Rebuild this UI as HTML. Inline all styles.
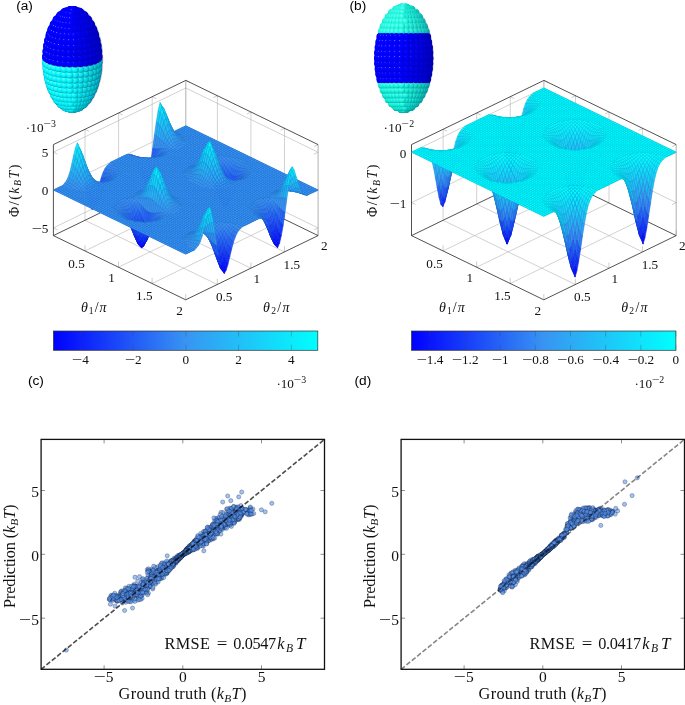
<!DOCTYPE html>
<html lang="en"><head><meta charset="utf-8"><title>Figure</title>
<style>
html,body{margin:0;padding:0;background:#fff}
svg{display:block}
text{font-family:"Liberation Serif","DejaVu Serif",serif;fill:#111}
.t text{font-size:13.2px}
.t .l{font-size:14px}
.u text{font-size:15.5px}
.v text{font-size:16.3px}
.s text{font-family:"Liberation Sans","DejaVu Sans",sans-serif;font-size:13.7px;fill:#000}
.i{font-style:italic}
.sb{fill:url(#gb)}
.sg{fill:url(#gg)}
.sd{fill:url(#gd)}
.se{fill:url(#ge)}
.sc{fill:url(#gc)}
circle{r:3.7px}
.p circle{r:2.1px;fill:#5b96f0;fill-opacity:.58;stroke:#071430;stroke-opacity:.8;stroke-width:.36}
.m path{stroke-width:.6;stroke-linejoin:round}
.m .ff{fill:none;stroke-width:0.01056;stroke-dasharray:0.01056 0.00333;stroke-linejoin:miter}
.m .fg{fill:none;stroke-width:0.01444;stroke-linejoin:miter}
.pa .ff{stroke:#3894f2;transform:matrix(132.3,64.2,132.4,-64.2,53.4,190.02)}
.pb .ff{stroke:#0ff;transform:matrix(132.3,64.2,132.4,-64.2,411.5,152.18)}
.pa .fg{stroke:#2474d3;transform:matrix(132.3,64.2,132.4,-64.2,53.4,190.02)}
.pb .fg{stroke:#00c9df;transform:matrix(132.3,64.2,132.4,-64.2,411.5,152.18)}
.pa .b{fill:#0206fe;stroke:#0104de}
.pa .c{fill:#040cfe;stroke:#0209de}
.pa .d{fill:#0711fd;stroke:#040ddd}
.pa .e{fill:#0917fd;stroke:#0512dd}
.pa .g{fill:#0b1dfc;stroke:#0716dc}
.pa .i{fill:#0f29fb;stroke:#0920db}
.pa .j{fill:#122efb;stroke:#0b24db}
.pa .k{fill:#1434fa;stroke:#0d29da}
.pa .l{fill:#163afa;stroke:#0e2dda}
.pa .m{fill:#1840f9;stroke:#0f32d9}
.pa .n{fill:#1a46f9;stroke:#1137d9}
.pa .o{fill:#1d4bf8;stroke:#133bd9}
.pa .p{fill:#1f51f8;stroke:#143fd9}
.pa .q{fill:#2157f7;stroke:#1544d8}
.pa .r{fill:#235df7;stroke:#1749d8}
.pa .s{fill:#2563f6;stroke:#184ed7}
.pa .t{fill:#2868f6;stroke:#1a52d7}
.pa .u{fill:#2a6ef5;stroke:#1b56d6}
.pa .v{fill:#2c74f5;stroke:#1d5bd6}
.pa .w{fill:#2e7af4;stroke:#1e60d5}
.pa .x{fill:#3080f4;stroke:#1f65d5}
.pa .y{fill:#3385f3;stroke:#2169d4}
.pa .z{fill:#358bf3;stroke:#226dd4}
.pa .A{fill:#3791f2;stroke:#2472d3}
.pa .B{fill:#3796f2;stroke:#2476d3}
.pa .C{fill:#359af3;stroke:#2279d4}
.pa .D{fill:#339ef3;stroke:#217cd4}
.pa .E{fill:#30a3f4;stroke:#1f80d5}
.pa .F{fill:#2ea7f4;stroke:#1e83d5}
.pa .G{fill:#2cabf5;stroke:#1d87d6}
.pa .H{fill:#2aaff5;stroke:#1b8ad6}
.pa .I{fill:#28b3f6;stroke:#1a8dd7}
.pa .J{fill:#25b8f6;stroke:#1891d7}
.pa .K{fill:#23bcf7;stroke:#1794d8}
.pa .M{fill:#1fc4f8;stroke:#149ad9}
.pa .N{fill:#1dc8f8;stroke:#139ed9}
.pa .O{fill:#1acdf9;stroke:#11a1d9}
.pa .P{fill:#18d1f9;stroke:#0fa5d9}
.pa .Q{fill:#16d5fa;stroke:#0ea8da}
.pa .R{fill:#14d9fa;stroke:#0dabda}
.pa .S{fill:#12ddfb;stroke:#0baedb}
.pa .T{fill:#0fe2fb;stroke:#09b2db}
.pa .U{fill:#0de6fc;stroke:#08b5dc}
.pa .V{fill:#0beafc;stroke:#07b8dc}
.pa .W{fill:#09eefd;stroke:#05bcdd}
.pb .d{fill:#0711fd;stroke:#040ddd}
.pb .j{fill:#122efb;stroke:#0b24db}
.pb .m{fill:#1840f9;stroke:#0f32d9}
.pb .n{fill:#1a46f9;stroke:#1137d9}
.pb .p{fill:#1f51f8;stroke:#143fd9}
.pb .q{fill:#2157f7;stroke:#1544d8}
.pb .s{fill:#2563f6;stroke:#184ed7}
.pb .x{fill:#3080f4;stroke:#1f65d5}
.pb .z{fill:#358bf3;stroke:#226dd4}
.pb .C{fill:#359af3;stroke:#2279d4}
.pb .D{fill:#339ef3;stroke:#217cd4}
.pb .E{fill:#30a3f4;stroke:#1f80d5}
.pb .F{fill:#2ea7f4;stroke:#1e83d5}
.pb .G{fill:#2cabf5;stroke:#1d87d6}
.pb .H{fill:#2aaff5;stroke:#1b8ad6}
.pb .I{fill:#28b3f6;stroke:#1a8dd7}
.pb .J{fill:#25b8f6;stroke:#1891d7}
.pb .L{fill:#21c0f7;stroke:#1597d8}
.pb .M{fill:#1fc4f8;stroke:#149ad9}
.pb .O{fill:#1acdf9;stroke:#11a1d9}
.pb .P{fill:#18d1f9;stroke:#0fa5d9}
.pb .Q{fill:#16d5fa;stroke:#0ea8da}
.pb .R{fill:#14d9fa;stroke:#0dabda}
.pb .S{fill:#12ddfb;stroke:#0baedb}
.pb .T{fill:#0fe2fb;stroke:#09b2db}
.pb .U{fill:#0de6fc;stroke:#08b5dc}
.pb .V{fill:#0beafc;stroke:#07b8dc}
.pb .W{fill:#09eefd;stroke:#05bcdd}
.pb .X{fill:#07f2fd;stroke:#04bfdd}
.pb .Y{fill:#04f7fe;stroke:#02c3de}
.pb .Z{fill:#02fbfe;stroke:#01c6de}
.pb ._{fill:#0ff;stroke:#00c9df}
</style></head>
<body>
<svg width="685" height="705" viewBox="0 0 685 705">
<defs><radialGradient id="gd" cx=".38" cy=".36" r=".62" fx=".3" fy=".28">
<stop offset="0" stop-color="#0808ff"/><stop offset=".6" stop-color="#0000fb"/><stop offset="1" stop-color="#0000d6"/></radialGradient>
<radialGradient id="ge" cx=".38" cy=".36" r=".62" fx=".3" fy=".28">
<stop offset="0" stop-color="#4040ff"/><stop offset=".1" stop-color="#1515ff"/><stop offset=".2" stop-color="#0303ff"/><stop offset=".6" stop-color="#0000fb"/><stop offset="1" stop-color="#0000d6"/></radialGradient>
<radialGradient id="gb" cx=".38" cy=".36" r=".62" fx=".3" fy=".28">
<stop offset="0" stop-color="#7878ff"/><stop offset=".1" stop-color="#2a2aff"/><stop offset=".2" stop-color="#0505ff"/><stop offset=".6" stop-color="#0000fb"/><stop offset="1" stop-color="#0000d6"/></radialGradient>
<radialGradient id="gg" cx=".42" cy=".38" r=".64" fx=".38" fy=".3">
<stop offset="0" stop-color="#70fff0"/><stop offset=".4" stop-color="#2efce2"/><stop offset=".75" stop-color="#10e4d0"/><stop offset="1" stop-color="#00b0aa"/></radialGradient>
<radialGradient id="gc" cx=".42" cy=".4" r=".62" fx=".36" fy=".33">
<stop offset="0" stop-color="#6affff"/><stop offset=".4" stop-color="#14fbfd"/><stop offset=".75" stop-color="#00e2ea"/><stop offset="1" stop-color="#00a4b4"/></radialGradient>
<linearGradient id="sh"><stop offset=".5" stop-color="#000030" stop-opacity="0"/><stop offset="1" stop-color="#000030" stop-opacity=".26"/></linearGradient>
<linearGradient id="ga"><stop offset="0" stop-color="#00f"/><stop offset=".5" stop-color="#3894f2"/><stop offset="1" stop-color="#0ff"/></linearGradient>
<linearGradient id="gb2"><stop offset="0" stop-color="#00f"/><stop offset=".5" stop-color="#3894f2"/><stop offset="1" stop-color="#0ff"/></linearGradient></defs>
<rect width="685" height="705" fill="#fff"/>
<g>
<ellipse cx="72.3" cy="59.5" rx="29.9" ry="53.3" fill="#0000e6"/>
<path d="M102.2 60A29.9 53.3 0 0 0 42.4 60z" fill="#00d8e4"/>
<ellipse cx="403.7" cy="58.2" rx="29.2" ry="54.1" fill="#14dccc"/>
<path d="M429.9 34.2A29.2 54.1 0 0 1 429.4 84L378 84A29.2 54.1 0 0 1 377.5 34.2z" fill="#0000e6"/>
<circle class="sc" cx="70.4" cy="109.1"/>
<circle class="sc" cx="74.2" cy="109.1"/>
<circle class="sc" cx="70.9" cy="109.2"/>
<circle class="sc" cx="73.7" cy="109.2"/>
<circle class="sc" cx="73.2" cy="109.3"/>
<circle class="sc" cx="71.4" cy="109.3"/>
<circle class="sc" cx="72" cy="109.3"/>
<circle class="sc" cx="72.6" cy="109.3"/>
<circle class="sc" cx="79.7" cy="107.4"/>
<circle class="sc" cx="64.9" cy="107.4"/>
<circle class="sc" cx="60.1" cy="103.8"/>
<circle class="sc" cx="84.5" cy="103.8"/>
<circle class="sc" cx="78.8" cy="107.8"/>
<circle class="sc" cx="65.8" cy="107.8"/>
<circle class="sc" cx="93.6" cy="89.1"/>
<circle class="sc" cx="51" cy="89.1"/>
<circle class="sc" cx="56.6" cy="99.7"/>
<circle class="sc" cx="88" cy="99.7"/>
<circle class="sc" cx="66.9" cy="108.1"/>
<circle class="sc" cx="77.7" cy="108.1"/>
<circle class="sc" cx="83.7" cy="104.4"/>
<circle class="sc" cx="60.9" cy="104.4"/>
<circle class="sc" cx="95.4" cy="83.9"/>
<circle class="sc" cx="49.2" cy="83.9"/>
<circle class="sc" cx="68.3" cy="108.4"/>
<circle class="sc" cx="76.3" cy="108.4"/>
<circle class="sc" cx="53.7" cy="95.1"/>
<circle class="sc" cx="90.9" cy="95.1"/>
<circle class="sc" cx="74.8" cy="108.6"/>
<circle class="sc" cx="69.8" cy="108.6"/>
<circle class="sc" cx="73.1" cy="108.7"/>
<circle class="sc" cx="71.5" cy="108.7"/>
<circle class="sc" cx="96.8" cy="78.6"/>
<circle class="sc" cx="47.8" cy="78.6"/>
<circle class="sc" cx="82.4" cy="105"/>
<circle class="sc" cx="62.2" cy="105"/>
<circle class="sc" cx="87" cy="100.6"/>
<circle class="sc" cx="57.6" cy="100.6"/>
<circle class="sc" cx="51.5" cy="90.3"/>
<circle class="sc" cx="93.1" cy="90.3"/>
<circle class="sc" cx="97.9" cy="73.2"/>
<circle class="sc" cx="46.7" cy="73.2"/>
<circle class="sc" cx="63.9" cy="105.5"/>
<circle class="sc" cx="80.7" cy="105.5"/>
<circle class="sc" cx="98.5" cy="67.7"/>
<circle class="sc" cx="46.1" cy="67.7"/>
<circle class="sc" cx="89.6" cy="96.1"/>
<circle class="sc" cx="55" cy="96.1"/>
<circle class="sc" cx="49.7" cy="85.2"/>
<circle class="sc" cx="94.9" cy="85.2"/>
<circle class="sc" cx="85.3" cy="101.3"/>
<circle class="sc" cx="59.3" cy="101.3"/>
<circle class="sc" cx="66.1" cy="106"/>
<circle class="sc" cx="78.5" cy="106"/>
<circle class="sc" cx="98.9" cy="62.2"/>
<circle class="sc" cx="45.7" cy="62.2"/>
<circle class="sc" cx="76.2" cy="106.2"/>
<circle class="sc" cx="68.4" cy="106.2"/>
<circle class="sc" cx="48.3" cy="79.9"/>
<circle class="sc" cx="96.3" cy="79.9"/>
<circle class="sc" cx="71" cy="106.4"/>
<circle class="sc" cx="73.6" cy="106.4"/>
<circle class="sc" cx="91.8" cy="91.4"/>
<circle class="sc" cx="52.8" cy="91.4"/>
<circle class="sc" cx="61.5" cy="102"/>
<circle class="sc" cx="83.1" cy="102"/>
<circle class="sd" cx="98.9" cy="56.8"/>
<circle class="sb" cx="45.7" cy="56.8"/>
<circle class="sc" cx="87.6" cy="97.1"/>
<circle class="sc" cx="57" cy="97.1"/>
<circle class="sc" cx="47.3" cy="74.6"/>
<circle class="sc" cx="97.3" cy="74.6"/>
<circle class="sd" cx="94.9" cy="33.8"/>
<circle class="sb" cx="49.7" cy="33.8"/>
<circle class="sd" cx="98.5" cy="51.3"/>
<circle class="sb" cx="46.1" cy="51.3"/>
<circle class="sc" cx="93.4" cy="86.4"/>
<circle class="sc" cx="51.2" cy="86.4"/>
<circle class="sc" cx="64.3" cy="102.5"/>
<circle class="sc" cx="80.3" cy="102.5"/>
<circle class="sc" cx="46.6" cy="69.2"/>
<circle class="sc" cx="98" cy="69.2"/>
<circle class="sd" cx="97.9" cy="45.8"/>
<circle class="sb" cx="46.7" cy="45.8"/>
<circle class="sc" cx="77.3" cy="102.9"/>
<circle class="sc" cx="67.3" cy="102.9"/>
<circle class="sc" cx="89.5" cy="92.4"/>
<circle class="sc" cx="55.1" cy="92.4"/>
<circle class="sd" cx="93.1" cy="28.7"/>
<circle class="sb" cx="51.5" cy="28.7"/>
<circle class="sc" cx="59.6" cy="97.9"/>
<circle class="sc" cx="85" cy="97.9"/>
<circle class="sc" cx="94.7" cy="81.2"/>
<circle class="sc" cx="49.9" cy="81.2"/>
<circle class="sc" cx="74" cy="103.1"/>
<circle class="sc" cx="70.6" cy="103.1"/>
<circle class="sc" cx="46.3" cy="63.7"/>
<circle class="sc" cx="98.3" cy="63.7"/>
<circle class="sd" cx="96.8" cy="40.4"/>
<circle class="sb" cx="47.8" cy="40.4"/>
<circle class="sd" cx="90.9" cy="23.9"/>
<circle class="sb" cx="53.7" cy="23.9"/>
<circle class="sb" cx="46.3" cy="58.2"/>
<circle class="sd" cx="98.3" cy="58.2"/>
<circle class="sc" cx="95.6" cy="75.9"/>
<circle class="sc" cx="49" cy="75.9"/>
<circle class="sc" cx="62.8" cy="98.5"/>
<circle class="sc" cx="81.8" cy="98.5"/>
<circle class="sc" cx="91" cy="87.5"/>
<circle class="sc" cx="53.6" cy="87.5"/>
<circle class="sd" cx="95.4" cy="35.1"/>
<circle class="sb" cx="49.2" cy="35.1"/>
<circle class="sc" cx="58.1" cy="93.3"/>
<circle class="sc" cx="86.5" cy="93.3"/>
<circle class="sd" cx="83.7" cy="14.6"/>
<circle class="sb" cx="60.9" cy="14.6"/>
<circle class="sb" cx="46.6" cy="52.7"/>
<circle class="sd" cx="98" cy="52.7"/>
<circle class="sd" cx="88" cy="19.3"/>
<circle class="sb" cx="56.6" cy="19.3"/>
<circle class="sc" cx="78.2" cy="98.9"/>
<circle class="sc" cx="66.4" cy="98.9"/>
<circle class="sc" cx="96.3" cy="70.6"/>
<circle class="sc" cx="48.3" cy="70.6"/>
<circle class="sd" cx="93.6" cy="29.9"/>
<circle class="sb" cx="51" cy="29.9"/>
<circle class="sd" cx="78.8" cy="11.2"/>
<circle class="sb" cx="65.8" cy="11.2"/>
<circle class="sc" cx="70.3" cy="99.1"/>
<circle class="sc" cx="74.3" cy="99.1"/>
<circle class="sc" cx="92.1" cy="82.4"/>
<circle class="sc" cx="52.5" cy="82.4"/>
<circle class="sb" cx="47.3" cy="47.3"/>
<circle class="sd" cx="97.3" cy="47.3"/>
<circle class="sc" cx="61.7" cy="94"/>
<circle class="sc" cx="82.9" cy="94"/>
<circle class="sd" cx="84.5" cy="15.2"/>
<circle class="sb" cx="60.1" cy="15.2"/>
<circle class="sd" cx="91.3" cy="24.9"/>
<circle class="sb" cx="53.3" cy="24.9"/>
<circle class="sc" cx="96.6" cy="65.1"/>
<circle class="sc" cx="48" cy="65.1"/>
<circle class="sc" cx="56.8" cy="88.5"/>
<circle class="sc" cx="87.8" cy="88.5"/>
<circle class="sd" cx="79.7" cy="11.6"/>
<circle class="sb" cx="64.9" cy="11.6"/>
<circle class="sb" cx="48.3" cy="41.8"/>
<circle class="sd" cx="96.3" cy="41.8"/>
<circle class="sc" cx="93" cy="77.2"/>
<circle class="sc" cx="51.6" cy="77.2"/>
<circle class="se" cx="72" cy="9.7"/>
<circle class="se" cx="72.6" cy="9.7"/>
<circle class="sd" cx="88.4" cy="20.2"/>
<circle class="sb" cx="56.2" cy="20.2"/>
<circle class="se" cx="73.2" cy="9.7"/>
<circle class="sb" cx="71.4" cy="9.7"/>
<circle class="sd" cx="96.6" cy="59.6"/>
<circle class="sb" cx="48" cy="59.6"/>
<circle class="sb" cx="70.9" cy="9.8"/>
<circle class="se" cx="73.7" cy="9.8"/>
<circle class="sc" cx="78.9" cy="94.5"/>
<circle class="sc" cx="65.7" cy="94.5"/>
<circle class="sb" cx="49.7" cy="36.4"/>
<circle class="sd" cx="94.9" cy="36.4"/>
<circle class="sd" cx="80.2" cy="12"/>
<circle class="sb" cx="64.4" cy="12"/>
<circle class="sb" cx="70.4" cy="9.9"/>
<circle class="se" cx="74.2" cy="9.9"/>
<circle class="sb" cx="70" cy="10"/>
<circle class="se" cx="74.6" cy="10"/>
<circle class="sd" cx="84.8" cy="15.9"/>
<circle class="sb" cx="59.8" cy="15.9"/>
<circle class="sc" cx="70.1" cy="94.7"/>
<circle class="sc" cx="74.5" cy="94.7"/>
<circle class="sc" cx="55.9" cy="83.4"/>
<circle class="sc" cx="88.7" cy="83.4"/>
<circle class="sb" cx="51.5" cy="31.1"/>
<circle class="sd" cx="93.1" cy="31.1"/>
<circle class="se" cx="74.9" cy="10.1"/>
<circle class="sb" cx="69.7" cy="10.1"/>
<circle class="sc" cx="60.7" cy="89.2"/>
<circle class="sc" cx="83.9" cy="89.2"/>
<circle class="sd" cx="96.3" cy="54.1"/>
<circle class="sb" cx="48.3" cy="54.1"/>
<circle class="sc" cx="93.5" cy="71.8"/>
<circle class="sc" cx="51.1" cy="71.8"/>
<circle class="sd" cx="80.4" cy="12.5"/>
<circle class="sb" cx="64.2" cy="12.5"/>
<circle class="se" cx="75.1" cy="10.3"/>
<circle class="sb" cx="69.5" cy="10.3"/>
<circle class="sb" cx="53.7" cy="26"/>
<circle class="sd" cx="90.9" cy="26"/>
<circle class="sb" cx="69.5" cy="10.4"/>
<circle class="se" cx="75.1" cy="10.4"/>
<circle class="sd" cx="95.6" cy="48.6"/>
<circle class="sb" cx="49" cy="48.6"/>
<circle class="sb" cx="56.6" cy="21.1"/>
<circle class="sd" cx="88" cy="21.1"/>
<circle class="sb" cx="69.5" cy="10.6"/>
<circle class="se" cx="75.1" cy="10.6"/>
<circle class="sc" cx="93.8" cy="66.4"/>
<circle class="sc" cx="50.8" cy="66.4"/>
<circle class="sc" cx="79.4" cy="89.8"/>
<circle class="sc" cx="65.2" cy="89.8"/>
<circle class="sc" cx="55.2" cy="78.2"/>
<circle class="sc" cx="89.4" cy="78.2"/>
<circle class="sb" cx="60.1" cy="16.6"/>
<circle class="sd" cx="84.5" cy="16.6"/>
<circle class="sb" cx="64.4" cy="12.9"/>
<circle class="sd" cx="80.2" cy="12.9"/>
<circle class="se" cx="74.9" cy="10.7"/>
<circle class="sb" cx="69.7" cy="10.7"/>
<circle class="sd" cx="94.7" cy="43.1"/>
<circle class="sb" cx="49.9" cy="43.1"/>
<circle class="sc" cx="60" cy="84.2"/>
<circle class="sc" cx="84.6" cy="84.2"/>
<circle class="sb" cx="70" cy="10.9"/>
<circle class="se" cx="74.6" cy="10.9"/>
<circle class="sc" cx="74.7" cy="90"/>
<circle class="sc" cx="69.9" cy="90"/>
<circle class="sb" cx="70.4" cy="11"/>
<circle class="se" cx="74.2" cy="11"/>
<circle class="sd" cx="93.8" cy="60.9"/>
<circle class="sb" cx="50.8" cy="60.9"/>
<circle class="sd" cx="93.4" cy="37.6"/>
<circle class="sb" cx="51.2" cy="37.6"/>
<circle class="sb" cx="70.9" cy="11.1"/>
<circle class="sb" cx="73.7" cy="11.1"/>
<circle class="sb" cx="71.4" cy="11.2"/>
<circle class="sb" cx="73.2" cy="11.2"/>
<circle class="se" cx="79.7" cy="13.4"/>
<circle class="sb" cx="64.9" cy="13.4"/>
<circle class="sb" cx="72" cy="11.2"/>
<circle class="sb" cx="72.6" cy="11.2"/>
<circle class="sc" cx="54.7" cy="72.9"/>
<circle class="sc" cx="89.9" cy="72.9"/>
<circle class="sd" cx="91.8" cy="32.2"/>
<circle class="sb" cx="52.8" cy="32.2"/>
<circle class="sd" cx="83.7" cy="17.3"/>
<circle class="sb" cx="60.9" cy="17.3"/>
<circle class="sd" cx="89.6" cy="27"/>
<circle class="sb" cx="55" cy="27"/>
<circle class="sd" cx="93.5" cy="55.4"/>
<circle class="sb" cx="51.1" cy="55.4"/>
<circle class="sc" cx="79.9" cy="84.8"/>
<circle class="sc" cx="64.7" cy="84.8"/>
<circle class="sd" cx="87" cy="21.9"/>
<circle class="sb" cx="57.6" cy="21.9"/>
<circle class="sc" cx="59.5" cy="79.1"/>
<circle class="sc" cx="85.1" cy="79.1"/>
<circle class="sb" cx="65.8" cy="13.8"/>
<circle class="se" cx="78.8" cy="13.8"/>
<circle class="sc" cx="74.9" cy="85.1"/>
<circle class="sc" cx="69.7" cy="85.1"/>
<circle class="sc" cx="54.5" cy="67.5"/>
<circle class="sc" cx="90.1" cy="67.5"/>
<circle class="sd" cx="93" cy="49.8"/>
<circle class="sb" cx="51.6" cy="49.8"/>
<circle class="sb" cx="66.9" cy="14.1"/>
<circle class="se" cx="77.7" cy="14.1"/>
<circle class="sd" cx="82.4" cy="17.9"/>
<circle class="sb" cx="62.2" cy="17.9"/>
<circle class="sd" cx="92.1" cy="44.3"/>
<circle class="sb" cx="52.5" cy="44.3"/>
<circle class="sc" cx="59.2" cy="73.8"/>
<circle class="sc" cx="85.4" cy="73.8"/>
<circle class="sc" cx="80.2" cy="79.7"/>
<circle class="sc" cx="64.4" cy="79.7"/>
<circle class="sb" cx="68.3" cy="14.4"/>
<circle class="se" cx="76.3" cy="14.4"/>
<circle class="sb" cx="54.5" cy="62"/>
<circle class="sd" cx="90.1" cy="62"/>
<circle class="sd" cx="91" cy="38.8"/>
<circle class="sb" cx="53.6" cy="38.8"/>
<circle class="sd" cx="85.3" cy="22.7"/>
<circle class="sb" cx="59.3" cy="22.7"/>
<circle class="sd" cx="89.5" cy="33.3"/>
<circle class="sb" cx="55.1" cy="33.3"/>
<circle class="sd" cx="87.6" cy="27.9"/>
<circle class="sb" cx="57" cy="27.9"/>
<circle class="sb" cx="69.8" cy="14.5"/>
<circle class="sb" cx="74.8" cy="14.5"/>
<circle class="sc" cx="75" cy="80"/>
<circle class="sc" cx="69.6" cy="80"/>
<circle class="sb" cx="73.1" cy="14.6"/>
<circle class="sb" cx="71.5" cy="14.6"/>
<circle class="sb" cx="63.9" cy="18.4"/>
<circle class="se" cx="80.7" cy="18.4"/>
<circle class="sb" cx="54.7" cy="56.5"/>
<circle class="sd" cx="89.9" cy="56.5"/>
<circle class="sc" cx="59" cy="68.4"/>
<circle class="sc" cx="85.6" cy="68.4"/>
<circle class="sc" cx="64.2" cy="74.4"/>
<circle class="sc" cx="80.4" cy="74.4"/>
<circle class="sb" cx="55.2" cy="50.9"/>
<circle class="sd" cx="89.4" cy="50.9"/>
<circle class="sb" cx="61.5" cy="23.4"/>
<circle class="sd" cx="83.1" cy="23.4"/>
<circle class="sb" cx="66.1" cy="18.8"/>
<circle class="se" cx="78.5" cy="18.8"/>
<circle class="sc" cx="75" cy="74.7"/>
<circle class="sc" cx="69.6" cy="74.7"/>
<circle class="sb" cx="55.9" cy="45.3"/>
<circle class="sd" cx="88.7" cy="45.3"/>
<circle class="sb" cx="59" cy="62.9"/>
<circle class="sd" cx="85.6" cy="62.9"/>
<circle class="sb" cx="59.6" cy="28.7"/>
<circle class="sd" cx="85" cy="28.7"/>
<circle class="sb" cx="56.8" cy="39.7"/>
<circle class="sd" cx="87.8" cy="39.7"/>
<circle class="sb" cx="58.1" cy="34.2"/>
<circle class="sd" cx="86.5" cy="34.2"/>
<circle class="sb" cx="68.4" cy="19.1"/>
<circle class="sb" cx="76.2" cy="19.1"/>
<circle class="sc" cx="80.5" cy="69"/>
<circle class="sc" cx="64.1" cy="69"/>
<circle class="sb" cx="73.6" cy="19.3"/>
<circle class="sb" cx="71" cy="19.3"/>
<circle class="sb" cx="59.2" cy="57.3"/>
<circle class="sd" cx="85.4" cy="57.3"/>
<circle class="sb" cx="64.3" cy="23.9"/>
<circle class="se" cx="80.3" cy="23.9"/>
<circle class="sc" cx="69.5" cy="69.3"/>
<circle class="sc" cx="75.1" cy="69.3"/>
<circle class="se" cx="80.5" cy="63.5"/>
<circle class="sb" cx="64.1" cy="63.5"/>
<circle class="sb" cx="59.5" cy="51.7"/>
<circle class="sd" cx="85.1" cy="51.7"/>
<circle class="sb" cx="62.8" cy="29.3"/>
<circle class="se" cx="81.8" cy="29.3"/>
<circle class="se" cx="77.3" cy="24.3"/>
<circle class="sb" cx="67.3" cy="24.3"/>
<circle class="sb" cx="60" cy="46.1"/>
<circle class="sd" cx="84.6" cy="46.1"/>
<circle class="sb" cx="61.7" cy="34.9"/>
<circle class="se" cx="82.9" cy="34.9"/>
<circle class="sb" cx="60.7" cy="40.5"/>
<circle class="se" cx="83.9" cy="40.5"/>
<circle class="sb" cx="69.5" cy="63.8"/>
<circle class="se" cx="75.1" cy="63.8"/>
<circle class="sb" cx="74" cy="24.5"/>
<circle class="sb" cx="70.6" cy="24.5"/>
<circle class="sb" cx="64.2" cy="57.9"/>
<circle class="se" cx="80.4" cy="57.9"/>
<circle class="sb" cx="66.4" cy="29.7"/>
<circle class="se" cx="78.2" cy="29.7"/>
<circle class="sb" cx="64.4" cy="52.3"/>
<circle class="se" cx="80.2" cy="52.3"/>
<circle class="se" cx="75" cy="58.2"/>
<circle class="sb" cx="69.6" cy="58.2"/>
<circle class="se" cx="78.9" cy="35.3"/>
<circle class="sb" cx="65.7" cy="35.3"/>
<circle class="se" cx="79.9" cy="46.7"/>
<circle class="sb" cx="64.7" cy="46.7"/>
<circle class="sb" cx="74.3" cy="30"/>
<circle class="sb" cx="70.3" cy="30"/>
<circle class="se" cx="79.4" cy="41"/>
<circle class="sb" cx="65.2" cy="41"/>
<circle class="sb" cx="75" cy="52.6"/>
<circle class="sb" cx="69.6" cy="52.6"/>
<circle class="sb" cx="70.1" cy="35.6"/>
<circle class="sb" cx="74.5" cy="35.6"/>
<circle class="sb" cx="74.9" cy="47"/>
<circle class="sb" cx="69.7" cy="47"/>
<circle class="sb" cx="69.9" cy="41.3"/>
<circle class="sb" cx="74.7" cy="41.3"/>
<circle class="sg" cx="411.2" cy="106.9"/>
<circle class="sg" cx="396.2" cy="106.9"/>
<circle class="sg" cx="411.2" cy="9.5"/>
<circle class="sg" cx="396.2" cy="9.5"/>
<circle class="sg" cx="405.9" cy="108.9"/>
<circle class="sg" cx="405.9" cy="7.5"/>
<circle class="sg" cx="401.5" cy="108.9"/>
<circle class="sg" cx="401.5" cy="7.5"/>
<circle class="sg" cx="406.1" cy="108.9"/>
<circle class="sg" cx="406.1" cy="7.5"/>
<circle class="sg" cx="401.3" cy="108.9"/>
<circle class="sg" cx="401.3" cy="7.5"/>
<circle class="sg" cx="406.3" cy="108.9"/>
<circle class="sg" cx="406.3" cy="7.5"/>
<circle class="sg" cx="401.1" cy="108.9"/>
<circle class="sg" cx="401.1" cy="7.5"/>
<circle class="sd" cx="429.7" cy="58.2"/>
<circle class="sd" cx="429.6" cy="63.6"/>
<circle class="sd" cx="429.6" cy="52.8"/>
<circle class="sd" cx="429.1" cy="69"/>
<circle class="sd" cx="429.1" cy="47.4"/>
<circle class="sd" cx="428.4" cy="74.3"/>
<circle class="sd" cx="428.4" cy="42.1"/>
<circle class="sd" cx="427.3" cy="79.6"/>
<circle class="sd" cx="427.3" cy="36.8"/>
<circle class="sg" cx="425.9" cy="84.8"/>
<circle class="sg" cx="425.9" cy="31.6"/>
<circle class="sg" cx="424.1" cy="89.9"/>
<circle class="sg" cx="424.1" cy="26.5"/>
<circle class="sg" cx="421.8" cy="94.8"/>
<circle class="sg" cx="421.8" cy="21.6"/>
<circle class="sg" cx="419" cy="99.4"/>
<circle class="sg" cx="419" cy="17"/>
<circle class="sg" cx="415.6" cy="103.6"/>
<circle class="sg" cx="415.6" cy="12.8"/>
<circle class="sg" cx="411.4" cy="106.9"/>
<circle class="sg" cx="411.4" cy="9.5"/>
<circle class="sg" cx="406.4" cy="108.9"/>
<circle class="sg" cx="406.4" cy="7.5"/>
<circle class="sg" cx="401" cy="108.9"/>
<circle class="sg" cx="401" cy="7.5"/>
<circle class="sg" cx="396" cy="9.5"/>
<circle class="sg" cx="396" cy="106.9"/>
<circle class="sg" cx="391.8" cy="12.8"/>
<circle class="sg" cx="391.8" cy="103.6"/>
<circle class="sg" cx="388.4" cy="17"/>
<circle class="sg" cx="388.4" cy="99.4"/>
<circle class="sg" cx="385.6" cy="21.6"/>
<circle class="sg" cx="385.6" cy="94.8"/>
<circle class="sg" cx="383.3" cy="26.5"/>
<circle class="sg" cx="383.3" cy="89.9"/>
<circle class="sg" cx="381.5" cy="31.6"/>
<circle class="sg" cx="381.5" cy="84.8"/>
<circle class="sb" cx="380.1" cy="36.8"/>
<circle class="sb" cx="380.1" cy="79.6"/>
<circle class="sb" cx="379" cy="42.1"/>
<circle class="sb" cx="379" cy="74.3"/>
<circle class="sb" cx="378.3" cy="47.4"/>
<circle class="sb" cx="378.3" cy="69"/>
<circle class="sb" cx="377.8" cy="63.6"/>
<circle class="sb" cx="377.8" cy="52.8"/>
<circle class="sb" cx="377.7" cy="58.2"/>
<circle class="sg" cx="401.1" cy="108.9"/>
<circle class="sg" cx="401.1" cy="7.5"/>
<circle class="sg" cx="406.3" cy="108.9"/>
<circle class="sg" cx="406.3" cy="7.5"/>
<circle class="sg" cx="406.1" cy="108.9"/>
<circle class="sg" cx="406.1" cy="7.5"/>
<circle class="sg" cx="401.3" cy="108.9"/>
<circle class="sg" cx="401.3" cy="7.5"/>
<circle class="sg" cx="405.9" cy="108.9"/>
<circle class="sg" cx="405.9" cy="7.5"/>
<circle class="sg" cx="401.5" cy="108.9"/>
<circle class="sg" cx="401.5" cy="7.5"/>
<circle class="sg" cx="396.2" cy="9.5"/>
<circle class="sg" cx="411.2" cy="9.5"/>
<circle class="sg" cx="396.2" cy="106.9"/>
<circle class="sg" cx="411.2" cy="106.9"/>
<circle class="sg" cx="401.9" cy="108.9"/>
<circle class="sg" cx="405.5" cy="108.9"/>
<circle class="sg" cx="401.9" cy="7.5"/>
<circle class="sg" cx="405.5" cy="7.5"/>
<circle class="sg" cx="402.4" cy="108.9"/>
<circle class="sg" cx="405" cy="108.9"/>
<circle class="sg" cx="402.4" cy="7.5"/>
<circle class="sg" cx="405" cy="7.5"/>
<circle class="sg" cx="392.1" cy="12.8"/>
<circle class="sg" cx="415.3" cy="12.8"/>
<circle class="sg" cx="392.1" cy="103.6"/>
<circle class="sg" cx="415.3" cy="103.6"/>
<circle class="sg" cx="404.5" cy="108.9"/>
<circle class="sg" cx="404.5" cy="7.5"/>
<circle class="sg" cx="402.9" cy="108.9"/>
<circle class="sg" cx="402.9" cy="7.5"/>
<circle class="sg" cx="404" cy="108.9"/>
<circle class="sg" cx="404" cy="7.5"/>
<circle class="sg" cx="403.4" cy="108.9"/>
<circle class="sg" cx="403.4" cy="7.5"/>
<circle class="sg" cx="410.7" cy="9.5"/>
<circle class="sg" cx="396.7" cy="9.5"/>
<circle class="sg" cx="410.7" cy="106.9"/>
<circle class="sg" cx="396.7" cy="106.9"/>
<circle class="sg" cx="388.7" cy="17"/>
<circle class="sg" cx="418.7" cy="17"/>
<circle class="sg" cx="388.7" cy="99.4"/>
<circle class="sg" cx="418.7" cy="99.4"/>
<circle class="sg" cx="386" cy="21.6"/>
<circle class="sg" cx="421.4" cy="21.6"/>
<circle class="sg" cx="386" cy="94.8"/>
<circle class="sg" cx="421.4" cy="94.8"/>
<circle class="sg" cx="383.8" cy="26.5"/>
<circle class="sg" cx="423.6" cy="26.5"/>
<circle class="sg" cx="383.8" cy="89.9"/>
<circle class="sg" cx="423.6" cy="89.9"/>
<circle class="sg" cx="409.9" cy="9.5"/>
<circle class="sg" cx="397.5" cy="9.5"/>
<circle class="sg" cx="409.9" cy="106.9"/>
<circle class="sg" cx="397.5" cy="106.9"/>
<circle class="sg" cx="382" cy="31.6"/>
<circle class="sg" cx="425.4" cy="31.6"/>
<circle class="sg" cx="382" cy="84.8"/>
<circle class="sg" cx="425.4" cy="84.8"/>
<circle class="sg" cx="414.5" cy="12.8"/>
<circle class="sg" cx="392.9" cy="12.8"/>
<circle class="sg" cx="414.5" cy="103.6"/>
<circle class="sg" cx="392.9" cy="103.6"/>
<circle class="sb" cx="380.6" cy="36.8"/>
<circle class="sd" cx="426.8" cy="36.8"/>
<circle class="sb" cx="380.6" cy="79.6"/>
<circle class="sd" cx="426.8" cy="79.6"/>
<circle class="sb" cx="379.6" cy="42.1"/>
<circle class="sd" cx="427.8" cy="42.1"/>
<circle class="sb" cx="379.6" cy="74.3"/>
<circle class="sd" cx="427.8" cy="74.3"/>
<circle class="sb" cx="378.8" cy="47.4"/>
<circle class="sb" cx="378.8" cy="69"/>
<circle class="sd" cx="428.6" cy="47.4"/>
<circle class="sd" cx="428.6" cy="69"/>
<circle class="sb" cx="378.4" cy="63.6"/>
<circle class="sb" cx="378.4" cy="52.8"/>
<circle class="sd" cx="429" cy="63.6"/>
<circle class="sd" cx="429" cy="52.8"/>
<circle class="sb" cx="378.3" cy="58.2"/>
<circle class="sd" cx="429.1" cy="58.2"/>
<circle class="sg" cx="398.6" cy="9.5"/>
<circle class="sg" cx="408.8" cy="9.5"/>
<circle class="sg" cx="398.6" cy="106.9"/>
<circle class="sg" cx="408.8" cy="106.9"/>
<circle class="sg" cx="417.7" cy="17"/>
<circle class="sg" cx="389.7" cy="17"/>
<circle class="sg" cx="417.7" cy="99.4"/>
<circle class="sg" cx="389.7" cy="99.4"/>
<circle class="sg" cx="399.9" cy="9.5"/>
<circle class="sg" cx="407.5" cy="9.5"/>
<circle class="sg" cx="399.9" cy="106.9"/>
<circle class="sg" cx="407.5" cy="106.9"/>
<circle class="sg" cx="413.3" cy="12.8"/>
<circle class="sg" cx="394.1" cy="12.8"/>
<circle class="sg" cx="413.3" cy="103.6"/>
<circle class="sg" cx="394.1" cy="103.6"/>
<circle class="sg" cx="406.1" cy="9.5"/>
<circle class="sg" cx="401.3" cy="9.5"/>
<circle class="sg" cx="406.1" cy="106.9"/>
<circle class="sg" cx="401.3" cy="106.9"/>
<circle class="sg" cx="420.2" cy="21.6"/>
<circle class="sg" cx="420.2" cy="94.8"/>
<circle class="sg" cx="387.2" cy="21.6"/>
<circle class="sg" cx="387.2" cy="94.8"/>
<circle class="sg" cx="404.5" cy="9.5"/>
<circle class="sg" cx="402.9" cy="9.5"/>
<circle class="sg" cx="402.9" cy="106.9"/>
<circle class="sg" cx="404.5" cy="106.9"/>
<circle class="sg" cx="422.3" cy="26.5"/>
<circle class="sg" cx="422.3" cy="89.9"/>
<circle class="sg" cx="385.1" cy="26.5"/>
<circle class="sg" cx="385.1" cy="89.9"/>
<circle class="sg" cx="395.8" cy="12.8"/>
<circle class="sg" cx="411.6" cy="12.8"/>
<circle class="sg" cx="395.8" cy="103.6"/>
<circle class="sg" cx="411.6" cy="103.6"/>
<circle class="sg" cx="416.1" cy="17"/>
<circle class="sg" cx="391.3" cy="17"/>
<circle class="sg" cx="416.1" cy="99.4"/>
<circle class="sg" cx="391.3" cy="99.4"/>
<circle class="sg" cx="424" cy="31.6"/>
<circle class="sg" cx="424" cy="84.8"/>
<circle class="sg" cx="383.4" cy="31.6"/>
<circle class="sg" cx="383.4" cy="84.8"/>
<circle class="sd" cx="425.3" cy="36.8"/>
<circle class="sd" cx="425.3" cy="79.6"/>
<circle class="sb" cx="382.1" cy="36.8"/>
<circle class="sb" cx="382.1" cy="79.6"/>
<circle class="sd" cx="426.2" cy="42.1"/>
<circle class="sd" cx="426.2" cy="74.3"/>
<circle class="sb" cx="381.2" cy="42.1"/>
<circle class="sb" cx="381.2" cy="74.3"/>
<circle class="sg" cx="397.8" cy="12.8"/>
<circle class="sg" cx="409.6" cy="12.8"/>
<circle class="sg" cx="397.8" cy="103.6"/>
<circle class="sg" cx="409.6" cy="103.6"/>
<circle class="sd" cx="426.9" cy="47.4"/>
<circle class="sd" cx="426.9" cy="69"/>
<circle class="sb" cx="380.5" cy="47.4"/>
<circle class="sb" cx="380.5" cy="69"/>
<circle class="sd" cx="427.3" cy="63.6"/>
<circle class="sd" cx="427.3" cy="52.8"/>
<circle class="sb" cx="380.1" cy="63.6"/>
<circle class="sb" cx="380.1" cy="52.8"/>
<circle class="sd" cx="427.5" cy="58.2"/>
<circle class="sb" cx="379.9" cy="58.2"/>
<circle class="sg" cx="418.3" cy="21.6"/>
<circle class="sg" cx="389.1" cy="21.6"/>
<circle class="sg" cx="418.3" cy="94.8"/>
<circle class="sg" cx="389.1" cy="94.8"/>
<circle class="sg" cx="407.4" cy="12.8"/>
<circle class="sg" cx="400" cy="12.8"/>
<circle class="sg" cx="400" cy="103.6"/>
<circle class="sg" cx="407.4" cy="103.6"/>
<circle class="sg" cx="393.5" cy="17"/>
<circle class="sg" cx="413.9" cy="17"/>
<circle class="sg" cx="393.5" cy="99.4"/>
<circle class="sg" cx="413.9" cy="99.4"/>
<circle class="sg" cx="404.9" cy="12.8"/>
<circle class="sg" cx="402.5" cy="12.8"/>
<circle class="sg" cx="404.9" cy="103.6"/>
<circle class="sg" cx="402.5" cy="103.6"/>
<circle class="sg" cx="420.2" cy="26.5"/>
<circle class="sg" cx="387.2" cy="26.5"/>
<circle class="sg" cx="420.2" cy="89.9"/>
<circle class="sg" cx="387.2" cy="89.9"/>
<circle class="sg" cx="421.6" cy="31.6"/>
<circle class="sg" cx="385.8" cy="31.6"/>
<circle class="sg" cx="421.6" cy="84.8"/>
<circle class="sg" cx="385.8" cy="84.8"/>
<circle class="sg" cx="396" cy="17"/>
<circle class="sg" cx="411.4" cy="17"/>
<circle class="sg" cx="396" cy="99.4"/>
<circle class="sg" cx="411.4" cy="99.4"/>
<circle class="sg" cx="391.6" cy="21.6"/>
<circle class="sg" cx="415.8" cy="21.6"/>
<circle class="sg" cx="391.6" cy="94.8"/>
<circle class="sg" cx="415.8" cy="94.8"/>
<circle class="sd" cx="422.8" cy="36.8"/>
<circle class="sb" cx="384.6" cy="36.8"/>
<circle class="sd" cx="422.8" cy="79.6"/>
<circle class="sb" cx="384.6" cy="79.6"/>
<circle class="sd" cx="423.7" cy="42.1"/>
<circle class="sb" cx="383.7" cy="42.1"/>
<circle class="sd" cx="423.7" cy="74.3"/>
<circle class="sb" cx="383.7" cy="74.3"/>
<circle class="sg" cx="408.4" cy="17"/>
<circle class="sg" cx="399" cy="17"/>
<circle class="sg" cx="408.4" cy="99.4"/>
<circle class="sg" cx="399" cy="99.4"/>
<circle class="sd" cx="424.3" cy="47.4"/>
<circle class="sd" cx="424.3" cy="69"/>
<circle class="sb" cx="383.1" cy="47.4"/>
<circle class="sb" cx="383.1" cy="69"/>
<circle class="sg" cx="390.1" cy="26.5"/>
<circle class="sg" cx="417.3" cy="26.5"/>
<circle class="sg" cx="390.1" cy="89.9"/>
<circle class="sg" cx="417.3" cy="89.9"/>
<circle class="sd" cx="424.6" cy="63.6"/>
<circle class="sd" cx="424.6" cy="52.8"/>
<circle class="sb" cx="382.8" cy="63.6"/>
<circle class="sb" cx="382.8" cy="52.8"/>
<circle class="sg" cx="405.3" cy="17"/>
<circle class="sg" cx="402.1" cy="17"/>
<circle class="sg" cx="405.3" cy="99.4"/>
<circle class="sg" cx="402.1" cy="99.4"/>
<circle class="sd" cx="424.7" cy="58.2"/>
<circle class="sb" cx="382.7" cy="58.2"/>
<circle class="sg" cx="394.6" cy="21.6"/>
<circle class="sg" cx="412.8" cy="21.6"/>
<circle class="sg" cx="394.6" cy="94.8"/>
<circle class="sg" cx="412.8" cy="94.8"/>
<circle class="sg" cx="388.9" cy="31.6"/>
<circle class="sg" cx="418.5" cy="31.6"/>
<circle class="sg" cx="388.9" cy="84.8"/>
<circle class="sg" cx="418.5" cy="84.8"/>
<circle class="sg" cx="409.3" cy="21.6"/>
<circle class="sg" cx="398.1" cy="21.6"/>
<circle class="sg" cx="409.3" cy="94.8"/>
<circle class="sg" cx="398.1" cy="94.8"/>
<circle class="sb" cx="387.9" cy="36.8"/>
<circle class="sd" cx="419.5" cy="36.8"/>
<circle class="sb" cx="387.9" cy="79.6"/>
<circle class="sd" cx="419.5" cy="79.6"/>
<circle class="sg" cx="393.5" cy="26.5"/>
<circle class="sg" cx="413.9" cy="26.5"/>
<circle class="sg" cx="393.5" cy="89.9"/>
<circle class="sg" cx="413.9" cy="89.9"/>
<circle class="sg" cx="401.8" cy="21.6"/>
<circle class="sg" cx="405.6" cy="21.6"/>
<circle class="sg" cx="401.8" cy="94.8"/>
<circle class="sg" cx="405.6" cy="94.8"/>
<circle class="sb" cx="387.2" cy="42.1"/>
<circle class="sd" cx="420.2" cy="42.1"/>
<circle class="sb" cx="387.2" cy="74.3"/>
<circle class="sd" cx="420.2" cy="74.3"/>
<circle class="sb" cx="386.7" cy="47.4"/>
<circle class="sd" cx="420.7" cy="47.4"/>
<circle class="sb" cx="386.7" cy="69"/>
<circle class="sd" cx="420.7" cy="69"/>
<circle class="sg" cx="392.6" cy="31.6"/>
<circle class="sg" cx="414.8" cy="31.6"/>
<circle class="sg" cx="392.6" cy="84.8"/>
<circle class="sg" cx="414.8" cy="84.8"/>
<circle class="sb" cx="386.4" cy="63.6"/>
<circle class="sd" cx="421" cy="63.6"/>
<circle class="sb" cx="386.4" cy="52.8"/>
<circle class="sd" cx="421" cy="52.8"/>
<circle class="sb" cx="386.3" cy="58.2"/>
<circle class="sd" cx="421.1" cy="58.2"/>
<circle class="sg" cx="410" cy="26.5"/>
<circle class="sg" cx="397.4" cy="26.5"/>
<circle class="sg" cx="397.4" cy="89.9"/>
<circle class="sg" cx="410" cy="89.9"/>
<circle class="sg" cx="405.8" cy="26.5"/>
<circle class="sg" cx="401.6" cy="26.5"/>
<circle class="sg" cx="405.8" cy="89.9"/>
<circle class="sg" cx="401.6" cy="89.9"/>
<circle class="sb" cx="391.9" cy="36.8"/>
<circle class="sd" cx="415.5" cy="36.8"/>
<circle class="sb" cx="391.9" cy="79.6"/>
<circle class="sd" cx="415.5" cy="79.6"/>
<circle class="sg" cx="410.6" cy="31.6"/>
<circle class="sg" cx="396.8" cy="31.6"/>
<circle class="sg" cx="410.6" cy="84.8"/>
<circle class="sg" cx="396.8" cy="84.8"/>
<circle class="sb" cx="391.4" cy="42.1"/>
<circle class="sd" cx="416" cy="42.1"/>
<circle class="sb" cx="391.4" cy="74.3"/>
<circle class="sd" cx="416" cy="74.3"/>
<circle class="sb" cx="391" cy="47.4"/>
<circle class="sb" cx="391" cy="69"/>
<circle class="sd" cx="416.4" cy="47.4"/>
<circle class="sd" cx="416.4" cy="69"/>
<circle class="sg" cx="406" cy="31.6"/>
<circle class="sg" cx="401.4" cy="31.6"/>
<circle class="sg" cx="406" cy="84.8"/>
<circle class="sg" cx="401.4" cy="84.8"/>
<circle class="sb" cx="390.8" cy="63.6"/>
<circle class="sb" cx="390.8" cy="52.8"/>
<circle class="sd" cx="416.6" cy="63.6"/>
<circle class="sd" cx="416.6" cy="52.8"/>
<circle class="se" cx="411" cy="36.8"/>
<circle class="sb" cx="396.4" cy="36.8"/>
<circle class="se" cx="411" cy="79.6"/>
<circle class="sb" cx="396.4" cy="79.6"/>
<circle class="sb" cx="390.7" cy="58.2"/>
<circle class="sd" cx="416.7" cy="58.2"/>
<circle class="se" cx="411.3" cy="42.1"/>
<circle class="sb" cx="396.1" cy="42.1"/>
<circle class="se" cx="411.3" cy="74.3"/>
<circle class="sb" cx="396.1" cy="74.3"/>
<circle class="sb" cx="406.2" cy="36.8"/>
<circle class="sb" cx="401.2" cy="36.8"/>
<circle class="se" cx="406.2" cy="79.6"/>
<circle class="sb" cx="401.2" cy="79.6"/>
<circle class="se" cx="411.6" cy="47.4"/>
<circle class="se" cx="411.6" cy="69"/>
<circle class="sb" cx="395.8" cy="47.4"/>
<circle class="sb" cx="395.8" cy="69"/>
<circle class="sb" cx="406.3" cy="42.1"/>
<circle class="sb" cx="401.1" cy="42.1"/>
<circle class="se" cx="406.3" cy="74.3"/>
<circle class="sb" cx="401.1" cy="74.3"/>
<circle class="sb" cx="395.7" cy="63.6"/>
<circle class="se" cx="411.7" cy="63.6"/>
<circle class="sb" cx="395.7" cy="52.8"/>
<circle class="se" cx="411.7" cy="52.8"/>
<circle class="se" cx="411.7" cy="58.2"/>
<circle class="sb" cx="395.7" cy="58.2"/>
<circle class="se" cx="406.4" cy="47.4"/>
<circle class="se" cx="406.4" cy="69"/>
<circle class="sb" cx="401" cy="47.4"/>
<circle class="sb" cx="401" cy="69"/>
<circle class="se" cx="406.4" cy="63.6"/>
<circle class="se" cx="406.4" cy="52.8"/>
<circle class="sb" cx="401" cy="63.6"/>
<circle class="sb" cx="401" cy="52.8"/>
<circle class="se" cx="406.4" cy="58.2"/>
<circle class="sb" cx="401" cy="58.2"/>
<ellipse cx="72.3" cy="59.5" rx="31" ry="54" fill="url(#sh)"/><ellipse cx="403.7" cy="58.2" rx="30.2" ry="55" fill="url(#sh)"/>
</g>
<path d="M85 250.9L217.4 186.7M217.4 186.7L217.4 95.7M85 220.3L217.3 284.5M85 220.3L85 129.3M118.5 267.2L250.9 203M250.9 203L250.9 112M118.6 204L250.9 268.2M118.6 204L118.6 113M152.1 283.5L284.5 219.3M284.5 219.3L284.5 128.3M152.2 187.7L284.5 251.9M152.2 187.7L152.2 96.7M53.4 227.9L185.8 163.7M185.8 163.7L318.1 227.9M53.4 190L185.8 125.8M185.8 125.8L318.1 190M53.4 152.2L185.8 88M185.8 88L318.1 152.2" stroke="#b4b4b4" stroke-width=".6" fill="none"/>
<path d="M185.8 171.4L185.8 80.4M318.1 235.6L318.1 144.6" stroke="#8e8e8e" stroke-width=".7" fill="none"/>
<path d="M85 250.9L85 245.2M217.3 284.5L217.3 278.8M217.4 95.7L213.3 97.7M85 129.3L89 131.2M118.5 267.2L118.5 261.5M250.9 268.2L250.9 262.5M250.9 112L246.9 114M118.6 113L122.6 115M152.1 283.5L152.1 277.8M284.5 251.9L284.5 246.2M284.5 128.3L280.5 130.3M152.2 96.7L156.2 98.7M185.7 299.8L185.7 294.1M318.1 235.6L318.1 229.9M318.1 144.6L314.1 146.6M185.8 80.4L189.8 82.4M53.4 227.9L57.4 229.8M318.1 227.9L314.1 229.8M53.4 190L57.4 192M318.1 190L314.1 192M53.4 152.2L57.4 154.1M318.1 152.2L314.1 154.1" stroke="#9a9a9a" stroke-width=".5" fill="none"/>
<path d="M53.4 144.6L185.8 80.4L318.1 144.6M53.4 144.6L53.4 235.6L185.7 299.8L318.1 235.6L185.8 171.4L53.4 235.6" stroke="#262626" stroke-width=".8" fill="none" stroke-linejoin="round"/>
<g class="m pa">
<path d="M184 126.7l132.3 64.2 1.8-.9-132.3-64.2zM182.1 127.6l132.3 64.2 1.9-.9-132.3-64.2zM180.3 128.5l132.3 64.2 1.8-.9-132.3-64.2zM178.4 129.4l132.3 64.2 1.9-.9-132.3-64.2zM176.6 130.3l58.8 28.5 1.8-.9-58.8-28.5zM246.4 164.2l62.5 30.3 1.8-.9-62.4-30.3zM174.8 131.2l53.3 25.8 1.8-.9-53.3-25.8zM250.1 167.7l57 27.7 1.8-.9-57-27.7zM182.1 136.5l42.3 20.5 1.8-.9-42.2-20.5zM250.1 169.5l45.9 22.3 1.9-.9-46-22.3zM184 139.2l34.9 16.9 1.8-.9-34.9-16.9zM251.9 172.2l38.6 18.7 1.9-.9-38.6-18.7zM185.8 141.9l31.2 15.1 1.9-.9-31.3-15.1zM250.1 173.1l34.9 16.9 1.9-.9-35-16.9zM185.8 143.7l27.5 13.3 1.9-.9-27.6-13.3zM250.1 174.9l31.2 15.1 1.9-.9-31.3-15.1zM183.9 144.5l27.6 13.4 1.8-.9-27.5-13.3zM248.3 175.8l31.2 15.1 1.8-.9-31.2-15.1zM183.9 146.3l23.9 11.6 1.9-.9-23.9-11.6zM248.3 177.5l27.5 13.4 1.9-.9-27.6-13.4zM182.1 147.2l23.9 11.6 1.8-.9-23.9-11.6zM246.4 178.4l27.6 13.4 1.8-.9-27.5-13.4zM180.3 148.1l23.9 11.6 1.8-.9-23.9-11.6zM244.6 179.3l27.5 13.4 1.9-.9-27.6-13.4zM178.4 149l23.9 11.6 1.9-.9-23.9-11.6zM242.7 180.2l27.6 13.4 1.8-.9-27.5-13.4zM176.6 149.9l23.9 11.6 1.8-.9-23.9-11.6zM240.9 181.1l27.6 13.4 1.8-.9-27.6-13.4zM172.9 149.9l27.6 13.4 1.8-.9-27.5-13.4zM237.2 181.1l31.3 15.2 1.8-.9-31.2-15.2zM169.2 149.9l29.4 14.3 1.9-.9-29.4-14.3zM235.4 182l33.1 16 1.8-.8-33.1-16.1zM169.2 151.7l29.4 14.2 1.9-.8-29.4-14.3zM231.7 182l33.1 16 1.8-.8-33-16.1zM167.4 152.6l27.6 13.3 1.8-.8-27.6-13.4zM231.7 183.8l31.2 15.1 1.9-.9-31.3-15.1zM167.4 154.4l23.9 11.5 1.8-.8-23.9-11.6zM231.7 185.6l27.6 13.3 1.8-.9-27.6-13.3zM165.6 155.2l23.8 11.6 1.9-.9-23.9-11.5zM229.9 186.5l27.5 13.3 1.9-.9-27.6-13.3zM163.7 156.1l23.9 11.6 1.8-.9-23.8-11.6zM228 187.3l27.6 13.4 1.8-.9-27.5-13.3zM161.9 157l23.9 11.6 1.8-.9-23.9-11.6zM226.2 188.2l27.6 13.4 1.8-.9-27.6-13.4zM160 157.9l23.9 11.6 1.9-.9-23.9-11.6zM224.4 189.1l27.5 13.4 1.9-.9-27.6-13.4zM156.4 157.9l27.5 13.4 1.9-.9-27.6-13.4zM220.7 189.1l31.2 15.2 1.9-.9-31.3-15.2zM154.5 158.8l27.6 13.4 1.8-.9-27.5-13.4zM218.8 190l31.3 15.2 1.8-.9-31.2-15.2zM150.8 158.8l31.3 15.2 1.8-.9-31.2-15.2zM215.2 190l34.9 17 1.8-.9-34.9-17zM149 159.7l34.9 16.9 1.9-.8-35-17zM209.6 189.1l38.6 18.8 1.9-.9-38.6-18.8zM143.5 158.8l42.3 20.5 1.8-.9-42.3-20.5zM204.1 188.2l46 22.3 1.8-.9-45.9-22.3zM139.8 158.8l110.3 53.5 1.8-.9-110.2-53.5zM132.5 157l121.2 58.9 1.9-.9-121.3-58.9zM125.1 155.2l132.3 64.2 1.9-.8-132.3-64.2zM123.3 156.1l132.3 64.2 1.8-.9-132.3-64.2zM121.4 157l132.3 64.2 1.9-.9-132.3-64.2zM119.6 157.9l132.3 64.2 1.8-.9-132.3-64.2zM117.8 158.8l132.3 64.2 1.8-.9-132.3-64.2zM115.9 159.7l132.3 64.2 1.9-.9-132.3-64.2zM114.1 160.6l132.3 64.2 1.8-.9-132.3-64.2zM112.2 161.5l132.3 64.2 1.9-.9-132.3-64.2zM110.4 162.4l132.3 64.2 1.8-.9-132.3-64.2zM114.1 165.9l121.3 58.9 1.8-.9-121.3-58.8zM117.8 169.5l110.2 53.5 1.8-.9-110.2-53.5zM117.8 171.3l42.2 20.5 1.9-.9-42.3-20.5zM178.4 200.7l45.9 22.3 1.9-.9-46-22.3zM119.6 174l34.9 16.9 1.8-.9-34.9-16.9zM180.2 203.4l38.6 18.7 1.9-.9-38.6-18.7zM117.7 174.9l31.3 15.1 1.8-.9-31.2-15.1zM182.1 206.1l34.9 16.9 1.8-.9-34.9-16.9zM117.7 176.6l27.6 13.4 1.8-.9-27.5-13.3zM182.1 207.9l31.2 15.1 1.8-.9-31.2-15.1zM115.9 177.5l27.6 13.4 1.8-.9-27.6-13.4zM180.2 208.7l31.3 15.2 1.8-.9-31.2-15.1zM115.9 179.3l23.9 11.6 1.8-.9-23.9-11.6zM180.2 210.5l27.6 13.4 1.8-.9-27.5-13.4zM114.1 180.2l23.9 11.6 1.8-.9-23.9-11.6zM178.4 211.4l27.5 13.4 1.9-.9-27.6-13.4zM112.2 181.1l23.9 11.6 1.9-.9-23.9-11.6zM176.5 212.3l27.6 13.4 1.8-.9-27.5-13.4zM110.4 182l23.9 11.6 1.8-.9-23.9-11.6zM174.7 213.2l27.6 13.4 1.8-.9-27.6-13.4zM108.6 182.9l23.8 11.6 1.9-.9-23.9-11.6zM172.9 214.1l27.5 13.4 1.9-.9-27.6-13.4zM104.9 182.9l27.5 13.4 1.9-.9-27.6-13.4zM169.2 214.1l31.2 15.2 1.9-.9-31.3-15.2zM103 183.8l29.4 14.2 1.9-.8-29.4-14.3zM165.5 214.1l33.1 16 1.8-.8-33-16.1zM99.4 183.8l29.4 14.2 1.8-.8-29.4-14.3zM165.5 215.9l33.1 16 1.8-.9-33.1-16zM99.4 185.6l27.5 13.3 1.9-.9-27.6-13.3zM163.7 216.8l31.2 15.1 1.8-.9-31.2-15.1zM99.4 187.3l23.8 11.6 1.9-.9-23.9-11.5zM163.7 218.6l27.5 13.3 1.9-.9-27.6-13.3zM97.5 188.2l23.9 11.6 1.8-.9-23.8-11.6zM161.8 219.4l27.6 13.4 1.8-.9-27.5-13.3zM95.7 189.1l23.9 11.6 1.8-.9-23.9-11.6zM160 220.3l27.6 13.4 1.8-.9-27.6-13.4zM93.8 190l23.9 11.6 1.9-.9-23.9-11.6zM158.2 221.2l27.5 13.4 1.9-.9-27.6-13.4zM92 190.9l23.9 11.6 1.8-.9-23.9-11.6zM156.3 222.1l27.6 13.4 1.8-.9-27.5-13.4zM88.3 190.9l27.6 13.4 1.8-.9-27.5-13.4zM152.6 222.1l31.3 15.2 1.8-.9-31.2-15.2zM86.5 191.8l27.5 13.4 1.9-.9-27.6-13.4zM150.8 223l31.2 15.2 1.9-.9-31.3-15.2zM82.8 191.8l31.2 15.2 1.9-.9-31.3-15.2zM147.1 223l34.9 17 1.9-.9-34.9-17zM77.3 190.9l34.9 17 1.8-.9-34.9-17zM145.3 223.9l38.6 18.7 1.8-.9-38.6-18.7zM71.8 190l42.2 20.5 1.9-.9-42.3-20.5zM139.8 223l45.9 22.3 1.8-.9-45.9-22.3zM60.8 186.5l53.2 25.8 1.9-.9-53.3-25.8zM136.1 223l57 27.7 1.8-.9-57-27.7zM58.9 187.3l58.8 28.6 1.9-.9-58.8-28.5zM128.7 221.2l62.5 30.3 1.9-.8-62.5-30.4zM57.1 188.2l132.3 64.2 1.8-.9-132.3-64.2zM55.2 189.1l132.3 64.2 1.9-.9-132.3-64.2zM53.4 190l132.3 64.2 1.8-.9-132.3-64.2z" fill="#2474d3" stroke="#2474d3" stroke-width="1"/>
<path class=fg d="M0 .9931H1"/><path class=ff d="M0 .9931H1"/>
<path class=fg d="M0 .9792H1"/><path class=ff d="M0 .9792H1"/>
<path class=fg d="M0 .9653H1"/><path class=ff d="M0 .9653H1"/>
<path class=fg d="M0 .9514H1"/><path class=ff d="M0 .9514H1"/>
<path class=fg d="M0 .9375H.4444"/><path class=ff d="M0 .9375H.4444"/>
<path class=A d="M235.4 158.8l1.8 1.6 1.9-1.6-1.9-.9z"/>
<path class=A d="M237.2 160.4l1.9 1 1.8-1.7-1.8-.9z"/>
<path class=A d="M239.1 161.4l1.8 .9 1.9-1.7-1.9-.9z"/>
<path class=A d="M240.9 162.3l1.9 .9 1.8-1.7-1.8-.9z"/>
<path class=A d="M242.8 163.2l1.8 .8 1.8-1.6-1.8-.9z"/>
<path class=A d="M244.6 164l1.8 .2 1.9-.9-1.9-.9z"/>
<path class=fg d="M.5278 .9375H1"/><path class=ff d="M.5278 .9375H1"/>
<path class=fg d="M0 .9236H.4028"/><path class=ff d="M0 .9236H.4028"/>
<path class=A d="M228.1 157l1.8 1.7 1.8-1.7-1.8-.9z"/>
<path class=A d="M229.9 158.7l1.8 1.1 1.9-1.9-1.9-.9z"/>
<path class=A d="M231.7 159.8l1.9 1.2 1.8-2.2-1.8-.9z"/>
<path class=A d="M233.6 161l1.8 1.2 1.8-1.8-1.8-1.6z"/>
<path class=A d="M235.4 162.2l1.8 1 1.9-1.8-1.9-1z"/>
<path class=A d="M237.2 163.2l1.9 1 1.8-1.9-1.8-.9z"/>
<path class=A d="M239.1 164.2l1.8 .8 1.9-1.8-1.9-.9z"/>
<path class=A d="M240.9 165l1.9 .7 1.8-1.7-1.8-.8z"/>
<path class=A d="M242.8 165.7l1.8 .7 1.8-2.2-1.8-.2z"/>
<path class=A d="M244.6 166.4l1.8 .6 1.9-1.9-1.9-.9z"/>
<path class=A d="M246.4 167l1.9 .6 1.8-1.7-1.8-.8z"/>
<path class=A d="M248.3 167.6l1.8 .1 1.8-.9-1.8-.9z"/>
<path class=fg d="M.5694 .9236H1"/><path class=ff d="M.5694 .9236H1"/>
<path class=B d="M172.9 130.8l1.9 1 1.8 .3-1.8-.9z"/>
<path class=B d="M174.8 131.8l1.8 1 1.8 .2-1.8-.9z"/>
<path class=B d="M176.6 132.8l1.8 1 1.9 0-1.9-.8z"/>
<path class=B d="M178.4 133.8l1.9 1.1 1.8-.2-1.8-.9z"/>
<path class=B d="M180.3 134.9l1.8 1.6 1.9-.9-1.9-.9z"/>
<path class=fg d="M.0694 .9097H.3889"/><path class=ff d="M.0694 .9097H.3889"/>
<path class=A d="M224.4 157l1.8 1.9 1.9-1.9-1.9-.9z"/>
<path class=A d="M226.2 158.9l1.9 1.4 1.8-1.6-1.8-1.7z"/>
<path class=A d="M228.1 160.3l1.8 1.4 1.8-1.9-1.8-1.1z"/>
<path class=z d="M229.9 161.7l1.8 1.5 1.9-2.2-1.9-1.2z"/>
<path class=z d="M231.7 163.2l1.9 1.4 1.8-2.4-1.8-1.2z"/>
<path class=z d="M233.6 164.6l1.8 1.2 1.8-2.6-1.8-1z"/>
<path class=z d="M235.4 165.8l1.8 1 1.9-2.6-1.9-1z"/>
<path class=z d="M237.2 166.8l1.9 .8 1.8-2.6-1.8-.8z"/>
<path class=z d="M239.1 167.6l1.8 .5 1.9-2.4-1.9-.7z"/>
<path class=z d="M240.9 168.1l1.9 .4 1.8-2.1-1.8-.7z"/>
<path class=z d="M242.8 168.5l1.8 .4 1.8-1.9-1.8-.6z"/>
<path class=A d="M244.6 168.9l1.8 .3 1.9-1.6-1.9-.6z"/>
<path class=A d="M246.4 169.2l1.9 .4 1.8-1.9-1.8-.1z"/>
<path class=A d="M248.3 169.6l1.8-.1 1.8-.9-1.8-.9z"/>
<path class=fg d="M.5833 .9097H.9306"/><path class=ff d="M.5833 .9097H.9306"/>
<path class=B d="M296 191.8l1.9 .1 1.8-.1-1.8-.9z"/>
<path class=B d="M297.9 191.9l1.8 .8 1.9 0-1.9-.9z"/>
<path class=B d="M299.7 192.7l1.9 .7 1.8 .2-1.8-.9z"/>
<path class=B d="M301.6 193.4l1.8 .8 1.8 .3-1.8-.9z"/>
<path class=B d="M303.4 194.2l1.8 .8 1.9 .4-1.9-.9z"/>
<path class=C d="M171.1 130.2l1.8 1 1.9 .6-1.9-1z"/>
<path class=C d="M172.9 131.2l1.9 1.1 1.8 .5-1.8-1z"/>
<path class=C d="M174.8 132.3l1.8 1.3 1.8 .2-1.8-1z"/>
<path class=B d="M176.6 133.6l1.8 1.3 1.9 0-1.9-1.1z"/>
<path class=B d="M178.4 134.9l1.9 1.3 1.8 .3-1.8-1.6z"/>
<path class=B d="M180.3 136.2l1.8 1.2 1.9 0-1.9-.9z"/>
<path class=B d="M182.1 137.4l1.9 1.8 1.8-.9-1.8-.9z"/>
<path class=fg d="M.0972 .8958H.3611"/><path class=ff d="M.0972 .8958H.3611"/>
<path class=A d="M218.9 156.1l1.8 1.6 1.8-1.6-1.8-.9z"/>
<path class=A d="M220.7 157.7l1.8 1.4 1.9-2.1-1.9-.9z"/>
<path class=A d="M222.5 159.1l1.9 1.5 1.8-1.7-1.8-1.9z"/>
<path class=z d="M224.4 160.6l1.8 1.8 1.9-2.1-1.9-1.4z"/>
<path class=z d="M226.2 162.4l1.9 1.9 1.8-2.6-1.8-1.4z"/>
<path class=y d="M228.1 164.3l1.8 1.9 1.8-3-1.8-1.5z"/>
<path class=y d="M229.9 166.2l1.8 1.8 1.9-3.4-1.9-1.4z"/>
<path class=x d="M231.7 168l1.9 1.6 1.8-3.8-1.8-1.2z"/>
<path class=x d="M233.6 169.6l1.8 1.1 1.8-3.9-1.8-1z"/>
<path class=x d="M235.4 170.7l1.8 .7 1.9-3.8-1.9-.8z"/>
<path class=x d="M237.2 171.4l1.9 .2 1.8-3.5-1.8-.5z"/>
<path class=y d="M239.1 171.6l1.8-.1 1.9-3-1.9-.4z"/>
<path class=y d="M240.9 171.5l1.9-.1 1.8-2.5-1.8-.4z"/>
<path class=z d="M242.8 171.4l1.8-.1 1.8-2.1-1.8-.3z"/>
<path class=z d="M244.6 171.3l1.8 0 1.9-1.7-1.9-.4z"/>
<path class=A d="M246.4 171.3l1.9 .2 1.8-2-1.8 .1z"/>
<path class=A d="M248.3 171.5l1.8 .5 1.8-1.6-1.8-.9z"/>
<path class=A d="M250.1 172l1.8 .2 1.9-.9-1.9-.9z"/>
<path class=fg d="M.6111 .8958H.9028"/><path class=ff d="M.6111 .8958H.9028"/>
<path class=B d="M290.5 190.9l1.9 0 1.8 0-1.8-.9z"/>
<path class=B d="M292.4 190.9l1.8 .6 1.8 .3-1.8-.9z"/>
<path class=B d="M294.2 191.5l1.8 .5 1.9-.1-1.9-.1z"/>
<path class=B d="M296 192l1.9 .4 1.8 .3-1.8-.8z"/>
<path class=C d="M297.9 192.4l1.8 .6 1.9 .4-1.9-.7z"/>
<path class=C d="M299.7 193l1.9 .6 1.8 .6-1.8-.8z"/>
<path class=C d="M301.6 193.6l1.8 .8 1.8 .6-1.8-.8z"/>
<path class=D d="M169.2 128.2l1.9 1.1 1.8 1.9-1.8-1z"/>
<path class=D d="M171.1 129.3l1.8 1.4 1.9 1.6-1.9-1.1z"/>
<path class=D d="M172.9 130.7l1.9 1.7 1.8 1.2-1.8-1.3z"/>
<path class=C d="M174.8 132.4l1.8 1.8 1.8 .7-1.8-1.3z"/>
<path class=C d="M176.6 134.2l1.8 1.7 1.9 .3-1.9-1.3z"/>
<path class=C d="M178.4 135.9l1.9 1.6 1.8-.1-1.8-1.2z"/>
<path class=B d="M180.3 137.5l1.8 1.5 1.9 .2-1.9-1.8z"/>
<path class=B d="M182.1 139l1.9 1.3 1.8-.2-1.8-.9z"/>
<path class=B d="M184 140.3l1.8 1.6 1.8-.9-1.8-.9z"/>
<path class=fg d="M.125 .8819H.3611"/><path class=ff d="M.125 .8819H.3611"/>
<path class=A d="M217 157l1.9 2 1.8-1.3-1.8-1.6z"/>
<path class=A d="M218.9 159l1.8 1.7 1.8-1.6-1.8-1.4z"/>
<path class=z d="M220.7 160.7l1.8 2 1.9-2.1-1.9-1.5z"/>
<path class=z d="M222.5 162.7l1.9 2.3 1.8-2.6-1.8-1.8z"/>
<path class=y d="M224.4 165l1.8 2.6 1.9-3.3-1.9-1.9z"/>
<path class=x d="M226.2 167.6l1.8 2.7 1.9-4.1-1.8-1.9z"/>
<path class=w d="M228 170.3l1.9 2.5 1.8-4.8-1.8-1.8z"/>
<path class=v d="M229.9 172.8l1.8 2 1.9-5.2-1.9-1.6z"/>
<path class=v d="M231.7 174.8l1.9 1.2 1.8-5.3-1.8-1.1z"/>
<path class=v d="M233.6 176l1.8 .5 1.8-5.1-1.8-.7z"/>
<path class=v d="M235.4 176.5l1.8-.2 1.9-4.7-1.9-.2z"/>
<path class=w d="M237.2 176.3l1.9-.7 1.8-4.1-1.8 .1z"/>
<path class=x d="M239.1 175.6l1.8-.9 1.9-3.3-1.9 .1z"/>
<path class=y d="M240.9 174.7l1.9-.8 1.8-2.6-1.8 .1z"/>
<path class=z d="M242.8 173.9l1.8-.5 1.8-2.1-1.8 0z"/>
<path class=z d="M244.6 173.4l1.8-.2 1.9-1.7-1.9-.2z"/>
<path class=A d="M246.4 173.2l1.9 .1 1.8-1.3-1.8-.5z"/>
<path class=A d="M248.3 173.3l1.8-.2 1.8-.9-1.8-.2z"/>
<path class=fg d="M.6111 .8819H.875"/><path class=ff d="M.6111 .8819H.875"/>
<path class=B d="M285 190l1.8 .2 1.9-.2-1.8-.9z"/>
<path class=B d="M286.8 190.2l1.9 .5 1.8 .2-1.8-.9z"/>
<path class=B d="M288.7 190.7l1.8 .3 1.9-.1-1.9 0z"/>
<path class=C d="M290.5 191l1.9 .2 1.8 .3-1.8-.6z"/>
<path class=C d="M292.4 191.2l1.8 0 1.8 .8-1.8-.5z"/>
<path class=C d="M294.2 191.2l1.8 0 1.9 1.2-1.9-.4z"/>
<path class=D d="M296 191.2l1.9 .2 1.8 1.6-1.8-.6z"/>
<path class=D d="M297.9 191.4l1.8 .3 1.9 1.9-1.9-.6z"/>
<path class=D d="M299.7 191.7l1.9 .7 1.8 2-1.8-.8z"/>
<path class=G d="M167.4 124.3l1.8 1.3 1.9 3.7-1.9-1.1z"/>
<path class=G d="M169.2 125.6l1.9 1.9 1.8 3.2-1.8-1.4z"/>
<path class=F d="M171.1 127.5l1.8 2.4 1.9 2.5-1.9-1.7z"/>
<path class=E d="M172.9 129.9l1.9 2.5 1.8 1.8-1.8-1.8z"/>
<path class=D d="M174.8 132.4l1.8 2.5 1.8 1-1.8-1.7z"/>
<path class=C d="M176.6 134.9l1.8 2.2 1.9 .4-1.9-1.6z"/>
<path class=C d="M178.4 137.1l1.9 1.9 1.8 0-1.8-1.5z"/>
<path class=B d="M180.3 139l1.8 1.7 1.9-.4-1.9-1.3z"/>
<path class=B d="M182.1 140.7l1.8 1.3 1.9-.1-1.8-1.6z"/>
<path class=B d="M183.9 142l1.9 1.7 1.8-.9-1.8-.9z"/>
<path class=fg d="M.1389 .8681H.3472"/><path class=ff d="M.1389 .8681H.3472"/>
<path class=A d="M213.3 157l1.9 1.8 1.8-1.8-1.8-.9z"/>
<path class=A d="M215.2 158.8l1.8 1.7 1.9-1.5-1.9-2z"/>
<path class=z d="M217 160.5l1.9 2 1.8-1.8-1.8-1.7z"/>
<path class=z d="M218.9 162.5l1.8 2.6 1.8-2.4-1.8-2z"/>
<path class=x d="M220.7 165.1l1.8 3.1 1.9-3.2-1.9-2.3z"/>
<path class=w d="M222.5 168.2l1.9 3.5 1.8-4.1-1.8-2.6z"/>
<path class=v d="M224.4 171.7l1.8 3.7 1.8-5.1-1.8-2.7z"/>
<path class=t d="M226.2 175.4l1.8 3.3 1.9-5.9-1.9-2.5z"/>
<path class=s d="M228 178.7l1.9 2.6 1.8-6.5-1.8-2z"/>
<path class=r d="M229.9 181.3l1.8 1.6 1.9-6.9-1.9-1.2z"/>
<path class=r d="M231.7 182.9l1.9 .2 1.8-6.6-1.8-.5z"/>
<path class=s d="M233.6 183.1l1.8-.8 1.8-6-1.8 .2z"/>
<path class=t d="M235.4 182.3l1.8-1.6 1.9-5.1-1.9 .7z"/>
<path class=v d="M237.2 180.7l1.9-1.8 1.8-4.2-1.8 .9z"/>
<path class=w d="M239.1 178.9l1.8-1.8 1.9-3.2-1.9 .8z"/>
<path class=x d="M240.9 177.1l1.8-1.3 1.9-2.4-1.8 .5z"/>
<path class=z d="M242.7 175.8l1.9-.8 1.8-1.8-1.8 .2z"/>
<path class=z d="M244.6 175l1.8-.3 1.9-1.4-1.9-.1z"/>
<path class=A d="M246.4 174.7l1.9 .2 1.8-1.8-1.8 .2z"/>
<path class=A d="M248.3 174.9l1.8 0 1.8-.9-1.8-.9z"/>
<path class=fg d="M.625 .8681H.8611"/><path class=ff d="M.625 .8681H.8611"/>
<path class=B d="M281.3 190l1.9 .2 1.8-.2-1.8-.9z"/>
<path class=B d="M283.2 190.2l1.8 .4 1.8-.4-1.8-.2z"/>
<path class=B d="M285 190.6l1.8 .2 1.9-.1-1.9-.5z"/>
<path class=C d="M286.8 190.8l1.9-.2 1.8 .4-1.8-.3z"/>
<path class=C d="M288.7 190.6l1.8-.4 1.9 1-1.9-.2z"/>
<path class=D d="M290.5 190.2l1.9-.7 1.8 1.7-1.8 0z"/>
<path class=E d="M292.4 189.5l1.8-.8 1.8 2.5-1.8 0z"/>
<path class=F d="M294.2 188.7l1.8-.6 1.9 3.3-1.9-.2z"/>
<path class=G d="M296 188.1l1.9-.1 1.8 3.7-1.8-.3z"/>
<path class=G d="M297.9 188l1.8 .5 1.9 3.9-1.9-.7z"/>
<path class=K d="M165.6 118.5l1.8 1.5 1.8 5.6-1.8-1.3z"/>
<path class=J d="M167.4 120l1.8 2.7 1.9 4.8-1.9-1.9z"/>
<path class=I d="M169.2 122.7l1.9 3.3 1.8 3.9-1.8-2.4z"/>
<path class=G d="M171.1 126l1.8 3.7 1.9 2.7-1.9-2.5z"/>
<path class=F d="M172.9 129.7l1.9 3.5 1.8 1.7-1.8-2.5z"/>
<path class=E d="M174.8 133.2l1.8 3.1 1.8 .8-1.8-2.2z"/>
<path class=D d="M176.6 136.3l1.8 2.6 1.9 .1-1.9-1.9z"/>
<path class=C d="M178.4 138.9l1.9 2 1.8-.2-1.8-1.7z"/>
<path class=B d="M180.3 140.9l1.8 1.7 1.8-.6-1.8-1.3z"/>
<path class=B d="M182.1 142.6l1.8 1.9 1.9-.8-1.9-1.7z"/>
<path class=fg d="M.1389 .8542H.3472"/><path class=ff d="M.1389 .8542H.3472"/>
<path class=A d="M211.5 157.9l1.8 2.2 1.9-1.3-1.9-1.8z"/>
<path class=A d="M213.3 160.1l1.9 1.9 1.8-1.5-1.8-1.7z"/>
<path class=z d="M215.2 162l1.8 2.5 1.9-2-1.9-2z"/>
<path class=y d="M217 164.5l1.9 3.2 1.8-2.6-1.8-2.6z"/>
<path class=w d="M218.9 167.7l1.8 4 1.8-3.5-1.8-3.1z"/>
<path class=u d="M220.7 171.7l1.8 4.6 1.9-4.6-1.9-3.5z"/>
<path class=s d="M222.5 176.3l1.9 4.8 1.8-5.7-1.8-3.7z"/>
<path class=q d="M224.4 181.1l1.8 4.4 1.8-6.8-1.8-3.3z"/>
<path class=o d="M226.2 185.5l1.8 3.3 1.9-7.5-1.9-2.6z"/>
<path class=n d="M228 188.8l1.9 1.8 1.8-7.7-1.8-1.6z"/>
<path class=n d="M229.9 190.6l1.8 0 1.9-7.5-1.9-.2z"/>
<path class=o d="M231.7 190.6l1.9-1.6 1.8-6.7-1.8 .8z"/>
<path class=q d="M233.6 189l1.8-2.6 1.8-5.7-1.8 1.6z"/>
<path class=s d="M235.4 186.4l1.8-3 1.9-4.5-1.9 1.8z"/>
<path class=u d="M237.2 183.4l1.9-2.8 1.8-3.5-1.8 1.8z"/>
<path class=w d="M239.1 180.6l1.8-2.2 1.8-2.6-1.8 1.3z"/>
<path class=y d="M240.9 178.4l1.8-1.4 1.9-2-1.9 .8z"/>
<path class=z d="M242.7 177l1.9-.8 1.8-1.5-1.8 .3z"/>
<path class=A d="M244.6 176.2l1.8-.1 1.9-1.2-1.9-.2z"/>
<path class=A d="M246.4 176.1l1.9-.3 1.8-.9-1.8 0z"/>
<path class=fg d="M.625 .8542H.8611"/><path class=ff d="M.625 .8542H.8611"/>
<path class=B d="M279.5 190.9l1.8-.2 1.9-.5-1.9-.2z"/>
<path class=B d="M281.3 190.7l1.9 .2 1.8-.3-1.8-.4z"/>
<path class=C d="M283.2 190.9l1.8-.3 1.8 .2-1.8-.2z"/>
<path class=D d="M285 190.6l1.8-.8 1.9 .8-1.9 .2z"/>
<path class=E d="M286.8 189.8l1.9-1.3 1.8 1.7-1.8 .4z"/>
<path class=F d="M288.7 188.5l1.8-1.7 1.9 2.7-1.9 .7z"/>
<path class=G d="M290.5 186.8l1.9-1.9 1.8 3.8-1.8 .8z"/>
<path class=I d="M292.4 184.9l1.8-1.6 1.8 4.8-1.8 .6z"/>
<path class=J d="M294.2 183.3l1.8-.8 1.9 5.5-1.9 .1z"/>
<path class=K d="M296 182.5l1.9 .2 1.8 5.8-1.8-.5z"/>
<path class=O d="M163.7 111.8l1.9 1.9 1.8 6.3-1.8-1.5z"/>
<path class=N d="M165.6 113.7l1.8 3.5 1.8 5.5-1.8-2.7z"/>
<path class=M d="M167.4 117.2l1.8 4.6 1.9 4.2-1.9-3.3z"/>
<path class=J d="M169.2 121.8l1.9 4.9 1.8 3-1.8-3.7z"/>
<path class=H d="M171.1 126.7l1.8 4.6 1.9 1.9-1.9-3.5z"/>
<path class=F d="M172.9 131.3l1.9 4 1.8 1-1.8-3.1z"/>
<path class=E d="M174.8 135.3l1.8 3.3 1.8 .3-1.8-2.6z"/>
<path class=C d="M176.6 138.6l1.8 2.6 1.9-.3-1.9-2z"/>
<path class=C d="M178.4 141.2l1.9 1.9 1.8-.5-1.8-1.7z"/>
<path class=B d="M180.3 143.1l1.8 1.5 1.8-.1-1.8-1.9z"/>
<path class=B d="M182.1 144.6l1.8 1.7 1.9-.9-1.9-.9z"/>
<path class=fg d="M.1528 .8403H.3333"/><path class=ff d="M.1528 .8403H.3333"/>
<path class=A d="M207.8 157.9l1.9 1.7 1.8-1.7-1.8-.9z"/>
<path class=A d="M209.7 159.6l1.8 1.6 1.8-1.1-1.8-2.2z"/>
<path class=z d="M211.5 161.2l1.8 2.2 1.9-1.4-1.9-1.9z"/>
<path class=y d="M213.3 163.4l1.9 3 1.8-1.9-1.8-2.5z"/>
<path class=x d="M215.2 166.4l1.8 3.9 1.9-2.6-1.9-3.2z"/>
<path class=v d="M217 170.3l1.9 4.8 1.8-3.4-1.8-4z"/>
<path class=s d="M218.9 175.1l1.8 5.6 1.8-4.4-1.8-4.6z"/>
<path class=p d="M220.7 180.7l1.8 5.9 1.9-5.5-1.9-4.8z"/>
<path class=m d="M222.5 186.6l1.9 5.4 1.8-6.5-1.8-4.4z"/>
<path class=k d="M224.4 192l1.8 4.1 1.8-7.3-1.8-3.3z"/>
<path class=j d="M226.2 196.1l1.8 2 1.9-7.5-1.9-1.8z"/>
<path class=j d="M228 198.1l1.9-.3 1.8-7.2-1.8 0z"/>
<path class=k d="M229.9 197.8l1.8-2.3 1.9-6.5-1.9 1.6z"/>
<path class=m d="M231.7 195.5l1.9-3.6 1.8-5.5-1.8 2.6z"/>
<path class=p d="M233.6 191.9l1.8-4.1 1.8-4.4-1.8 3z"/>
<path class=s d="M235.4 187.8l1.8-3.8 1.9-3.4-1.9 2.8z"/>
<path class=v d="M237.2 184l1.9-3 1.8-2.6-1.8 2.2z"/>
<path class=x d="M239.1 181l1.8-2.1 1.8-1.9-1.8 1.4z"/>
<path class=y d="M240.9 178.9l1.8-1.2 1.9-1.5-1.9 .8z"/>
<path class=z d="M242.7 177.7l1.9-.4 1.8-1.2-1.8 .1z"/>
<path class=A d="M244.6 177.3l1.8 .1 1.9-1.6-1.9 .3z"/>
<path class=A d="M246.4 177.4l1.9 .1 1.8-.9-1.8-.8z"/>
<path class=fg d="M.6389 .8403H.8472"/><path class=ff d="M.6389 .8403H.8472"/>
<path class=B d="M275.8 190.9l1.9 .1 1.8-.1-1.8-.9z"/>
<path class=B d="M277.7 191l1.8 .3 1.8-.6-1.8 .2z"/>
<path class=C d="M279.5 191.3l1.8-.2 1.9-.2-1.9-.2z"/>
<path class=C d="M281.3 191.1l1.9-.8 1.8 .3-1.8 .3z"/>
<path class=E d="M283.2 190.3l1.8-1.5 1.8 1-1.8 .8z"/>
<path class=F d="M285 188.8l1.8-2.2 1.9 1.9-1.9 1.3z"/>
<path class=H d="M286.8 186.6l1.9-2.9 1.8 3.1-1.8 1.7z"/>
<path class=J d="M288.7 183.7l1.8-3.1 1.9 4.3-1.9 1.9z"/>
<path class=M d="M290.5 180.6l1.9-2.7 1.8 5.4-1.8 1.6z"/>
<path class=N d="M292.4 177.9l1.8-1.8 1.8 6.4-1.8 .8z"/>
<path class=O d="M294.2 176.1l1.8-.1 1.9 6.7-1.9-.2z"/>
<path class=T d="M161.9 106l1.8 2.4 1.9 5.3-1.9-1.9z"/>
<path class=S d="M163.7 108.4l1.9 4.6 1.8 4.2-1.8-3.5z"/>
<path class=P d="M165.6 113l1.8 5.6 1.8 3.2-1.8-4.6z"/>
<path class=M d="M167.4 118.6l1.8 6 1.9 2.1-1.9-4.9z"/>
<path class=J d="M169.2 124.6l1.9 5.5 1.8 1.2-1.8-4.6z"/>
<path class=H d="M171.1 130.1l1.8 4.8 1.9 .4-1.9-4z"/>
<path class=F d="M172.9 134.9l1.9 3.8 1.8-.1-1.8-3.3z"/>
<path class=D d="M174.8 138.7l1.8 2.9 1.8-.4-1.8-2.6z"/>
<path class=C d="M176.6 141.6l1.8 2.1 1.9-.6-1.9-1.9z"/>
<path class=B d="M178.4 143.7l1.9 1.7 1.8-.8-1.8-1.5z"/>
<path class=B d="M180.3 145.4l1.8 1.8 1.8-.9-1.8-1.7z"/>
<path class=fg d="M.1528 .8264H.3333"/><path class=ff d="M.1528 .8264H.3333"/>
<path class=A d="M206 158.8l1.8 1.8 1.9-1-1.9-1.7z"/>
<path class=A d="M207.8 160.6l1.9 1.7 1.8-1.1-1.8-1.6z"/>
<path class=z d="M209.7 162.3l1.8 2.4 1.8-1.3-1.8-2.2z"/>
<path class=y d="M211.5 164.7l1.8 3.3 1.9-1.6-1.9-3z"/>
<path class=w d="M213.3 168l1.9 4.3 1.8-2-1.8-3.9z"/>
<path class=t d="M215.2 172.3l1.8 5.5 1.9-2.7-1.9-4.8z"/>
<path class=q d="M217 177.8l1.9 6.3 1.8-3.4-1.8-5.6z"/>
<path class=n d="M218.9 184.1l1.8 6.7 1.8-4.2-1.8-5.9z"/>
<path class=j d="M220.7 190.8l1.8 6.2 1.9-5-1.9-5.4z"/>
<path class=g d="M222.5 197l1.9 4.8 1.8-5.7-1.8-4.1z"/>
<path class=e d="M224.4 201.8l1.8 2.4 1.8-6.1-1.8-2z"/>
<path class=e d="M226.2 204.2l1.8-.7 1.9-5.7-1.9 .3z"/>
<path class=g d="M228 203.5l1.9-3 1.8-5-1.8 2.3z"/>
<path class=j d="M229.9 200.5l1.8-4.4 1.9-4.2-1.9 3.6z"/>
<path class=n d="M231.7 196.1l1.9-4.9 1.8-3.4-1.8 4.1z"/>
<path class=q d="M233.6 191.2l1.8-4.5 1.8-2.7-1.8 3.8z"/>
<path class=t d="M235.4 186.7l1.8-3.7 1.9-2-1.9 3z"/>
<path class=w d="M237.2 183l1.9-2.5 1.8-1.6-1.8 2.1z"/>
<path class=y d="M239.1 180.5l1.8-1.5 1.8-1.3-1.8 1.2z"/>
<path class=z d="M240.9 179l1.8-.6 1.9-1.1-1.9 .4z"/>
<path class=A d="M242.7 178.4l1.9 0 1.8-1-1.8-.1z"/>
<path class=A d="M244.6 178.4l1.8 0 1.9-.9-1.9-.1z"/>
<path class=fg d="M.6389 .8264H.8472"/><path class=ff d="M.6389 .8264H.8472"/>
<path class=B d="M274 191.8l1.8 0 1.9-.8-1.9-.1z"/>
<path class=B d="M275.8 191.8l1.9 .1 1.8-.6-1.8-.3z"/>
<path class=C d="M277.7 191.9l1.8-.4 1.8-.4-1.8 .2z"/>
<path class=D d="M279.5 191.5l1.8-1.1 1.9-.1-1.9 .8z"/>
<path class=F d="M281.3 190.4l1.9-2 1.8 .4-1.8 1.5z"/>
<path class=H d="M283.2 188.4l1.8-3 1.8 1.2-1.8 2.2z"/>
<path class=J d="M285 185.4l1.8-3.8 1.9 2.1-1.9 2.9z"/>
<path class=M d="M286.8 181.6l1.9-4.1 1.8 3.1-1.8 3.1z"/>
<path class=P d="M288.7 177.5l1.8-3.9 1.9 4.3-1.9 2.7z"/>
<path class=S d="M290.5 173.6l1.9-2.8 1.8 5.3-1.8 1.8z"/>
<path class=T d="M292.4 170.8l1.8-.6 1.8 5.8-1.8 .1z"/>
<path class=W d="M160.1 102.6l1.8 4.3 1.8 1.5-1.8-2.4z"/>
<path class=U d="M161.9 106.9l1.8 5.4 1.9 .7-1.9-4.6z"/>
<path class=R d="M163.7 112.3l1.9 6.2 1.8 .1-1.8-5.6z"/>
<path class=O d="M165.6 118.5l1.8 6.2 1.8-.1-1.8-6z"/>
<path class=K d="M167.4 124.7l1.8 5.8 1.9-.4-1.9-5.5z"/>
<path class=H d="M169.2 130.5l1.9 4.9 1.8-.5-1.8-4.8z"/>
<path class=F d="M171.1 135.4l1.8 4 1.9-.7-1.9-3.8z"/>
<path class=D d="M172.9 139.4l1.9 3 1.8-.8-1.8-2.9z"/>
<path class=C d="M174.8 142.4l1.8 2.2 1.8-.9-1.8-2.1z"/>
<path class=B d="M176.6 144.6l1.8 1.7 1.9-.9-1.9-1.7z"/>
<path class=B d="M178.4 146.3l1.9 1.8 1.8-.9-1.8-1.8z"/>
<path class=fg d="M.1528 .8125H.3333"/><path class=ff d="M.1528 .8125H.3333"/>
<path class=A d="M204.2 159.7l1.8 1.8 1.8-.9-1.8-1.8z"/>
<path class=A d="M206 161.5l1.8 1.8 1.9-1-1.9-1.7z"/>
<path class=z d="M207.8 163.3l1.9 2.4 1.8-1-1.8-2.4z"/>
<path class=y d="M209.7 165.7l1.8 3.4 1.8-1.1-1.8-3.3z"/>
<path class=w d="M211.5 169.1l1.8 4.4 1.9-1.2-1.9-4.3z"/>
<path class=t d="M213.3 173.5l1.9 5.7 1.8-1.4-1.8-5.5z"/>
<path class=p d="M215.2 179.2l1.8 6.6 1.9-1.7-1.9-6.3z"/>
<path class=l d="M217 185.8l1.9 6.9 1.8-1.9-1.8-6.7z"/>
<path class=i d="M218.9 192.7l1.8 6.5 1.8-2.2-1.8-6.2z"/>
<path class=d d="M220.7 199.2l1.8 5.2 1.9-2.6-1.9-4.8z"/>
<path class=b d="M222.5 204.4l1.9 3.2 1.8-3.4-1.8-2.4z"/>
<path class=b d="M224.4 207.6l1.8-1.5 1.8-2.6-1.8 .7z"/>
<path class=d d="M226.2 206.1l1.8-3.3 1.9-2.3-1.9 3z"/>
<path class=i d="M228 202.8l1.9-4.7 1.8-2-1.8 4.4z"/>
<path class=l d="M229.9 198.1l1.8-5.2 1.9-1.7-1.9 4.9z"/>
<path class=p d="M231.7 192.9l1.9-4.8 1.8-1.4-1.8 4.5z"/>
<path class=t d="M233.6 188.1l1.8-3.9 1.8-1.2-1.8 3.7z"/>
<path class=w d="M235.4 184.2l1.8-2.7 1.9-1-1.9 2.5z"/>
<path class=y d="M237.2 181.5l1.9-1.5 1.8-1-1.8 1.5z"/>
<path class=z d="M239.1 180l1.8-.7 1.8-.9-1.8 .6z"/>
<path class=A d="M240.9 179.3l1.8 0 1.9-.9-1.9 0z"/>
<path class=A d="M242.7 179.3l1.9 0 1.8-.9-1.8 0z"/>
<path class=fg d="M.6389 .8125H.8472"/><path class=ff d="M.6389 .8125H.8472"/>
<path class=B d="M272.1 192.7l1.9-.1 1.8-.8-1.8 0z"/>
<path class=B d="M274 192.6l1.8 .1 1.9-.8-1.9-.1z"/>
<path class=C d="M275.8 192.7l1.9-.4 1.8-.8-1.8 .4z"/>
<path class=D d="M277.7 192.3l1.8-1.2 1.8-.7-1.8 1.1z"/>
<path class=F d="M279.5 191.1l1.8-2.2 1.9-.5-1.9 2z"/>
<path class=H d="M281.3 188.9l1.9-3.1 1.8-.4-1.8 3z"/>
<path class=K d="M283.2 185.8l1.8-4 1.8-.2-1.8 3.8z"/>
<path class=O d="M285 181.8l1.8-4.5 1.9 .2-1.9 4.1z"/>
<path class=R d="M286.8 177.3l1.9-4.3 1.8 .6-1.8 3.9z"/>
<path class=U d="M288.7 173l1.8-3.6 1.9 1.4-1.9 2.8z"/>
<path class=W d="M290.5 169.4l1.9-2.6 1.8 3.4-1.8 .6z"/>
<path class=V d="M158.2 110.5l1.9 2.3 1.8-5.9-1.8-4.3z"/>
<path class=T d="M160.1 112.8l1.8 4.3 1.8-4.8-1.8-5.4z"/>
<path class=Q d="M161.9 117.1l1.8 5.3 1.9-3.9-1.9-6.2z"/>
<path class=N d="M163.7 122.4l1.9 5.5 1.8-3.2-1.8-6.2z"/>
<path class=K d="M165.6 127.9l1.8 5.1 1.8-2.5-1.8-5.8z"/>
<path class=H d="M167.4 133l1.8 4.4 1.9-2-1.9-4.9z"/>
<path class=F d="M169.2 137.4l1.9 3.5 1.8-1.5-1.8-4z"/>
<path class=D d="M171.1 140.9l1.8 2.7 1.9-1.2-1.9-3z"/>
<path class=C d="M172.9 143.6l1.9 2.1 1.8-1.1-1.8-2.2z"/>
<path class=B d="M174.8 145.7l1.8 1.6 1.8-1-1.8-1.7z"/>
<path class=B d="M176.6 147.3l1.8 1.7 1.9-.9-1.9-1.8z"/>
<path class=fg d="M.1528 .7986H.3333"/><path class=ff d="M.1528 .7986H.3333"/>
<path class=A d="M202.3 160.6l1.9 1.7 1.8-.8-1.8-1.8z"/>
<path class=A d="M204.2 162.3l1.8 1.7 1.8-.7-1.8-1.8z"/>
<path class=z d="M206 164l1.8 2.3 1.9-.6-1.9-2.4z"/>
<path class=y d="M207.8 166.3l1.9 3.2 1.8-.4-1.8-3.4z"/>
<path class=w d="M209.7 169.5l1.8 4.3 1.8-.3-1.8-4.4z"/>
<path class=t d="M211.5 173.8l1.8 5.3 1.9 .1-1.9-5.7z"/>
<path class=q d="M213.3 179.1l1.9 6.2 1.8 .5-1.8-6.6z"/>
<path class=m d="M215.2 185.3l1.8 6.5 1.9 .9-1.9-6.9z"/>
<path class=i d="M217 191.8l1.9 6.1 1.8 1.3-1.8-6.5z"/>
<path class=e d="M218.9 197.9l1.8 4.7 1.8 1.8-1.8-5.2z"/>
<path class=c d="M220.7 202.6l1.8 2.4 1.9 2.6-1.9-3.2z"/>
<path class=c d="M222.5 205l1.9-.6 1.8 1.7-1.8 1.5z"/>
<path class=e d="M224.4 204.4l1.8-2.9 1.8 1.3-1.8 3.3z"/>
<path class=i d="M226.2 201.5l1.8-4.3 1.9 .9-1.9 4.7z"/>
<path class=m d="M228 197.2l1.9-4.8 1.8 .5-1.8 5.2z"/>
<path class=q d="M229.9 192.4l1.8-4.4 1.9 .1-1.9 4.8z"/>
<path class=t d="M231.7 188l1.9-3.5 1.8-.3-1.8 3.9z"/>
<path class=w d="M233.6 184.5l1.8-2.5 1.8-.5-1.8 2.7z"/>
<path class=y d="M235.4 182l1.8-1.4 1.9-.6-1.9 1.5z"/>
<path class=z d="M237.2 180.6l1.9-.5 1.8-.8-1.8 .7z"/>
<path class=A d="M239.1 180.1l1.8 0 1.8-.8-1.8 0z"/>
<path class=A d="M240.9 180.1l1.8 .1 1.9-.9-1.9 0z"/>
<path class=fg d="M.6389 .7986H.8472"/><path class=ff d="M.6389 .7986H.8472"/>
<path class=B d="M270.3 193.6l1.8 0 1.9-1-1.9 .1z"/>
<path class=B d="M272.1 193.6l1.9 .2 1.8-1.1-1.8-.1z"/>
<path class=C d="M274 193.8l1.8-.2 1.9-1.3-1.9 .4z"/>
<path class=D d="M275.8 193.6l1.9-1 1.8-1.5-1.8 1.2z"/>
<path class=F d="M277.7 192.6l1.8-1.7 1.8-2-1.8 2.2z"/>
<path class=H d="M279.5 190.9l1.8-2.6 1.9-2.5-1.9 3.1z"/>
<path class=K d="M281.3 188.3l1.9-3.4 1.8-3.1-1.8 4z"/>
<path class=N d="M283.2 184.9l1.8-3.7 1.8-3.9-1.8 4.5z"/>
<path class=Q d="M285 181.2l1.8-3.5 1.9-4.7-1.9 4.3z"/>
<path class=T d="M286.8 177.7l1.9-2.5 1.8-5.8-1.8 3.6z"/>
<path class=V d="M288.7 175.2l1.8-.5 1.9-7.9-1.9 2.6z"/>
<path class=Q d="M156.4 121.6l1.8 1.6 1.9-10.4-1.9-2.3z"/>
<path class=P d="M158.2 123.2l1.9 2.9 1.8-9-1.8-4.3z"/>
<path class=N d="M160.1 126.1l1.8 3.7 1.8-7.4-1.8-5.3z"/>
<path class=K d="M161.9 129.8l1.8 3.9 1.9-5.8-1.9-5.5z"/>
<path class=I d="M163.7 133.7l1.9 3.7 1.8-4.4-1.8-5.1z"/>
<path class=G d="M165.6 137.4l1.8 3.2 1.8-3.2-1.8-4.4z"/>
<path class=E d="M167.4 140.6l1.8 2.6 1.9-2.3-1.9-3.5z"/>
<path class=D d="M169.2 143.2l1.9 2.2 1.8-1.8-1.8-2.7z"/>
<path class=C d="M171.1 145.4l1.8 1.6 1.9-1.3-1.9-2.1z"/>
<path class=B d="M172.9 147l1.9 2 1.8-1.7-1.8-1.6z"/>
<path class=B d="M174.8 149l1.8 .9 1.8-.9-1.8-1.7z"/>
<path class=fg d="M.1528 .7847H.3333"/><path class=ff d="M.1528 .7847H.3333"/>
<path class=A d="M200.5 161.5l1.8 .9 1.9-.1-1.9-1.7z"/>
<path class=A d="M202.3 162.4l1.9 2.2 1.8-.6-1.8-1.7z"/>
<path class=z d="M204.2 164.6l1.8 2 1.8-.3-1.8-2.3z"/>
<path class=y d="M206 166.6l1.8 2.8 1.9 .1-1.9-3.2z"/>
<path class=w d="M207.8 169.4l1.9 3.6 1.8 .8-1.8-4.3z"/>
<path class=u d="M209.7 173l1.8 4.5 1.8 1.6-1.8-5.3z"/>
<path class=r d="M211.5 177.5l1.8 5.2 1.9 2.6-1.9-6.2z"/>
<path class=o d="M213.3 182.7l1.9 5.5 1.8 3.6-1.8-6.5z"/>
<path class=k d="M215.2 188.2l1.8 5 1.9 4.7-1.9-6.1z"/>
<path class=i d="M217 193.2l1.9 3.9 1.8 5.5-1.8-4.7z"/>
<path class=g d="M218.9 197.1l1.8 1.9 1.8 6-1.8-2.4z"/>
<path class=g d="M220.7 199l1.8-.1 1.9 5.5-1.9 .6z"/>
<path class=i d="M222.5 198.9l1.9-2.1 1.8 4.7-1.8 2.9z"/>
<path class=k d="M224.4 196.8l1.8-3.3 1.8 3.7-1.8 4.3z"/>
<path class=o d="M226.2 193.5l1.8-3.6 1.9 2.5-1.9 4.8z"/>
<path class=r d="M228 189.9l1.9-3.5 1.8 1.6-1.8 4.4z"/>
<path class=u d="M229.9 186.4l1.8-2.7 1.9 .8-1.9 3.5z"/>
<path class=w d="M231.7 183.7l1.9-1.8 1.8 .1-1.8 2.5z"/>
<path class=y d="M233.6 181.9l1.8-1 1.8-.3-1.8 1.4z"/>
<path class=z d="M235.4 180.9l1.8-.3 1.9-.5-1.9 .5z"/>
<path class=A d="M237.2 180.6l1.9-.4 1.8-.1-1.8 0z"/>
<path class=A d="M239.1 180.2l1.8 .9 1.8-.9-1.8-.1z"/>
<path class=fg d="M.6389 .7847H.8472"/><path class=ff d="M.6389 .7847H.8472"/>
<path class=B d="M268.5 194.5l1.8 .9 1.8-1.8-1.8 0z"/>
<path class=B d="M270.3 195.4l1.8-.2 1.9-1.4-1.9-.2z"/>
<path class=C d="M272.1 195.2l1.9 .1 1.8-1.7-1.8 .2z"/>
<path class=D d="M274 195.3l1.8-.3 1.9-2.4-1.9 1z"/>
<path class=E d="M275.8 195l1.9-.9 1.8-3.2-1.8 1.7z"/>
<path class=G d="M277.7 194.1l1.8-1.5 1.8-4.3-1.8 2.6z"/>
<path class=I d="M279.5 192.6l1.8-1.9 1.9-5.8-1.9 3.4z"/>
<path class=K d="M281.3 190.7l1.9-2.1 1.8-7.4-1.8 3.7z"/>
<path class=N d="M283.2 188.6l1.8-1.9 1.8-9-1.8 3.5z"/>
<path class=P d="M285 186.7l1.8-1.1 1.9-10.4-1.9 2.5z"/>
<path class=Q d="M286.8 185.6l1.9 .2 1.8-11.1-1.8 .5z"/>
<path class=J d="M154.5 134.7l1.9 1.1 1.8-12.6-1.8-1.6z"/>
<path class=I d="M156.4 135.8l1.8 1.6 1.9-11.3-1.9-2.9z"/>
<path class=H d="M158.2 137.4l1.9 1.8 1.8-9.4-1.8-3.7z"/>
<path class=G d="M160.1 139.2l1.8 1.9 1.8-7.4-1.8-3.9z"/>
<path class=E d="M161.9 141.1l1.8 1.8 1.9-5.5-1.9-3.7z"/>
<path class=D d="M163.7 142.9l1.9 1.6 1.8-3.9-1.8-3.2z"/>
<path class=C d="M165.6 144.5l1.8 1.5 1.8-2.8-1.8-2.6z"/>
<path class=C d="M167.4 146l1.8 1.4 1.9-2-1.9-2.2z"/>
<path class=B d="M169.2 147.4l1.9 1.6 1.8-2-1.8-1.6z"/>
<path class=B d="M171.1 149l1.8 .9 1.9-.9-1.9-2z"/>
<path class=fg d="M.1389 .7708H.3472"/><path class=ff d="M.1389 .7708H.3472"/>
<path class=A d="M200.5 163.3l1.8 1.7 1.9-.4-1.9-2.2z"/>
<path class=A d="M202.3 165l1.9 1.6 1.8 0-1.8-2z"/>
<path class=z d="M204.2 166.6l1.8 2.1 1.8 .7-1.8-2.8z"/>
<path class=x d="M206 168.7l1.8 2.7 1.9 1.6-1.9-3.6z"/>
<path class=w d="M207.8 171.4l1.9 3.3 1.8 2.8-1.8-4.5z"/>
<path class=t d="M209.7 174.7l1.8 3.7 1.8 4.3-1.8-5.2z"/>
<path class=r d="M211.5 178.4l1.8 3.9 1.9 5.9-1.9-5.5z"/>
<path class=p d="M213.3 182.3l1.9 3.6 1.8 7.3-1.8-5z"/>
<path class=n d="M215.2 185.9l1.8 2.8 1.9 8.4-1.9-3.9z"/>
<path class=l d="M217 188.7l1.9 1.6 1.8 8.7-1.8-1.9z"/>
<path class=l d="M218.9 190.3l1.8 .2 1.8 8.4-1.8 .1z"/>
<path class=n d="M220.7 190.5l1.8-1 1.9 7.3-1.9 2.1z"/>
<path class=p d="M222.5 189.5l1.9-1.8 1.8 5.8-1.8 3.3z"/>
<path class=r d="M224.4 187.7l1.8-2.1 1.8 4.3-1.8 3.6z"/>
<path class=t d="M226.2 185.6l1.8-2 1.9 2.8-1.9 3.5z"/>
<path class=w d="M228 183.6l1.9-1.5 1.8 1.6-1.8 2.7z"/>
<path class=x d="M229.9 182.1l1.8-.9 1.9 .7-1.9 1.8z"/>
<path class=z d="M231.7 181.2l1.9-.3 1.8 0-1.8 1z"/>
<path class=A d="M233.6 180.9l1.8 .1 1.8-.4-1.8 .3z"/>
<path class=A d="M235.4 181l1.8 .1 1.9-.9-1.9 .4z"/>
<path class=fg d="M.625 .7708H.8611"/><path class=ff d="M.625 .7708H.8611"/>
<path class=B d="M268.5 196.3l1.8 .9 1.8-2-1.8 .2z"/>
<path class=B d="M270.3 197.2l1.8 .1 1.9-2-1.9-.1z"/>
<path class=C d="M272.1 197.3l1.9 .5 1.8-2.8-1.8 .3z"/>
<path class=C d="M274 197.8l1.8 .2 1.9-3.9-1.9 .9z"/>
<path class=D d="M275.8 198l1.9 .2 1.8-5.6-1.8 1.5z"/>
<path class=E d="M277.7 198.2l1.8-.1 1.8-7.4-1.8 1.9z"/>
<path class=G d="M279.5 198.1l1.8-.1 1.9-9.4-1.9 2.1z"/>
<path class=H d="M281.3 198l1.9 0 1.8-11.3-1.8 1.9z"/>
<path class=I d="M283.2 198l1.8 .3 1.8-12.7-1.8 1.1z"/>
<path class=J d="M285 198.3l1.8 .6 1.9-13.1-1.9-.2z"/>
<path class=B d="M152.7 148.3l1.8 .6 1.9-13.1-1.9-1.1z"/>
<path class=B d="M154.5 148.9l1.9 .2 1.8-11.7-1.8-1.6z"/>
<path class=B d="M156.4 149.1l1.8 0 1.9-9.9-1.9-1.8z"/>
<path class=B d="M158.2 149.1l1.8-.2 1.9-7.8-1.8-1.9z"/>
<path class=B d="M160 148.9l1.9-.2 1.8-5.8-1.8-1.8z"/>
<path class=B d="M161.9 148.7l1.8 0 1.9-4.2-1.9-1.6z"/>
<path class=B d="M163.7 148.7l1.9 .3 1.8-3-1.8-1.5z"/>
<path class=B d="M165.6 149l1.8 0 1.8-1.6-1.8-1.4z"/>
<path class=B d="M167.4 149l1.8 .9 1.9-.9-1.9-1.6z"/>
<path class=fg d="M.125 .7569H.3472"/><path class=ff d="M.125 .7569H.3472"/>
<path class=A d="M198.6 164.2l1.9 .9 1.8-.1-1.8-1.7z"/>
<path class=A d="M200.5 165.1l1.8 .8 1.9 .7-1.9-1.6z"/>
<path class=A d="M202.3 165.9l1.9 1.8 1.8 1-1.8-2.1z"/>
<path class=z d="M204.2 167.7l1.8 1.5 1.8 2.2-1.8-2.7z"/>
<path class=y d="M206 169.2l1.8 1.8 1.9 3.7-1.9-3.3z"/>
<path class=x d="M207.8 171l1.9 1.9 1.8 5.5-1.8-3.7z"/>
<path class=v d="M209.7 172.9l1.8 2 1.8 7.4-1.8-3.9z"/>
<path class=u d="M211.5 174.9l1.8 1.9 1.9 9.1-1.9-3.6z"/>
<path class=t d="M213.3 176.8l1.9 1.6 1.8 10.3-1.8-2.8z"/>
<path class=s d="M215.2 178.4l1.8 1.1 1.9 10.8-1.9-1.6z"/>
<path class=s d="M217 179.5l1.8 .6 1.9 10.4-1.8-.2z"/>
<path class=t d="M218.8 180.1l1.9 .3 1.8 9.1-1.8 1z"/>
<path class=u d="M220.7 180.4l1.8-.1 1.9 7.4-1.9 1.8z"/>
<path class=v d="M222.5 180.3l1.9-.2 1.8 5.5-1.8 2.1z"/>
<path class=x d="M224.4 180.1l1.8-.2 1.8 3.7-1.8 2z"/>
<path class=y d="M226.2 179.9l1.8 0 1.9 2.2-1.9 1.5z"/>
<path class=z d="M228 179.9l1.9 .3 1.8 1-1.8 .9z"/>
<path class=A d="M229.9 180.2l1.8 0 1.9 .7-1.9 .3z"/>
<path class=A d="M231.7 180.2l1.9 .9 1.8-.1-1.8-.1z"/>
<path class=A d="M233.6 181.1l1.8 .9 1.8-.9-1.8-.1z"/>
<path class=fg d="M.625 .7569H.875"/><path class=ff d="M.625 .7569H.875"/>
<path class=B d="M268.5 198l1.8 .9 1.8-1.6-1.8-.1z"/>
<path class=B d="M270.3 198.9l1.8 1.8 1.9-2.9-1.9-.5z"/>
<path class=B d="M272.1 200.7l1.9 1.5 1.8-4.2-1.8-.2z"/>
<path class=B d="M274 202.2l1.8 1.8 1.9-5.8-1.9-.2z"/>
<path class=B d="M275.8 204l1.8 1.9 1.9-7.8-1.8 .1z"/>
<path class=B d="M277.6 205.9l1.9 2 1.8-9.9-1.8 .1z"/>
<path class=B d="M279.5 207.9l1.8 1.9 1.9-11.8-1.9 0z"/>
<path class=B d="M281.3 209.8l1.9 1.6 1.8-13.1-1.8-.3z"/>
<path class=B d="M283.2 211.4l1.8 1.1 1.8-13.6-1.8-.6z"/>
<path class=s d="M150.9 160.9l1.8 .2 1.8-12.2-1.8-.6z"/>
<path class=t d="M152.7 161.1l1.8-1 1.9-11-1.9-.2z"/>
<path class=u d="M154.5 160.1l1.9-1.9 1.8-9.1-1.8 0z"/>
<path class=v d="M156.4 158.2l1.8-2.1 1.8-7.2-1.8 .2z"/>
<path class=x d="M158.2 156.1l1.8-1.9 1.9-5.5-1.9 .2z"/>
<path class=y d="M160 154.2l1.9-1.5 1.8-4-1.8 0z"/>
<path class=z d="M161.9 152.7l1.8-.9 1.9-2.8-1.9-.3z"/>
<path class=A d="M163.7 151.8l1.9-.4 1.8-2.4-1.8 0z"/>
<path class=A d="M165.6 151.4l1.8 .2 1.8-1.7-1.8-.9z"/>
<path class=A d="M167.4 151.6l1.8 .1 1.9-.9-1.9-.9z"/>
<path class=fg d="M.1389 .7431H.3611"/><path class=ff d="M.1389 .7431H.3611"/>
<path class=B d="M198.6 165.9l1.9 .2 1.8-.2-1.8-.8z"/>
<path class=B d="M200.5 166.1l1.8 .4 1.9 1.2-1.9-1.8z"/>
<path class=B d="M202.3 166.5l1.8 .3 1.9 2.4-1.8-1.5z"/>
<path class=B d="M204.1 166.8l1.9 .2 1.8 4-1.8-1.8z"/>
<path class=B d="M206 167l1.8-.1 1.9 6-1.9-1.9z"/>
<path class=B d="M207.8 166.9l1.9-.1 1.8 8.1-1.8-2z"/>
<path class=B d="M209.7 166.8l1.8 0 1.8 10-1.8-1.9z"/>
<path class=B d="M211.5 166.8l1.8 .3 1.9 11.3-1.9-1.6z"/>
<path class=B d="M213.3 167.1l1.9 .6 1.8 11.8-1.8-1.1z"/>
<path class=B d="M215.2 167.7l1.8 1.1 1.8 11.3-1.8-.6z"/>
<path class=B d="M217 168.8l1.8 1.6 1.9 10-1.9-.3z"/>
<path class=B d="M218.8 170.4l1.9 1.8 1.8 8.1-1.8 .1z"/>
<path class=B d="M220.7 172.2l1.8 1.8 1.9 6.1-1.9 .2z"/>
<path class=B d="M222.5 174l1.9 1.9 1.8 4-1.8 .2z"/>
<path class=B d="M224.4 175.9l1.8 1.6 1.8 2.4-1.8 0z"/>
<path class=B d="M226.2 177.5l1.8 1.5 1.9 1.2-1.9-.3z"/>
<path class=B d="M228 179l1.9 1.3 1.8-.1-1.8 0z"/>
<path class=B d="M229.9 180.3l1.8 1.7 1.9-.9-1.9-.9z"/>
<path class=fg d="M.6111 .7431H.8611"/><path class=ff d="M.6111 .7431H.8611"/>
<path class=A d="M264.8 198l1.8 1.7 1.9-1.7-1.9-.8z"/>
<path class=A d="M266.6 199.7l1.9 1.7 1.8-2.5-1.8-.9z"/>
<path class=A d="M268.5 201.4l1.8 2.1 1.8-2.8-1.8-1.8z"/>
<path class=z d="M270.3 203.5l1.8 2.7 1.9-4-1.9-1.5z"/>
<path class=y d="M272.1 206.2l1.9 3.3 1.8-5.5-1.8-1.8z"/>
<path class=x d="M274 209.5l1.8 3.7 1.8-7.3-1.8-1.9z"/>
<path class=v d="M275.8 213.2l1.8 3.9 1.9-9.2-1.9-2z"/>
<path class=u d="M277.6 217.1l1.9 3.6 1.8-10.9-1.8-1.9z"/>
<path class=t d="M279.5 220.7l1.8 2.8 1.9-12.1-1.9-1.6z"/>
<path class=s d="M281.3 223.5l1.9 1.6 1.8-12.6-1.8-1.1z"/>
<path class=l d="M149 171.4l1.9-.2 1.8-10.1-1.8-.2z"/>
<path class=n d="M150.9 171.2l1.8-2 1.8-9.1-1.8 1z"/>
<path class=p d="M152.7 169.2l1.8-3.3 1.9-7.7-1.9 1.9z"/>
<path class=r d="M154.5 165.9l1.9-3.7 1.8-6.1-1.8 2.1z"/>
<path class=t d="M156.4 162.2l1.8-3.4 1.8-4.6-1.8 1.9z"/>
<path class=w d="M158.2 158.8l1.8-2.7 1.9-3.4-1.9 1.5z"/>
<path class=x d="M160 156.1l1.9-1.9 1.8-2.4-1.8 .9z"/>
<path class=z d="M161.9 154.2l1.8-.9 1.9-1.9-1.9 .4z"/>
<path class=A d="M163.7 153.3l1.9-.3 1.8-1.4-1.8-.2z"/>
<path class=A d="M165.6 153l1.8-.4 1.8-.9-1.8-.1z"/>
<path class=fg d="M.1389 .7292H.3472"/><path class=ff d="M.1389 .7292H.3472"/>
<path class=B d="M195 165.9l1.8-.1 1.8 .1-1.8-.8z"/>
<path class=B d="M196.8 165.8l1.8 .1 1.9 .2-1.9-.2z"/>
<path class=C d="M198.6 165.9l1.9-.4 1.8 1-1.8-.4z"/>
<path class=C d="M200.5 165.5l1.8-.8 1.8 2.1-1.8-.3z"/>
<path class=D d="M202.3 164.7l1.8-1.5 1.9 3.8-1.9-.2z"/>
<path class=E d="M204.1 163.2l1.9-1.9 1.8 5.6-1.8 .1z"/>
<path class=G d="M206 161.3l1.8-2.1 1.9 7.6-1.9 .1z"/>
<path class=H d="M207.8 159.2l1.9-1.9 1.8 9.5-1.8 0z"/>
<path class=I d="M209.7 157.3l1.8-1.1 1.8 10.9-1.8-.3z"/>
<path class=J d="M211.5 156.2l1.8 .1 1.9 11.4-1.9-.6z"/>
<path class=J d="M213.3 156.3l1.9 1.7 1.8 10.8-1.8-1.1z"/>
<path class=I d="M215.2 158l1.8 2.9 1.8 9.5-1.8-1.6z"/>
<path class=H d="M217 160.9l1.8 3.7 1.9 7.6-1.9-1.8z"/>
<path class=G d="M218.8 164.6l1.9 3.8 1.8 5.6-1.8-1.8z"/>
<path class=E d="M220.7 168.4l1.8 3.7 1.9 3.8-1.9-1.9z"/>
<path class=D d="M222.5 172.1l1.9 3.3 1.8 2.1-1.8-1.6z"/>
<path class=C d="M224.4 175.4l1.8 2.6 1.8 1-1.8-1.5z"/>
<path class=C d="M226.2 178l1.8 2.1 1.9 .2-1.9-1.3z"/>
<path class=B d="M228 180.1l1.9 1.7 1.8 .2-1.8-1.7z"/>
<path class=B d="M229.9 181.8l1.8 2 1.8-.9-1.8-.9z"/>
<path class=fg d="M.625 .7292H.8611"/><path class=ff d="M.625 .7292H.8611"/>
<path class=A d="M262.9 198.9l1.9 2.2 1.8-1.4-1.8-1.7z"/>
<path class=A d="M264.8 201.1l1.8 2.1 1.9-1.8-1.9-1.7z"/>
<path class=z d="M266.6 203.2l1.9 2.7 1.8-2.4-1.8-2.1z"/>
<path class=x d="M268.5 205.9l1.8 3.7 1.8-3.4-1.8-2.7z"/>
<path class=w d="M270.3 209.6l1.8 4.5 1.9-4.6-1.9-3.3z"/>
<path class=t d="M272.1 214.1l1.9 5.2 1.8-6.1-1.8-3.7z"/>
<path class=r d="M274 219.3l1.8 5.4 1.8-7.6-1.8-3.9z"/>
<path class=p d="M275.8 224.7l1.8 5.1 1.9-9.1-1.9-3.6z"/>
<path class=n d="M277.6 229.8l1.9 3.8 1.8-10.1-1.8-2.8z"/>
<path class=l d="M279.5 233.6l1.8 2 1.9-10.5-1.9-1.6z"/>
<path class=g d="M147.2 179.1l1.8-.6 1.9-7.3-1.9 .2z"/>
<path class=i d="M149 178.5l1.9-2.9 1.8-6.4-1.8 2z"/>
<path class=k d="M150.9 175.6l1.8-4.3 1.8-5.4-1.8 3.3z"/>
<path class=o d="M152.7 171.3l1.8-4.7 1.9-4.4-1.9 3.7z"/>
<path class=r d="M154.5 166.6l1.9-4.5 1.8-3.3-1.8 3.4z"/>
<path class=u d="M156.4 162.1l1.8-3.5 1.8-2.5-1.8 2.7z"/>
<path class=w d="M158.2 158.6l1.8-2.4 1.9-2-1.9 1.9z"/>
<path class=y d="M160 156.2l1.9-1.4 1.8-1.5-1.8 .9z"/>
<path class=z d="M161.9 154.8l1.8-.6 1.9-1.2-1.9 .3z"/>
<path class=A d="M163.7 154.2l1.9 .1 1.8-1.7-1.8 .4z"/>
<path class=A d="M165.6 154.3l1.8 .1 1.8-.9-1.8-.9z"/>
<path class=fg d="M.1528 .7153H.3333"/><path class=ff d="M.1528 .7153H.3333"/>
<path class=B d="M191.3 165.9l1.8 .1 1.9-.1-1.9-.8z"/>
<path class=B d="M193.1 166l1.9 .2 1.8-.4-1.8 .1z"/>
<path class=C d="M195 166.2l1.8-.3 1.8 0-1.8-.1z"/>
<path class=D d="M196.8 165.9l1.8-.9 1.9 .5-1.9 .4z"/>
<path class=E d="M198.6 165l1.9-1.8 1.8 1.5-1.8 .8z"/>
<path class=G d="M200.5 163.2l1.8-2.6 1.8 2.6-1.8 1.5z"/>
<path class=I d="M202.3 160.6l1.8-3.3 1.9 4-1.9 1.9z"/>
<path class=K d="M204.1 157.3l1.9-3.7 1.8 5.6-1.8 2.1z"/>
<path class=N d="M206 153.6l1.8-3.5 1.9 7.2-1.9 1.9z"/>
<path class=P d="M207.8 150.1l1.9-2.6 1.8 8.7-1.8 1.1z"/>
<path class=Q d="M209.7 147.5l1.8-.5 1.8 9.3-1.8-.1z"/>
<path class=Q d="M211.5 147l1.8 2.3 1.9 8.7-1.9-1.7z"/>
<path class=P d="M213.3 149.3l1.9 4.3 1.8 7.3-1.8-2.9z"/>
<path class=N d="M215.2 153.6l1.8 5.3 1.8 5.7-1.8-3.7z"/>
<path class=K d="M217 158.9l1.8 5.5 1.9 4-1.9-3.8z"/>
<path class=I d="M218.8 164.4l1.9 5.1 1.8 2.6-1.8-3.7z"/>
<path class=G d="M220.7 169.5l1.8 4.4 1.9 1.5-1.9-3.3z"/>
<path class=E d="M222.5 173.9l1.9 3.6 1.8 .5-1.8-2.6z"/>
<path class=D d="M224.4 177.5l1.8 2.7 1.8-.1-1.8-2.1z"/>
<path class=C d="M226.2 180.2l1.8 2 1.9-.4-1.9-1.7z"/>
<path class=B d="M228 182.2l1.9 1.6 1.8 0-1.8-2z"/>
<path class=B d="M229.9 183.8l1.8 1.8 1.8-.9-1.8-.9z"/>
<path class=fg d="M.6389 .7153H.8472"/><path class=ff d="M.6389 .7153H.8472"/>
<path class=A d="M259.3 198.9l1.8 1.7 1.8-1.7-1.8-.9z"/>
<path class=A d="M261.1 200.6l1.8 1.8 1.9-1.3-1.9-2.2z"/>
<path class=z d="M262.9 202.4l1.9 2.3 1.8-1.5-1.8-2.1z"/>
<path class=y d="M264.8 204.7l1.8 3.2 1.9-2-1.9-2.7z"/>
<path class=w d="M266.6 207.9l1.9 4.2 1.8-2.5-1.8-3.7z"/>
<path class=u d="M268.5 212.1l1.8 5.3 1.8-3.3-1.8-4.5z"/>
<path class=r d="M270.3 217.4l1.8 6.2 1.9-4.3-1.9-5.2z"/>
<path class=o d="M272.1 223.6l1.9 6.6 1.8-5.5-1.8-5.4z"/>
<path class=k d="M274 230.2l1.8 6 1.8-6.4-1.8-5.1z"/>
<path class=i d="M275.8 236.2l1.8 4.7 1.9-7.3-1.9-3.8z"/>
<path class=g d="M277.6 240.9l1.9 2.4 1.8-7.7-1.8-2z"/>
<path class=c d="M145.3 183.5l1.9-1.4 1.8-3.6-1.8 .6z"/>
<path class=e d="M147.2 182.1l1.8-3.4 1.9-3.1-1.9 2.9z"/>
<path class=i d="M149 178.7l1.9-4.7 1.8-2.7-1.8 4.3z"/>
<path class=m d="M150.9 174l1.8-5.2 1.8-2.2-1.8 4.7z"/>
<path class=q d="M152.7 168.8l1.8-4.8 1.9-1.9-1.9 4.5z"/>
<path class=t d="M154.5 164l1.9-3.8 1.8-1.6-1.8 3.5z"/>
<path class=w d="M156.4 160.2l1.8-2.7 1.8-1.3-1.8 2.4z"/>
<path class=y d="M158.2 157.5l1.8-1.6 1.9-1.1-1.9 1.4z"/>
<path class=z d="M160 155.9l1.9-.6 1.8-1.1-1.8 .6z"/>
<path class=A d="M161.9 155.3l1.8 0 1.9-1-1.9-.1z"/>
<path class=A d="M163.7 155.3l1.9-.1 1.8-.8-1.8-.1z"/>
<path class=fg d="M.1528 .7014H.3333"/><path class=ff d="M.1528 .7014H.3333"/>
<path class=B d="M189.4 166.8l1.9 0 1.8-.8-1.8-.1z"/>
<path class=B d="M191.3 166.8l1.8 .1 1.9-.7-1.9-.2z"/>
<path class=C d="M193.1 166.9l1.9-.5 1.8-.5-1.8 .3z"/>
<path class=D d="M195 166.4l1.8-1.2 1.8-.2-1.8 .9z"/>
<path class=F d="M196.8 165.2l1.8-2.1 1.9 .1-1.9 1.8z"/>
<path class=H d="M198.6 163.1l1.9-3.2 1.8 .7-1.8 2.6z"/>
<path class=K d="M200.5 159.9l1.8-4 1.8 1.4-1.8 3.3z"/>
<path class=N d="M202.3 155.9l1.8-4.4 1.9 2.1-1.9 3.7z"/>
<path class=Q d="M204.1 151.5l1.9-4.4 1.8 3-1.8 3.5z"/>
<path class=T d="M206 147.1l1.8-3.6 1.9 4-1.9 2.6z"/>
<path class=V d="M207.8 143.5l1.9-2.5 1.8 6-1.8 .5z"/>
<path class=V d="M209.7 141l1.8 4.3 1.8 4-1.8-2.3z"/>
<path class=T d="M211.5 145.3l1.8 5.4 1.9 2.9-1.9-4.3z"/>
<path class=Q d="M213.3 150.7l1.9 6.1 1.8 2.1-1.8-5.3z"/>
<path class=N d="M215.2 156.8l1.8 6.3 1.8 1.3-1.8-5.5z"/>
<path class=K d="M217 163.1l1.8 5.7 1.9 .7-1.9-5.1z"/>
<path class=H d="M218.8 168.8l1.9 5 1.8 .1-1.8-4.4z"/>
<path class=F d="M220.7 173.8l1.8 3.9 1.9-.2-1.9-3.6z"/>
<path class=D d="M222.5 177.7l1.9 3 1.8-.5-1.8-2.7z"/>
<path class=C d="M224.4 180.7l1.8 2.2 1.8-.7-1.8-2z"/>
<path class=B d="M226.2 182.9l1.8 1.7 1.9-.8-1.9-1.6z"/>
<path class=B d="M228 184.6l1.9 1.9 1.8-.9-1.8-1.8z"/>
<path class=fg d="M.6389 .7014H.8472"/><path class=ff d="M.6389 .7014H.8472"/>
<path class=A d="M257.4 199.8l1.9 1.8 1.8-1-1.8-1.7z"/>
<path class=A d="M259.3 201.6l1.8 1.8 1.8-1-1.8-1.8z"/>
<path class=z d="M261.1 203.4l1.8 2.4 1.9-1.1-1.9-2.3z"/>
<path class=y d="M262.9 205.8l1.9 3.4 1.8-1.3-1.8-3.2z"/>
<path class=w d="M264.8 209.2l1.8 4.5 1.9-1.6-1.9-4.2z"/>
<path class=t d="M266.6 213.7l1.9 5.6 1.8-1.9-1.8-5.3z"/>
<path class=q d="M268.5 219.3l1.8 6.6 1.8-2.3-1.8-6.2z"/>
<path class=m d="M270.3 225.9l1.8 6.9 1.9-2.6-1.9-6.6z"/>
<path class=i d="M272.1 232.8l1.9 6.5 1.8-3.1-1.8-6z"/>
<path class=e d="M274 239.3l1.8 5.2 1.8-3.6-1.8-4.7z"/>
<path class=c d="M275.8 244.5l1.8 3.2 1.9-4.4-1.9-2.4z"/>
<path class=b d="M143.5 181.9l1.8-.6 1.9 .8-1.9 1.4z"/>
<path class=d d="M145.3 181.3l1.9-3.1 1.8 .5-1.8 3.4z"/>
<path class=i d="M147.2 178.2l1.8-4.4 1.9 .2-1.9 4.7z"/>
<path class=l d="M149 173.8l1.9-4.9 1.8-.1-1.8 5.2z"/>
<path class=p d="M150.9 168.9l1.8-4.5 1.8-.4-1.8 4.8z"/>
<path class=t d="M152.7 164.4l1.8-3.7 1.9-.5-1.9 3.8z"/>
<path class=w d="M154.5 160.7l1.9-2.5 1.8-.7-1.8 2.7z"/>
<path class=y d="M156.4 158.2l1.8-1.5 1.8-.8-1.8 1.6z"/>
<path class=z d="M158.2 156.7l1.8-.6 1.9-.8-1.9 .6z"/>
<path class=A d="M160 156.1l1.9 0 1.8-.8-1.8 0z"/>
<path class=A d="M161.9 156.1l1.8 0 1.9-.9-1.9 .1z"/>
<path class=fg d="M.1528 .6875H.3333"/><path class=ff d="M.1528 .6875H.3333"/>
<path class=B d="M187.6 167.7l1.8 0 1.9-.9-1.9 0z"/>
<path class=B d="M189.4 167.7l1.9 .1 1.8-.9-1.8-.1z"/>
<path class=C d="M191.3 167.8l1.8-.4 1.9-1-1.9 .5z"/>
<path class=D d="M193.1 167.4l1.9-1.1 1.8-1.1-1.8 1.2z"/>
<path class=F d="M195 166.3l1.8-2 1.8-1.2-1.8 2.1z"/>
<path class=H d="M196.8 164.3l1.8-3 1.9-1.4-1.9 3.2z"/>
<path class=K d="M198.6 161.3l1.9-3.7 1.8-1.7-1.8 4z"/>
<path class=O d="M200.5 157.6l1.8-4.2 1.8-1.9-1.8 4.4z"/>
<path class=R d="M202.3 153.4l1.8-3.9 1.9-2.4-1.9 4.4z"/>
<path class=U d="M204.1 149.5l1.9-2.8 1.8-3.2-1.8 3.6z"/>
<path class=W d="M206 146.7l1.8-.6 1.9-5.1-1.9 2.5z"/>
<path class=W d="M207.8 146.1l1.9 2.4 1.8-3.2-1.8-4.3z"/>
<path class=U d="M209.7 148.5l1.8 4.6 1.8-2.4-1.8-5.4z"/>
<path class=R d="M211.5 153.1l1.8 5.7 1.9-2-1.9-6.1z"/>
<path class=O d="M213.3 158.8l1.9 5.9 1.8-1.6-1.8-6.3z"/>
<path class=K d="M215.2 164.7l1.8 5.5 1.8-1.4-1.8-5.7z"/>
<path class=H d="M217 170.2l1.8 4.8 1.9-1.2-1.9-5z"/>
<path class=F d="M218.8 175l1.9 3.8 1.8-1.1-1.8-3.9z"/>
<path class=D d="M220.7 178.8l1.8 2.9 1.9-1-1.9-3z"/>
<path class=C d="M222.5 181.7l1.9 2.2 1.8-1-1.8-2.2z"/>
<path class=B d="M224.4 183.9l1.8 1.6 1.8-.9-1.8-1.7z"/>
<path class=B d="M226.2 185.5l1.8 1.8 1.9-.8-1.9-1.9z"/>
<path class=fg d="M.6389 .6875H.8472"/><path class=ff d="M.6389 .6875H.8472"/>
<path class=A d="M255.6 200.7l1.8 1.8 1.9-.9-1.9-1.8z"/>
<path class=A d="M257.4 202.5l1.9 1.8 1.8-.9-1.8-1.8z"/>
<path class=z d="M259.3 204.3l1.8 2.3 1.8-.8-1.8-2.4z"/>
<path class=y d="M261.1 206.6l1.8 3.3 1.9-.7-1.9-3.4z"/>
<path class=w d="M262.9 209.9l1.9 4.3 1.8-.5-1.8-4.5z"/>
<path class=t d="M264.8 214.2l1.8 5.5 1.9-.4-1.9-5.6z"/>
<path class=p d="M266.6 219.7l1.9 6.3 1.8-.1-1.8-6.6z"/>
<path class=l d="M268.5 226l1.8 6.7 1.8 .1-1.8-6.9z"/>
<path class=i d="M270.3 232.7l1.8 6.2 1.9 .4-1.9-6.5z"/>
<path class=d d="M272.1 238.9l1.9 4.8 1.8 .8-1.8-5.2z"/>
<path class=b d="M274 243.7l1.8 2.4 1.8 1.6-1.8-3.2z"/>
<path class=e d="M141.7 177.6l1.8-.3 1.8 4-1.8 .6z"/>
<path class=g d="M143.5 177.3l1.8-2.3 1.9 3.2-1.9 3.1z"/>
<path class=j d="M145.3 175l1.9-3.6 1.8 2.4-1.8 4.4z"/>
<path class=n d="M147.2 171.4l1.8-4.1 1.9 1.6-1.9 4.9z"/>
<path class=q d="M149 167.3l1.9-3.8 1.8 .9-1.8 4.5z"/>
<path class=t d="M150.9 163.5l1.8-3.1 1.8 .3-1.8 3.7z"/>
<path class=w d="M152.7 160.4l1.8-2.1 1.9-.1-1.9 2.5z"/>
<path class=y d="M154.5 158.3l1.9-1.1 1.8-.5-1.8 1.5z"/>
<path class=z d="M156.4 157.2l1.8-.4 1.8-.7-1.8 .6z"/>
<path class=A d="M158.2 156.8l1.8 .1 1.9-.8-1.9 0z"/>
<path class=A d="M160 156.9l1.9 .1 1.8-.9-1.8 0z"/>
<path class=fg d="M.1528 .6736H.3333"/><path class=ff d="M.1528 .6736H.3333"/>
<path class=B d="M185.8 168.6l1.8 .1 1.8-1-1.8 0z"/>
<path class=B d="M187.6 168.7l1.8 .3 1.9-1.2-1.9-.1z"/>
<path class=C d="M189.4 169l1.9-.2 1.8-1.4-1.8 .4z"/>
<path class=D d="M191.3 168.8l1.8-.8 1.9-1.7-1.9 1.1z"/>
<path class=F d="M193.1 168l1.9-1.4 1.8-2.3-1.8 2z"/>
<path class=H d="M195 166.6l1.8-2.3 1.8-3-1.8 3z"/>
<path class=J d="M196.8 164.3l1.8-2.9 1.9-3.8-1.9 3.7z"/>
<path class=M d="M198.6 161.4l1.9-3.1 1.8-4.9-1.8 4.2z"/>
<path class=P d="M200.5 158.3l1.8-2.7 1.8-6.1-1.8 3.9z"/>
<path class=S d="M202.3 155.6l1.8-1.8 1.9-7.1-1.9 2.8z"/>
<path class=T d="M204.1 153.8l1.9-.1 1.8-7.6-1.8 .6z"/>
<path class=T d="M206 153.7l1.8 1.9 1.9-7.1-1.9-2.4z"/>
<path class=S d="M207.8 155.6l1.9 3.5 1.8-6-1.8-4.6z"/>
<path class=P d="M209.7 159.1l1.8 4.6 1.8-4.9-1.8-5.7z"/>
<path class=M d="M211.5 163.7l1.8 4.9 1.9-3.9-1.9-5.9z"/>
<path class=J d="M213.3 168.6l1.9 4.6 1.8-3-1.8-5.5z"/>
<path class=H d="M215.2 173.2l1.8 4.1 1.8-2.3-1.8-4.8z"/>
<path class=F d="M217 177.3l1.8 3.2 1.9-1.7-1.9-3.8z"/>
<path class=D d="M218.8 180.5l1.9 2.6 1.8-1.4-1.8-2.9z"/>
<path class=C d="M220.7 183.1l1.8 1.9 1.9-1.1-1.9-2.2z"/>
<path class=B d="M222.5 185l1.9 1.5 1.8-1-1.8-1.6z"/>
<path class=B d="M224.4 186.5l1.8 1.7 1.8-.9-1.8-1.8z"/>
<path class=fg d="M.6389 .6736H.8472"/><path class=ff d="M.6389 .6736H.8472"/>
<path class=A d="M253.8 201.6l1.8 1.7 1.8-.8-1.8-1.8z"/>
<path class=A d="M255.6 203.3l1.8 1.6 1.9-.6-1.9-1.8z"/>
<path class=z d="M257.4 204.9l1.9 2.2 1.8-.5-1.8-2.3z"/>
<path class=y d="M259.3 207.1l1.8 3 1.8-.2-1.8-3.3z"/>
<path class=w d="M261.1 210.1l1.8 3.8 1.9 .3-1.9-4.3z"/>
<path class=t d="M262.9 213.9l1.9 4.9 1.8 .9-1.8-5.5z"/>
<path class=q d="M264.8 218.8l1.8 5.6 1.9 1.6-1.9-6.3z"/>
<path class=n d="M266.6 224.4l1.9 5.9 1.8 2.4-1.8-6.7z"/>
<path class=j d="M268.5 230.3l1.8 5.4 1.8 3.2-1.8-6.2z"/>
<path class=g d="M270.3 235.7l1.8 4 1.9 4-1.9-4.8z"/>
<path class=e d="M272.1 239.7l1.9 2.1 1.8 4.3-1.8-2.4z"/>
<path class=j d="M139.8 171.8l1.9 .1 1.8 5.4-1.8 .3z"/>
<path class=k d="M141.7 171.9l1.8-1.6 1.8 4.7-1.8 2.3z"/>
<path class=m d="M143.5 170.3l1.8-2.6 1.9 3.7-1.9 3.6z"/>
<path class=p d="M145.3 167.7l1.9-3 1.8 2.6-1.8 4.1z"/>
<path class=s d="M147.2 164.7l1.8-2.8 1.9 1.6-1.9 3.8z"/>
<path class=v d="M149 161.9l1.9-2.2 1.8 .7-1.8 3.1z"/>
<path class=x d="M150.9 159.7l1.8-1.5 1.8 .1-1.8 2.1z"/>
<path class=y d="M152.7 158.2l1.8-.7 1.9-.3-1.9 1.1z"/>
<path class=z d="M154.5 157.5l1.9-.1 1.8-.6-1.8 .4z"/>
<path class=A d="M156.4 157.4l1.8-.4 1.8-.1-1.8-.1z"/>
<path class=A d="M158.2 157l1.8 .9 1.9-.9-1.9-.1z"/>
<path class=fg d="M.1528 .6597H.3333"/><path class=ff d="M.1528 .6597H.3333"/>
<path class=B d="M183.9 169.5l1.9 .9 1.8-1.7-1.8-.1z"/>
<path class=B d="M185.8 170.4l1.8-.2 1.8-1.2-1.8-.3z"/>
<path class=C d="M187.6 170.2l1.8 .2 1.9-1.6-1.9 .2z"/>
<path class=C d="M189.4 170.4l1.9-.3 1.8-2.1-1.8 .8z"/>
<path class=E d="M191.3 170.1l1.8-.8 1.9-2.7-1.9 1.4z"/>
<path class=F d="M193.1 169.3l1.9-1.3 1.8-3.7-1.8 2.3z"/>
<path class=H d="M195 168l1.8-1.8 1.8-4.8-1.8 2.9z"/>
<path class=J d="M196.8 166.2l1.8-1.8 1.9-6.1-1.9 3.1z"/>
<path class=M d="M198.6 164.4l1.9-1.6 1.8-7.2-1.8 2.7z"/>
<path class=N d="M200.5 162.8l1.8-.9 1.8-8.1-1.8 1.8z"/>
<path class=O d="M202.3 161.9l1.8 .3 1.9-8.5-1.9 .1z"/>
<path class=O d="M204.1 162.2l1.9 1.5 1.8-8.1-1.8-1.9z"/>
<path class=N d="M206 163.7l1.8 2.7 1.9-7.3-1.9-3.5z"/>
<path class=M d="M207.8 166.4l1.9 3.3 1.8-6-1.8-4.6z"/>
<path class=J d="M209.7 169.7l1.8 3.7 1.8-4.8-1.8-4.9z"/>
<path class=H d="M211.5 173.4l1.8 3.5 1.9-3.7-1.9-4.6z"/>
<path class=F d="M213.3 176.9l1.9 3.1 1.8-2.7-1.8-4.1z"/>
<path class=E d="M215.2 180l1.8 2.6 1.8-2.1-1.8-3.2z"/>
<path class=C d="M217 182.6l1.8 2 1.9-1.5-1.9-2.6z"/>
<path class=C d="M218.8 184.6l1.9 1.7 1.8-1.3-1.8-1.9z"/>
<path class=B d="M220.7 186.3l1.8 1.9 1.9-1.7-1.9-1.5z"/>
<path class=B d="M222.5 188.2l1.9 .9 1.8-.9-1.8-1.7z"/>
<path class=fg d="M.6389 .6597H.8472"/><path class=ff d="M.6389 .6597H.8472"/>
<path class=A d="M251.9 202.5l1.9 .9 1.8-.1-1.8-1.7z"/>
<path class=A d="M253.8 203.4l1.8 2.1 1.8-.6-1.8-1.6z"/>
<path class=z d="M255.6 205.5l1.8 1.9 1.9-.3-1.9-2.2z"/>
<path class=y d="M257.4 207.4l1.9 2.6 1.8 .1-1.8-3z"/>
<path class=x d="M259.3 210l1.8 3.2 1.8 .7-1.8-3.8z"/>
<path class=v d="M261.1 213.2l1.8 4 1.9 1.6-1.9-4.9z"/>
<path class=s d="M262.9 217.2l1.9 4.6 1.8 2.6-1.8-5.6z"/>
<path class=p d="M264.8 221.8l1.8 4.7 1.9 3.8-1.9-5.9z"/>
<path class=m d="M266.6 226.5l1.9 4.4 1.8 4.8-1.8-5.4z"/>
<path class=k d="M268.5 230.9l1.8 3.4 1.8 5.4-1.8-4z"/>
<path class=j d="M270.3 234.3l1.8 1.7 1.9 5.8-1.9-2.1z"/>
<path class=n d="M138 165.9l1.8 .3 1.9 5.7-1.9-.1z"/>
<path class=o d="M139.8 166.2l1.9-.8 1.8 4.9-1.8 1.6z"/>
<path class=q d="M141.7 165.4l1.8-1.6 1.8 3.9-1.8 2.6z"/>
<path class=s d="M143.5 163.8l1.8-1.9 1.9 2.8-1.9 3z"/>
<path class=u d="M145.3 161.9l1.9-1.7 1.8 1.7-1.8 2.8z"/>
<path class=w d="M147.2 160.2l1.8-1.3 1.9 .8-1.9 2.2z"/>
<path class=y d="M149 158.9l1.9-.8 1.8 .1-1.8 1.5z"/>
<path class=z d="M150.9 158.1l1.8-.3 1.8-.3-1.8 .7z"/>
<path class=A d="M152.7 157.8l1.8 .1 1.9-.5-1.9 .1z"/>
<path class=A d="M154.5 157.9l1.9 0 1.8-.9-1.8 .4z"/>
<path class=fg d="M.1389 .6458H.3472"/><path class=ff d="M.1389 .6458H.3472"/>
<path class=B d="M183.9 171.3l1.9 .2 1.8-1.3-1.8 .2z"/>
<path class=B d="M185.8 171.5l1.8 .4 1.8-1.5-1.8-.2z"/>
<path class=C d="M187.6 171.9l1.8 .1 1.9-1.9-1.9 .3z"/>
<path class=D d="M189.4 172l1.9-.1 1.8-2.6-1.8 .8z"/>
<path class=E d="M191.3 171.9l1.8-.5 1.9-3.4-1.9 1.3z"/>
<path class=F d="M193.1 171.4l1.9-.7 1.8-4.5-1.8 1.8z"/>
<path class=G d="M195 170.7l1.8-.7 1.8-5.6-1.8 1.8z"/>
<path class=I d="M196.8 170l1.8-.6 1.9-6.6-1.9 1.6z"/>
<path class=J d="M198.6 169.4l1.9-.2 1.8-7.3-1.8 .9z"/>
<path class=K d="M200.5 169.2l1.8 .6 1.8-7.6-1.8-.3z"/>
<path class=K d="M202.3 169.8l1.8 1.2 1.9-7.3-1.9-1.5z"/>
<path class=J d="M204.1 171l1.9 2 1.8-6.6-1.8-2.7z"/>
<path class=I d="M206 173l1.8 2.3 1.9-5.6-1.9-3.3z"/>
<path class=G d="M207.8 175.3l1.9 2.6 1.8-4.5-1.8-3.7z"/>
<path class=F d="M209.7 177.9l1.8 2.5 1.8-3.5-1.8-3.5z"/>
<path class=E d="M211.5 180.4l1.8 2.2 1.9-2.6-1.9-3.1z"/>
<path class=D d="M213.3 182.6l1.9 1.9 1.8-1.9-1.8-2.6z"/>
<path class=C d="M215.2 184.5l1.8 1.6 1.8-1.5-1.8-2z"/>
<path class=B d="M217 186.1l1.8 1.4 1.9-1.2-1.9-1.7z"/>
<path class=B d="M218.8 187.5l1.9 1.6 1.8-.9-1.8-1.9z"/>
<path class=fg d="M.625 .6458H.8611"/><path class=ff d="M.625 .6458H.8611"/>
<path class=A d="M251.9 204.3l1.9 1.8 1.8-.6-1.8-2.1z"/>
<path class=A d="M253.8 206.1l1.8 1.6 1.8-.3-1.8-1.9z"/>
<path class=z d="M255.6 207.7l1.8 2.1 1.9 .2-1.9-2.6z"/>
<path class=y d="M257.4 209.8l1.9 2.6 1.8 .8-1.8-3.2z"/>
<path class=w d="M259.3 212.4l1.8 3.1 1.8 1.7-1.8-4z"/>
<path class=u d="M261.1 215.5l1.8 3.5 1.9 2.8-1.9-4.6z"/>
<path class=s d="M262.9 219l1.9 3.6 1.8 3.9-1.8-4.7z"/>
<path class=q d="M264.8 222.6l1.8 3.4 1.9 4.9-1.9-4.4z"/>
<path class=o d="M266.6 226l1.9 2.6 1.8 5.7-1.8-3.4z"/>
<path class=n d="M268.5 228.6l1.8 1.5 1.8 5.9-1.8-1.7z"/>
<path class=r d="M136.2 160.9l1.8 .5 1.8 4.8-1.8-.3z"/>
<path class=s d="M138 161.4l1.8-.2 1.9 4.2-1.9 .8z"/>
<path class=t d="M139.8 161.2l1.9-.7 1.8 3.3-1.8 1.6z"/>
<path class=v d="M141.7 160.5l1.8-.9 1.8 2.3-1.8 1.9z"/>
<path class=w d="M143.5 159.6l1.8-.8 1.9 1.4-1.9 1.7z"/>
<path class=x d="M145.3 158.8l1.9-.6 1.8 .7-1.8 1.3z"/>
<path class=z d="M147.2 158.2l1.8-.2 1.9 .1-1.9 .8z"/>
<path class=z d="M149 158l1.8 .1 1.9-.3-1.8 .3z"/>
<path class=A d="M150.8 158.1l1.9-.2 1.8 0-1.8-.1z"/>
<path class=A d="M152.7 157.9l1.8 .9 1.9-.9-1.9 0z"/>
<path class=fg d="M.1389 .6319H.3472"/><path class=ff d="M.1389 .6319H.3472"/>
<path class=B d="M182.1 172.2l1.8 .9 1.9-1.6-1.9-.2z"/>
<path class=B d="M183.9 173.1l1.9 .1 1.8-1.3-1.8-.4z"/>
<path class=B d="M185.8 173.2l1.8 .5 1.8-1.7-1.8-.1z"/>
<path class=C d="M187.6 173.7l1.8 .4 1.9-2.2-1.9 .1z"/>
<path class=C d="M189.4 174.1l1.9 .1 1.8-2.8-1.8 .5z"/>
<path class=D d="M191.3 174.2l1.8 .1 1.9-3.6-1.9 .7z"/>
<path class=E d="M193.1 174.3l1.9 0 1.8-4.3-1.8 .7z"/>
<path class=F d="M195 174.3l1.8 .1 1.8-5-1.8 .6z"/>
<path class=G d="M196.8 174.4l1.8 .4 1.9-5.6-1.9 .2z"/>
<path class=G d="M198.6 174.8l1.9 .7 1.8-5.7-1.8-.6z"/>
<path class=G d="M200.5 175.5l1.8 1 1.8-5.5-1.8-1.2z"/>
<path class=G d="M202.3 176.5l1.8 1.5 1.9-5-1.9-2z"/>
<path class=F d="M204.1 178l1.9 1.6 1.8-4.3-1.8-2.3z"/>
<path class=E d="M206 179.6l1.8 1.8 1.9-3.5-1.9-2.6z"/>
<path class=D d="M207.8 181.4l1.8 1.8 1.9-2.8-1.8-2.5z"/>
<path class=C d="M209.6 183.2l1.9 1.6 1.8-2.2-1.8-2.2z"/>
<path class=C d="M211.5 184.8l1.8 1.4 1.9-1.7-1.9-1.9z"/>
<path class=B d="M213.3 186.2l1.9 1.3 1.8-1.4-1.8-1.6z"/>
<path class=B d="M215.2 187.5l1.8 1.6 1.8-1.6-1.8-1.4z"/>
<path class=B d="M217 189.1l1.8 .9 1.9-.9-1.9-1.6z"/>
<path class=fg d="M.625 .6319H.8611"/><path class=ff d="M.625 .6319H.8611"/>
<path class=A d="M250.1 205.2l1.8 .9 1.9 0-1.9-1.8z"/>
<path class=A d="M251.9 206.1l1.9 2 1.8-.4-1.8-1.6z"/>
<path class=z d="M253.8 208.1l1.8 1.6 1.8 .1-1.8-2.1z"/>
<path class=z d="M255.6 209.7l1.8 2 1.9 .7-1.9-2.6z"/>
<path class=x d="M257.4 211.7l1.9 2.3 1.8 1.5-1.8-3.1z"/>
<path class=w d="M259.3 214l1.8 2.6 1.8 2.4-1.8-3.5z"/>
<path class=v d="M261.1 216.6l1.8 2.7 1.9 3.3-1.9-3.6z"/>
<path class=t d="M262.9 219.3l1.9 2.5 1.8 4.2-1.8-3.4z"/>
<path class=s d="M264.8 221.8l1.8 2 1.9 4.8-1.9-2.6z"/>
<path class=r d="M266.6 223.8l1.9 1.3 1.8 5-1.8-1.5z"/>
<path class=v d="M134.3 157.3l1.8 .7 1.9 3.4-1.8-.5z"/>
<path class=v d="M136.1 158l1.9 .2 1.8 3-1.8 .2z"/>
<path class=w d="M138 158.2l1.8 0 1.9 2.3-1.9 .7z"/>
<path class=x d="M139.8 158.2l1.9-.2 1.8 1.6-1.8 .9z"/>
<path class=y d="M141.7 158l1.8-.1 1.8 .9-1.8 .8z"/>
<path class=z d="M143.5 157.9l1.8 0 1.9 .3-1.9 .6z"/>
<path class=z d="M145.3 157.9l1.9 .3 1.8-.2-1.8 .2z"/>
<path class=A d="M147.2 158.2l1.8 .4 1.8-.5-1.8-.1z"/>
<path class=A d="M149 158.6l1.8 .2 1.9-.9-1.9 .2z"/>
<path class=fg d="M.125 .6181H.3611"/><path class=ff d="M.125 .6181H.3611"/>
<path class=B d="M182.1 174l1.8 .9 1.9-1.7-1.9-.1z"/>
<path class=B d="M183.9 174.9l1.9 .9 1.8-2.1-1.8-.5z"/>
<path class=B d="M185.8 175.8l1.8 0 1.8-1.7-1.8-.4z"/>
<path class=C d="M187.6 175.8l1.8 .5 1.9-2.1-1.9-.1z"/>
<path class=C d="M189.4 176.3l1.9 .5 1.8-2.5-1.8-.1z"/>
<path class=C d="M191.3 176.8l1.8 .5 1.9-3-1.9 0z"/>
<path class=D d="M193.1 177.3l1.8 .5 1.9-3.4-1.8-.1z"/>
<path class=D d="M194.9 177.8l1.9 .7 1.8-3.7-1.8-.4z"/>
<path class=D d="M196.8 178.5l1.8 .8 1.9-3.8-1.9-.7z"/>
<path class=D d="M198.6 179.3l1.9 .9 1.8-3.7-1.8-1z"/>
<path class=D d="M200.5 180.2l1.8 1.2 1.8-3.4-1.8-1.5z"/>
<path class=D d="M202.3 181.4l1.8 1.2 1.9-3-1.9-1.6z"/>
<path class=C d="M204.1 182.6l1.9 1.3 1.8-2.5-1.8-1.8z"/>
<path class=C d="M206 183.9l1.8 1.3 1.8-2-1.8-1.8z"/>
<path class=C d="M207.8 185.2l1.8 1.3 1.9-1.7-1.9-1.6z"/>
<path class=B d="M209.6 186.5l1.9 1.7 1.8-2-1.8-1.4z"/>
<path class=B d="M211.5 188.2l1.8 .9 1.9-1.6-1.9-1.3z"/>
<path class=B d="M213.3 189.1l1.9 .9 1.8-.9-1.8-1.6z"/>
<path class=fg d="M.6111 .6181H.875"/><path class=ff d="M.6111 .6181H.875"/>
<path class=A d="M250.1 207l1.8 1.5 1.9-.4-1.9-2z"/>
<path class=A d="M251.9 208.5l1.8 1.4 1.9-.2-1.8-1.6z"/>
<path class=z d="M253.7 209.9l1.9 1.5 1.8 .3-1.8-2z"/>
<path class=z d="M255.6 211.4l1.8 1.8 1.9 .8-1.9-2.3z"/>
<path class=y d="M257.4 213.2l1.9 1.9 1.8 1.5-1.8-2.6z"/>
<path class=x d="M259.3 215.1l1.8 1.9 1.8 2.3-1.8-2.7z"/>
<path class=w d="M261.1 217l1.8 1.9 1.9 2.9-1.9-2.5z"/>
<path class=v d="M262.9 218.9l1.9 1.5 1.8 3.4-1.8-2z"/>
<path class=v d="M264.8 220.4l1.8 1.1 1.9 3.6-1.9-1.3z"/>
<path class=x d="M132.5 155.2l1.8 .8 1.8 2-1.8-.7z"/>
<path class=x d="M134.3 156l1.8 .5 1.9 1.7-1.9-.2z"/>
<path class=y d="M136.1 156.5l1.9 .4 1.8 1.3-1.8 0z"/>
<path class=y d="M138 156.9l1.8 .4 1.9 .7-1.9 .2z"/>
<path class=z d="M139.8 157.3l1.9 .3 1.8 .3-1.8 .1z"/>
<path class=z d="M141.7 157.6l1.8 .4 1.8-.1-1.8 0z"/>
<path class=A d="M143.5 158l1.8-.1 1.9 .3-1.9-.3z"/>
<path class=A d="M145.3 157.9l1.9 .9 1.8-.2-1.8-.4z"/>
<path class=A d="M147.2 158.8l1.8 .9 1.8-.9-1.8-.2z"/>
<path class=fg d="M.125 .6042H.3889"/><path class=ff d="M.125 .6042H.3889"/>
<path class=B d="M183.9 176.6l1.9 .9 1.8-1.7-1.8 0z"/>
<path class=B d="M185.8 177.5l1.8 .9 1.8-2.1-1.8-.5z"/>
<path class=B d="M187.6 178.4l1.8 .2 1.9-1.8-1.9-.5z"/>
<path class=B d="M189.4 178.6l1.9 .7 1.8-2-1.8-.5z"/>
<path class=C d="M191.3 179.3l1.8 .7 1.8-2.2-1.8-.5z"/>
<path class=C d="M193.1 180l1.8 .8 1.9-2.3-1.9-.7z"/>
<path class=C d="M194.9 180.8l1.9 .9 1.8-2.4-1.8-.8z"/>
<path class=C d="M196.8 181.7l1.8 .9 1.9-2.4-1.9-.9z"/>
<path class=C d="M198.6 182.6l1.9 1 1.8-2.2-1.8-1.2z"/>
<path class=C d="M200.5 183.6l1.8 1 1.8-2-1.8-1.2z"/>
<path class=B d="M202.3 184.6l1.8 1.1 1.9-1.8-1.9-1.3z"/>
<path class=B d="M204.1 185.7l1.9 1.6 1.8-2.1-1.8-1.3z"/>
<path class=B d="M206 187.3l1.8 .9 1.8-1.7-1.8-1.3z"/>
<path class=B d="M207.8 188.2l1.8 .9 1.9-.9-1.9-1.7z"/>
<path class=fg d="M.5833 .6042H.875"/><path class=ff d="M.5833 .6042H.875"/>
<path class=A d="M248.2 207.9l1.9 .8 1.8-.2-1.8-1.5z"/>
<path class=A d="M250.1 208.7l1.8 .9 1.8 .3-1.8-1.4z"/>
<path class=A d="M251.9 209.6l1.8 1.9 1.9-.1-1.9-1.5z"/>
<path class=z d="M253.7 211.5l1.9 1.4 1.8 .3-1.8-1.8z"/>
<path class=z d="M255.6 212.9l1.8 1.4 1.9 .8-1.9-1.9z"/>
<path class=y d="M257.4 214.3l1.9 1.5 1.8 1.2-1.8-1.9z"/>
<path class=y d="M259.3 215.8l1.8 1.4 1.8 1.7-1.8-1.9z"/>
<path class=x d="M261.1 217.2l1.8 1.2 1.9 2-1.9-1.5z"/>
<path class=x d="M262.9 218.4l1.9 1 1.8 2.1-1.8-1.1z"/>
<path class=z d="M130.6 154.4l1.9 .8 1.8 .8-1.8-.8z"/>
<path class=z d="M132.5 155.2l1.8 .7 1.8 .6-1.8-.5z"/>
<path class=z d="M134.3 155.9l1.8 .7 1.9 .3-1.9-.4z"/>
<path class=z d="M136.1 156.6l1.9 .6 1.8 .1-1.8-.4z"/>
<path class=A d="M138 157.2l1.8 .6 1.9-.2-1.9-.3z"/>
<path class=A d="M139.8 157.8l1.9 .1 1.8 .1-1.8-.4z"/>
<path class=A d="M141.7 157.9l1.8 .9 1.8-.9-1.8 .1z"/>
<path class=fg d="M.0972 .5903H.4167"/><path class=ff d="M.0972 .5903H.4167"/>
<path class=B d="M185.8 179.3l1.8 .9 1.8-1.6-1.8-.2z"/>
<path class=B d="M187.6 180.2l1.8 .9 1.9-1.8-1.9-.7z"/>
<path class=B d="M189.4 181.1l1.9 .9 1.8-2-1.8-.7z"/>
<path class=B d="M191.3 182l1.8 .9 1.8-2.1-1.8-.8z"/>
<path class=B d="M193.1 182.9l1.8 .9 1.9-2.1-1.9-.9z"/>
<path class=B d="M194.9 183.8l1.9 .9 1.8-2.1-1.8-.9z"/>
<path class=B d="M196.8 184.7l1.8 .9 1.9-2-1.9-1z"/>
<path class=B d="M198.6 185.6l1.9 .9 1.8-1.9-1.8-1z"/>
<path class=B d="M200.5 186.5l1.8 .8 1.8-1.6-1.8-1.1z"/>
<path class=B d="M202.3 187.3l1.8 .9 1.9-.9-1.9-1.6z"/>
<path class=fg d="M.5556 .5903H.9028"/><path class=ff d="M.5556 .5903H.9028"/>
<path class=A d="M250.1 210.5l1.8 .9 1.8 .1-1.8-1.9z"/>
<path class=A d="M251.9 211.4l1.8 1.7 1.9-.2-1.9-1.4z"/>
<path class=A d="M253.7 213.1l1.9 1.1 1.8 .1-1.8-1.4z"/>
<path class=z d="M255.6 214.2l1.8 1.2 1.9 .4-1.9-1.5z"/>
<path class=z d="M257.4 215.4l1.9 1.1 1.8 .7-1.8-1.4z"/>
<path class=z d="M259.3 216.5l1.8 1.1 1.8 .8-1.8-1.2z"/>
<path class=z d="M261.1 217.6l1.8 1 1.9 .8-1.9-1z"/>
<path class=A d="M128.8 154.3l1.8 .9 1.9 0-1.9-.8z"/>
<path class=A d="M130.6 155.2l1.9 .8 1.8-.1-1.8-.7z"/>
<path class=A d="M132.5 156l1.8 .1 1.8 .5-1.8-.7z"/>
<path class=A d="M134.3 156.1l1.8 .9 1.9 .2-1.9-.6z"/>
<path class=A d="M136.1 157l1.9 .9 1.8-.1-1.8-.6z"/>
<path class=A d="M138 157.9l1.8 .9 1.9-.9-1.9-.1z"/>
<path class=fg d="M.0833 .5764H.9167"/><path class=ff d="M.0833 .5764H.9167"/>
<path class=A d="M250.1 212.3l1.8 .9 1.8-.1-1.8-1.7z"/>
<path class=A d="M251.9 213.2l1.8 .9 1.9 .1-1.9-1.1z"/>
<path class=A d="M253.7 214.1l1.9 .9 1.8 .4-1.8-1.2z"/>
<path class=A d="M255.6 215l1.8 1.6 1.9-.1-1.9-1.1z"/>
<path class=A d="M257.4 216.6l1.9 1 1.8 0-1.8-1.1z"/>
<path class=A d="M259.3 217.6l1.8 .9 1.8 .1-1.8-1z"/>
<path class=A d="M127 154.4l1.8 .8 1.8 0-1.8-.9z"/>
<path class=A d="M128.8 155.2l1.8 .9 1.9-.1-1.9-.8z"/>
<path class=A d="M130.6 156.1l1.9 .9 1.8-.9-1.8-.1z"/>
<path class=fg d="M.0417 .5625H.9583"/><path class=ff d="M.0417 .5625H.9583"/>
<path class=A d="M253.7 215.9l1.9 .9 1.8-.2-1.8-1.6z"/>
<path class=A d="M255.6 216.8l1.8 .9 1.9-.1-1.9-1z"/>
<path class=A d="M257.4 217.7l1.9 .9 1.8-.1-1.8-.9z"/>
<path class=fg d="M0 .5486H1"/><path class=ff d="M0 .5486H1"/>
<path class=fg d="M0 .5347H1"/><path class=ff d="M0 .5347H1"/>
<path class=fg d="M0 .5208H1"/><path class=ff d="M0 .5208H1"/>
<path class=fg d="M0 .5069H1"/><path class=ff d="M0 .5069H1"/>
<path class=fg d="M0 .4931H1"/><path class=ff d="M0 .4931H1"/>
<path class=fg d="M0 .4792H1"/><path class=ff d="M0 .4792H1"/>
<path class=fg d="M0 .4653H1"/><path class=ff d="M0 .4653H1"/>
<path class=fg d="M0 .4514H1"/><path class=ff d="M0 .4514H1"/>
<path class=fg d="M0 .4375H1"/><path class=ff d="M0 .4375H1"/>
<path class=A d="M108.6 164.1l1.8 .9 1.8-1.7-1.8-.9z"/>
<path class=A d="M110.4 165l1.8 .8 1.9-1.6-1.9-.9z"/>
<path class=A d="M112.2 165.8l1.9 .1 1.8-.8-1.8-.9z"/>
<path class=fg d="M.0417 .4236H.9583"/><path class=ff d="M.0417 .4236H.9583"/>
<path class=A d="M235.4 224.8l1.8 1.6 1.8-1.6-1.8-.9z"/>
<path class=A d="M237.2 226.4l1.8 1 1.9-1.7-1.9-.9z"/>
<path class=A d="M239 227.4l1.9 .9 1.8-1.7-1.8-.9z"/>
<path class=A d="M106.7 166l1.9 .8 1.8-1.8-1.8-.9z"/>
<path class=A d="M108.6 166.8l1.8 .7 1.8-1.7-1.8-.8z"/>
<path class=A d="M110.4 167.5l1.8 .6 1.9-2.2-1.9-.1z"/>
<path class=A d="M112.2 168.1l1.9 .7 1.8-2-1.8-.9z"/>
<path class=A d="M114.1 168.8l1.8 .6 1.9-1.7-1.9-.9z"/>
<path class=A d="M115.9 169.4l1.9 .1 1.8-.9-1.8-.9z"/>
<path class=fg d="M.0833 .4097H.9167"/><path class=ff d="M.0833 .4097H.9167"/>
<path class=A d="M228 223l1.8 1.7 1.9-1.7-1.9-.9z"/>
<path class=A d="M229.8 224.7l1.9 1.1 1.8-1.9-1.8-.9z"/>
<path class=A d="M231.7 225.8l1.8 1.2 1.9-2.2-1.9-.9z"/>
<path class=A d="M233.5 227l1.9 1.1 1.8-1.7-1.8-1.6z"/>
<path class=A d="M235.4 228.1l1.8 1.1 1.8-1.8-1.8-1z"/>
<path class=A d="M237.2 229.2l1.8 1 1.9-1.9-1.9-.9z"/>
<path class=z d="M104.9 168.6l1.8 .8 1.9-2.6-1.9-.8z"/>
<path class=z d="M106.7 169.4l1.9 .5 1.8-2.4-1.8-.7z"/>
<path class=z d="M108.6 169.9l1.8 .4 1.8-2.2-1.8-.6z"/>
<path class=z d="M110.4 170.3l1.8 .3 1.9-1.8-1.9-.7z"/>
<path class=A d="M112.2 170.6l1.9 .4 1.8-1.6-1.8-.6z"/>
<path class=A d="M114.1 171l1.8 .4 1.9-1.9-1.9-.1z"/>
<path class=A d="M115.9 171.4l1.9-.1 1.8-.9-1.8-.9z"/>
<path class=fg d="M.0972 .3958H.4167"/><path class=ff d="M.0972 .3958H.4167"/>
<path class=B d="M160 191.8l1.9 .1 1.8-.1-1.8-.9z"/>
<path class=B d="M161.9 191.9l1.8 .8 1.8 0-1.8-.9z"/>
<path class=B d="M163.7 192.7l1.8 .7 1.9 .2-1.9-.9z"/>
<path class=B d="M165.5 193.4l1.9 .8 1.8 .3-1.8-.9z"/>
<path class=B d="M167.4 194.2l1.8 .8 1.8 .4-1.8-.9z"/>
<path class=B d="M169.2 195l1.8 1 1.9 .3-1.9-.9z"/>
<path class=B d="M171 196l1.9 1 1.8 .2-1.8-.9z"/>
<path class=B d="M172.9 197l1.8 1 1.9 0-1.9-.8z"/>
<path class=B d="M174.7 198l1.9 1.1 1.8-.2-1.8-.9z"/>
<path class=B d="M176.6 199.1l1.8 1.6 1.8-.9-1.8-.9z"/>
<path class=fg d="M.5556 .3958H.9028"/><path class=ff d="M.5556 .3958H.9028"/>
<path class=A d="M224.3 223l1.9 1.9 1.8-1.9-1.8-.9z"/>
<path class=A d="M226.2 224.9l1.8 1.4 1.8-1.6-1.8-1.7z"/>
<path class=A d="M228 226.3l1.8 1.4 1.9-1.9-1.9-1.1z"/>
<path class=z d="M229.8 227.7l1.9 1.5 1.8-2.2-1.8-1.2z"/>
<path class=z d="M231.7 229.2l1.8 1.4 1.9-2.5-1.9-1.1z"/>
<path class=z d="M233.5 230.6l1.9 1.2 1.8-2.6-1.8-1.1z"/>
<path class=z d="M235.4 231.8l1.8 1 1.8-2.6-1.8-1z"/>
<path class=x d="M103 172.5l1.9 .6 1.8-3.7-1.8-.8z"/>
<path class=x d="M104.9 173.1l1.8 .3 1.9-3.5-1.9-.5z"/>
<path class=y d="M106.7 173.4l1.9-.1 1.8-3-1.8-.4z"/>
<path class=y d="M108.6 173.3l1.8-.1 1.8-2.6-1.8-.3z"/>
<path class=z d="M110.4 173.2l1.8-.1 1.9-2.1-1.9-.4z"/>
<path class=z d="M112.2 173.1l1.9 0 1.8-1.7-1.8-.4z"/>
<path class=A d="M114.1 173.1l1.8 .2 1.9-2-1.9 .1z"/>
<path class=A d="M115.9 173.3l1.9 .5 1.8-1.6-1.8-.9z"/>
<path class=A d="M117.8 173.8l1.8 .2 1.8-.9-1.8-.9z"/>
<path class=fg d="M.125 .3819H.3889"/><path class=ff d="M.125 .3819H.3889"/>
<path class=B d="M154.5 190.9l1.8 0 1.9 0-1.9-.9z"/>
<path class=B d="M156.3 190.9l1.9 .6 1.8 .3-1.8-.9z"/>
<path class=B d="M158.2 191.5l1.8 .5 1.9-.1-1.9-.1z"/>
<path class=B d="M160 192l1.9 .4 1.8 .3-1.8-.8z"/>
<path class=C d="M161.9 192.4l1.8 .6 1.8 .4-1.8-.7z"/>
<path class=C d="M163.7 193l1.8 .6 1.9 .6-1.9-.8z"/>
<path class=C d="M165.5 193.6l1.9 .8 1.8 .6-1.8-.8z"/>
<path class=C d="M167.4 194.4l1.8 1 1.8 .6-1.8-1z"/>
<path class=C d="M169.2 195.4l1.8 1.1 1.9 .5-1.9-1z"/>
<path class=C d="M171 196.5l1.9 1.3 1.8 .2-1.8-1z"/>
<path class=B d="M172.9 197.8l1.8 1.3 1.9 0-1.9-1.1z"/>
<path class=B d="M174.7 199.1l1.9 1.3 1.8 .3-1.8-1.6z"/>
<path class=B d="M176.6 200.4l1.8 1.2 1.8 0-1.8-.9z"/>
<path class=B d="M178.4 201.6l1.8 1.8 1.9-.9-1.9-.9z"/>
<path class=fg d="M.5833 .3819H.875"/><path class=ff d="M.5833 .3819H.875"/>
<path class=A d="M218.8 222.1l1.8 1.6 1.9-1.6-1.8-.9z"/>
<path class=A d="M220.6 223.7l1.9 1.3 1.8-2-1.8-.9z"/>
<path class=A d="M222.5 225l1.8 1.6 1.9-1.7-1.9-1.9z"/>
<path class=z d="M224.3 226.6l1.9 1.7 1.8-2-1.8-1.4z"/>
<path class=z d="M226.2 228.3l1.8 1.9 1.8-2.5-1.8-1.4z"/>
<path class=y d="M228 230.2l1.8 2 1.9-3-1.9-1.5z"/>
<path class=y d="M229.8 232.2l1.9 1.8 1.8-3.4-1.8-1.4z"/>
<path class=x d="M231.7 234l1.8 1.6 1.9-3.8-1.9-1.2z"/>
<path class=x d="M233.5 235.6l1.9 1.1 1.8-3.9-1.8-1z"/>
<path class=v d="M101.2 177.8l1.8 .5 1.9-5.2-1.9-.6z"/>
<path class=v d="M103 178.3l1.9-.2 1.8-4.7-1.8-.3z"/>
<path class=w d="M104.9 178.1l1.8-.7 1.9-4.1-1.9 .1z"/>
<path class=x d="M106.7 177.4l1.9-.9 1.8-3.3-1.8 .1z"/>
<path class=y d="M108.6 176.5l1.8-.8 1.8-2.6-1.8 .1z"/>
<path class=z d="M110.4 175.7l1.8-.5 1.9-2.1-1.9 0z"/>
<path class=z d="M112.2 175.2l1.9-.3 1.8-1.6-1.8-.2z"/>
<path class=A d="M114.1 174.9l1.8 .2 1.9-1.3-1.9-.5z"/>
<path class=A d="M115.9 175.1l1.8-.2 1.9-.9-1.8-.2z"/>
<path class=fg d="M.125 .3681H.3611"/><path class=ff d="M.125 .3681H.3611"/>
<path class=B d="M149 190l1.8 .2 1.9-.2-1.9-.9z"/>
<path class=B d="M150.8 190.2l1.9 .5 1.8 .2-1.8-.9z"/>
<path class=B d="M152.7 190.7l1.8 .3 1.8-.1-1.8 0z"/>
<path class=C d="M154.5 191l1.8 .2 1.9 .3-1.9-.6z"/>
<path class=C d="M156.3 191.2l1.9 0 1.8 .8-1.8-.5z"/>
<path class=C d="M158.2 191.2l1.8 0 1.9 1.2-1.9-.4z"/>
<path class=D d="M160 191.2l1.8 .2 1.9 1.6-1.8-.6z"/>
<path class=D d="M161.8 191.4l1.9 .3 1.8 1.9-1.8-.6z"/>
<path class=D d="M163.7 191.7l1.8 .7 1.9 2-1.9-.8z"/>
<path class=D d="M165.5 192.4l1.9 1.1 1.8 1.9-1.8-1z"/>
<path class=D d="M167.4 193.5l1.8 1.4 1.8 1.6-1.8-1.1z"/>
<path class=D d="M169.2 194.9l1.8 1.7 1.9 1.2-1.9-1.3z"/>
<path class=C d="M171 196.6l1.9 1.8 1.8 .7-1.8-1.3z"/>
<path class=C d="M172.9 198.4l1.8 1.7 1.9 .3-1.9-1.3z"/>
<path class=C d="M174.7 200.1l1.8 1.6 1.9-.1-1.8-1.2z"/>
<path class=B d="M176.5 201.7l1.9 1.5 1.8 .2-1.8-1.8z"/>
<path class=B d="M178.4 203.2l1.8 1.3 1.9-.2-1.9-.9z"/>
<path class=B d="M180.2 204.5l1.9 1.6 1.8-.9-1.8-.9z"/>
<path class=fg d="M.6111 .3681H.875"/><path class=ff d="M.6111 .3681H.875"/>
<path class=A d="M217 223l1.8 2 1.8-1.3-1.8-1.6z"/>
<path class=A d="M218.8 225l1.8 1.7 1.9-1.7-1.9-1.3z"/>
<path class=z d="M220.6 226.7l1.9 2 1.8-2.1-1.8-1.6z"/>
<path class=z d="M222.5 228.7l1.8 2.3 1.9-2.7-1.9-1.7z"/>
<path class=y d="M224.3 231l1.9 2.6 1.8-3.4-1.8-1.9z"/>
<path class=x d="M226.2 233.6l1.8 2.7 1.8-4.1-1.8-2z"/>
<path class=w d="M228 236.3l1.8 2.4 1.9-4.7-1.9-1.8z"/>
<path class=v d="M229.8 238.7l1.9 2 1.8-5.1-1.8-1.6z"/>
<path class=v d="M231.7 240.7l1.8 1.3 1.9-5.3-1.9-1.1z"/>
<path class=r d="M99.4 184.6l1.8 .3 1.8-6.6-1.8-.5z"/>
<path class=s d="M101.2 184.9l1.8-.8 1.9-6-1.9 .2z"/>
<path class=t d="M103 184.1l1.9-1.6 1.8-5.1-1.8 .7z"/>
<path class=v d="M104.9 182.5l1.8-1.9 1.9-4.1-1.9 .9z"/>
<path class=w d="M106.7 180.6l1.9-1.7 1.8-3.2-1.8 .8z"/>
<path class=x d="M108.6 178.9l1.8-1.3 1.8-2.4-1.8 .5z"/>
<path class=z d="M110.4 177.6l1.8-.8 1.9-1.9-1.9 .3z"/>
<path class=z d="M112.2 176.8l1.9-.3 1.8-1.4-1.8-.2z"/>
<path class=A d="M114.1 176.5l1.8 .2 1.8-1.8-1.8 .2z"/>
<path class=A d="M115.9 176.7l1.8-.1 1.9-.8-1.9-.9z"/>
<path class=fg d="M.1389 .3542H.3472"/><path class=ff d="M.1389 .3542H.3472"/>
<path class=B d="M145.3 190l1.8 .2 1.9-.2-1.9-.9z"/>
<path class=B d="M147.1 190.2l1.9 .4 1.8-.4-1.8-.2z"/>
<path class=B d="M149 190.6l1.8 .2 1.9-.1-1.9-.5z"/>
<path class=C d="M150.8 190.8l1.9-.2 1.8 .4-1.8-.3z"/>
<path class=C d="M152.7 190.6l1.8-.4 1.8 1-1.8-.2z"/>
<path class=D d="M154.5 190.2l1.8-.7 1.9 1.7-1.9 0z"/>
<path class=E d="M156.3 189.5l1.9-.8 1.8 2.5-1.8 0z"/>
<path class=F d="M158.2 188.7l1.8-.6 1.8 3.3-1.8-.2z"/>
<path class=G d="M160 188.1l1.8-.1 1.9 3.7-1.9-.3z"/>
<path class=G d="M161.8 188l1.9 .5 1.8 3.9-1.8-.7z"/>
<path class=G d="M163.7 188.5l1.8 1.3 1.9 3.7-1.9-1.1z"/>
<path class=G d="M165.5 189.8l1.9 1.9 1.8 3.2-1.8-1.4z"/>
<path class=F d="M167.4 191.7l1.8 2.4 1.8 2.5-1.8-1.7z"/>
<path class=E d="M169.2 194.1l1.8 2.5 1.9 1.8-1.9-1.8z"/>
<path class=D d="M171 196.6l1.9 2.5 1.8 1-1.8-1.7z"/>
<path class=C d="M172.9 199.1l1.8 2.2 1.8 .4-1.8-1.6z"/>
<path class=C d="M174.7 201.3l1.8 1.9 1.9 0-1.9-1.5z"/>
<path class=B d="M176.5 203.2l1.9 1.7 1.8-.4-1.8-1.3z"/>
<path class=B d="M178.4 204.9l1.8 1.3 1.9-.1-1.9-1.6z"/>
<path class=B d="M180.2 206.2l1.9 1.7 1.8-.9-1.8-.9z"/>
<path class=fg d="M.625 .3542H.8611"/><path class=ff d="M.625 .3542H.8611"/>
<path class=A d="M213.3 223l1.8 1.8 1.9-1.8-1.9-.9z"/>
<path class=A d="M215.1 224.8l1.9 1.6 1.8-1.4-1.8-2z"/>
<path class=z d="M217 226.4l1.8 2.1 1.8-1.8-1.8-1.7z"/>
<path class=z d="M218.8 228.5l1.8 2.6 1.9-2.4-1.9-2z"/>
<path class=x d="M220.6 231.1l1.9 3.1 1.8-3.2-1.8-2.3z"/>
<path class=w d="M222.5 234.2l1.8 3.5 1.9-4.1-1.9-2.6z"/>
<path class=v d="M224.3 237.7l1.9 3.7 1.8-5.1-1.8-2.7z"/>
<path class=t d="M226.2 241.4l1.8 3.3 1.8-6-1.8-2.4z"/>
<path class=s d="M228 244.7l1.8 2.6 1.9-6.6-1.9-2z"/>
<path class=r d="M229.8 247.3l1.9 1.5 1.8-6.8-1.8-1.3z"/>
<path class=n d="M97.5 192.4l1.9 0 1.8-7.5-1.8-.3z"/>
<path class=o d="M99.4 192.4l1.8-1.6 1.8-6.7-1.8 .8z"/>
<path class=q d="M101.2 190.8l1.8-2.6 1.9-5.7-1.9 1.6z"/>
<path class=s d="M103 188.2l1.9-3 1.8-4.6-1.8 1.9z"/>
<path class=u d="M104.9 185.2l1.8-2.8 1.9-3.5-1.9 1.7z"/>
<path class=w d="M106.7 182.4l1.9-2.2 1.8-2.6-1.8 1.3z"/>
<path class=y d="M108.6 180.2l1.8-1.5 1.8-1.9-1.8 .8z"/>
<path class=z d="M110.4 178.7l1.8-.7 1.9-1.5-1.9 .3z"/>
<path class=A d="M112.2 178l1.9-.1 1.8-1.2-1.8-.2z"/>
<path class=A d="M114.1 177.9l1.8-.4 1.8-.9-1.8 .1z"/>
<path class=fg d="M.1389 .3403H.3472"/><path class=ff d="M.1389 .3403H.3472"/>
<path class=B d="M143.5 190.9l1.8-.2 1.8-.5-1.8-.2z"/>
<path class=B d="M145.3 190.7l1.8 .2 1.9-.3-1.9-.4z"/>
<path class=C d="M147.1 190.9l1.9-.3 1.8 .2-1.8-.2z"/>
<path class=D d="M149 190.6l1.8-.8 1.9 .8-1.9 .2z"/>
<path class=E d="M150.8 189.8l1.9-1.3 1.8 1.7-1.8 .4z"/>
<path class=F d="M152.7 188.5l1.8-1.7 1.8 2.7-1.8 .7z"/>
<path class=G d="M154.5 186.8l1.8-1.9 1.9 3.8-1.9 .8z"/>
<path class=I d="M156.3 184.9l1.9-1.6 1.8 4.8-1.8 .6z"/>
<path class=J d="M158.2 183.3l1.8-.8 1.8 5.5-1.8 .1z"/>
<path class=K d="M160 182.5l1.8 .2 1.9 5.8-1.9-.5z"/>
<path class=K d="M161.8 182.7l1.9 1.5 1.8 5.6-1.8-1.3z"/>
<path class=J d="M163.7 184.2l1.8 2.7 1.9 4.8-1.9-1.9z"/>
<path class=I d="M165.5 186.9l1.9 3.3 1.8 3.9-1.8-2.4z"/>
<path class=G d="M167.4 190.2l1.8 3.7 1.8 2.7-1.8-2.5z"/>
<path class=F d="M169.2 193.9l1.8 3.5 1.9 1.7-1.9-2.5z"/>
<path class=E d="M171 197.4l1.9 3.1 1.8 .8-1.8-2.2z"/>
<path class=D d="M172.9 200.5l1.8 2.6 1.8 .1-1.8-1.9z"/>
<path class=C d="M174.7 203.1l1.8 2 1.9-.2-1.9-1.7z"/>
<path class=B d="M176.5 205.1l1.9 1.7 1.8-.6-1.8-1.3z"/>
<path class=B d="M178.4 206.8l1.8 1.9 1.9-.8-1.9-1.7z"/>
<path class=fg d="M.625 .3403H.8611"/><path class=ff d="M.625 .3403H.8611"/>
<path class=A d="M211.5 223.9l1.8 2.1 1.8-1.2-1.8-1.8z"/>
<path class=A d="M213.3 226l1.8 1.9 1.9-1.5-1.9-1.6z"/>
<path class=z d="M215.1 227.9l1.9 2.6 1.8-2-1.8-2.1z"/>
<path class=y d="M217 230.5l1.8 3.2 1.8-2.6-1.8-2.6z"/>
<path class=w d="M218.8 233.7l1.8 4 1.9-3.5-1.9-3.1z"/>
<path class=u d="M220.6 237.7l1.9 4.6 1.8-4.6-1.8-3.5z"/>
<path class=s d="M222.5 242.3l1.8 4.8 1.9-5.7-1.9-3.7z"/>
<path class=q d="M224.3 247.1l1.9 4.3 1.8-6.7-1.8-3.3z"/>
<path class=o d="M226.2 251.4l1.8 3.4 1.8-7.5-1.8-2.6z"/>
<path class=n d="M228 254.8l1.8 1.8 1.9-7.8-1.9-1.5z"/>
<path class=j d="M95.7 199.9l1.8-.3 1.9-7.2-1.9 0z"/>
<path class=k d="M97.5 199.6l1.9-2.3 1.8-6.5-1.8 1.6z"/>
<path class=m d="M99.4 197.3l1.8-3.6 1.8-5.5-1.8 2.6z"/>
<path class=p d="M101.2 193.7l1.8-4.1 1.9-4.4-1.9 3z"/>
<path class=s d="M103 189.6l1.9-3.8 1.8-3.4-1.8 2.8z"/>
<path class=v d="M104.9 185.8l1.8-3.1 1.9-2.5-1.9 2.2z"/>
<path class=x d="M106.7 182.7l1.9-2.1 1.8-1.9-1.8 1.5z"/>
<path class=y d="M108.6 180.6l1.8-1.1 1.8-1.5-1.8 .7z"/>
<path class=z d="M110.4 179.5l1.8-.4 1.9-1.2-1.9 .1z"/>
<path class=A d="M112.2 179.1l1.9 .1 1.8-1.7-1.8 .4z"/>
<path class=A d="M114.1 179.2l1.8 .1 1.8-.9-1.8-.9z"/>
<path class=fg d="M.1528 .3264H.3333"/><path class=ff d="M.1528 .3264H.3333"/>
<path class=B d="M139.8 190.9l1.8 .1 1.9-.1-1.9-.9z"/>
<path class=B d="M141.6 191l1.9 .3 1.8-.6-1.8 .2z"/>
<path class=C d="M143.5 191.3l1.8-.2 1.8-.2-1.8-.2z"/>
<path class=C d="M145.3 191.1l1.8-.8 1.9 .3-1.9 .3z"/>
<path class=E d="M147.1 190.3l1.9-1.5 1.8 1-1.8 .8z"/>
<path class=F d="M149 188.8l1.8-2.2 1.9 1.9-1.9 1.3z"/>
<path class=H d="M150.8 186.6l1.9-2.9 1.8 3.1-1.8 1.7z"/>
<path class=J d="M152.7 183.7l1.8-3.1 1.8 4.3-1.8 1.9z"/>
<path class=M d="M154.5 180.6l1.8-2.7 1.9 5.4-1.9 1.6z"/>
<path class=N d="M156.3 177.9l1.9-1.8 1.8 6.4-1.8 .8z"/>
<path class=O d="M158.2 176.1l1.8-.1 1.8 6.7-1.8-.2z"/>
<path class=O d="M160 176l1.8 1.9 1.9 6.3-1.9-1.5z"/>
<path class=N d="M161.8 177.9l1.9 3.5 1.8 5.5-1.8-2.7z"/>
<path class=M d="M163.7 181.4l1.8 4.6 1.9 4.2-1.9-3.3z"/>
<path class=J d="M165.5 186l1.9 4.9 1.8 3-1.8-3.7z"/>
<path class=H d="M167.4 190.9l1.8 4.6 1.8 1.9-1.8-3.5z"/>
<path class=F d="M169.2 195.5l1.8 4 1.9 1-1.9-3.1z"/>
<path class=E d="M171 199.5l1.9 3.3 1.8 .3-1.8-2.6z"/>
<path class=C d="M172.9 202.8l1.8 2.6 1.8-.3-1.8-2z"/>
<path class=C d="M174.7 205.4l1.8 1.9 1.9-.5-1.9-1.7z"/>
<path class=B d="M176.5 207.3l1.9 1.5 1.8-.1-1.8-1.9z"/>
<path class=B d="M178.4 208.8l1.8 1.7 1.9-.9-1.9-.9z"/>
<path class=fg d="M.6389 .3264H.8472"/><path class=ff d="M.6389 .3264H.8472"/>
<path class=A d="M207.8 223.9l1.8 1.7 1.9-1.7-1.9-.9z"/>
<path class=A d="M209.6 225.6l1.9 1.6 1.8-1.2-1.8-2.1z"/>
<path class=z d="M211.5 227.2l1.8 2.2 1.8-1.5-1.8-1.9z"/>
<path class=y d="M213.3 229.4l1.8 3 1.9-1.9-1.9-2.6z"/>
<path class=x d="M215.1 232.4l1.9 3.8 1.8-2.5-1.8-3.2z"/>
<path class=v d="M217 236.2l1.8 4.9 1.8-3.4-1.8-4z"/>
<path class=s d="M218.8 241.1l1.8 5.6 1.9-4.4-1.9-4.6z"/>
<path class=p d="M220.6 246.7l1.9 5.8 1.8-5.4-1.8-4.8z"/>
<path class=m d="M222.5 252.5l1.8 5.4 1.9-6.5-1.9-4.3z"/>
<path class=k d="M224.3 257.9l1.9 4.1 1.8-7.2-1.8-3.4z"/>
<path class=j d="M226.2 262l1.8 2.1 1.8-7.5-1.8-1.8z"/>
<path class=e d="M93.9 205.9l1.8-.6 1.8-5.7-1.8 .3z"/>
<path class=g d="M95.7 205.3l1.8-3 1.9-5-1.9 2.3z"/>
<path class=j d="M97.5 202.3l1.9-4.4 1.8-4.2-1.8 3.6z"/>
<path class=n d="M99.4 197.9l1.8-4.9 1.8-3.4-1.8 4.1z"/>
<path class=q d="M101.2 193l1.8-4.5 1.9-2.7-1.9 3.8z"/>
<path class=t d="M103 188.5l1.9-3.7 1.8-2.1-1.8 3.1z"/>
<path class=w d="M104.9 184.8l1.8-2.6 1.9-1.6-1.9 2.1z"/>
<path class=y d="M106.7 182.2l1.9-1.4 1.8-1.3-1.8 1.1z"/>
<path class=z d="M108.6 180.8l1.8-.6 1.8-1.1-1.8 .4z"/>
<path class=A d="M110.4 180.2l1.8 0 1.9-1-1.9-.1z"/>
<path class=A d="M112.2 180.2l1.9 0 1.8-.9-1.8-.1z"/>
<path class=fg d="M.1528 .3125H.3333"/><path class=ff d="M.1528 .3125H.3333"/>
<path class=B d="M138 191.8l1.8 0 1.8-.8-1.8-.1z"/>
<path class=B d="M139.8 191.8l1.8 .1 1.9-.6-1.9-.3z"/>
<path class=C d="M141.6 191.9l1.9-.4 1.8-.4-1.8 .2z"/>
<path class=D d="M143.5 191.5l1.8-1.1 1.8-.1-1.8 .8z"/>
<path class=F d="M145.3 190.4l1.8-2 1.9 .4-1.9 1.5z"/>
<path class=H d="M147.1 188.4l1.9-3 1.8 1.2-1.8 2.2z"/>
<path class=J d="M149 185.4l1.8-3.8 1.9 2.1-1.9 2.9z"/>
<path class=M d="M150.8 181.6l1.9-4.1 1.8 3.1-1.8 3.1z"/>
<path class=P d="M152.7 177.5l1.8-3.9 1.8 4.3-1.8 2.7z"/>
<path class=S d="M154.5 173.6l1.8-2.8 1.9 5.3-1.9 1.8z"/>
<path class=T d="M156.3 170.8l1.9-.6 1.8 5.8-1.8 .1z"/>
<path class=T d="M158.2 170.2l1.8 2.4 1.8 5.3-1.8-1.9z"/>
<path class=S d="M160 172.6l1.8 4.6 1.9 4.2-1.9-3.5z"/>
<path class=P d="M161.8 177.2l1.9 5.6 1.8 3.2-1.8-4.6z"/>
<path class=M d="M163.7 182.8l1.8 6 1.9 2.1-1.9-4.9z"/>
<path class=J d="M165.5 188.8l1.9 5.5 1.8 1.2-1.8-4.6z"/>
<path class=H d="M167.4 194.3l1.8 4.8 1.8 .4-1.8-4z"/>
<path class=F d="M169.2 199.1l1.8 3.8 1.9-.1-1.9-3.3z"/>
<path class=D d="M171 202.9l1.9 2.9 1.8-.4-1.8-2.6z"/>
<path class=C d="M172.9 205.8l1.8 2.1 1.8-.6-1.8-1.9z"/>
<path class=B d="M174.7 207.9l1.8 1.7 1.9-.8-1.9-1.5z"/>
<path class=B d="M176.5 209.6l1.9 1.8 1.8-.9-1.8-1.7z"/>
<path class=fg d="M.6389 .3125H.8472"/><path class=ff d="M.6389 .3125H.8472"/>
<path class=A d="M205.9 224.8l1.9 1.8 1.8-1-1.8-1.7z"/>
<path class=A d="M207.8 226.6l1.8 1.7 1.9-1.1-1.9-1.6z"/>
<path class=z d="M209.6 228.3l1.9 2.4 1.8-1.3-1.8-2.2z"/>
<path class=y d="M211.5 230.7l1.8 3.3 1.8-1.6-1.8-3z"/>
<path class=w d="M213.3 234l1.8 4.3 1.9-2.1-1.9-3.8z"/>
<path class=t d="M215.1 238.3l1.9 5.4 1.8-2.6-1.8-4.9z"/>
<path class=q d="M217 243.7l1.8 6.4 1.8-3.4-1.8-5.6z"/>
<path class=n d="M218.8 250.1l1.8 6.7 1.9-4.3-1.9-5.8z"/>
<path class=j d="M220.6 256.8l1.9 6.2 1.8-5.1-1.8-5.4z"/>
<path class=g d="M222.5 263l1.8 4.7 1.9-5.7-1.9-4.1z"/>
<path class=e d="M224.3 267.7l1.9 2.4 1.8-6-1.8-2.1z"/>
<path class=b d="M92 209.3l1.9-1.4 1.8-2.6-1.8 .6z"/>
<path class=d d="M93.9 207.9l1.8-3.4 1.8-2.2-1.8 3z"/>
<path class=i d="M95.7 204.5l1.8-4.7 1.9-1.9-1.9 4.4z"/>
<path class=l d="M97.5 199.8l1.9-5.1 1.8-1.7-1.8 4.9z"/>
<path class=p d="M99.4 194.7l1.8-4.8 1.8-1.4-1.8 4.5z"/>
<path class=t d="M101.2 189.9l1.8-3.9 1.9-1.2-1.9 3.7z"/>
<path class=w d="M103 186l1.9-2.7 1.8-1.1-1.8 2.6z"/>
<path class=y d="M104.9 183.3l1.8-1.5 1.9-1-1.9 1.4z"/>
<path class=z d="M106.7 181.8l1.9-.7 1.8-.9-1.8 .6z"/>
<path class=A d="M108.6 181.1l1.8 0 1.8-.9-1.8 0z"/>
<path class=A d="M110.4 181.1l1.8 0 1.9-.9-1.9 0z"/>
<path class=fg d="M.1528 .2986H.3333"/><path class=ff d="M.1528 .2986H.3333"/>
<path class=B d="M136.1 192.7l1.9-.1 1.8-.8-1.8 0z"/>
<path class=B d="M138 192.6l1.8 .1 1.8-.8-1.8-.1z"/>
<path class=C d="M139.8 192.7l1.8-.4 1.9-.8-1.9 .4z"/>
<path class=D d="M141.6 192.3l1.9-1.2 1.8-.7-1.8 1.1z"/>
<path class=F d="M143.5 191.1l1.8-2.2 1.8-.5-1.8 2z"/>
<path class=H d="M145.3 188.9l1.8-3.1 1.9-.4-1.9 3z"/>
<path class=K d="M147.1 185.8l1.9-4 1.8-.2-1.8 3.8z"/>
<path class=O d="M149 181.8l1.8-4.5 1.9 .2-1.9 4.1z"/>
<path class=R d="M150.8 177.3l1.9-4.3 1.8 .6-1.8 3.9z"/>
<path class=U d="M152.7 173l1.8-3.6 1.8 1.4-1.8 2.8z"/>
<path class=W d="M154.5 169.4l1.8-2.6 1.9 3.4-1.9 .6z"/>
<path class=W d="M156.3 166.8l1.9 4.3 1.8 1.5-1.8-2.4z"/>
<path class=U d="M158.2 171.1l1.8 5.4 1.8 .7-1.8-4.6z"/>
<path class=R d="M160 176.5l1.8 6.2 1.9 .1-1.9-5.6z"/>
<path class=O d="M161.8 182.7l1.9 6.2 1.8-.1-1.8-6z"/>
<path class=K d="M163.7 188.9l1.8 5.8 1.9-.4-1.9-5.5z"/>
<path class=H d="M165.5 194.7l1.9 4.9 1.8-.5-1.8-4.8z"/>
<path class=F d="M167.4 199.6l1.8 4 1.8-.7-1.8-3.8z"/>
<path class=D d="M169.2 203.6l1.8 3 1.9-.8-1.9-2.9z"/>
<path class=C d="M171 206.6l1.9 2.2 1.8-.9-1.8-2.1z"/>
<path class=B d="M172.9 208.8l1.8 1.7 1.8-.9-1.8-1.7z"/>
<path class=B d="M174.7 210.5l1.8 1.8 1.9-.9-1.9-1.8z"/>
<path class=fg d="M.6389 .2986H.8472"/><path class=ff d="M.6389 .2986H.8472"/>
<path class=A d="M204.1 225.7l1.8 1.8 1.9-.9-1.9-1.8z"/>
<path class=A d="M205.9 227.5l1.9 1.8 1.8-1-1.8-1.7z"/>
<path class=z d="M207.8 229.3l1.8 2.4 1.9-1-1.9-2.4z"/>
<path class=y d="M209.6 231.7l1.9 3.3 1.8-1-1.8-3.3z"/>
<path class=w d="M211.5 235l1.8 4.5 1.8-1.2-1.8-4.3z"/>
<path class=t d="M213.3 239.5l1.8 5.7 1.9-1.5-1.9-5.4z"/>
<path class=p d="M215.1 245.2l1.9 6.5 1.8-1.6-1.8-6.4z"/>
<path class=l d="M217 251.7l1.8 7 1.8-1.9-1.8-6.7z"/>
<path class=i d="M218.8 258.7l1.8 6.5 1.9-2.2-1.9-6.2z"/>
<path class=d d="M220.6 265.2l1.9 5.1 1.8-2.6-1.8-4.7z"/>
<path class=b d="M222.5 270.3l1.8 3.2 1.9-3.4-1.9-2.4z"/>
<path class=c d="M90.2 206.7l1.8-.5 1.9 1.7-1.9 1.4z"/>
<path class=e d="M92 206.2l1.9-3 1.8 1.3-1.8 3.4z"/>
<path class=i d="M93.9 203.2l1.8-4.3 1.8 .9-1.8 4.7z"/>
<path class=m d="M95.7 198.9l1.8-4.7 1.9 .5-1.9 5.1z"/>
<path class=q d="M97.5 194.2l1.9-4.4 1.8 .1-1.8 4.8z"/>
<path class=t d="M99.4 189.8l1.8-3.6 1.8-.2-1.8 3.9z"/>
<path class=w d="M101.2 186.2l1.8-2.4 1.9-.5-1.9 2.7z"/>
<path class=y d="M103 183.8l1.9-1.4 1.8-.6-1.8 1.5z"/>
<path class=z d="M104.9 182.4l1.8-.5 1.9-.8-1.9 .7z"/>
<path class=A d="M106.7 181.9l1.9 0 1.8-.8-1.8 0z"/>
<path class=A d="M108.6 181.9l1.8 .1 1.8-.9-1.8 0z"/>
<path class=fg d="M.1528 .2847H.3333"/><path class=ff d="M.1528 .2847H.3333"/>
<path class=B d="M134.3 193.6l1.8 0 1.9-1-1.9 .1z"/>
<path class=B d="M136.1 193.6l1.9 .2 1.8-1.1-1.8-.1z"/>
<path class=C d="M138 193.8l1.8-.2 1.8-1.3-1.8 .4z"/>
<path class=D d="M139.8 193.6l1.8-1 1.9-1.5-1.9 1.2z"/>
<path class=F d="M141.6 192.6l1.9-1.7 1.8-2-1.8 2.2z"/>
<path class=H d="M143.5 190.9l1.8-2.6 1.8-2.5-1.8 3.1z"/>
<path class=K d="M145.3 188.3l1.8-3.4 1.9-3.1-1.9 4z"/>
<path class=N d="M147.1 184.9l1.9-3.7 1.8-3.9-1.8 4.5z"/>
<path class=Q d="M149 181.2l1.8-3.5 1.9-4.7-1.9 4.3z"/>
<path class=T d="M150.8 177.7l1.9-2.5 1.8-5.8-1.8 3.6z"/>
<path class=V d="M152.7 175.2l1.8-.5 1.8-7.9-1.8 2.6z"/>
<path class=V d="M154.5 174.7l1.8 2.3 1.9-5.9-1.9-4.3z"/>
<path class=T d="M156.3 177l1.9 4.3 1.8-4.8-1.8-5.4z"/>
<path class=Q d="M158.2 181.3l1.8 5.3 1.8-3.9-1.8-6.2z"/>
<path class=N d="M160 186.6l1.8 5.5 1.9-3.2-1.9-6.2z"/>
<path class=K d="M161.8 192.1l1.9 5.1 1.8-2.5-1.8-5.8z"/>
<path class=H d="M163.7 197.2l1.8 4.4 1.9-2-1.9-4.9z"/>
<path class=F d="M165.5 201.6l1.9 3.5 1.8-1.5-1.8-4z"/>
<path class=D d="M167.4 205.1l1.8 2.7 1.8-1.2-1.8-3z"/>
<path class=C d="M169.2 207.8l1.8 2.1 1.9-1.1-1.9-2.2z"/>
<path class=B d="M171 209.9l1.9 1.6 1.8-1-1.8-1.7z"/>
<path class=B d="M172.9 211.5l1.8 1.7 1.8-.9-1.8-1.8z"/>
<path class=fg d="M.6389 .2847H.8472"/><path class=ff d="M.6389 .2847H.8472"/>
<path class=A d="M202.3 226.6l1.8 1.7 1.8-.8-1.8-1.8z"/>
<path class=A d="M204.1 228.3l1.8 1.7 1.9-.7-1.9-1.8z"/>
<path class=z d="M205.9 230l1.9 2.3 1.8-.6-1.8-2.4z"/>
<path class=y d="M207.8 232.3l1.8 3.2 1.9-.5-1.9-3.3z"/>
<path class=w d="M209.6 235.5l1.9 4.2 1.8-.2-1.8-4.5z"/>
<path class=t d="M211.5 239.7l1.8 5.4 1.8 .1-1.8-5.7z"/>
<path class=q d="M213.3 245.1l1.8 6.2 1.9 .4-1.9-6.5z"/>
<path class=m d="M215.1 251.3l1.9 6.5 1.8 .9-1.8-7z"/>
<path class=i d="M217 257.8l1.8 6.1 1.8 1.3-1.8-6.5z"/>
<path class=e d="M218.8 263.9l1.8 4.7 1.9 1.7-1.9-5.1z"/>
<path class=c d="M220.6 268.6l1.9 2.3 1.8 2.6-1.8-3.2z"/>
<path class=g d="M88.3 200.8l1.9-.2 1.8 5.6-1.8 .5z"/>
<path class=i d="M90.2 200.6l1.8-2 1.9 4.6-1.9 3z"/>
<path class=k d="M92 198.6l1.9-3.3 1.8 3.6-1.8 4.3z"/>
<path class=o d="M93.9 195.3l1.8-3.7 1.8 2.6-1.8 4.7z"/>
<path class=r d="M95.7 191.6l1.8-3.4 1.9 1.6-1.9 4.4z"/>
<path class=u d="M97.5 188.2l1.9-2.7 1.8 .7-1.8 3.6z"/>
<path class=w d="M99.4 185.5l1.8-1.9 1.8 .2-1.8 2.4z"/>
<path class=y d="M101.2 183.6l1.8-.9 1.9-.3-1.9 1.4z"/>
<path class=z d="M103 182.7l1.9-.3 1.8-.5-1.8 .5z"/>
<path class=A d="M104.9 182.4l1.8-.4 1.9-.1-1.9 0z"/>
<path class=A d="M106.7 182l1.9 .9 1.8-.9-1.8-.1z"/>
<path class=fg d="M.1528 .2708H.3333"/><path class=ff d="M.1528 .2708H.3333"/>
<path class=B d="M132.4 194.5l1.9 .9 1.8-1.8-1.8 0z"/>
<path class=B d="M134.3 195.4l1.8-.2 1.9-1.4-1.9-.2z"/>
<path class=C d="M136.1 195.2l1.9 .1 1.8-1.7-1.8 .2z"/>
<path class=D d="M138 195.3l1.8-.3 1.8-2.4-1.8 1z"/>
<path class=E d="M139.8 195l1.8-.9 1.9-3.2-1.9 1.7z"/>
<path class=G d="M141.6 194.1l1.9-1.5 1.8-4.3-1.8 2.6z"/>
<path class=I d="M143.5 192.6l1.8-1.9 1.8-5.8-1.8 3.4z"/>
<path class=K d="M145.3 190.7l1.8-2.1 1.9-7.4-1.9 3.7z"/>
<path class=N d="M147.1 188.6l1.9-1.9 1.8-9-1.8 3.5z"/>
<path class=P d="M149 186.7l1.8-1.1 1.9-10.4-1.9 2.5z"/>
<path class=Q d="M150.8 185.6l1.9 .2 1.8-11.1-1.8 .5z"/>
<path class=Q d="M152.7 185.8l1.8 1.6 1.8-10.4-1.8-2.3z"/>
<path class=P d="M154.5 187.4l1.8 2.9 1.9-9-1.9-4.3z"/>
<path class=N d="M156.3 190.3l1.9 3.7 1.8-7.4-1.8-5.3z"/>
<path class=K d="M158.2 194l1.8 3.9 1.8-5.8-1.8-5.5z"/>
<path class=I d="M160 197.9l1.8 3.7 1.9-4.4-1.9-5.1z"/>
<path class=G d="M161.8 201.6l1.9 3.2 1.8-3.2-1.8-4.4z"/>
<path class=E d="M163.7 204.8l1.8 2.6 1.9-2.3-1.9-3.5z"/>
<path class=D d="M165.5 207.4l1.9 2.2 1.8-1.8-1.8-2.7z"/>
<path class=C d="M167.4 209.6l1.8 1.6 1.8-1.3-1.8-2.1z"/>
<path class=B d="M169.2 211.2l1.8 2 1.9-1.7-1.9-1.6z"/>
<path class=B d="M171 213.2l1.9 .9 1.8-.9-1.8-1.7z"/>
<path class=fg d="M.6389 .2708H.8472"/><path class=ff d="M.6389 .2708H.8472"/>
<path class=A d="M200.4 227.5l1.9 .9 1.8-.1-1.8-1.7z"/>
<path class=A d="M202.3 228.4l1.8 2.2 1.8-.6-1.8-1.7z"/>
<path class=z d="M204.1 230.6l1.8 2 1.9-.3-1.9-2.3z"/>
<path class=y d="M205.9 232.6l1.9 2.8 1.8 .1-1.8-3.2z"/>
<path class=w d="M207.8 235.4l1.8 3.6 1.9 .7-1.9-4.2z"/>
<path class=u d="M209.6 239l1.9 4.5 1.8 1.6-1.8-5.4z"/>
<path class=r d="M211.5 243.5l1.8 5.2 1.8 2.6-1.8-6.2z"/>
<path class=o d="M213.3 248.7l1.8 5.5 1.9 3.6-1.9-6.5z"/>
<path class=k d="M215.1 254.2l1.9 5 1.8 4.7-1.8-6.1z"/>
<path class=i d="M217 259.2l1.8 3.9 1.8 5.5-1.8-4.7z"/>
<path class=g d="M218.8 263.1l1.8 1.9 1.9 5.9-1.9-2.3z"/>
<path class=l d="M86.5 192.1l1.8 .2 1.9 8.3-1.9 .2z"/>
<path class=n d="M88.3 192.3l1.9-1 1.8 7.3-1.8 2z"/>
<path class=p d="M90.2 191.3l1.8-1.8 1.9 5.8-1.9 3.3z"/>
<path class=r d="M92 189.5l1.8-2.2 1.9 4.3-1.8 3.7z"/>
<path class=t d="M93.8 187.3l1.9-1.9 1.8 2.8-1.8 3.4z"/>
<path class=w d="M95.7 185.4l1.8-1.5 1.9 1.6-1.9 2.7z"/>
<path class=x d="M97.5 183.9l1.9-.9 1.8 .6-1.8 1.9z"/>
<path class=z d="M99.4 183l1.8-.3 1.8 0-1.8 .9z"/>
<path class=A d="M101.2 182.7l1.8 .1 1.9-.4-1.9 .3z"/>
<path class=A d="M103 182.8l1.9 .1 1.8-.9-1.8 .4z"/>
<path class=fg d="M.1389 .2569H.3472"/><path class=ff d="M.1389 .2569H.3472"/>
<path class=B d="M132.4 196.3l1.9 .9 1.8-2-1.8 .2z"/>
<path class=B d="M134.3 197.2l1.8 .1 1.9-2-1.9-.1z"/>
<path class=C d="M136.1 197.3l1.9 .5 1.8-2.8-1.8 .3z"/>
<path class=C d="M138 197.8l1.8 .2 1.8-3.9-1.8 .9z"/>
<path class=D d="M139.8 198l1.8 .2 1.9-5.6-1.9 1.5z"/>
<path class=E d="M141.6 198.2l1.9-.1 1.8-7.4-1.8 1.9z"/>
<path class=G d="M143.5 198.1l1.8-.1 1.8-9.4-1.8 2.1z"/>
<path class=H d="M145.3 198l1.8 0 1.9-11.3-1.9 1.9z"/>
<path class=I d="M147.1 198l1.9 .3 1.8-12.7-1.8 1.1z"/>
<path class=J d="M149 198.3l1.8 .6 1.9-13.1-1.9-.2z"/>
<path class=J d="M150.8 198.9l1.8 1.1 1.9-12.6-1.8-1.6z"/>
<path class=I d="M152.6 200l1.9 1.6 1.8-11.3-1.8-2.9z"/>
<path class=H d="M154.5 201.6l1.8 1.8 1.9-9.4-1.9-3.7z"/>
<path class=G d="M156.3 203.4l1.9 1.9 1.8-7.4-1.8-3.9z"/>
<path class=E d="M158.2 205.3l1.8 1.8 1.8-5.5-1.8-3.7z"/>
<path class=D d="M160 207.1l1.8 1.6 1.9-3.9-1.9-3.2z"/>
<path class=C d="M161.8 208.7l1.9 1.5 1.8-2.8-1.8-2.6z"/>
<path class=C d="M163.7 210.2l1.8 1.4 1.9-2-1.9-2.2z"/>
<path class=B d="M165.5 211.6l1.9 1.6 1.8-2-1.8-1.6z"/>
<path class=B d="M167.4 213.2l1.8 .9 1.8-.9-1.8-2z"/>
<path class=fg d="M.625 .2569H.8611"/><path class=ff d="M.625 .2569H.8611"/>
<path class=A d="M200.4 229.3l1.9 1.6 1.8-.3-1.8-2.2z"/>
<path class=A d="M202.3 230.9l1.8 1.7 1.8 0-1.8-2z"/>
<path class=z d="M204.1 232.6l1.8 2.1 1.9 .7-1.9-2.8z"/>
<path class=x d="M205.9 234.7l1.9 2.7 1.8 1.6-1.8-3.6z"/>
<path class=w d="M207.8 237.4l1.8 3.3 1.9 2.8-1.9-4.5z"/>
<path class=t d="M209.6 240.7l1.8 3.7 1.9 4.3-1.8-5.2z"/>
<path class=r d="M211.4 244.4l1.9 3.9 1.8 5.9-1.8-5.5z"/>
<path class=p d="M213.3 248.3l1.8 3.6 1.9 7.3-1.9-5z"/>
<path class=n d="M215.1 251.9l1.9 2.8 1.8 8.4-1.8-3.9z"/>
<path class=l d="M217 254.7l1.8 1.6 1.8 8.7-1.8-1.9z"/>
<path class=s d="M84.7 181.3l1.8 .6 1.8 10.4-1.8-.2z"/>
<path class=t d="M86.5 181.9l1.8 .2 1.9 9.2-1.9 1z"/>
<path class=u d="M88.3 182.1l1.9-.1 1.8 7.5-1.8 1.8z"/>
<path class=v d="M90.2 182l1.8-.2 1.8 5.5-1.8 2.2z"/>
<path class=x d="M92 181.8l1.8-.1 1.9 3.7-1.9 1.9z"/>
<path class=y d="M93.8 181.7l1.9 0 1.8 2.2-1.8 1.5z"/>
<path class=z d="M95.7 181.7l1.8 .3 1.9 1-1.9 .9z"/>
<path class=A d="M97.5 182l1.9 0 1.8 .7-1.8 .3z"/>
<path class=A d="M99.4 182l1.8 .9 1.8-.1-1.8-.1z"/>
<path class=A d="M101.2 182.9l1.8 .9 1.9-.9-1.9-.1z"/>
<path class=fg d="M.1389 .2431H.3611"/><path class=ff d="M.1389 .2431H.3611"/>
<path class=B d="M132.4 198l1.9 .9 1.8-1.6-1.8-.1z"/>
<path class=B d="M134.3 198.9l1.8 1.8 1.9-2.9-1.9-.5z"/>
<path class=B d="M136.1 200.7l1.8 1.5 1.9-4.2-1.8-.2z"/>
<path class=B d="M137.9 202.2l1.9 1.8 1.8-5.8-1.8-.2z"/>
<path class=B d="M139.8 204l1.8 1.9 1.9-7.8-1.9 .1z"/>
<path class=B d="M141.6 205.9l1.9 2 1.8-9.9-1.8 .1z"/>
<path class=B d="M143.5 207.9l1.8 1.9 1.8-11.8-1.8 0z"/>
<path class=B d="M145.3 209.8l1.8 1.6 1.9-13.1-1.9-.3z"/>
<path class=B d="M147.1 211.4l1.9 1.1 1.8-13.6-1.8-.6z"/>
<path class=B d="M149 212.5l1.8 .6 1.8-13.1-1.8-1.1z"/>
<path class=B d="M150.8 213.1l1.8 .2 1.9-11.7-1.9-1.6z"/>
<path class=B d="M152.6 213.3l1.9 0 1.8-9.9-1.8-1.8z"/>
<path class=B d="M154.5 213.3l1.8-.2 1.9-7.8-1.9-1.9z"/>
<path class=B d="M156.3 213.1l1.9-.2 1.8-5.8-1.8-1.8z"/>
<path class=B d="M158.2 212.9l1.8 0 1.8-4.2-1.8-1.6z"/>
<path class=B d="M160 212.9l1.8 .3 1.9-3-1.9-1.5z"/>
<path class=B d="M161.8 213.2l1.9 0 1.8-1.6-1.8-1.4z"/>
<path class=B d="M163.7 213.2l1.8 .9 1.9-.9-1.9-1.6z"/>
<path class=fg d="M.6111 .2431H.8611"/><path class=ff d="M.6111 .2431H.8611"/>
<path class=A d="M198.6 230.1l1.8 .9 1.9-.1-1.9-1.6z"/>
<path class=A d="M200.4 231l1.9 .9 1.8 .7-1.8-1.7z"/>
<path class=A d="M202.3 231.9l1.8 1.8 1.8 1-1.8-2.1z"/>
<path class=z d="M204.1 233.7l1.8 1.5 1.9 2.2-1.9-2.7z"/>
<path class=y d="M205.9 235.2l1.9 1.8 1.8 3.7-1.8-3.3z"/>
<path class=x d="M207.8 237l1.8 1.9 1.8 5.5-1.8-3.7z"/>
<path class=v d="M209.6 238.9l1.8 2 1.9 7.4-1.9-3.9z"/>
<path class=u d="M211.4 240.9l1.9 1.9 1.8 9.1-1.8-3.6z"/>
<path class=t d="M213.3 242.8l1.8 1.5 1.9 10.4-1.9-2.8z"/>
<path class=s d="M215.1 244.3l1.9 1.2 1.8 10.8-1.8-1.6z"/>
<path class=B d="M82.8 169.5l1.9 1.1 1.8 11.3-1.8-.6z"/>
<path class=B d="M84.7 170.6l1.8 1.6 1.8 9.9-1.8-.2z"/>
<path class=B d="M86.5 172.2l1.8 1.8 1.9 8-1.9 .1z"/>
<path class=B d="M88.3 174l1.9 1.8 1.8 6-1.8 .2z"/>
<path class=B d="M90.2 175.8l1.8 1.9 1.8 4-1.8 .1z"/>
<path class=B d="M92 177.7l1.8 1.6 1.9 2.4-1.9 0z"/>
<path class=B d="M93.8 179.3l1.9 1.5 1.8 1.2-1.8-.3z"/>
<path class=B d="M95.7 180.8l1.8 1.3 1.9-.1-1.9 0z"/>
<path class=B d="M97.5 182.1l1.9 1.7 1.8-.9-1.8-.9z"/>
<path class=fg d="M.125 .2292H.3472"/><path class=ff d="M.125 .2292H.3472"/>
<path class=A d="M128.8 198l1.8 1.7 1.8-1.7-1.8-.8z"/>
<path class=A d="M130.6 199.7l1.8 1.7 1.9-2.5-1.9-.9z"/>
<path class=A d="M132.4 201.4l1.9 2.1 1.8-2.8-1.8-1.8z"/>
<path class=z d="M134.3 203.5l1.8 2.7 1.8-4-1.8-1.5z"/>
<path class=y d="M136.1 206.2l1.8 3.3 1.9-5.5-1.9-1.8z"/>
<path class=x d="M137.9 209.5l1.9 3.7 1.8-7.3-1.8-1.9z"/>
<path class=v d="M139.8 213.2l1.8 3.9 1.9-9.2-1.9-2z"/>
<path class=u d="M141.6 217.1l1.9 3.6 1.8-10.9-1.8-1.9z"/>
<path class=t d="M143.5 220.7l1.8 2.8 1.8-12.1-1.8-1.6z"/>
<path class=s d="M145.3 223.5l1.8 1.6 1.9-12.6-1.9-1.1z"/>
<path class=s d="M147.1 225.1l1.9 .2 1.8-12.2-1.8-.6z"/>
<path class=t d="M149 225.3l1.8-1 1.8-11-1.8-.2z"/>
<path class=u d="M150.8 224.3l1.8-1.9 1.9-9.1-1.9 0z"/>
<path class=v d="M152.6 222.4l1.9-2.1 1.8-7.2-1.8 .2z"/>
<path class=x d="M154.5 220.3l1.8-1.9 1.9-5.5-1.9 .2z"/>
<path class=y d="M156.3 218.4l1.9-1.5 1.8-4-1.8 0z"/>
<path class=z d="M158.2 216.9l1.8-.9 1.8-2.8-1.8-.3z"/>
<path class=A d="M160 216l1.8-.3 1.9-2.5-1.9 0z"/>
<path class=A d="M161.8 215.7l1.9 .1 1.8-1.7-1.8-.9z"/>
<path class=A d="M163.7 215.8l1.8 .1 1.8-.9-1.8-.9z"/>
<path class=fg d="M.625 .2292H.875"/><path class=ff d="M.625 .2292H.875"/>
<path class=B d="M198.6 231.9l1.8 .2 1.9-.2-1.9-.9z"/>
<path class=B d="M200.4 232.1l1.9 .4 1.8 1.2-1.8-1.8z"/>
<path class=B d="M202.3 232.5l1.8 .3 1.8 2.4-1.8-1.5z"/>
<path class=B d="M204.1 232.8l1.8 .1 1.9 4.1-1.9-1.8z"/>
<path class=B d="M205.9 232.9l1.9 0 1.8 6-1.8-1.9z"/>
<path class=B d="M207.8 232.9l1.8-.1 1.8 8.1-1.8-2z"/>
<path class=B d="M209.6 232.8l1.8 0 1.9 10-1.9-1.9z"/>
<path class=B d="M211.4 232.8l1.9 .2 1.8 11.3-1.8-1.5z"/>
<path class=B d="M213.3 233l1.8 .7 1.9 11.8-1.9-1.2z"/>
<path class=J d="M81 158.1l1.8 1.7 1.9 10.8-1.9-1.1z"/>
<path class=I d="M82.8 159.8l1.9 2.9 1.8 9.5-1.8-1.6z"/>
<path class=H d="M84.7 162.7l1.8 3.6 1.8 7.7-1.8-1.8z"/>
<path class=G d="M86.5 166.3l1.8 3.9 1.9 5.6-1.9-1.8z"/>
<path class=E d="M88.3 170.2l1.9 3.7 1.8 3.8-1.8-1.9z"/>
<path class=D d="M90.2 173.9l1.8 3.2 1.8 2.2-1.8-1.6z"/>
<path class=C d="M92 177.1l1.8 2.7 1.9 1-1.9-1.5z"/>
<path class=C d="M93.8 179.8l1.9 2.1 1.8 .2-1.8-1.3z"/>
<path class=B d="M95.7 181.9l1.8 1.7 1.9 .2-1.9-1.7z"/>
<path class=B d="M97.5 183.6l1.9 2 1.8-.9-1.8-.9z"/>
<path class=fg d="M.1389 .2153H.3472"/><path class=ff d="M.1389 .2153H.3472"/>
<path class=A d="M126.9 198.9l1.9 2.2 1.8-1.4-1.8-1.7z"/>
<path class=A d="M128.8 201.1l1.8 2.1 1.8-1.8-1.8-1.7z"/>
<path class=z d="M130.6 203.2l1.8 2.7 1.9-2.4-1.9-2.1z"/>
<path class=x d="M132.4 205.9l1.9 3.7 1.8-3.4-1.8-2.7z"/>
<path class=w d="M134.3 209.6l1.8 4.5 1.8-4.6-1.8-3.3z"/>
<path class=t d="M136.1 214.1l1.8 5.2 1.9-6.1-1.9-3.7z"/>
<path class=r d="M137.9 219.3l1.9 5.4 1.8-7.6-1.8-3.9z"/>
<path class=p d="M139.8 224.7l1.8 5.1 1.9-9.1-1.9-3.6z"/>
<path class=n d="M141.6 229.8l1.9 3.8 1.8-10.1-1.8-2.8z"/>
<path class=l d="M143.5 233.6l1.8 2 1.8-10.5-1.8-1.6z"/>
<path class=l d="M145.3 235.6l1.8-.2 1.9-10.1-1.9-.2z"/>
<path class=n d="M147.1 235.4l1.9-2 1.8-9.1-1.8 1z"/>
<path class=p d="M149 233.4l1.8-3.3 1.8-7.7-1.8 1.9z"/>
<path class=r d="M150.8 230.1l1.8-3.7 1.9-6.1-1.9 2.1z"/>
<path class=t d="M152.6 226.4l1.9-3.4 1.8-4.6-1.8 1.9z"/>
<path class=w d="M154.5 223l1.8-2.7 1.9-3.4-1.9 1.5z"/>
<path class=x d="M156.3 220.3l1.9-1.9 1.8-2.4-1.8 .9z"/>
<path class=z d="M158.2 218.4l1.8-.9 1.8-1.8-1.8 .3z"/>
<path class=A d="M160 217.5l1.8-.3 1.9-1.4-1.9-.1z"/>
<path class=A d="M161.8 217.2l1.9-.4 1.8-.9-1.8-.1z"/>
<path class=fg d="M.625 .2153H.8611"/><path class=ff d="M.625 .2153H.8611"/>
<path class=B d="M194.9 231.9l1.8-.2 1.9 .2-1.9-.9z"/>
<path class=B d="M196.7 231.7l1.9 .1 1.8 .3-1.8-.2z"/>
<path class=C d="M198.6 231.8l1.8-.3 1.9 1-1.9-.4z"/>
<path class=C d="M200.4 231.5l1.9-.9 1.8 2.2-1.8-.3z"/>
<path class=D d="M202.3 230.6l1.8-1.4 1.8 3.7-1.8-.1z"/>
<path class=E d="M204.1 229.2l1.8-1.9 1.9 5.6-1.9 0z"/>
<path class=G d="M205.9 227.3l1.9-2.1 1.8 7.6-1.8 .1z"/>
<path class=H d="M207.8 225.2l1.8-1.9 1.8 9.5-1.8 0z"/>
<path class=I d="M209.6 223.3l1.8-1.1 1.9 10.8-1.9-.2z"/>
<path class=J d="M211.4 222.2l1.9 .1 1.8 11.4-1.8-.7z"/>
<path class=Q d="M79.1 148.8l1.9 2.3 1.8 8.7-1.8-1.7z"/>
<path class=P d="M81 151.1l1.8 4.3 1.9 7.3-1.9-2.9z"/>
<path class=N d="M82.8 155.4l1.9 5.3 1.8 5.6-1.8-3.6z"/>
<path class=K d="M84.7 160.7l1.8 5.5 1.8 4-1.8-3.9z"/>
<path class=I d="M86.5 166.2l1.8 5.1 1.9 2.6-1.9-3.7z"/>
<path class=G d="M88.3 171.3l1.9 4.4 1.8 1.4-1.8-3.2z"/>
<path class=E d="M90.2 175.7l1.8 3.6 1.8 .5-1.8-2.7z"/>
<path class=D d="M92 179.3l1.8 2.7 1.9-.1-1.9-2.1z"/>
<path class=C d="M93.8 182l1.9 2 1.8-.4-1.8-1.7z"/>
<path class=B d="M95.7 184l1.8 1.6 1.9 0-1.9-2z"/>
<path class=B d="M97.5 185.6l1.9 1.7 1.8-.8-1.8-.9z"/>
<path class=fg d="M.1528 .2014H.3333"/><path class=ff d="M.1528 .2014H.3333"/>
<path class=A d="M123.2 198.9l1.9 1.7 1.8-1.7-1.8-.9z"/>
<path class=A d="M125.1 200.6l1.8 1.8 1.9-1.3-1.9-2.2z"/>
<path class=z d="M126.9 202.4l1.9 2.3 1.8-1.5-1.8-2.1z"/>
<path class=y d="M128.8 204.7l1.8 3.2 1.8-2-1.8-2.7z"/>
<path class=w d="M130.6 207.9l1.8 4.2 1.9-2.5-1.9-3.7z"/>
<path class=u d="M132.4 212.1l1.9 5.3 1.8-3.3-1.8-4.5z"/>
<path class=r d="M134.3 217.4l1.8 6.2 1.8-4.3-1.8-5.2z"/>
<path class=o d="M136.1 223.6l1.8 6.6 1.9-5.5-1.9-5.4z"/>
<path class=k d="M137.9 230.2l1.9 6 1.8-6.4-1.8-5.1z"/>
<path class=i d="M139.8 236.2l1.8 4.7 1.9-7.3-1.9-3.8z"/>
<path class=g d="M141.6 240.9l1.9 2.4 1.8-7.7-1.8-2z"/>
<path class=g d="M143.5 243.3l1.8-.6 1.8-7.3-1.8 .2z"/>
<path class=i d="M145.3 242.7l1.8-2.9 1.9-6.4-1.9 2z"/>
<path class=k d="M147.1 239.8l1.9-4.3 1.8-5.4-1.8 3.3z"/>
<path class=o d="M149 235.5l1.8-4.7 1.8-4.4-1.8 3.7z"/>
<path class=r d="M150.8 230.8l1.8-4.5 1.9-3.3-1.9 3.4z"/>
<path class=u d="M152.6 226.3l1.9-3.5 1.8-2.5-1.8 2.7z"/>
<path class=w d="M154.5 222.8l1.8-2.4 1.9-2-1.9 1.9z"/>
<path class=y d="M156.3 220.4l1.9-1.4 1.8-1.5-1.8 .9z"/>
<path class=z d="M158.2 219l1.8-.6 1.8-1.2-1.8 .3z"/>
<path class=A d="M160 218.4l1.8 .1 1.9-1.7-1.9 .4z"/>
<path class=A d="M161.8 218.5l1.9 .1 1.8-.9-1.8-.9z"/>
<path class=fg d="M.6389 .2014H.8472"/><path class=ff d="M.6389 .2014H.8472"/>
<path class=B d="M191.2 231.9l1.9 .1 1.8-.1-1.8-.9z"/>
<path class=B d="M193.1 232l1.8 .2 1.8-.5-1.8 .2z"/>
<path class=C d="M194.9 232.2l1.8-.3 1.9-.1-1.9-.1z"/>
<path class=D d="M196.7 231.9l1.9-.9 1.8 .5-1.8 .3z"/>
<path class=E d="M198.6 231l1.8-1.8 1.9 1.4-1.9 .9z"/>
<path class=G d="M200.4 229.2l1.9-2.6 1.8 2.6-1.8 1.4z"/>
<path class=I d="M202.3 226.6l1.8-3.3 1.8 4-1.8 1.9z"/>
<path class=K d="M204.1 223.3l1.8-3.7 1.9 5.6-1.9 2.1z"/>
<path class=N d="M205.9 219.6l1.9-3.5 1.8 7.2-1.8 1.9z"/>
<path class=P d="M207.8 216.1l1.8-2.6 1.8 8.7-1.8 1.1z"/>
<path class=Q d="M209.6 213.5l1.8-.5 1.9 9.3-1.9-.1z"/>
<path class=V d="M77.3 142.8l1.8 4.3 1.9 4-1.9-2.3z"/>
<path class=T d="M79.1 147.1l1.9 5.4 1.8 2.9-1.8-4.3z"/>
<path class=Q d="M81 152.5l1.8 6.1 1.9 2.1-1.9-5.3z"/>
<path class=N d="M82.8 158.6l1.9 6.2 1.8 1.4-1.8-5.5z"/>
<path class=K d="M84.7 164.8l1.8 5.8 1.8 .7-1.8-5.1z"/>
<path class=H d="M86.5 170.6l1.8 5 1.9 .1-1.9-4.4z"/>
<path class=F d="M88.3 175.6l1.9 3.9 1.8-.2-1.8-3.6z"/>
<path class=D d="M90.2 179.5l1.8 3 1.8-.5-1.8-2.7z"/>
<path class=C d="M92 182.5l1.8 2.2 1.9-.7-1.9-2z"/>
<path class=B d="M93.8 184.7l1.9 1.7 1.8-.8-1.8-1.6z"/>
<path class=B d="M95.7 186.4l1.8 1.8 1.9-.9-1.9-1.7z"/>
<path class=fg d="M.1528 .1875H.3333"/><path class=ff d="M.1528 .1875H.3333"/>
<path class=A d="M121.4 199.8l1.8 1.8 1.9-1-1.9-1.7z"/>
<path class=A d="M123.2 201.6l1.9 1.8 1.8-1-1.8-1.8z"/>
<path class=z d="M125.1 203.4l1.8 2.4 1.9-1.1-1.9-2.3z"/>
<path class=y d="M126.9 205.8l1.9 3.4 1.8-1.3-1.8-3.2z"/>
<path class=w d="M128.8 209.2l1.8 4.5 1.8-1.6-1.8-4.2z"/>
<path class=t d="M130.6 213.7l1.8 5.6 1.9-1.9-1.9-5.3z"/>
<path class=q d="M132.4 219.3l1.9 6.6 1.8-2.3-1.8-6.2z"/>
<path class=m d="M134.3 225.9l1.8 6.9 1.8-2.6-1.8-6.6z"/>
<path class=i d="M136.1 232.8l1.8 6.5 1.9-3.1-1.9-6z"/>
<path class=e d="M137.9 239.3l1.9 5.2 1.8-3.6-1.8-4.7z"/>
<path class=c d="M139.8 244.5l1.8 3.2 1.9-4.4-1.9-2.4z"/>
<path class=c d="M141.6 247.7l1.9-1.4 1.8-3.6-1.8 .6z"/>
<path class=e d="M143.5 246.3l1.8-3.4 1.8-3.1-1.8 2.9z"/>
<path class=i d="M145.3 242.9l1.8-4.7 1.9-2.7-1.9 4.3z"/>
<path class=m d="M147.1 238.2l1.9-5.2 1.8-2.2-1.8 4.7z"/>
<path class=q d="M149 233l1.8-4.8 1.8-1.9-1.8 4.5z"/>
<path class=t d="M150.8 228.2l1.8-3.8 1.9-1.6-1.9 3.5z"/>
<path class=w d="M152.6 224.4l1.9-2.7 1.8-1.3-1.8 2.4z"/>
<path class=y d="M154.5 221.7l1.8-1.6 1.9-1.1-1.9 1.4z"/>
<path class=z d="M156.3 220.1l1.9-.6 1.8-1.1-1.8 .6z"/>
<path class=A d="M158.2 219.5l1.8 0 1.8-1-1.8-.1z"/>
<path class=A d="M160 219.5l1.8-.1 1.9-.8-1.9-.1z"/>
<path class=fg d="M.6389 .1875H.8472"/><path class=ff d="M.6389 .1875H.8472"/>
<path class=B d="M189.4 232.8l1.8-.1 1.9-.7-1.9-.1z"/>
<path class=B d="M191.2 232.7l1.9 .1 1.8-.6-1.8-.2z"/>
<path class=C d="M193.1 232.8l1.8-.4 1.8-.5-1.8 .3z"/>
<path class=D d="M194.9 232.4l1.8-1.2 1.9-.2-1.9 .9z"/>
<path class=F d="M196.7 231.2l1.9-2.1 1.8 .1-1.8 1.8z"/>
<path class=H d="M198.6 229.1l1.8-3.2 1.9 .7-1.9 2.6z"/>
<path class=K d="M200.4 225.9l1.9-4 1.8 1.4-1.8 3.3z"/>
<path class=N d="M202.3 221.9l1.8-4.5 1.8 2.2-1.8 3.7z"/>
<path class=Q d="M204.1 217.4l1.8-4.3 1.9 3-1.9 3.5z"/>
<path class=T d="M205.9 213.1l1.9-3.6 1.8 4-1.8 2.6z"/>
<path class=V d="M207.8 209.5l1.8-2.5 1.8 6-1.8 .5z"/>
<path class=W d="M75.5 147.9l1.8 2.4 1.8-3.2-1.8-4.3z"/>
<path class=U d="M77.3 150.3l1.8 4.6 1.9-2.4-1.9-5.4z"/>
<path class=R d="M79.1 154.9l1.9 5.6 1.8-1.9-1.8-6.1z"/>
<path class=O d="M81 160.5l1.8 6 1.9-1.7-1.9-6.2z"/>
<path class=K d="M82.8 166.5l1.9 5.5 1.8-1.4-1.8-5.8z"/>
<path class=H d="M84.7 172l1.8 4.8 1.8-1.2-1.8-5z"/>
<path class=F d="M86.5 176.8l1.8 3.8 1.9-1.1-1.9-3.9z"/>
<path class=D d="M88.3 180.6l1.9 2.9 1.8-1-1.8-3z"/>
<path class=C d="M90.2 183.5l1.8 2.1 1.8-.9-1.8-2.2z"/>
<path class=B d="M92 185.6l1.8 1.7 1.9-.9-1.9-1.7z"/>
<path class=B d="M93.8 187.3l1.9 1.8 1.8-.9-1.8-1.8z"/>
<path class=fg d="M.1528 .1736H.3333"/><path class=ff d="M.1528 .1736H.3333"/>
<path class=A d="M119.6 200.7l1.8 1.8 1.8-.9-1.8-1.8z"/>
<path class=A d="M121.4 202.5l1.8 1.7 1.9-.8-1.9-1.8z"/>
<path class=z d="M123.2 204.2l1.9 2.4 1.8-.8-1.8-2.4z"/>
<path class=y d="M125.1 206.6l1.8 3.3 1.9-.7-1.9-3.4z"/>
<path class=w d="M126.9 209.9l1.9 4.3 1.8-.5-1.8-4.5z"/>
<path class=t d="M128.8 214.2l1.8 5.5 1.8-.4-1.8-5.6z"/>
<path class=p d="M130.6 219.7l1.8 6.3 1.9-.1-1.9-6.6z"/>
<path class=l d="M132.4 226l1.9 6.7 1.8 .1-1.8-6.9z"/>
<path class=i d="M134.3 232.7l1.8 6.2 1.8 .4-1.8-6.5z"/>
<path class=d d="M136.1 238.9l1.8 4.8 1.9 .8-1.9-5.2z"/>
<path class=b d="M137.9 243.7l1.9 2.4 1.8 1.6-1.8-3.2z"/>
<path class=b d="M139.8 246.1l1.8-.6 1.9 .8-1.9 1.4z"/>
<path class=d d="M141.6 245.5l1.9-3.1 1.8 .5-1.8 3.4z"/>
<path class=i d="M143.5 242.4l1.8-4.4 1.8 .2-1.8 4.7z"/>
<path class=l d="M145.3 238l1.8-4.9 1.9-.1-1.9 5.2z"/>
<path class=p d="M147.1 233.1l1.9-4.5 1.8-.4-1.8 4.8z"/>
<path class=t d="M149 228.6l1.8-3.7 1.8-.5-1.8 3.8z"/>
<path class=w d="M150.8 224.9l1.8-2.5 1.9-.7-1.9 2.7z"/>
<path class=y d="M152.6 222.4l1.9-1.5 1.8-.8-1.8 1.6z"/>
<path class=z d="M154.5 220.9l1.8-.6 1.9-.8-1.9 .6z"/>
<path class=A d="M156.3 220.3l1.9 0 1.8-.8-1.8 0z"/>
<path class=A d="M158.2 220.3l1.8 0 1.8-.9-1.8 .1z"/>
<path class=fg d="M.6389 .1736H.8472"/><path class=ff d="M.6389 .1736H.8472"/>
<path class=B d="M187.6 233.7l1.8 0 1.8-1-1.8 .1z"/>
<path class=B d="M189.4 233.7l1.8 .1 1.9-1-1.9-.1z"/>
<path class=C d="M191.2 233.8l1.9-.4 1.8-1-1.8 .4z"/>
<path class=D d="M193.1 233.4l1.8-1.1 1.8-1.1-1.8 1.2z"/>
<path class=F d="M194.9 232.3l1.8-2 1.9-1.2-1.9 2.1z"/>
<path class=H d="M196.7 230.3l1.9-3 1.8-1.4-1.8 3.2z"/>
<path class=K d="M198.6 227.3l1.8-3.8 1.9-1.6-1.9 4z"/>
<path class=O d="M200.4 223.5l1.9-4.1 1.8-2-1.8 4.5z"/>
<path class=R d="M202.3 219.4l1.8-3.9 1.8-2.4-1.8 4.3z"/>
<path class=U d="M204.1 215.5l1.8-2.8 1.9-3.2-1.9 3.6z"/>
<path class=W d="M205.9 212.7l1.9-.6 1.8-5.1-1.8 2.5z"/>
<path class=T d="M73.6 155.5l1.9 1.9 1.8-7.1-1.8-2.4z"/>
<path class=S d="M75.5 157.4l1.8 3.5 1.8-6-1.8-4.6z"/>
<path class=P d="M77.3 160.9l1.8 4.6 1.9-5-1.9-5.6z"/>
<path class=M d="M79.1 165.5l1.9 4.9 1.8-3.9-1.8-6z"/>
<path class=J d="M81 170.4l1.8 4.6 1.9-3-1.9-5.5z"/>
<path class=H d="M82.8 175l1.9 4 1.8-2.2-1.8-4.8z"/>
<path class=F d="M84.7 179l1.8 3.3 1.8-1.7-1.8-3.8z"/>
<path class=D d="M86.5 182.3l1.8 2.6 1.9-1.4-1.9-2.9z"/>
<path class=C d="M88.3 184.9l1.9 1.9 1.8-1.2-1.8-2.1z"/>
<path class=B d="M90.2 186.8l1.8 1.5 1.8-1-1.8-1.7z"/>
<path class=B d="M92 188.3l1.8 1.7 1.9-.9-1.9-1.8z"/>
<path class=fg d="M.1528 .1597H.3333"/><path class=ff d="M.1528 .1597H.3333"/>
<path class=A d="M117.7 201.6l1.9 1.7 1.8-.8-1.8-1.8z"/>
<path class=A d="M119.6 203.3l1.8 1.6 1.8-.7-1.8-1.7z"/>
<path class=z d="M121.4 204.9l1.8 2.2 1.9-.5-1.9-2.4z"/>
<path class=y d="M123.2 207.1l1.9 3 1.8-.2-1.8-3.3z"/>
<path class=w d="M125.1 210.1l1.8 3.8 1.9 .3-1.9-4.3z"/>
<path class=t d="M126.9 213.9l1.9 4.9 1.8 .9-1.8-5.5z"/>
<path class=q d="M128.8 218.8l1.8 5.6 1.8 1.6-1.8-6.3z"/>
<path class=n d="M130.6 224.4l1.8 5.9 1.9 2.4-1.9-6.7z"/>
<path class=j d="M132.4 230.3l1.9 5.4 1.8 3.2-1.8-6.2z"/>
<path class=g d="M134.3 235.7l1.8 4 1.8 4-1.8-4.8z"/>
<path class=e d="M136.1 239.7l1.8 2.1 1.9 4.3-1.9-2.4z"/>
<path class=e d="M137.9 241.8l1.9-.3 1.8 4-1.8 .6z"/>
<path class=g d="M139.8 241.5l1.8-2.3 1.9 3.2-1.9 3.1z"/>
<path class=j d="M141.6 239.2l1.9-3.6 1.8 2.4-1.8 4.4z"/>
<path class=n d="M143.5 235.6l1.8-4.1 1.8 1.6-1.8 4.9z"/>
<path class=q d="M145.3 231.5l1.8-3.8 1.9 .9-1.9 4.5z"/>
<path class=t d="M147.1 227.7l1.9-3.1 1.8 .3-1.8 3.7z"/>
<path class=w d="M149 224.6l1.8-2.1 1.8-.1-1.8 2.5z"/>
<path class=y d="M150.8 222.5l1.8-1.1 1.9-.5-1.9 1.5z"/>
<path class=z d="M152.6 221.4l1.9-.4 1.8-.7-1.8 .6z"/>
<path class=A d="M154.5 221l1.8 .1 1.9-.8-1.9 0z"/>
<path class=A d="M156.3 221.1l1.9 .1 1.8-.9-1.8 0z"/>
<path class=fg d="M.6389 .1597H.8472"/><path class=ff d="M.6389 .1597H.8472"/>
<path class=B d="M185.7 234.6l1.9 .1 1.8-1-1.8 0z"/>
<path class=B d="M187.6 234.7l1.8 .3 1.8-1.2-1.8-.1z"/>
<path class=C d="M189.4 235l1.8-.2 1.9-1.4-1.9 .4z"/>
<path class=D d="M191.2 234.8l1.9-.8 1.8-1.7-1.8 1.1z"/>
<path class=F d="M193.1 234l1.8-1.5 1.8-2.2-1.8 2z"/>
<path class=H d="M194.9 232.5l1.8-2.2 1.9-3-1.9 3z"/>
<path class=J d="M196.7 230.3l1.9-2.9 1.8-3.9-1.8 3.8z"/>
<path class=M d="M198.6 227.4l1.8-3.1 1.9-4.9-1.9 4.1z"/>
<path class=P d="M200.4 224.3l1.9-2.8 1.8-6-1.8 3.9z"/>
<path class=S d="M202.3 221.5l1.8-1.7 1.8-7.1-1.8 2.8z"/>
<path class=T d="M204.1 219.8l1.8-.1 1.9-7.6-1.9 .6z"/>
<path class=O d="M71.8 164l1.8 1.5 1.9-8.1-1.9-1.9z"/>
<path class=N d="M73.6 165.5l1.9 2.7 1.8-7.3-1.8-3.5z"/>
<path class=M d="M75.5 168.2l1.8 3.3 1.8-6-1.8-4.6z"/>
<path class=J d="M77.3 171.5l1.8 3.7 1.9-4.8-1.9-4.9z"/>
<path class=H d="M79.1 175.2l1.9 3.5 1.8-3.7-1.8-4.6z"/>
<path class=F d="M81 178.7l1.8 3.1 1.9-2.8-1.9-4z"/>
<path class=E d="M82.8 181.8l1.9 2.5 1.8-2-1.8-3.3z"/>
<path class=C d="M84.7 184.3l1.8 2.1 1.8-1.5-1.8-2.6z"/>
<path class=C d="M86.5 186.4l1.8 1.7 1.9-1.3-1.9-1.9z"/>
<path class=B d="M88.3 188.1l1.9 1.9 1.8-1.7-1.8-1.5z"/>
<path class=B d="M90.2 190l1.8 .9 1.8-.9-1.8-1.7z"/>
<path class=fg d="M.1528 .1458H.3333"/><path class=ff d="M.1528 .1458H.3333"/>
<path class=A d="M115.9 202.5l1.8 .9 1.9-.1-1.9-1.7z"/>
<path class=A d="M117.7 203.4l1.9 2.1 1.8-.6-1.8-1.6z"/>
<path class=z d="M119.6 205.5l1.8 1.9 1.8-.3-1.8-2.2z"/>
<path class=y d="M121.4 207.4l1.8 2.6 1.9 .1-1.9-3z"/>
<path class=x d="M123.2 210l1.9 3.2 1.8 .7-1.8-3.8z"/>
<path class=v d="M125.1 213.2l1.8 4 1.9 1.6-1.9-4.9z"/>
<path class=s d="M126.9 217.2l1.9 4.6 1.8 2.6-1.8-5.6z"/>
<path class=p d="M128.8 221.8l1.8 4.7 1.8 3.8-1.8-5.9z"/>
<path class=m d="M130.6 226.5l1.8 4.4 1.9 4.8-1.9-5.4z"/>
<path class=k d="M132.4 230.9l1.9 3.4 1.8 5.4-1.8-4z"/>
<path class=j d="M134.3 234.3l1.8 1.7 1.8 5.8-1.8-2.1z"/>
<path class=j d="M136.1 236l1.8 .1 1.9 5.4-1.9 .3z"/>
<path class=k d="M137.9 236.1l1.9-1.6 1.8 4.7-1.8 2.3z"/>
<path class=m d="M139.8 234.5l1.8-2.6 1.9 3.7-1.9 3.6z"/>
<path class=p d="M141.6 231.9l1.9-3 1.8 2.6-1.8 4.1z"/>
<path class=s d="M143.5 228.9l1.8-2.8 1.8 1.6-1.8 3.8z"/>
<path class=v d="M145.3 226.1l1.8-2.2 1.9 .7-1.9 3.1z"/>
<path class=x d="M147.1 223.9l1.9-1.5 1.8 .1-1.8 2.1z"/>
<path class=y d="M149 222.4l1.8-.7 1.8-.3-1.8 1.1z"/>
<path class=z d="M150.8 221.7l1.8-.1 1.9-.6-1.9 .4z"/>
<path class=A d="M152.6 221.6l1.9-.4 1.8-.1-1.8-.1z"/>
<path class=A d="M154.5 221.2l1.8 .9 1.9-.9-1.9-.1z"/>
<path class=fg d="M.6389 .1458H.8472"/><path class=ff d="M.6389 .1458H.8472"/>
<path class=B d="M183.9 235.5l1.8 .9 1.9-1.7-1.9-.1z"/>
<path class=B d="M185.7 236.4l1.9-.2 1.8-1.2-1.8-.3z"/>
<path class=C d="M187.6 236.2l1.8 .1 1.8-1.5-1.8 .2z"/>
<path class=C d="M189.4 236.3l1.8-.2 1.9-2.1-1.9 .8z"/>
<path class=E d="M191.2 236.1l1.9-.8 1.8-2.8-1.8 1.5z"/>
<path class=F d="M193.1 235.3l1.8-1.3 1.8-3.7-1.8 2.2z"/>
<path class=H d="M194.9 234l1.8-1.8 1.9-4.8-1.9 2.9z"/>
<path class=J d="M196.7 232.2l1.9-1.8 1.8-6.1-1.8 3.1z"/>
<path class=M d="M198.6 230.4l1.8-1.6 1.9-7.3-1.9 2.8z"/>
<path class=N d="M200.4 228.8l1.9-.9 1.8-8.1-1.8 1.7z"/>
<path class=O d="M202.3 227.9l1.8 .3 1.8-8.5-1.8 .1z"/>
<path class=K d="M70 171.6l1.8 1.2 1.8-7.3-1.8-1.5z"/>
<path class=J d="M71.8 172.8l1.8 1.9 1.9-6.5-1.9-2.7z"/>
<path class=I d="M73.6 174.7l1.9 2.4 1.8-5.6-1.8-3.3z"/>
<path class=G d="M75.5 177.1l1.8 2.6 1.8-4.5-1.8-3.7z"/>
<path class=F d="M77.3 179.7l1.8 2.4 1.9-3.4-1.9-3.5z"/>
<path class=E d="M79.1 182.1l1.9 2.3 1.8-2.6-1.8-3.1z"/>
<path class=D d="M81 184.4l1.8 1.9 1.9-2-1.9-2.5z"/>
<path class=C d="M82.8 186.3l1.8 1.6 1.9-1.5-1.8-2.1z"/>
<path class=B d="M84.6 187.9l1.9 1.4 1.8-1.2-1.8-1.7z"/>
<path class=B d="M86.5 189.3l1.8 1.6 1.9-.9-1.9-1.9z"/>
<path class=fg d="M.1389 .1319H.3472"/><path class=ff d="M.1389 .1319H.3472"/>
<path class=A d="M115.9 204.3l1.8 1.8 1.9-.6-1.9-2.1z"/>
<path class=A d="M117.7 206.1l1.9 1.6 1.8-.3-1.8-1.9z"/>
<path class=z d="M119.6 207.7l1.8 2.1 1.8 .2-1.8-2.6z"/>
<path class=y d="M121.4 209.8l1.8 2.5 1.9 .9-1.9-3.2z"/>
<path class=w d="M123.2 212.3l1.9 3.2 1.8 1.7-1.8-4z"/>
<path class=u d="M125.1 215.5l1.8 3.5 1.9 2.8-1.9-4.6z"/>
<path class=s d="M126.9 219l1.9 3.6 1.8 3.9-1.8-4.7z"/>
<path class=q d="M128.8 222.6l1.8 3.4 1.8 4.9-1.8-4.4z"/>
<path class=o d="M130.6 226l1.8 2.6 1.9 5.7-1.9-3.4z"/>
<path class=n d="M132.4 228.6l1.9 1.5 1.8 5.9-1.8-1.7z"/>
<path class=n d="M134.3 230.1l1.8 .3 1.8 5.7-1.8-.1z"/>
<path class=o d="M136.1 230.4l1.8-.8 1.9 4.9-1.9 1.6z"/>
<path class=q d="M137.9 229.6l1.9-1.6 1.8 3.9-1.8 2.6z"/>
<path class=s d="M139.8 228l1.8-1.9 1.9 2.8-1.9 3z"/>
<path class=u d="M141.6 226.1l1.9-1.7 1.8 1.7-1.8 2.8z"/>
<path class=w d="M143.5 224.4l1.8-1.3 1.8 .8-1.8 2.2z"/>
<path class=y d="M145.3 223.1l1.8-.8 1.9 .1-1.9 1.5z"/>
<path class=z d="M147.1 222.3l1.9-.3 1.8-.3-1.8 .7z"/>
<path class=A d="M149 222l1.8 .1 1.8-.5-1.8 .1z"/>
<path class=A d="M150.8 222.1l1.8 0 1.9-.9-1.9 .4z"/>
<path class=fg d="M.625 .1319H.8611"/><path class=ff d="M.625 .1319H.8611"/>
<path class=B d="M183.9 237.3l1.8 .1 1.9-1.2-1.9 .2z"/>
<path class=B d="M185.7 237.4l1.9 .5 1.8-1.6-1.8-.1z"/>
<path class=C d="M187.6 237.9l1.8 .1 1.8-1.9-1.8 .2z"/>
<path class=D d="M189.4 238l1.8-.1 1.9-2.6-1.9 .8z"/>
<path class=E d="M191.2 237.9l1.9-.5 1.8-3.4-1.8 1.3z"/>
<path class=F d="M193.1 237.4l1.8-.7 1.8-4.5-1.8 1.8z"/>
<path class=G d="M194.9 236.7l1.8-.7 1.9-5.6-1.9 1.8z"/>
<path class=I d="M196.7 236l1.9-.6 1.8-6.6-1.8 1.6z"/>
<path class=J d="M198.6 235.4l1.8-.2 1.9-7.3-1.9 .9z"/>
<path class=K d="M200.4 235.2l1.9 .6 1.8-7.6-1.8-.3z"/>
<path class=G d="M68.1 177.2l1.8 1.1 1.9-5.5-1.8-1.2z"/>
<path class=G d="M69.9 178.3l1.9 1.5 1.8-5.1-1.8-1.9z"/>
<path class=F d="M71.8 179.8l1.8 1.6 1.9-4.3-1.9-2.4z"/>
<path class=E d="M73.6 181.4l1.9 1.8 1.8-3.5-1.8-2.6z"/>
<path class=D d="M75.5 183.2l1.8 1.7 1.8-2.8-1.8-2.4z"/>
<path class=C d="M77.3 184.9l1.8 1.7 1.9-2.2-1.9-2.3z"/>
<path class=C d="M79.1 186.6l1.9 1.4 1.8-1.7-1.8-1.9z"/>
<path class=B d="M81 188l1.8 1.3 1.8-1.4-1.8-1.6z"/>
<path class=B d="M82.8 189.3l1.8 1.6 1.9-1.6-1.9-1.4z"/>
<path class=B d="M84.6 190.9l1.9 .9 1.8-.9-1.8-1.6z"/>
<path class=fg d="M.1389 .1181H.3472"/><path class=ff d="M.1389 .1181H.3472"/>
<path class=A d="M114 205.2l1.9 .9 1.8 0-1.8-1.8z"/>
<path class=A d="M115.9 206.1l1.8 2 1.9-.4-1.9-1.6z"/>
<path class=z d="M117.7 208.1l1.9 1.6 1.8 .1-1.8-2.1z"/>
<path class=z d="M119.6 209.7l1.8 2 1.8 .6-1.8-2.5z"/>
<path class=x d="M121.4 211.7l1.8 2.3 1.9 1.5-1.9-3.2z"/>
<path class=w d="M123.2 214l1.9 2.6 1.8 2.4-1.8-3.5z"/>
<path class=v d="M125.1 216.6l1.8 2.7 1.9 3.3-1.9-3.6z"/>
<path class=t d="M126.9 219.3l1.8 2.5 1.9 4.2-1.8-3.4z"/>
<path class=s d="M128.7 221.8l1.9 2 1.8 4.8-1.8-2.6z"/>
<path class=r d="M130.6 223.8l1.8 1.3 1.9 5-1.9-1.5z"/>
<path class=r d="M132.4 225.1l1.9 .5 1.8 4.8-1.8-.3z"/>
<path class=s d="M134.3 225.6l1.8-.2 1.8 4.2-1.8 .8z"/>
<path class=t d="M136.1 225.4l1.8-.7 1.9 3.3-1.9 1.6z"/>
<path class=v d="M137.9 224.7l1.9-.9 1.8 2.3-1.8 1.9z"/>
<path class=w d="M139.8 223.8l1.8-.8 1.9 1.4-1.9 1.7z"/>
<path class=x d="M141.6 223l1.8-.6 1.9 .7-1.8 1.3z"/>
<path class=z d="M143.4 222.4l1.9-.2 1.8 .1-1.8 .8z"/>
<path class=z d="M145.3 222.2l1.8 .1 1.9-.3-1.9 .3z"/>
<path class=A d="M147.1 222.3l1.9-.2 1.8 0-1.8-.1z"/>
<path class=A d="M149 222.1l1.8 .9 1.8-.9-1.8 0z"/>
<path class=fg d="M.625 .1181H.8611"/><path class=ff d="M.625 .1181H.8611"/>
<path class=B d="M182 238.2l1.9 .9 1.8-1.7-1.8-.1z"/>
<path class=B d="M183.9 239.1l1.8 .1 1.9-1.3-1.9-.5z"/>
<path class=B d="M185.7 239.2l1.8 .5 1.9-1.7-1.8-.1z"/>
<path class=C d="M187.5 239.7l1.9 .4 1.8-2.2-1.8 .1z"/>
<path class=C d="M189.4 240.1l1.8 .1 1.9-2.8-1.9 .5z"/>
<path class=D d="M191.2 240.2l1.9 .1 1.8-3.6-1.8 .7z"/>
<path class=E d="M193.1 240.3l1.8 0 1.8-4.3-1.8 .7z"/>
<path class=F d="M194.9 240.3l1.8 .1 1.9-5-1.9 .6z"/>
<path class=G d="M196.7 240.4l1.9 .3 1.8-5.5-1.8 .2z"/>
<path class=G d="M198.6 240.7l1.8 .7 1.9-5.6-1.9-.6z"/>
<path class=D d="M66.3 181l1.8 1 1.8-3.7-1.8-1.1z"/>
<path class=D d="M68.1 182l1.8 1.2 1.9-3.4-1.9-1.5z"/>
<path class=D d="M69.9 183.2l1.9 1.2 1.8-3-1.8-1.6z"/>
<path class=C d="M71.8 184.4l1.8 1.3 1.9-2.5-1.9-1.8z"/>
<path class=C d="M73.6 185.7l1.9 1.3 1.8-2.1-1.8-1.7z"/>
<path class=C d="M75.5 187l1.8 1.2 1.8-1.6-1.8-1.7z"/>
<path class=B d="M77.3 188.2l1.8 1.8 1.9-2-1.9-1.4z"/>
<path class=B d="M79.1 190l1.9 .9 1.8-1.6-1.8-1.3z"/>
<path class=B d="M81 190.9l1.8 .9 1.8-.9-1.8-1.6z"/>
<path class=fg d="M.125 .1042H.3611"/><path class=ff d="M.125 .1042H.3611"/>
<path class=A d="M114 207l1.9 1.5 1.8-.4-1.8-2z"/>
<path class=A d="M115.9 208.5l1.8 1.4 1.9-.2-1.9-1.6z"/>
<path class=z d="M117.7 209.9l1.9 1.5 1.8 .3-1.8-2z"/>
<path class=z d="M119.6 211.4l1.8 1.8 1.8 .8-1.8-2.3z"/>
<path class=y d="M121.4 213.2l1.8 1.9 1.9 1.5-1.9-2.6z"/>
<path class=x d="M123.2 215.1l1.9 1.9 1.8 2.3-1.8-2.7z"/>
<path class=w d="M125.1 217l1.8 1.8 1.8 3-1.8-2.5z"/>
<path class=v d="M126.9 218.8l1.8 1.6 1.9 3.4-1.9-2z"/>
<path class=v d="M128.7 220.4l1.9 1.1 1.8 3.6-1.8-1.3z"/>
<path class=v d="M130.6 221.5l1.8 .7 1.9 3.4-1.9-.5z"/>
<path class=v d="M132.4 222.2l1.9 .2 1.8 3-1.8 .2z"/>
<path class=w d="M134.3 222.4l1.8 0 1.8 2.3-1.8 .7z"/>
<path class=x d="M136.1 222.4l1.8-.2 1.9 1.6-1.9 .9z"/>
<path class=y d="M137.9 222.2l1.9-.1 1.8 .9-1.8 .8z"/>
<path class=z d="M139.8 222.1l1.8 0 1.8 .3-1.8 .6z"/>
<path class=z d="M141.6 222.1l1.8 .3 1.9-.2-1.9 .2z"/>
<path class=A d="M143.4 222.4l1.9 .4 1.8-.5-1.8-.1z"/>
<path class=A d="M145.3 222.8l1.8 .2 1.9-.9-1.9 .2z"/>
<path class=fg d="M.6111 .1042H.875"/><path class=ff d="M.6111 .1042H.875"/>
<path class=B d="M182 240l1.9 .8 1.8-1.6-1.8-.1z"/>
<path class=B d="M183.9 240.8l1.8 .9 1.8-2-1.8-.5z"/>
<path class=B d="M185.7 241.7l1.8 0 1.9-1.6-1.9-.4z"/>
<path class=C d="M187.5 241.7l1.9 .6 1.8-2.1-1.8-.1z"/>
<path class=C d="M189.4 242.3l1.8 .5 1.9-2.5-1.9-.1z"/>
<path class=C d="M191.2 242.8l1.9 .5 1.8-3-1.8 0z"/>
<path class=D d="M193.1 243.3l1.8 .5 1.8-3.4-1.8-.1z"/>
<path class=D d="M194.9 243.8l1.8 .6 1.9-3.7-1.9-.3z"/>
<path class=D d="M196.7 244.4l1.9 .8 1.8-3.8-1.8-.7z"/>
<path class=C d="M64.4 183.4l1.9 1 1.8-2.4-1.8-1z"/>
<path class=C d="M66.3 184.4l1.8 1 1.8-2.2-1.8-1.2z"/>
<path class=C d="M68.1 185.4l1.8 1 1.9-2-1.9-1.2z"/>
<path class=B d="M69.9 186.4l1.9 1.1 1.8-1.8-1.8-1.3z"/>
<path class=B d="M71.8 187.5l1.8 1.6 1.9-2.1-1.9-1.3z"/>
<path class=B d="M73.6 189.1l1.9 .9 1.8-1.8-1.8-1.2z"/>
<path class=B d="M75.5 190l1.8 .9 1.8-.9-1.8-1.8z"/>
<path class=fg d="M.0972 .0903H.3611"/><path class=ff d="M.0972 .0903H.3611"/>
<path class=A d="M112.2 207.9l1.8 .8 1.9-.2-1.9-1.5z"/>
<path class=A d="M114 208.7l1.9 .9 1.8 .3-1.8-1.4z"/>
<path class=A d="M115.9 209.6l1.8 1.9 1.9-.1-1.9-1.5z"/>
<path class=z d="M117.7 211.5l1.9 1.4 1.8 .3-1.8-1.8z"/>
<path class=z d="M119.6 212.9l1.8 1.4 1.8 .8-1.8-1.9z"/>
<path class=y d="M121.4 214.3l1.8 1.5 1.9 1.2-1.9-1.9z"/>
<path class=y d="M123.2 215.8l1.9 1.4 1.8 1.6-1.8-1.8z"/>
<path class=x d="M125.1 217.2l1.8 1.2 1.8 2-1.8-1.6z"/>
<path class=x d="M126.9 218.4l1.8 1 1.9 2.1-1.9-1.1z"/>
<path class=x d="M128.7 219.4l1.9 .8 1.8 2-1.8-.7z"/>
<path class=x d="M130.6 220.2l1.8 .5 1.9 1.7-1.9-.2z"/>
<path class=y d="M132.4 220.7l1.9 .4 1.8 1.3-1.8 0z"/>
<path class=y d="M134.3 221.1l1.8 .4 1.8 .7-1.8 .2z"/>
<path class=z d="M136.1 221.5l1.8 .3 1.9 .3-1.9 .1z"/>
<path class=z d="M137.9 221.8l1.9 .4 1.8-.1-1.8 0z"/>
<path class=A d="M139.8 222.2l1.8-.1 1.8 .3-1.8-.3z"/>
<path class=A d="M141.6 222.1l1.8 .9 1.9-.2-1.9-.4z"/>
<path class=A d="M143.4 223l1.9 .9 1.8-.9-1.8-.2z"/>
<path class=fg d="M.6111 .0903H.9028"/><path class=ff d="M.6111 .0903H.9028"/>
<path class=B d="M183.9 242.6l1.8 .9 1.8-1.8-1.8 0z"/>
<path class=B d="M185.7 243.5l1.8 .9 1.9-2.1-1.9-.6z"/>
<path class=B d="M187.5 244.4l1.9 .1 1.8-1.7-1.8-.5z"/>
<path class=B d="M189.4 244.5l1.8 .8 1.9-2-1.9-.5z"/>
<path class=C d="M191.2 245.3l1.9 .7 1.8-2.2-1.8-.5z"/>
<path class=C d="M193.1 246l1.8 .8 1.8-2.4-1.8-.6z"/>
<path class=C d="M194.9 246.8l1.8 .8 1.9-2.4-1.9-.8z"/>
<path class=B d="M62.6 185.6l1.8 .9 1.9-2.1-1.9-1z"/>
<path class=B d="M64.4 186.5l1.9 .8 1.8-1.9-1.8-1z"/>
<path class=B d="M66.3 187.3l1.8 .9 1.8-1.8-1.8-1z"/>
<path class=B d="M68.1 188.2l1.8 .9 1.9-1.6-1.9-1.1z"/>
<path class=B d="M69.9 189.1l1.9 .9 1.8-.9-1.8-1.6z"/>
<path class=fg d="M.0694 .0764H.3889"/><path class=ff d="M.0694 .0764H.3889"/>
<path class=A d="M114 210.5l1.9 .9 1.8 .1-1.8-1.9z"/>
<path class=A d="M115.9 211.4l1.8 1.7 1.9-.2-1.9-1.4z"/>
<path class=A d="M117.7 213.1l1.9 1.1 1.8 .1-1.8-1.4z"/>
<path class=z d="M119.6 214.2l1.8 1.2 1.8 .4-1.8-1.5z"/>
<path class=z d="M121.4 215.4l1.8 1.1 1.9 .7-1.9-1.4z"/>
<path class=z d="M123.2 216.5l1.9 1.1 1.8 .8-1.8-1.2z"/>
<path class=z d="M125.1 217.6l1.8 1 1.8 .8-1.8-1z"/>
<path class=z d="M126.9 218.6l1.8 .8 1.9 .8-1.9-.8z"/>
<path class=z d="M128.7 219.4l1.9 .7 1.8 .6-1.8-.5z"/>
<path class=z d="M130.6 220.1l1.8 .7 1.9 .3-1.9-.4z"/>
<path class=z d="M132.4 220.8l1.9 .6 1.8 .1-1.8-.4z"/>
<path class=A d="M134.3 221.4l1.8 .6 1.8-.2-1.8-.3z"/>
<path class=A d="M136.1 222l1.8 .1 1.9 .1-1.9-.4z"/>
<path class=A d="M137.9 222.1l1.9 .9 1.8-.9-1.8 .1z"/>
<path class=fg d="M.5833 .0764H.9306"/><path class=ff d="M.5833 .0764H.9306"/>
<path class=B d="M185.7 245.3l1.8 .9 1.9-1.7-1.9-.1z"/>
<path class=B d="M187.5 246.2l1.9 .9 1.8-1.8-1.8-.8z"/>
<path class=B d="M189.4 247.1l1.8 .9 1.9-2-1.9-.7z"/>
<path class=B d="M191.2 248l1.9 .9 1.8-2.1-1.8-.8z"/>
<path class=B d="M193.1 248.9l1.8 .9 1.8-2.2-1.8-.8z"/>
<path class=fg d="M0 .0625H.4028"/><path class=ff d="M0 .0625H.4028"/>
<path class=A d="M114 212.3l1.9 .9 1.8-.1-1.8-1.7z"/>
<path class=A d="M115.9 213.2l1.8 .9 1.9 .1-1.9-1.1z"/>
<path class=A d="M117.7 214.1l1.9 .9 1.8 .4-1.8-1.2z"/>
<path class=A d="M119.6 215l1.8 1.6 1.8-.1-1.8-1.1z"/>
<path class=A d="M121.4 216.6l1.8 1 1.9 0-1.9-1.1z"/>
<path class=A d="M123.2 217.6l1.9 .9 1.8 .1-1.8-1z"/>
<path class=A d="M125.1 218.5l1.8 .9 1.8 0-1.8-.8z"/>
<path class=A d="M126.9 219.4l1.8 .8 1.9-.1-1.9-.7z"/>
<path class=A d="M128.7 220.2l1.9 .1 1.8 .5-1.8-.7z"/>
<path class=A d="M130.6 220.3l1.8 .9 1.9 .2-1.9-.6z"/>
<path class=A d="M132.4 221.2l1.9 .9 1.8-.1-1.8-.6z"/>
<path class=A d="M134.3 222.1l1.8 .9 1.8-.9-1.8-.1z"/>
<path class=fg d="M.5694 .0625H1"/><path class=ff d="M.5694 .0625H1"/>
<path class=fg d="M0 .0486H.4444"/><path class=ff d="M0 .0486H.4444"/>
<path class=A d="M117.7 215.9l1.9 .9 1.8-.2-1.8-1.6z"/>
<path class=A d="M119.6 216.8l1.8 .9 1.8-.1-1.8-1z"/>
<path class=A d="M121.4 217.7l1.8 .9 1.9-.1-1.9-.9z"/>
<path class=A d="M123.2 218.6l1.9 .8 1.8 0-1.8-.9z"/>
<path class=A d="M125.1 219.4l1.8 .9 1.8-.1-1.8-.8z"/>
<path class=A d="M126.9 220.3l1.8 .9 1.9-.9-1.9-.1z"/>
<path class=fg d="M.5278 .0486H1"/><path class=ff d="M.5278 .0486H1"/>
<path class=fg d="M0 .0347H1"/><path class=ff d="M0 .0347H1"/>
<path class=fg d="M0 .0208H1"/><path class=ff d="M0 .0208H1"/>
<path class=fg d="M0 .0069H1"/><path class=ff d="M0 .0069H1"/>
</g>
<path d="M443.1 250.9L575.5 186.7M575.5 186.7L575.5 95.7M443.1 220.3L575.4 284.5M443.1 220.3L443.1 129.3M476.6 267.2L609 203M609 203L609 112M476.7 204L609 268.2M476.7 204L476.7 113M510.2 283.5L642.6 219.3M642.6 219.3L642.6 128.3M510.3 187.7L642.6 251.9M510.3 187.7L510.3 96.7M411.5 202.6L543.9 138.4M543.9 138.4L676.2 202.6M411.5 152.2L543.9 88M543.9 88L676.2 152.2" stroke="#b4b4b4" stroke-width=".6" fill="none"/>
<path d="M543.9 171.4L543.9 80.4M676.2 235.6L676.2 144.6" stroke="#8e8e8e" stroke-width=".7" fill="none"/>
<path d="M443.1 250.9L443.1 245.2M575.4 284.5L575.4 278.8M575.5 95.7L571.4 97.7M443.1 129.3L447.1 131.2M476.6 267.2L476.6 261.5M609 268.2L609 262.5M609 112L605 114M476.7 113L480.7 115M510.2 283.5L510.2 277.8M642.6 251.9L642.6 246.2M642.6 128.3L638.6 130.3M510.3 96.7L514.3 98.7M543.8 299.8L543.8 294.1M676.2 235.6L676.2 229.9M676.2 144.6L672.2 146.6M543.9 80.4L547.9 82.4M411.5 202.6L415.5 204.5M676.2 202.6L672.2 204.5M411.5 152.2L415.5 154.1M676.2 152.2L672.2 154.1" stroke="#9a9a9a" stroke-width=".5" fill="none"/>
<path d="M411.5 144.6L543.9 80.4L676.2 144.6M411.5 144.6L411.5 235.6L543.8 299.8L676.2 235.6L543.9 171.4L411.5 235.6" stroke="#262626" stroke-width=".8" fill="none" stroke-linejoin="round"/>
<g class="m pb">
<path d="M542.1 88.9l132.3 64.2 1.8-.9-132.3-64.2zM540.2 89.8l132.3 64.2 1.9-.9-132.3-64.2zM538.4 90.7l132.3 64.2 1.8-.9-132.3-64.2zM536.5 91.6l132.3 64.2 1.9-.9-132.3-64.2zM534.7 92.4l132.3 64.2 1.8-.8-132.3-64.2zM532.9 93.3l132.3 64.2 1.8-.9-132.3-64.2zM534.7 96l53.3 25.9 1.8-.9-53.3-25.9zM602.7 129l53.3 25.9 1.8-.9-53.3-25.9zM538.4 99.6l44.1 21.4 1.8-.9-44.1-21.4zM604.5 131.7l46 22.3 1.8-.9-45.9-22.3zM538.4 101.4l38.6 18.7 1.8-.9-38.6-18.7zM606.4 134.4l38.6 18.7 1.8-.9-38.6-18.7zM540.2 104l33.1 16.1 1.8-.9-33.1-16.1zM606.4 136.1l34.9 17 1.8-.9-34.9-17zM538.4 104.9l31.2 15.2 1.8-.9-31.2-15.2zM606.4 137.9l31.2 15.2 1.8-.9-31.2-15.2zM538.4 106.7l29.4 14.3 1.8-.9-29.4-14.3zM604.5 138.8l31.3 15.2 1.8-.9-31.2-15.2zM538.4 108.5l25.7 12.5 1.8-.9-25.7-12.5zM604.5 140.6l27.6 13.4 1.8-.9-27.5-13.4zM536.5 109.4l25.8 12.5 1.8-.9-25.7-12.5zM602.7 141.5l27.5 13.4 1.9-.9-27.6-13.4zM534.7 110.3l23.9 11.6 1.8-.9-23.9-11.6zM602.7 143.3l23.9 11.6 1.8-.9-23.9-11.6zM534.7 112.1l22 10.7 1.9-.9-22.1-10.7zM600.8 144.2l23.9 11.6 1.9-.9-23.9-11.6zM532.9 113l22 10.7 1.8-.9-22-10.7zM599 145l23.9 11.6 1.8-.8-23.9-11.6zM531 113.8l22.1 10.7 1.8-.8-22-10.7zM597.2 145.9l23.8 11.6 1.9-.9-23.9-11.6zM529.2 114.7l22 10.7 1.9-.9-22.1-10.7zM595.3 146.8l23.9 11.6 1.8-.9-23.8-11.6zM527.3 115.6l22.1 10.7 1.8-.9-22-10.7zM593.5 147.7l23.9 11.6 1.8-.9-23.9-11.6zM525.5 116.5l22 10.7 1.9-.9-22.1-10.7zM591.6 148.6l23.9 11.6 1.9-.9-23.9-11.6zM521.8 116.5l23.9 11.6 1.8-.9-23.8-11.6zM589.8 149.5l23.9 11.6 1.8-.9-23.9-11.6zM520 117.4l25.7 12.5 1.8-.9-25.7-12.5zM586.1 149.5l27.6 13.4 1.8-.9-27.5-13.4zM518.1 118.3l25.8 12.5 1.8-.9-25.7-12.5zM584.3 150.4l27.6 13.4 1.8-.9-27.6-13.4zM514.5 118.3l29.4 14.3 1.8-.9-29.4-14.3zM580.6 150.4l31.3 15.2 1.8-.9-31.2-15.2zM510.8 118.3l31.2 15.2 1.9-.9-31.3-15.2zM578.8 151.3l31.2 15.2 1.9-.9-31.3-15.2zM509 119.2l33 16 1.9-.8-33.1-16.1zM575.1 151.3l34.9 16.9 1.9-.9-35-16.9zM503.4 118.3l38.6 18.7 1.9-.9-38.6-18.7zM571.4 151.3l38.6 18.7 1.8-.9-38.5-18.7zM499.8 118.3l44.1 21.4 1.8-.9-44.1-21.4zM565.9 150.4l45.9 22.3 1.9-.9-46-22.3zM492.4 116.5l53.3 25.9 1.8-.9-53.3-25.9zM560.4 149.5l53.3 25.9 1.8-.9-53.3-25.9zM486.9 115.6l132.3 64.2 1.8-.9-132.3-64.2zM485.1 116.5l132.3 64.2 1.8-.9-132.3-64.2zM483.2 117.4l132.3 64.2 1.9-.9-132.3-64.2zM481.4 118.3l132.3 64.2 1.8-.9-132.3-64.2zM479.5 119.2l132.3 64.2 1.9-.9-132.3-64.2zM477.7 120.1l132.3 64.2 1.8-.9-132.3-64.2zM475.9 121l132.3 64.2 1.8-.9-132.3-64.2zM474 121.9l132.3 64.2 1.9-.9-132.3-64.2zM472.2 122.8l132.3 64.2 1.8-.9-132.3-64.2zM470.3 123.6l132.3 64.2 1.9-.8-132.3-64.2zM468.5 124.5l132.3 64.2 1.8-.9-132.3-64.2zM466.7 125.4l132.3 64.2 1.8-.9-132.3-64.2zM464.8 126.3l132.3 64.2 1.9-.9-132.3-64.2zM466.7 129l53.3 25.9 1.8-.9-53.3-25.9zM534.7 162l53.2 25.9 1.9-.9-53.3-25.9zM470.3 132.6l44.1 21.4 1.9-.9-44.1-21.4zM536.5 164.7l45.9 22.3 1.9-.9-46-22.3zM470.3 134.4l38.6 18.7 1.9-.9-38.6-18.7zM538.3 167.3l38.6 18.8 1.9-.9-38.6-18.7zM472.2 137l33 16.1 1.9-.9-33.1-16.1zM538.3 169.1l34.9 17 1.9-.9-34.9-17zM470.3 137.9l31.3 15.2 1.8-.9-31.2-15.2zM538.3 170.9l31.3 15.2 1.8-.9-31.2-15.2zM470.3 139.7l29.4 14.3 1.9-.9-29.4-14.3zM536.5 171.8l31.2 15.2 1.9-.9-31.3-15.2zM470.3 141.5l25.8 12.5 1.8-.9-25.7-12.5zM536.5 173.6l27.5 13.4 1.9-.9-27.6-13.4zM468.5 142.4l25.7 12.5 1.9-.9-25.8-12.5zM534.6 174.5l27.6 13.3 1.8-.8-27.5-13.4zM466.7 143.3l23.8 11.6 1.9-.9-23.9-11.6zM534.6 176.3l23.9 11.6 1.9-.9-23.9-11.6zM466.7 145l22 10.8 1.8-.9-22-10.7zM532.8 177.2l23.9 11.5 1.8-.8-23.9-11.6zM464.8 145.9l22.1 10.7 1.8-.8-22-10.8zM531 178l23.8 11.6 1.9-.9-23.9-11.5zM463 146.8l22 10.7 1.9-.9-22.1-10.7zM529.1 178.9l23.9 11.6 1.8-.9-23.8-11.6zM461.1 147.7l22.1 10.7 1.8-.9-22-10.7zM527.3 179.8l23.9 11.6 1.8-.9-23.9-11.6zM459.3 148.6l22 10.7 1.9-.9-22.1-10.7zM525.4 180.7l23.9 11.6 1.9-.9-23.9-11.6zM457.5 149.5l22 10.7 1.8-.9-22-10.7zM523.6 181.6l23.9 11.6 1.8-.9-23.9-11.6zM453.8 149.5l23.9 11.6 1.8-.9-23.9-11.6zM521.8 182.5l23.9 11.6 1.8-.9-23.9-11.6zM451.9 150.4l25.8 12.5 1.8-.9-25.7-12.5zM518.1 182.5l27.6 13.4 1.8-.9-27.6-13.4zM450.1 151.3l25.7 12.5 1.9-.9-25.8-12.5zM516.3 183.4l27.5 13.4 1.9-.9-27.6-13.4zM446.4 151.3l29.4 14.3 1.9-.9-29.4-14.3zM512.6 183.4l31.2 15.1 1.9-.8-31.3-15.2zM442.8 151.3l31.2 15.1 1.8-.8-31.2-15.2zM510.7 184.3l31.3 15.1 1.8-.9-31.2-15.1zM440.9 152.2l33.1 16 1.8-.9-33-16zM507.1 184.3l34.9 16.9 1.8-.9-34.9-16.9zM435.4 151.3l38.6 18.7 1.8-.9-38.6-18.7zM503.4 184.3l38.6 18.7 1.8-.9-38.6-18.7zM431.7 151.3l44.1 21.4 1.9-.9-44.1-21.4zM497.9 183.4l45.9 22.3 1.8-.9-45.9-22.3zM424.4 149.5l53.3 25.9 1.8-.9-53.3-25.9zM492.4 182.5l53.2 25.9 1.9-.9-53.3-25.9zM418.9 148.6l132.3 64.2 1.8-.9-132.3-64.2zM417 149.5l132.3 64.2 1.9-.9-132.3-64.2zM415.2 150.4l132.3 64.2 1.8-.9-132.3-64.2zM413.3 151.3l132.3 64.2 1.9-.9-132.3-64.2zM411.5 152.2l132.3 64.2 1.8-.9-132.3-64.2z" fill="#00c9df" stroke="#00c9df" stroke-width="1"/>
<path class=fg d="M0 .9931H1"/><path class=ff d="M0 .9931H1"/>
<path class=fg d="M0 .9792H1"/><path class=ff d="M0 .9792H1"/>
<path class=fg d="M0 .9653H1"/><path class=ff d="M0 .9653H1"/>
<path class=fg d="M0 .9514H1"/><path class=ff d="M0 .9514H1"/>
<path class=fg d="M0 .9375H1"/><path class=ff d="M0 .9375H1"/>
<path class=fg d="M0 .9236H1"/><path class=ff d="M0 .9236H1"/>
<path class=_ d="M531 95.2l1.9 .8 1.8-1.8-1.8-.9z"/>
<path class=_ d="M532.9 96l1.8 0 1.8-.9-1.8-.9z"/>
<path class=fg d="M.0278 .9097H.4306"/><path class=ff d="M.0278 .9097H.4306"/>
<path class=_ d="M588 121.9l1.8 1.7 1.9-1.7-1.9-.9z"/>
<path class=_ d="M589.8 123.6l1.9 1 1.8-1.8-1.8-.9z"/>
<path class=_ d="M591.7 124.6l1.8 1 1.8-1.9-1.8-.9z"/>
<path class=_ d="M593.5 125.6l1.8 .9 1.9-2-1.9-.8z"/>
<path class=_ d="M595.3 126.5l1.9 .8 1.8-1.9-1.8-.9z"/>
<path class=_ d="M597.2 127.3l1.8 .9 1.9-1.9-1.9-.9z"/>
<path class=_ d="M599 128.2l1.9 .7 1.8-1.7-1.8-.9z"/>
<path class=_ d="M600.9 128.9l1.8 .1 1.8-.9-1.8-.9z"/>
<path class=fg d="M.5417 .9097H.9444"/><path class=ff d="M.5417 .9097H.9444"/>
<path class=_ d="M656 154.9l1.8 1.7 1.9-1.7-1.9-.9z"/>
<path class=_ d="M657.8 156.6l1.9 1 1.8-1.8-1.8-.9z"/>
<path class=_ d="M659.7 157.6l1.8 1 1.8-2-1.8-.8z"/>
<path class=_ d="M661.5 158.6l1.8 .9 1.9-2-1.9-.9z"/>
<path class=Z d="M529.2 97.1l1.8 .7 1.9-1.8-1.9-.8z"/>
<path class=Z d="M531 97.8l1.9 .6 1.8-2.4-1.8 0z"/>
<path class=_ d="M532.9 98.4l1.8 .6 1.8-2.1-1.8-.9z"/>
<path class=_ d="M534.7 99l1.8 .6 1.9-1.8-1.9-.9z"/>
<path class=_ d="M536.5 99.6l1.9 0 1.8-.9-1.8-.9z"/>
<path class=fg d="M.0694 .8958H.4028"/><path class=ff d="M.0694 .8958H.4028"/>
<path class=_ d="M582.5 121l1.8 1.8 1.9-1.8-1.9-.9z"/>
<path class=_ d="M584.3 122.8l1.9 1.2 1.8-2.1-1.8-.9z"/>
<path class=Z d="M586.2 124l1.8 1.2 1.8-1.6-1.8-1.7z"/>
<path class=Z d="M588 125.2l1.8 1.1 1.9-1.7-1.9-1z"/>
<path class=Z d="M589.8 126.3l1.9 1.1 1.8-1.8-1.8-1z"/>
<path class=Z d="M591.7 127.4l1.8 .9 1.8-1.8-1.8-.9z"/>
<path class=Z d="M593.5 128.3l1.8 .9 1.9-1.9-1.9-.8z"/>
<path class=Z d="M595.3 129.2l1.9 .7 1.8-1.7-1.8-.9z"/>
<path class=Z d="M597.2 129.9l1.8 .6 1.9-1.6-1.9-.7z"/>
<path class=Z d="M599 130.5l1.9 .6 1.8-2.1-1.8-.1z"/>
<path class=_ d="M600.9 131.1l1.8 .6 1.8-1.8-1.8-.9z"/>
<path class=_ d="M602.7 131.7l1.8 0 1.9-.9-1.9-.9z"/>
<path class=fg d="M.5694 .8958H.9167"/><path class=ff d="M.5694 .8958H.9167"/>
<path class=_ d="M650.5 154l1.8 1.8 1.8-1.8-1.8-.9z"/>
<path class=_ d="M652.3 155.8l1.8 1.2 1.9-2.1-1.9-.9z"/>
<path class=Z d="M654.1 157l1.9 1.2 1.8-1.6-1.8-1.7z"/>
<path class=Z d="M656 158.2l1.8 1.1 1.9-1.7-1.9-1z"/>
<path class=Z d="M657.8 159.3l1.9 1.1 1.8-1.8-1.8-1z"/>
<path class=Z d="M659.7 160.4l1.8 .9 1.8-1.8-1.8-.9z"/>
<path class=Y d="M527.4 99.6l1.8 .6 1.8-2.4-1.8-.7z"/>
<path class=Y d="M529.2 100.2l1.8 .3 1.9-2.1-1.9-.6z"/>
<path class=Z d="M531 100.5l1.9 .3 1.8-1.8-1.8-.6z"/>
<path class=Z d="M532.9 100.8l1.8 .4 1.8-1.6-1.8-.6z"/>
<path class=Z d="M534.7 101.2l1.8 .4 1.9-2-1.9 0z"/>
<path class=_ d="M536.5 101.6l1.9-.2 1.8-.9-1.8-.9z"/>
<path class=fg d="M.0833 .8819H.375"/><path class=ff d="M.0833 .8819H.375"/>
<path class=_ d="M577 120.1l1.8 1.7 1.8-1.7-1.8-.9z"/>
<path class=_ d="M578.8 121.8l1.8 1.3 1.9-2.1-1.9-.9z"/>
<path class=Z d="M580.6 123.1l1.9 1.3 1.8-1.6-1.8-1.8z"/>
<path class=Z d="M582.5 124.4l1.8 1.5 1.9-1.9-1.9-1.2z"/>
<path class=Z d="M584.3 125.9l1.9 1.4 1.8-2.1-1.8-1.2z"/>
<path class=Y d="M586.2 127.3l1.8 1.4 1.8-2.4-1.8-1.1z"/>
<path class=Y d="M588 128.7l1.8 1.3 1.9-2.6-1.9-1.1z"/>
<path class=Y d="M589.8 130l1.9 1 1.8-2.7-1.8-.9z"/>
<path class=Y d="M591.7 131l1.8 .8 1.8-2.6-1.8-.9z"/>
<path class=Y d="M593.5 131.8l1.8 .5 1.9-2.4-1.9-.7z"/>
<path class=Y d="M595.3 132.3l1.9 .4 1.8-2.2-1.8-.6z"/>
<path class=Z d="M597.2 132.7l1.8 .3 1.9-1.9-1.9-.6z"/>
<path class=Z d="M599 133l1.8 .3 1.9-1.6-1.8-.6z"/>
<path class=Z d="M600.8 133.3l1.9 .5 1.8-2.1-1.8 0z"/>
<path class=_ d="M602.7 133.8l1.8 .5 1.9-1.7-1.9-.9z"/>
<path class=_ d="M604.5 134.3l1.9 .1 1.8-.9-1.8-.9z"/>
<path class=fg d="M.5972 .8819H.8889"/><path class=ff d="M.5972 .8819H.8889"/>
<path class=_ d="M645 153.1l1.8 1.7 1.8-1.7-1.8-.9z"/>
<path class=_ d="M646.8 154.8l1.8 1.2 1.9-2-1.9-.9z"/>
<path class=Z d="M648.6 156l1.9 1.4 1.8-1.6-1.8-1.8z"/>
<path class=Z d="M650.5 157.4l1.8 1.5 1.8-1.9-1.8-1.2z"/>
<path class=Z d="M652.3 158.9l1.8 1.4 1.9-2.1-1.9-1.2z"/>
<path class=Y d="M654.1 160.3l1.9 1.4 1.8-2.4-1.8-1.1z"/>
<path class=Y d="M656 161.7l1.8 1.3 1.9-2.6-1.9-1.1z"/>
<path class=Y d="M657.8 163l1.8 1 1.9-2.7-1.8-.9z"/>
<path class=X d="M525.5 103.4l1.8 .2 1.9-3.4-1.8-.6z"/>
<path class=X d="M527.3 103.6l1.9 0 1.8-3.1-1.8-.3z"/>
<path class=Y d="M529.2 103.6l1.8-.2 1.9-2.6-1.9-.3z"/>
<path class=Y d="M531 103.4l1.9-.1 1.8-2.1-1.8-.4z"/>
<path class=Z d="M532.9 103.3l1.8 0 1.8-1.7-1.8-.4z"/>
<path class=Z d="M534.7 103.3l1.8 .2 1.9-2.1-1.9 .2z"/>
<path class=_ d="M536.5 103.5l1.9 .5 1.8-1.8-1.8-.8z"/>
<path class=_ d="M538.4 104l1.8 0 1.8-.9-1.8-.9z"/>
<path class=fg d="M.1111 .8681H.3611"/><path class=ff d="M.1111 .8681H.3611"/>
<path class=_ d="M573.3 120.1l1.8 1.7 1.9-1.7-1.9-.9z"/>
<path class=Z d="M575.1 121.8l1.9 1.4 1.8-1.4-1.8-1.7z"/>
<path class=Z d="M577 123.2l1.8 1.6 1.8-1.7-1.8-1.3z"/>
<path class=Z d="M578.8 124.8l1.8 1.7 1.9-2.1-1.9-1.3z"/>
<path class=Y d="M580.6 126.5l1.9 2 1.8-2.6-1.8-1.5z"/>
<path class=Y d="M582.5 128.5l1.8 1.9 1.9-3.1-1.9-1.4z"/>
<path class=X d="M584.3 130.4l1.8 1.8 1.9-3.5-1.8-1.4z"/>
<path class=X d="M586.1 132.2l1.9 1.6 1.8-3.8-1.8-1.3z"/>
<path class=X d="M588 133.8l1.8 1.1 1.9-3.9-1.9-1z"/>
<path class=X d="M589.8 134.9l1.9 .7 1.8-3.8-1.8-.8z"/>
<path class=X d="M591.7 135.6l1.8 .2 1.8-3.5-1.8-.5z"/>
<path class=X d="M593.5 135.8l1.8 0 1.9-3.1-1.9-.4z"/>
<path class=Y d="M595.3 135.8l1.9-.2 1.8-2.6-1.8-.3z"/>
<path class=Y d="M597.2 135.6l1.8-.1 1.8-2.2-1.8-.3z"/>
<path class=Z d="M599 135.5l1.8 0 1.9-1.7-1.9-.5z"/>
<path class=Z d="M600.8 135.5l1.9 .2 1.8-1.4-1.8-.5z"/>
<path class=Z d="M602.7 135.7l1.8 .4 1.9-1.7-1.9-.1z"/>
<path class=_ d="M604.5 136.1l1.9 0 1.8-.9-1.8-.8z"/>
<path class=fg d="M.6111 .8681H.875"/><path class=ff d="M.6111 .8681H.875"/>
<path class=_ d="M641.3 153.1l1.8 1.7 1.9-1.7-1.9-.9z"/>
<path class=Z d="M643.1 154.8l1.8 1.4 1.9-1.4-1.8-1.7z"/>
<path class=Z d="M644.9 156.2l1.9 1.6 1.8-1.8-1.8-1.2z"/>
<path class=Z d="M646.8 157.8l1.8 1.7 1.9-2.1-1.9-1.4z"/>
<path class=Y d="M648.6 159.5l1.9 1.9 1.8-2.5-1.8-1.5z"/>
<path class=Y d="M650.5 161.4l1.8 2 1.8-3.1-1.8-1.4z"/>
<path class=X d="M652.3 163.4l1.8 1.8 1.9-3.5-1.9-1.4z"/>
<path class=X d="M654.1 165.2l1.9 1.6 1.8-3.8-1.8-1.3z"/>
<path class=X d="M656 166.8l1.8 1.1 1.8-3.9-1.8-1z"/>
<path class=U d="M523.7 108.9l1.8-.3 1.8-5-1.8-.2z"/>
<path class=V d="M525.5 108.6l1.8-.8 1.9-4.2-1.9 0z"/>
<path class=W d="M527.3 107.8l1.9-1 1.8-3.4-1.8 .2z"/>
<path class=X d="M529.2 106.8l1.8-.8 1.9-2.7-1.9 .1z"/>
<path class=Y d="M531 106l1.9-.6 1.8-2.1-1.8 0z"/>
<path class=Z d="M532.9 105.4l1.8-.2 1.8-1.7-1.8-.2z"/>
<path class=Z d="M534.7 105.2l1.8 .1 1.9-1.3-1.9-.5z"/>
<path class=_ d="M536.5 105.3l1.9-.4 1.8-.9-1.8 0z"/>
<path class=fg d="M.1111 .8542H.3472"/><path class=ff d="M.1111 .8542H.3472"/>
<path class=_ d="M569.6 120.1l1.8 1.7 1.9-1.7-1.9-.9z"/>
<path class=Z d="M571.4 121.8l1.9 1.4 1.8-1.4-1.8-1.7z"/>
<path class=Z d="M573.3 123.2l1.8 1.7 1.9-1.7-1.9-1.4z"/>
<path class=Z d="M575.1 124.9l1.9 2.1 1.8-2.2-1.8-1.6z"/>
<path class=Y d="M577 127l1.8 2.3 1.8-2.8-1.8-1.7z"/>
<path class=X d="M578.8 129.3l1.8 2.7 1.9-3.5-1.9-2z"/>
<path class=W d="M580.6 132l1.9 2.7 1.8-4.3-1.8-1.9z"/>
<path class=V d="M582.5 134.7l1.8 2.5 1.8-5-1.8-1.8z"/>
<path class=U d="M584.3 137.2l1.8 2.1 1.9-5.5-1.9-1.6z"/>
<path class=U d="M586.1 139.3l1.9 1.3 1.8-5.7-1.8-1.1z"/>
<path class=U d="M588 140.6l1.8 .4 1.9-5.4-1.9-.7z"/>
<path class=U d="M589.8 141l1.9-.2 1.8-5-1.8-.2z"/>
<path class=V d="M591.7 140.8l1.8-.7 1.8-4.3-1.8 0z"/>
<path class=W d="M593.5 140.1l1.8-1 1.9-3.5-1.9 .2z"/>
<path class=X d="M595.3 139.1l1.9-.8 1.8-2.8-1.8 .1z"/>
<path class=Y d="M597.2 138.3l1.8-.6 1.8-2.2-1.8 0z"/>
<path class=Z d="M599 137.7l1.8-.3 1.9-1.7-1.9-.2z"/>
<path class=Z d="M600.8 137.4l1.9 .1 1.8-1.4-1.8-.4z"/>
<path class=Z d="M602.7 137.5l1.8 .3 1.9-1.7-1.9 0z"/>
<path class=_ d="M604.5 137.8l1.9 .1 1.8-.9-1.8-.9z"/>
<path class=fg d="M.625 .8542H.8611"/><path class=ff d="M.625 .8542H.8611"/>
<path class=_ d="M637.6 153.1l1.8 1.7 1.9-1.7-1.9-.9z"/>
<path class=Z d="M639.4 154.8l1.9 1.4 1.8-1.4-1.8-1.7z"/>
<path class=Z d="M641.3 156.2l1.8 1.7 1.8-1.7-1.8-1.4z"/>
<path class=Z d="M643.1 157.9l1.8 2 1.9-2.1-1.9-1.6z"/>
<path class=Y d="M644.9 159.9l1.9 2.4 1.8-2.8-1.8-1.7z"/>
<path class=X d="M646.8 162.3l1.8 2.7 1.9-3.6-1.9-1.9z"/>
<path class=W d="M648.6 165l1.9 2.7 1.8-4.3-1.8-2z"/>
<path class=V d="M650.5 167.7l1.8 2.5 1.8-5-1.8-1.8z"/>
<path class=U d="M652.3 170.2l1.8 2 1.9-5.4-1.9-1.6z"/>
<path class=U d="M654.1 172.2l1.9 1.3 1.8-5.6-1.8-1.1z"/>
<path class=R d="M521.8 116.4l1.9-1.1 1.8-6.7-1.8 .3z"/>
<path class=S d="M523.7 115.3l1.8-1.8 1.8-5.7-1.8 .8z"/>
<path class=U d="M525.5 113.5l1.8-2 1.9-4.7-1.9 1z"/>
<path class=V d="M527.3 111.5l1.9-2 1.8-3.5-1.8 .8z"/>
<path class=X d="M529.2 109.5l1.8-1.4 1.9-2.7-1.9 .6z"/>
<path class=Y d="M531 108.1l1.9-.9 1.8-2-1.8 .2z"/>
<path class=Z d="M532.9 107.2l1.8-.4 1.8-1.5-1.8-.1z"/>
<path class=Z d="M534.7 106.8l1.8 .1 1.9-2-1.9 .4z"/>
<path class=_ d="M536.5 106.9l1.9-.2 1.8-.9-1.8-.9z"/>
<path class=fg d="M.125 .8403H.3472"/><path class=ff d="M.125 .8403H.3472"/>
<path class=_ d="M567.8 121l1.8 2.1 1.8-1.3-1.8-1.7z"/>
<path class=Z d="M569.6 123.1l1.8 1.7 1.9-1.6-1.9-1.4z"/>
<path class=Z d="M571.4 124.8l1.9 2.2 1.8-2.1-1.8-1.7z"/>
<path class=Y d="M573.3 127l1.8 2.7 1.9-2.7-1.9-2.1z"/>
<path class=X d="M575.1 129.7l1.9 3.3 1.8-3.7-1.8-2.3z"/>
<path class=V d="M577 133l1.8 3.7 1.8-4.7-1.8-2.7z"/>
<path class=T d="M578.8 136.7l1.8 3.9 1.9-5.9-1.9-2.7z"/>
<path class=S d="M580.6 140.6l1.9 3.5 1.8-6.9-1.8-2.5z"/>
<path class=R d="M582.5 144.1l1.8 2.7 1.8-7.5-1.8-2.1z"/>
<path class=Q d="M584.3 146.8l1.8 1.6 1.9-7.8-1.9-1.3z"/>
<path class=Q d="M586.1 148.4l1.9 .2 1.8-7.6-1.8-.4z"/>
<path class=R d="M588 148.6l1.8-.9 1.9-6.9-1.9 .2z"/>
<path class=S d="M589.8 147.7l1.9-1.8 1.8-5.8-1.8 .7z"/>
<path class=T d="M591.7 145.9l1.8-2.1 1.8-4.7-1.8 1z"/>
<path class=V d="M593.5 143.8l1.8-1.9 1.9-3.6-1.9 .8z"/>
<path class=X d="M595.3 141.9l1.9-1.5 1.8-2.7-1.8 .6z"/>
<path class=Y d="M597.2 140.4l1.8-1 1.8-2-1.8 .3z"/>
<path class=Z d="M599 139.4l1.8-.4 1.9-1.5-1.9-.1z"/>
<path class=Z d="M600.8 139l1.9 .1 1.8-1.3-1.8-.3z"/>
<path class=_ d="M602.7 139.1l1.8-.3 1.9-.9-1.9-.1z"/>
<path class=fg d="M.625 .8403H.8611"/><path class=ff d="M.625 .8403H.8611"/>
<path class=_ d="M635.8 154l1.8 2 1.8-1.2-1.8-1.7z"/>
<path class=Z d="M637.6 156l1.8 1.8 1.9-1.6-1.9-1.4z"/>
<path class=Z d="M639.4 157.8l1.9 2.1 1.8-2-1.8-1.7z"/>
<path class=Y d="M641.3 159.9l1.8 2.8 1.8-2.8-1.8-2z"/>
<path class=X d="M643.1 162.7l1.8 3.3 1.9-3.7-1.9-2.4z"/>
<path class=V d="M644.9 166l1.9 3.7 1.8-4.7-1.8-2.7z"/>
<path class=T d="M646.8 169.7l1.8 3.8 1.9-5.8-1.9-2.7z"/>
<path class=S d="M648.6 173.5l1.9 3.6 1.8-6.9-1.8-2.5z"/>
<path class=R d="M650.5 177.1l1.8 2.7 1.8-7.6-1.8-2z"/>
<path class=Q d="M652.3 179.8l1.8 1.6 1.9-7.9-1.9-1.3z"/>
<path class=M d="M520 126l1.8-2 1.9-8.7-1.9 1.1z"/>
<path class=O d="M521.8 124l1.9-3.2 1.8-7.3-1.8 1.8z"/>
<path class=Q d="M523.7 120.8l1.8-3.6 1.8-5.7-1.8 2z"/>
<path class=T d="M525.5 117.2l1.8-3.3 1.9-4.4-1.9 2z"/>
<path class=V d="M527.3 113.9l1.9-2.6 1.8-3.2-1.8 1.4z"/>
<path class=X d="M529.2 111.3l1.8-1.8 1.9-2.3-1.9 .9z"/>
<path class=Y d="M531 109.5l1.9-.9 1.8-1.8-1.8 .4z"/>
<path class=Z d="M532.9 108.6l1.8-.3 1.8-1.4-1.8-.1z"/>
<path class=Z d="M534.7 108.3l1.8 .2 1.9-1.8-1.9 .2z"/>
<path class=_ d="M536.5 108.5l1.9 0 1.8-.9-1.8-.9z"/>
<path class=fg d="M.1389 .8264H.3333"/><path class=ff d="M.1389 .8264H.3333"/>
<path class=_ d="M564.1 121l1.8 1.8 1.9-1.8-1.9-.9z"/>
<path class=Z d="M565.9 122.8l1.9 1.6 1.8-1.3-1.8-2.1z"/>
<path class=Z d="M567.8 124.4l1.8 2.1 1.8-1.7-1.8-1.7z"/>
<path class=Y d="M569.6 126.5l1.8 2.8 1.9-2.3-1.9-2.2z"/>
<path class=X d="M571.4 129.3l1.9 3.7 1.8-3.3-1.8-2.7z"/>
<path class=V d="M573.3 133l1.8 4.5 1.9-4.5-1.9-3.3z"/>
<path class=T d="M575.1 137.5l1.9 5.1 1.8-5.9-1.8-3.7z"/>
<path class=Q d="M577 142.6l1.8 5.4 1.8-7.4-1.8-3.9z"/>
<path class=O d="M578.8 148l1.8 4.9 1.9-8.8-1.9-3.5z"/>
<path class=M d="M580.6 152.9l1.9 3.6 1.8-9.7-1.8-2.7z"/>
<path class=L d="M582.5 156.5l1.8 1.9 1.8-10-1.8-1.6z"/>
<path class=L d="M584.3 158.4l1.8-.1 1.9-9.7-1.9-.2z"/>
<path class=M d="M586.1 158.3l1.9-1.9 1.8-8.7-1.8 .9z"/>
<path class=O d="M588 156.4l1.8-3.1 1.9-7.4-1.9 1.8z"/>
<path class=Q d="M589.8 153.3l1.9-3.5 1.8-6-1.8 2.1z"/>
<path class=T d="M591.7 149.8l1.8-3.4 1.8-4.5-1.8 1.9z"/>
<path class=V d="M593.5 146.4l1.8-2.7 1.9-3.3-1.9 1.5z"/>
<path class=X d="M595.3 143.7l1.9-1.9 1.8-2.4-1.8 1z"/>
<path class=Y d="M597.2 141.8l1.8-1 1.8-1.8-1.8 .4z"/>
<path class=Z d="M599 140.8l1.8-.3 1.9-1.4-1.9-.1z"/>
<path class=Z d="M600.8 140.5l1.9 .1 1.8-1.8-1.8 .3z"/>
<path class=_ d="M602.7 140.6l1.8 0 1.9-.9-1.9-.9z"/>
<path class=fg d="M.6389 .8264H.8472"/><path class=ff d="M.6389 .8264H.8472"/>
<path class=_ d="M632.1 154l1.8 1.8 1.9-1.8-1.9-.9z"/>
<path class=Z d="M633.9 155.8l1.9 1.6 1.8-1.4-1.8-2z"/>
<path class=Z d="M635.8 157.4l1.8 2.1 1.8-1.7-1.8-1.8z"/>
<path class=Y d="M637.6 159.5l1.8 2.8 1.9-2.4-1.9-2.1z"/>
<path class=X d="M639.4 162.3l1.9 3.7 1.8-3.3-1.8-2.8z"/>
<path class=V d="M641.3 166l1.8 4.5 1.8-4.5-1.8-3.3z"/>
<path class=T d="M643.1 170.5l1.8 5.1 1.9-5.9-1.9-3.7z"/>
<path class=Q d="M644.9 175.6l1.9 5.4 1.8-7.5-1.8-3.8z"/>
<path class=O d="M646.8 181l1.8 4.9 1.9-8.8-1.9-3.6z"/>
<path class=M d="M648.6 185.9l1.9 3.6 1.8-9.7-1.8-2.7z"/>
<path class=L d="M650.5 189.5l1.8 1.9 1.8-10-1.8-1.6z"/>
<path class=G d="M518.2 137.4l1.8-3.3 1.8-10.1-1.8 2z"/>
<path class=J d="M520 134.1l1.8-4.8 1.9-8.5-1.9 3.2z"/>
<path class=M d="M521.8 129.3l1.9-5.4 1.8-6.7-1.8 3.6z"/>
<path class=Q d="M523.7 123.9l1.8-5 1.8-5-1.8 3.3z"/>
<path class=T d="M525.5 118.9l1.8-4 1.9-3.6-1.9 2.6z"/>
<path class=V d="M527.3 114.9l1.9-2.8 1.8-2.6-1.8 1.8z"/>
<path class=X d="M529.2 112.1l1.8-1.7 1.9-1.8-1.9 .9z"/>
<path class=Y d="M531 110.4l1.9-.7 1.8-1.4-1.8 .3z"/>
<path class=Z d="M532.9 109.7l1.8-.1 1.8-1.1-1.8-.2z"/>
<path class=_ d="M534.7 109.6l1.8-.2 1.9-.9-1.9 0z"/>
<path class=fg d="M.1389 .8125H.3333"/><path class=ff d="M.1389 .8125H.3333"/>
<path class=_ d="M562.3 121.9l1.8 2.1 1.8-1.2-1.8-1.8z"/>
<path class=Z d="M564.1 124l1.8 1.9 1.9-1.5-1.9-1.6z"/>
<path class=Y d="M565.9 125.9l1.9 2.6 1.8-2-1.8-2.1z"/>
<path class=X d="M567.8 128.5l1.8 3.5 1.8-2.7-1.8-2.8z"/>
<path class=V d="M569.6 132l1.8 4.7 1.9-3.7-1.9-3.7z"/>
<path class=T d="M571.4 136.7l1.9 5.9 1.8-5.1-1.8-4.5z"/>
<path class=P d="M573.3 142.6l1.8 6.9 1.9-6.9-1.9-5.1z"/>
<path class=M d="M575.1 149.5l1.9 7.1 1.8-8.6-1.8-5.4z"/>
<path class=I d="M577 156.6l1.8 6.6 1.8-10.3-1.8-4.9z"/>
<path class=G d="M578.8 163.2l1.8 4.8 1.9-11.5-1.9-3.6z"/>
<path class=E d="M580.6 168l1.9 2.3 1.8-11.9-1.8-1.9z"/>
<path class=E d="M582.5 170.3l1.8-.5 1.8-11.5-1.8 .1z"/>
<path class=G d="M584.3 169.8l1.8-3.1 1.9-10.3-1.9 1.9z"/>
<path class=I d="M586.1 166.7l1.9-4.7 1.8-8.7-1.8 3.1z"/>
<path class=M d="M588 162l1.8-5.4 1.9-6.8-1.9 3.5z"/>
<path class=P d="M589.8 156.6l1.9-5.1 1.8-5.1-1.8 3.4z"/>
<path class=T d="M591.7 151.5l1.8-4.1 1.8-3.7-1.8 2.7z"/>
<path class=V d="M593.5 147.4l1.8-2.9 1.9-2.7-1.9 1.9z"/>
<path class=X d="M595.3 144.5l1.9-1.8 1.8-1.9-1.8 1z"/>
<path class=Y d="M597.2 142.7l1.8-.8 1.8-1.4-1.8 .3z"/>
<path class=Z d="M599 141.9l1.8-.1 1.9-1.2-1.9-.1z"/>
<path class=_ d="M600.8 141.8l1.9-.3 1.8-.9-1.8 0z"/>
<path class=fg d="M.6389 .8125H.8472"/><path class=ff d="M.6389 .8125H.8472"/>
<path class=_ d="M630.2 154.9l1.9 2.1 1.8-1.2-1.8-1.8z"/>
<path class=Z d="M632.1 157l1.8 1.9 1.9-1.5-1.9-1.6z"/>
<path class=Y d="M633.9 158.9l1.9 2.5 1.8-1.9-1.8-2.1z"/>
<path class=X d="M635.8 161.4l1.8 3.6 1.8-2.7-1.8-2.8z"/>
<path class=V d="M637.6 165l1.8 4.7 1.9-3.7-1.9-3.7z"/>
<path class=T d="M639.4 169.7l1.9 5.9 1.8-5.1-1.8-4.5z"/>
<path class=P d="M641.3 175.6l1.8 6.9 1.8-6.9-1.8-5.1z"/>
<path class=M d="M643.1 182.5l1.8 7.1 1.9-8.6-1.9-5.4z"/>
<path class=I d="M644.9 189.6l1.9 6.6 1.8-10.3-1.8-4.9z"/>
<path class=G d="M646.8 196.2l1.8 4.8 1.9-11.5-1.9-3.6z"/>
<path class=E d="M648.6 201l1.9 2.3 1.8-11.9-1.8-1.9z"/>
<path class=z d="M516.3 149.5l1.9-4.6 1.8-10.8-1.8 3.3z"/>
<path class=D d="M518.2 144.9l1.8-6.7 1.8-8.9-1.8 4.8z"/>
<path class=I d="M520 138.2l1.8-7.3 1.9-7-1.9 5.4z"/>
<path class=M d="M521.8 130.9l1.9-6.8 1.8-5.2-1.8 5z"/>
<path class=Q d="M523.7 124.1l1.8-5.5 1.8-3.7-1.8 4z"/>
<path class=U d="M525.5 118.6l1.8-3.9 1.9-2.6-1.9 2.8z"/>
<path class=W d="M527.3 114.7l1.9-2.4 1.8-1.9-1.8 1.7z"/>
<path class=Y d="M529.2 112.3l1.8-1.2 1.9-1.4-1.9 .7z"/>
<path class=Z d="M531 111.1l1.9-.3 1.8-1.2-1.8 .1z"/>
<path class=_ d="M532.9 110.8l1.8-.5 1.8-.9-1.8 .2z"/>
<path class=fg d="M.1389 .7986H.3194"/><path class=ff d="M.1389 .7986H.3194"/>
<path class=_ d="M558.6 121.9l1.8 1.7 1.9-1.7-1.9-.9z"/>
<path class=Z d="M560.4 123.6l1.9 1.6 1.8-1.2-1.8-2.1z"/>
<path class=Z d="M562.3 125.2l1.8 2.1 1.8-1.4-1.8-1.9z"/>
<path class=Y d="M564.1 127.3l1.8 3.1 1.9-1.9-1.9-2.6z"/>
<path class=W d="M565.9 130.4l1.9 4.3 1.8-2.7-1.8-3.5z"/>
<path class=T d="M567.8 134.7l1.8 5.9 1.8-3.9-1.8-4.7z"/>
<path class=Q d="M569.6 140.6l1.8 7.4 1.9-5.4-1.9-5.9z"/>
<path class=M d="M571.4 148l1.9 8.6 1.8-7.1-1.8-6.9z"/>
<path class=H d="M573.3 156.6l1.8 9.1 1.9-9.1-1.9-7.1z"/>
<path class=C d="M575.1 165.7l1.9 8.4 1.8-10.9-1.8-6.6z"/>
<path class=z d="M577 174.1l1.8 6.1 1.8-12.2-1.8-4.8z"/>
<path class=x d="M578.8 180.2l1.8 2.8 1.9-12.7-1.9-2.3z"/>
<path class=x d="M580.6 183l1.9-1 1.8-12.2-1.8 .5z"/>
<path class=z d="M582.5 182l1.8-4.4 1.8-10.9-1.8 3.1z"/>
<path class=C d="M584.3 177.6l1.8-6.5 1.9-9.1-1.9 4.7z"/>
<path class=H d="M586.1 171.1l1.9-7.3 1.8-7.2-1.8 5.4z"/>
<path class=M d="M588 163.8l1.8-6.9 1.9-5.4-1.9 5.1z"/>
<path class=Q d="M589.8 156.9l1.9-5.6 1.8-3.9-1.8 4.1z"/>
<path class=T d="M591.7 151.3l1.8-4.1 1.8-2.7-1.8 2.9z"/>
<path class=W d="M593.5 147.2l1.8-2.5 1.9-2-1.9 1.8z"/>
<path class=Y d="M595.3 144.7l1.9-1.3 1.8-1.5-1.8 .8z"/>
<path class=Z d="M597.2 143.4l1.8-.4 1.8-1.2-1.8 .1z"/>
<path class=Z d="M599 143l1.8 .2 1.9-1.7-1.9 .3z"/>
<path class=_ d="M600.8 143.2l1.9 .1 1.8-.9-1.8-.9z"/>
<path class=fg d="M.6528 .7986H.8333"/><path class=ff d="M.6528 .7986H.8333"/>
<path class=_ d="M626.6 154.9l1.8 1.7 1.8-1.7-1.8-.9z"/>
<path class=Z d="M628.4 156.6l1.8 1.6 1.9-1.2-1.9-2.1z"/>
<path class=Z d="M630.2 158.2l1.9 2.1 1.8-1.4-1.8-1.9z"/>
<path class=Y d="M632.1 160.3l1.8 3.1 1.9-2-1.9-2.5z"/>
<path class=W d="M633.9 163.4l1.9 4.3 1.8-2.7-1.8-3.6z"/>
<path class=T d="M635.8 167.7l1.8 5.8 1.8-3.8-1.8-4.7z"/>
<path class=Q d="M637.6 173.5l1.8 7.5 1.9-5.4-1.9-5.9z"/>
<path class=M d="M639.4 181l1.9 8.6 1.8-7.1-1.8-6.9z"/>
<path class=H d="M641.3 189.6l1.8 9.1 1.8-9.1-1.8-7.1z"/>
<path class=C d="M643.1 198.7l1.8 8.4 1.9-10.9-1.9-6.6z"/>
<path class=z d="M644.9 207.1l1.9 6.1 1.8-12.2-1.8-4.8z"/>
<path class=x d="M646.8 213.2l1.8 2.8 1.9-12.7-1.9-2.3z"/>
<path class=s d="M514.5 160.9l1.8-6.1 1.9-9.9-1.9 4.6z"/>
<path class=x d="M516.3 154.8l1.9-8.4 1.8-8.2-1.8 6.7z"/>
<path class=D d="M518.2 146.4l1.8-9.2 1.8-6.3-1.8 7.3z"/>
<path class=J d="M520 137.2l1.8-8.4 1.9-4.7-1.9 6.8z"/>
<path class=O d="M521.8 128.8l1.9-6.8 1.8-3.4-1.8 5.5z"/>
<path class=S d="M523.7 122l1.8-4.9 1.8-2.4-1.8 3.9z"/>
<path class=V d="M525.5 117.1l1.8-3 1.9-1.8-1.9 2.4z"/>
<path class=X d="M527.3 114.1l1.9-1.6 1.8-1.4-1.8 1.2z"/>
<path class=Z d="M529.2 112.5l1.8-.6 1.9-1.1-1.9 .3z"/>
<path class=Z d="M531 111.9l1.9 .2 1.8-1.8-1.8 .5z"/>
<path class=_ d="M532.9 112.1l1.8 0 1.8-.9-1.8-.9z"/>
<path class=fg d="M.1528 .7847H.3194"/><path class=ff d="M.1528 .7847H.3194"/>
<path class=_ d="M556.7 122.8l1.9 1.8 1.8-1-1.8-1.7z"/>
<path class=Z d="M558.6 124.6l1.8 1.7 1.9-1.1-1.9-1.6z"/>
<path class=Y d="M560.4 126.3l1.9 2.4 1.8-1.4-1.8-2.1z"/>
<path class=X d="M562.3 128.7l1.8 3.5 1.8-1.8-1.8-3.1z"/>
<path class=V d="M564.1 132.2l1.8 5 1.9-2.5-1.9-4.3z"/>
<path class=S d="M565.9 137.2l1.9 6.9 1.8-3.5-1.8-5.9z"/>
<path class=O d="M567.8 144.1l1.8 8.8 1.8-4.9-1.8-7.4z"/>
<path class=I d="M569.6 152.9l1.8 10.3 1.9-6.6-1.9-8.6z"/>
<path class=C d="M571.4 163.2l1.9 10.9 1.8-8.4-1.8-9.1z"/>
<path class=x d="M573.3 174.1l1.8 10 1.9-10-1.9-8.4z"/>
<path class=s d="M575.1 184.1l1.9 7.6 1.8-11.5-1.8-6.1z"/>
<path class=p d="M577 191.7l1.8 3.3 1.8-12-1.8-2.8z"/>
<path class=p d="M578.8 195l1.8-1.6 1.9-11.4-1.9 1z"/>
<path class=s d="M580.6 193.4l1.9-5.7 1.8-10.1-1.8 4.4z"/>
<path class=x d="M582.5 187.7l1.8-8.3 1.8-8.3-1.8 6.5z"/>
<path class=C d="M584.3 179.4l1.8-9.1 1.9-6.5-1.9 7.3z"/>
<path class=I d="M586.1 170.3l1.9-8.5 1.8-4.9-1.8 6.9z"/>
<path class=O d="M588 161.8l1.8-7 1.9-3.5-1.9 5.6z"/>
<path class=S d="M589.8 154.8l1.9-5.1 1.8-2.5-1.8 4.1z"/>
<path class=V d="M591.7 149.7l1.8-3.2 1.8-1.8-1.8 2.5z"/>
<path class=X d="M593.5 146.5l1.8-1.7 1.9-1.4-1.9 1.3z"/>
<path class=Y d="M595.3 144.8l1.9-.6 1.8-1.2-1.8 .4z"/>
<path class=Z d="M597.2 144.2l1.8 0 1.8-1-1.8-.2z"/>
<path class=_ d="M599 144.2l1.8 0 1.9-.9-1.9-.1z"/>
<path class=fg d="M.6528 .7847H.8333"/><path class=ff d="M.6528 .7847H.8333"/>
<path class=_ d="M624.7 155.8l1.9 1.8 1.8-1-1.8-1.7z"/>
<path class=Z d="M626.6 157.6l1.8 1.7 1.8-1.1-1.8-1.6z"/>
<path class=Y d="M628.4 159.3l1.8 2.4 1.9-1.4-1.9-2.1z"/>
<path class=X d="M630.2 161.7l1.9 3.5 1.8-1.8-1.8-3.1z"/>
<path class=V d="M632.1 165.2l1.8 5 1.9-2.5-1.9-4.3z"/>
<path class=S d="M633.9 170.2l1.9 6.9 1.8-3.6-1.8-5.8z"/>
<path class=O d="M635.8 177.1l1.8 8.8 1.8-4.9-1.8-7.5z"/>
<path class=I d="M637.6 185.9l1.8 10.3 1.9-6.6-1.9-8.6z"/>
<path class=C d="M639.4 196.2l1.9 10.9 1.8-8.4-1.8-9.1z"/>
<path class=x d="M641.3 207.1l1.8 10 1.8-10-1.8-8.4z"/>
<path class=s d="M643.1 217.1l1.8 7.5 1.9-11.4-1.9-6.1z"/>
<path class=p d="M644.9 224.6l1.9 3.4 1.8-12-1.8-2.8z"/>
<path class=n d="M512.6 169.6l1.9-7.4 1.8-7.4-1.8 6.1z"/>
<path class=s d="M514.5 162.2l1.8-9.8 1.9-6-1.9 8.4z"/>
<path class=z d="M516.3 152.4l1.9-10.4 1.8-4.8-1.8 9.2z"/>
<path class=G d="M518.2 142l1.8-9.6 1.8-3.6-1.8 8.4z"/>
<path class=M d="M520 132.4l1.8-7.7 1.9-2.7-1.9 6.8z"/>
<path class=R d="M521.8 124.7l1.9-5.6 1.8-2-1.8 4.9z"/>
<path class=V d="M523.7 119.1l1.8-3.5 1.8-1.5-1.8 3z"/>
<path class=X d="M525.5 115.6l1.8-1.9 1.9-1.2-1.9 1.6z"/>
<path class=Y d="M527.3 113.7l1.9-.7 1.8-1.1-1.8 .6z"/>
<path class=Z d="M529.2 113l1.8 0 1.9-.9-1.9-.2z"/>
<path class=_ d="M531 113l1.9 0 1.8-.9-1.8 0z"/>
<path class=fg d="M.1528 .7708H.3194"/><path class=ff d="M.1528 .7708H.3194"/>
<path class=_ d="M554.9 123.7l1.8 1.9 1.9-1-1.9-1.8z"/>
<path class=Z d="M556.7 125.6l1.9 1.8 1.8-1.1-1.8-1.7z"/>
<path class=Y d="M558.6 127.4l1.8 2.6 1.9-1.3-1.9-2.4z"/>
<path class=X d="M560.4 130l1.9 3.8 1.8-1.6-1.8-3.5z"/>
<path class=U d="M562.3 133.8l1.8 5.5 1.8-2.1-1.8-5z"/>
<path class=R d="M564.1 139.3l1.8 7.5 1.9-2.7-1.9-6.9z"/>
<path class=M d="M565.9 146.8l1.9 9.7 1.8-3.6-1.8-8.8z"/>
<path class=G d="M567.8 156.5l1.8 11.5 1.8-4.8-1.8-10.3z"/>
<path class=z d="M569.6 168l1.8 12.2 1.9-6.1-1.9-10.9z"/>
<path class=s d="M571.4 180.2l1.9 11.5 1.8-7.6-1.8-10z"/>
<path class=m d="M573.3 191.7l1.8 8.9 1.9-8.9-1.9-7.6z"/>
<path class=j d="M575.1 200.6l1.9 4.1 1.8-9.7-1.8-3.3z"/>
<path class=j d="M577 204.7l1.8-2.4 1.8-8.9-1.8 1.6z"/>
<path class=m d="M578.8 202.3l1.8-7.1 1.9-7.5-1.9 5.7z"/>
<path class=s d="M580.6 195.2l1.9-9.6 1.8-6.2-1.8 8.3z"/>
<path class=z d="M582.5 185.6l1.8-10.5 1.8-4.8-1.8 9.1z"/>
<path class=G d="M584.3 175.1l1.8-9.6 1.9-3.7-1.9 8.5z"/>
<path class=M d="M586.1 165.5l1.9-8 1.8-2.7-1.8 7z"/>
<path class=R d="M588 157.5l1.8-5.8 1.9-2-1.9 5.1z"/>
<path class=U d="M589.8 151.7l1.9-3.7 1.8-1.5-1.8 3.2z"/>
<path class=X d="M591.7 148l1.8-2 1.8-1.2-1.8 1.7z"/>
<path class=Y d="M593.5 146l1.8-.8 1.9-1-1.9 .6z"/>
<path class=Z d="M595.3 145.2l1.9 0 1.8-1-1.8 0z"/>
<path class=_ d="M597.2 145.2l1.8-.2 1.8-.8-1.8 0z"/>
<path class=fg d="M.6528 .7708H.8333"/><path class=ff d="M.6528 .7708H.8333"/>
<path class=_ d="M622.9 156.6l1.8 2 1.9-1-1.9-1.8z"/>
<path class=Z d="M624.7 158.6l1.9 1.8 1.8-1.1-1.8-1.7z"/>
<path class=Y d="M626.6 160.4l1.8 2.6 1.8-1.3-1.8-2.4z"/>
<path class=X d="M628.4 163l1.8 3.8 1.9-1.6-1.9-3.5z"/>
<path class=U d="M630.2 166.8l1.9 5.4 1.8-2-1.8-5z"/>
<path class=R d="M632.1 172.2l1.8 7.6 1.9-2.7-1.9-6.9z"/>
<path class=M d="M633.9 179.8l1.9 9.7 1.8-3.6-1.8-8.8z"/>
<path class=G d="M635.8 189.5l1.8 11.5 1.8-4.8-1.8-10.3z"/>
<path class=z d="M637.6 201l1.8 12.2 1.9-6.1-1.9-10.9z"/>
<path class=s d="M639.4 213.2l1.9 11.4 1.8-7.5-1.8-10z"/>
<path class=m d="M641.3 224.6l1.8 8.9 1.8-8.9-1.8-7.5z"/>
<path class=j d="M643.1 233.5l1.8 4.2 1.9-9.7-1.9-3.4z"/>
<path class=j d="M510.8 173.7l1.8-8.2 1.9-3.3-1.9 7.4z"/>
<path class=q d="M512.6 165.5l1.9-10.4 1.8-2.7-1.8 9.8z"/>
<path class=x d="M514.5 155.1l1.8-10.9 1.9-2.2-1.9 10.4z"/>
<path class=F d="M516.3 144.2l1.9-9.9 1.8-1.9-1.8 9.6z"/>
<path class=L d="M518.2 134.3l1.8-8.1 1.8-1.5-1.8 7.7z"/>
<path class=R d="M520 126.2l1.8-5.8 1.9-1.3-1.9 5.6z"/>
<path class=U d="M521.8 120.4l1.9-3.7 1.8-1.1-1.8 3.5z"/>
<path class=X d="M523.7 116.7l1.8-2 1.8-1-1.8 1.9z"/>
<path class=Y d="M525.5 114.7l1.8-.7 1.9-1-1.9 .7z"/>
<path class=Z d="M527.3 114l1.9-.1 1.8-.9-1.8 0z"/>
<path class=_ d="M529.2 113.9l1.8-.1 1.9-.8-1.9 0z"/>
<path class=fg d="M.1528 .7569H.3194"/><path class=ff d="M.1528 .7569H.3194"/>
<path class=_ d="M553.1 124.5l1.8 2 1.8-.9-1.8-1.9z"/>
<path class=Z d="M554.9 126.5l1.8 1.8 1.9-.9-1.9-1.8z"/>
<path class=Y d="M556.7 128.3l1.9 2.7 1.8-1-1.8-2.6z"/>
<path class=X d="M558.6 131l1.8 3.9 1.9-1.1-1.9-3.8z"/>
<path class=U d="M560.4 134.9l1.8 5.7 1.9-1.3-1.8-5.5z"/>
<path class=Q d="M562.2 140.6l1.9 7.8 1.8-1.6-1.8-7.5z"/>
<path class=L d="M564.1 148.4l1.8 10 1.9-1.9-1.9-9.7z"/>
<path class=E d="M565.9 158.4l1.9 11.9 1.8-2.3-1.8-11.5z"/>
<path class=x d="M567.8 170.3l1.8 12.7 1.8-2.8-1.8-12.2z"/>
<path class=p d="M569.6 183l1.8 12 1.9-3.3-1.9-11.5z"/>
<path class=j d="M571.4 195l1.9 9.7 1.8-4.1-1.8-8.9z"/>
<path class=d d="M573.3 204.7l1.8 6.4 1.9-6.4-1.9-4.1z"/>
<path class=d d="M575.1 211.1l1.9-4.6 1.8-4.2-1.8 2.4z"/>
<path class=j d="M577 206.5l1.8-7.9 1.8-3.4-1.8 7.1z"/>
<path class=p d="M578.8 198.6l1.8-10.2 1.9-2.8-1.9 9.6z"/>
<path class=x d="M580.6 188.4l1.9-10.9 1.8-2.4-1.8 10.5z"/>
<path class=E d="M582.5 177.5l1.8-10.2 1.8-1.8-1.8 9.6z"/>
<path class=L d="M584.3 167.3l1.8-8.2 1.9-1.6-1.9 8z"/>
<path class=Q d="M586.1 159.1l1.9-6.1 1.8-1.3-1.8 5.8z"/>
<path class=U d="M588 153l1.8-3.8 1.9-1.2-1.9 3.7z"/>
<path class=X d="M589.8 149.2l1.9-2.2 1.8-1-1.8 2z"/>
<path class=Y d="M591.7 147l1.8-.8 1.8-1-1.8 .8z"/>
<path class=Z d="M593.5 146.2l1.8-.1 1.9-.9-1.9 0z"/>
<path class=_ d="M595.3 146.1l1.9-.2 1.8-.9-1.8 .2z"/>
<path class=fg d="M.6528 .7569H.8333"/><path class=ff d="M.6528 .7569H.8333"/>
<path class=_ d="M621 157.5l1.9 2 1.8-.9-1.8-2z"/>
<path class=Z d="M622.9 159.5l1.8 1.8 1.9-.9-1.9-1.8z"/>
<path class=Y d="M624.7 161.3l1.9 2.7 1.8-1-1.8-2.6z"/>
<path class=X d="M626.6 164l1.8 3.9 1.8-1.1-1.8-3.8z"/>
<path class=U d="M628.4 167.9l1.8 5.6 1.9-1.3-1.9-5.4z"/>
<path class=Q d="M630.2 173.5l1.9 7.9 1.8-1.6-1.8-7.6z"/>
<path class=L d="M632.1 181.4l1.8 10 1.9-1.9-1.9-9.7z"/>
<path class=E d="M633.9 191.4l1.9 11.9 1.8-2.3-1.8-11.5z"/>
<path class=x d="M635.8 203.3l1.8 12.7 1.8-2.8-1.8-12.2z"/>
<path class=p d="M637.6 216l1.8 12 1.9-3.4-1.9-11.4z"/>
<path class=j d="M639.4 228l1.9 9.7 1.8-4.2-1.8-8.9z"/>
<path class=d d="M641.3 237.7l1.8 6.4 1.8-6.4-1.8-4.2z"/>
<path class=j d="M509 171.4l1.8-7.4 1.8 1.5-1.8 8.2z"/>
<path class=q d="M510.8 164l1.8-9.8 1.9 .9-1.9 10.4z"/>
<path class=x d="M512.6 154.2l1.9-10.5 1.8 .5-1.8 10.9z"/>
<path class=F d="M514.5 143.7l1.8-9.5 1.9 .1-1.9 9.9z"/>
<path class=L d="M516.3 134.2l1.8-7.7 1.9-.3-1.8 8.1z"/>
<path class=R d="M518.1 126.5l1.9-5.6 1.8-.5-1.8 5.8z"/>
<path class=U d="M520 120.9l1.8-3.5 1.9-.7-1.9 3.7z"/>
<path class=X d="M521.8 117.4l1.9-1.9 1.8-.8-1.8 2z"/>
<path class=Y d="M523.7 115.5l1.8-.7 1.8-.8-1.8 .7z"/>
<path class=Z d="M525.5 114.8l1.8 0 1.9-.9-1.9 .1z"/>
<path class=_ d="M527.3 114.8l1.9-.1 1.8-.9-1.8 .1z"/>
<path class=fg d="M.1528 .7431H.3194"/><path class=ff d="M.1528 .7431H.3194"/>
<path class=_ d="M551.2 125.4l1.9 2 1.8-.9-1.8-2z"/>
<path class=Z d="M553.1 127.4l1.8 1.8 1.8-.9-1.8-1.8z"/>
<path class=Y d="M554.9 129.2l1.8 2.6 1.9-.8-1.9-2.7z"/>
<path class=X d="M556.7 131.8l1.9 3.8 1.8-.7-1.8-3.9z"/>
<path class=U d="M558.6 135.6l1.8 5.4 1.8-.4-1.8-5.7z"/>
<path class=Q d="M560.4 141l1.8 7.6 1.9-.2-1.9-7.8z"/>
<path class=L d="M562.2 148.6l1.9 9.7 1.8 .1-1.8-10z"/>
<path class=E d="M564.1 158.3l1.8 11.5 1.9 .5-1.9-11.9z"/>
<path class=x d="M565.9 169.8l1.9 12.2 1.8 1-1.8-12.7z"/>
<path class=p d="M567.8 182l1.8 11.4 1.8 1.6-1.8-12z"/>
<path class=j d="M569.6 193.4l1.8 8.9 1.9 2.4-1.9-9.7z"/>
<path class=d d="M571.4 202.3l1.9 4.2 1.8 4.6-1.8-6.4z"/>
<path class=d d="M573.3 206.5l1.8-2.4 1.9 2.4-1.9 4.6z"/>
<path class=j d="M575.1 204.1l1.8-7.1 1.9 1.6-1.8 7.9z"/>
<path class=p d="M576.9 197l1.9-9.7 1.8 1.1-1.8 10.2z"/>
<path class=x d="M578.8 187.3l1.8-10.4 1.9 .6-1.9 10.9z"/>
<path class=E d="M580.6 176.9l1.9-9.7 1.8 .1-1.8 10.2z"/>
<path class=L d="M582.5 167.2l1.8-7.9 1.8-.2-1.8 8.2z"/>
<path class=Q d="M584.3 159.3l1.8-5.8 1.9-.5-1.9 6.1z"/>
<path class=U d="M586.1 153.5l1.9-3.7 1.8-.6-1.8 3.8z"/>
<path class=X d="M588 149.8l1.8-2 1.9-.8-1.9 2.2z"/>
<path class=Y d="M589.8 147.8l1.8-.8 1.9-.8-1.8 .8z"/>
<path class=Z d="M591.6 147l1.9 0 1.8-.9-1.8 .1z"/>
<path class=_ d="M593.5 147l1.8-.2 1.9-.9-1.9 .2z"/>
<path class=fg d="M.6528 .7431H.8333"/><path class=ff d="M.6528 .7431H.8333"/>
<path class=_ d="M619.2 158.4l1.8 1.9 1.9-.8-1.9-2z"/>
<path class=Z d="M621 160.3l1.9 1.9 1.8-.9-1.8-1.8z"/>
<path class=Y d="M622.9 162.2l1.8 2.6 1.9-.8-1.9-2.7z"/>
<path class=X d="M624.7 164.8l1.9 3.8 1.8-.7-1.8-3.9z"/>
<path class=U d="M626.6 168.6l1.8 5.4 1.8-.5-1.8-5.6z"/>
<path class=Q d="M628.4 174l1.8 7.6 1.9-.2-1.9-7.9z"/>
<path class=L d="M630.2 181.6l1.9 9.7 1.8 .1-1.8-10z"/>
<path class=E d="M632.1 191.3l1.8 11.5 1.9 .5-1.9-11.9z"/>
<path class=x d="M633.9 202.8l1.8 12.2 1.9 1-1.8-12.7z"/>
<path class=p d="M635.7 215l1.9 11.4 1.8 1.6-1.8-12z"/>
<path class=j d="M637.6 226.4l1.8 8.9 1.9 2.4-1.9-9.7z"/>
<path class=d d="M639.4 235.3l1.9 4.2 1.8 4.6-1.8-6.4z"/>
<path class=n d="M507.1 164.4l1.9-6 1.8 5.6-1.8 7.4z"/>
<path class=s d="M509 158.4l1.8-8.5 1.8 4.3-1.8 9.8z"/>
<path class=z d="M510.8 149.9l1.8-9.1 1.9 2.9-1.9 10.5z"/>
<path class=G d="M512.6 140.8l1.9-8.4 1.8 1.8-1.8 9.5z"/>
<path class=M d="M514.5 132.4l1.8-6.8 1.8 .9-1.8 7.7z"/>
<path class=R d="M516.3 125.6l1.8-4.9 1.9 .2-1.9 5.6z"/>
<path class=V d="M518.1 120.7l1.9-3 1.8-.3-1.8 3.5z"/>
<path class=X d="M520 117.7l1.8-1.6 1.9-.6-1.9 1.9z"/>
<path class=Y d="M521.8 116.1l1.9-.6 1.8-.7-1.8 .7z"/>
<path class=Z d="M523.7 115.5l1.8 .1 1.8-.8-1.8 0z"/>
<path class=_ d="M525.5 115.6l1.8 0 1.9-.9-1.9 .1z"/>
<path class=fg d="M.1528 .7292H.3194"/><path class=ff d="M.1528 .7292H.3194"/>
<path class=_ d="M549.4 126.3l1.8 1.9 1.9-.8-1.9-2z"/>
<path class=Z d="M551.2 128.2l1.9 1.7 1.8-.7-1.8-1.8z"/>
<path class=Y d="M553.1 129.9l1.8 2.4 1.8-.5-1.8-2.6z"/>
<path class=X d="M554.9 132.3l1.8 3.5 1.9-.2-1.9-3.8z"/>
<path class=U d="M556.7 135.8l1.9 5 1.8 .2-1.8-5.4z"/>
<path class=R d="M558.6 140.8l1.8 6.9 1.8 .9-1.8-7.6z"/>
<path class=M d="M560.4 147.7l1.8 8.7 1.9 1.9-1.9-9.7z"/>
<path class=G d="M562.2 156.4l1.9 10.3 1.8 3.1-1.8-11.5z"/>
<path class=z d="M564.1 166.7l1.8 10.9 1.9 4.4-1.9-12.2z"/>
<path class=s d="M565.9 177.6l1.9 10.1 1.8 5.7-1.8-11.4z"/>
<path class=m d="M567.8 187.7l1.8 7.5 1.8 7.1-1.8-8.9z"/>
<path class=j d="M569.6 195.2l1.8 3.4 1.9 7.9-1.9-4.2z"/>
<path class=j d="M571.4 198.6l1.9-1.6 1.8 7.1-1.8 2.4z"/>
<path class=m d="M573.3 197l1.8-5.7 1.8 5.7-1.8 7.1z"/>
<path class=s d="M575.1 191.3l1.8-8.3 1.9 4.3-1.9 9.7z"/>
<path class=z d="M576.9 183l1.9-9.1 1.8 3-1.8 10.4z"/>
<path class=G d="M578.8 173.9l1.8-8.6 1.9 1.9-1.9 9.7z"/>
<path class=M d="M580.6 165.3l1.9-6.9 1.8 .9-1.8 7.9z"/>
<path class=R d="M582.5 158.4l1.8-5.1 1.8 .2-1.8 5.8z"/>
<path class=U d="M584.3 153.3l1.8-3.2 1.9-.3-1.9 3.7z"/>
<path class=X d="M586.1 150.1l1.9-1.7 1.8-.6-1.8 2z"/>
<path class=Y d="M588 148.4l1.8-.7 1.8-.7-1.8 .8z"/>
<path class=Z d="M589.8 147.7l1.8 .1 1.9-.8-1.9 0z"/>
<path class=_ d="M591.6 147.8l1.9-.1 1.8-.9-1.8 .2z"/>
<path class=fg d="M.6528 .7292H.8333"/><path class=ff d="M.6528 .7292H.8333"/>
<path class=_ d="M617.4 159.3l1.8 1.8 1.8-.8-1.8-1.9z"/>
<path class=Z d="M619.2 161.1l1.8 1.8 1.9-.7-1.9-1.9z"/>
<path class=Y d="M621 162.9l1.9 2.4 1.8-.5-1.8-2.6z"/>
<path class=X d="M622.9 165.3l1.8 3.5 1.9-.2-1.9-3.8z"/>
<path class=U d="M624.7 168.8l1.9 5 1.8 .2-1.8-5.4z"/>
<path class=R d="M626.6 173.8l1.8 6.8 1.8 1-1.8-7.6z"/>
<path class=M d="M628.4 180.6l1.8 8.8 1.9 1.9-1.9-9.7z"/>
<path class=G d="M630.2 189.4l1.9 10.3 1.8 3.1-1.8-11.5z"/>
<path class=z d="M632.1 199.7l1.8 10.9 1.8 4.4-1.8-12.2z"/>
<path class=s d="M633.9 210.6l1.8 10.1 1.9 5.7-1.9-11.4z"/>
<path class=m d="M635.7 220.7l1.9 7.5 1.8 7.1-1.8-8.9z"/>
<path class=j d="M637.6 228.2l1.8 3.4 1.9 7.9-1.9-4.2z"/>
<path class=s d="M505.3 154.9l1.8-4.7 1.9 8.2-1.9 6z"/>
<path class=x d="M507.1 150.2l1.9-6.6 1.8 6.3-1.8 8.5z"/>
<path class=D d="M509 143.6l1.8-7.4 1.8 4.6-1.8 9.1z"/>
<path class=J d="M510.8 136.2l1.8-6.7 1.9 2.9-1.9 8.4z"/>
<path class=O d="M512.6 129.5l1.9-5.5 1.8 1.6-1.8 6.8z"/>
<path class=S d="M514.5 124l1.8-3.9 1.8 .6-1.8 4.9z"/>
<path class=V d="M516.3 120.1l1.8-2.4 1.9 0-1.9 3z"/>
<path class=X d="M518.1 117.7l1.9-1.2 1.8-.4-1.8 1.6z"/>
<path class=Z d="M520 116.5l1.8-.3 1.9-.7-1.9 .6z"/>
<path class=Z d="M521.8 116.2l1.9-.6 1.8 0-1.8-.1z"/>
<path class=_ d="M523.7 115.6l1.8 .9 1.8-.9-1.8 0z"/>
<path class=fg d="M.1528 .7153H.3194"/><path class=ff d="M.1528 .7153H.3194"/>
<path class=_ d="M547.5 127.2l1.9 1.7 1.8-.7-1.8-1.9z"/>
<path class=Z d="M549.4 128.9l1.8 1.6 1.9-.6-1.9-1.7z"/>
<path class=Y d="M551.2 130.5l1.9 2.2 1.8-.4-1.8-2.4z"/>
<path class=X d="M553.1 132.7l1.8 3.1 1.8 0-1.8-3.5z"/>
<path class=V d="M554.9 135.8l1.8 4.3 1.9 .7-1.9-5z"/>
<path class=S d="M556.7 140.1l1.9 5.8 1.8 1.8-1.8-6.9z"/>
<path class=O d="M558.6 145.9l1.8 7.4 1.8 3.1-1.8-8.7z"/>
<path class=I d="M560.4 153.3l1.8 8.7 1.9 4.7-1.9-10.3z"/>
<path class=C d="M562.2 162l1.9 9.1 1.8 6.5-1.8-10.9z"/>
<path class=x d="M564.1 171.1l1.8 8.3 1.9 8.3-1.9-10.1z"/>
<path class=s d="M565.9 179.4l1.9 6.2 1.8 9.6-1.8-7.5z"/>
<path class=p d="M567.8 185.6l1.8 2.8 1.8 10.2-1.8-3.4z"/>
<path class=p d="M569.6 188.4l1.8-1.1 1.9 9.7-1.9 1.6z"/>
<path class=s d="M571.4 187.3l1.9-4.3 1.8 8.3-1.8 5.7z"/>
<path class=x d="M573.3 183l1.8-6.6 1.8 6.6-1.8 8.3z"/>
<path class=C d="M575.1 176.4l1.8-7.3 1.9 4.8-1.9 9.1z"/>
<path class=I d="M576.9 169.1l1.9-6.9 1.8 3.1-1.8 8.6z"/>
<path class=O d="M578.8 162.2l1.8-5.6 1.9 1.8-1.9 6.9z"/>
<path class=S d="M580.6 156.6l1.9-4.1 1.8 .8-1.8 5.1z"/>
<path class=V d="M582.5 152.5l1.8-2.5 1.8 .1-1.8 3.2z"/>
<path class=X d="M584.3 150l1.8-1.3 1.9-.3-1.9 1.7z"/>
<path class=Y d="M586.1 148.7l1.9-.3 1.8-.7-1.8 .7z"/>
<path class=Z d="M588 148.4l1.8 .1 1.8-.7-1.8-.1z"/>
<path class=_ d="M589.8 148.5l1.8 .1 1.9-.9-1.9 .1z"/>
<path class=fg d="M.6528 .7153H.8333"/><path class=ff d="M.6528 .7153H.8333"/>
<path class=_ d="M615.5 160.2l1.9 1.7 1.8-.8-1.8-1.8z"/>
<path class=Z d="M617.4 161.9l1.8 1.6 1.8-.6-1.8-1.8z"/>
<path class=Y d="M619.2 163.5l1.8 2.2 1.9-.4-1.9-2.4z"/>
<path class=X d="M621 165.7l1.9 3 1.8 .1-1.8-3.5z"/>
<path class=V d="M622.9 168.7l1.8 4.4 1.9 .7-1.9-5z"/>
<path class=S d="M624.7 173.1l1.9 5.8 1.8 1.7-1.8-6.8z"/>
<path class=O d="M626.6 178.9l1.8 7.4 1.8 3.1-1.8-8.8z"/>
<path class=I d="M628.4 186.3l1.8 8.7 1.9 4.7-1.9-10.3z"/>
<path class=C d="M630.2 195l1.9 9.1 1.8 6.5-1.8-10.9z"/>
<path class=x d="M632.1 204.1l1.8 8.3 1.8 8.3-1.8-10.1z"/>
<path class=s d="M633.9 212.4l1.8 6.2 1.9 9.6-1.9-7.5z"/>
<path class=p d="M635.7 218.6l1.9 2.8 1.8 10.2-1.8-3.4z"/>
<path class=z d="M503.4 144.5l1.9-3.2 1.8 8.9-1.8 4.7z"/>
<path class=D d="M505.3 141.3l1.8-4.9 1.9 7.2-1.9 6.6z"/>
<path class=I d="M507.1 136.4l1.9-5.4 1.8 5.2-1.8 7.4z"/>
<path class=M d="M509 131l1.8-5 1.8 3.5-1.8 6.7z"/>
<path class=Q d="M510.8 126l1.8-4 1.9 2-1.9 5.5z"/>
<path class=U d="M512.6 122l1.9-2.8 1.8 .9-1.8 3.9z"/>
<path class=W d="M514.5 119.2l1.8-1.6 1.8 .1-1.8 2.4z"/>
<path class=Y d="M516.3 117.6l1.8-.8 1.9-.3-1.9 1.2z"/>
<path class=Z d="M518.1 116.8l1.9 0 1.8-.6-1.8 .3z"/>
<path class=_ d="M520 116.8l1.8-.3 1.9-.9-1.9 .6z"/>
<path class=fg d="M.1389 .7014H.3194"/><path class=ff d="M.1389 .7014H.3194"/>
<path class=_ d="M545.7 128.1l1.8 .9 1.9-.1-1.9-1.7z"/>
<path class=Z d="M547.5 129l1.9 2.1 1.8-.6-1.8-1.6z"/>
<path class=Z d="M549.4 131.1l1.8 1.9 1.9-.3-1.9-2.2z"/>
<path class=Y d="M551.2 133l1.9 2.6 1.8 .2-1.8-3.1z"/>
<path class=W d="M553.1 135.6l1.8 3.5 1.8 1-1.8-4.3z"/>
<path class=T d="M554.9 139.1l1.8 4.7 1.9 2.1-1.9-5.8z"/>
<path class=Q d="M556.7 143.8l1.9 6 1.8 3.5-1.8-7.4z"/>
<path class=M d="M558.6 149.8l1.8 6.8 1.8 5.4-1.8-8.7z"/>
<path class=H d="M560.4 156.6l1.8 7.2 1.9 7.3-1.9-9.1z"/>
<path class=C d="M562.2 163.8l1.9 6.5 1.8 9.1-1.8-8.3z"/>
<path class=z d="M564.1 170.3l1.8 4.8 1.9 10.5-1.9-6.2z"/>
<path class=x d="M565.9 175.1l1.9 2.4 1.8 10.9-1.8-2.8z"/>
<path class=x d="M567.8 177.5l1.8-.6 1.8 10.4-1.8 1.1z"/>
<path class=z d="M569.6 176.9l1.8-3 1.9 9.1-1.9 4.3z"/>
<path class=C d="M571.4 173.9l1.9-4.8 1.8 7.3-1.8 6.6z"/>
<path class=H d="M573.3 169.1l1.8-5.3 1.8 5.3-1.8 7.3z"/>
<path class=M d="M575.1 163.8l1.8-5.1 1.9 3.5-1.9 6.9z"/>
<path class=Q d="M576.9 158.7l1.9-4.2 1.8 2.1-1.8 5.6z"/>
<path class=T d="M578.8 154.5l1.8-2.9 1.9 .9-1.9 4.1z"/>
<path class=W d="M580.6 151.6l1.9-1.7 1.8 .1-1.8 2.5z"/>
<path class=Y d="M582.5 149.9l1.8-.8 1.8-.4-1.8 1.3z"/>
<path class=Z d="M584.3 149.1l1.8-.2 1.9-.5-1.9 .3z"/>
<path class=Z d="M586.1 148.9l1.9-.3 1.8-.1-1.8-.1z"/>
<path class=_ d="M588 148.6l1.8 .9 1.8-.9-1.8-.1z"/>
<path class=fg d="M.6528 .7014H.8333"/><path class=ff d="M.6528 .7014H.8333"/>
<path class=_ d="M613.7 161.1l1.8 .9 1.9-.1-1.9-1.7z"/>
<path class=Z d="M615.5 162l1.9 2.1 1.8-.6-1.8-1.6z"/>
<path class=Z d="M617.4 164.1l1.8 1.9 1.8-.3-1.8-2.2z"/>
<path class=Y d="M619.2 166l1.8 2.6 1.9 .1-1.9-3z"/>
<path class=W d="M621 168.6l1.9 3.5 1.8 1-1.8-4.4z"/>
<path class=T d="M622.9 172.1l1.8 4.7 1.9 2.1-1.9-5.8z"/>
<path class=Q d="M624.7 176.8l1.9 6 1.8 3.5-1.8-7.4z"/>
<path class=M d="M626.6 182.8l1.8 6.8 1.8 5.4-1.8-8.7z"/>
<path class=H d="M628.4 189.6l1.8 7.2 1.9 7.3-1.9-9.1z"/>
<path class=C d="M630.2 196.8l1.9 6.5 1.8 9.1-1.8-8.3z"/>
<path class=z d="M632.1 203.3l1.8 4.8 1.8 10.5-1.8-6.2z"/>
<path class=x d="M633.9 208.1l1.8 2.3 1.9 11-1.9-2.8z"/>
<path class=G d="M501.6 134.9l1.8-2 1.9 8.4-1.9 3.2z"/>
<path class=J d="M503.4 132.9l1.9-3.2 1.8 6.7-1.8 4.9z"/>
<path class=M d="M505.3 129.7l1.8-3.6 1.9 4.9-1.9 5.4z"/>
<path class=Q d="M507.1 126.1l1.9-3.3 1.8 3.2-1.8 5z"/>
<path class=T d="M509 122.8l1.8-2.6 1.8 1.8-1.8 4z"/>
<path class=V d="M510.8 120.2l1.8-1.8 1.9 .8-1.9 2.8z"/>
<path class=X d="M512.6 118.4l1.9-.9 1.8 .1-1.8 1.6z"/>
<path class=Y d="M514.5 117.5l1.8-.3 1.8-.4-1.8 .8z"/>
<path class=Z d="M516.3 117.2l1.8 .2 1.9-.6-1.9 0z"/>
<path class=_ d="M518.1 117.4l1.9 0 1.8-.9-1.8 .3z"/>
<path class=fg d="M.1389 .6875H.3333"/><path class=ff d="M.1389 .6875H.3333"/>
<path class=_ d="M545.7 129.9l1.8 1.8 1.9-.6-1.9-2.1z"/>
<path class=Z d="M547.5 131.7l1.9 1.6 1.8-.3-1.8-1.9z"/>
<path class=Y d="M549.4 133.3l1.8 2.2 1.9 .1-1.9-2.6z"/>
<path class=X d="M551.2 135.5l1.9 2.8 1.8 .8-1.8-3.5z"/>
<path class=V d="M553.1 138.3l1.8 3.6 1.8 1.9-1.8-4.7z"/>
<path class=T d="M554.9 141.9l1.8 4.5 1.9 3.4-1.9-6z"/>
<path class=P d="M556.7 146.4l1.9 5.1 1.8 5.1-1.8-6.8z"/>
<path class=M d="M558.6 151.5l1.8 5.4 1.8 6.9-1.8-7.2z"/>
<path class=I d="M560.4 156.9l1.8 4.9 1.9 8.5-1.9-6.5z"/>
<path class=G d="M562.2 161.8l1.9 3.7 1.8 9.6-1.8-4.8z"/>
<path class=E d="M564.1 165.5l1.8 1.8 1.9 10.2-1.9-2.4z"/>
<path class=E d="M565.9 167.3l1.9-.1 1.8 9.7-1.8 .6z"/>
<path class=G d="M567.8 167.2l1.8-1.9 1.8 8.6-1.8 3z"/>
<path class=I d="M569.6 165.3l1.8-3.1 1.9 6.9-1.9 4.8z"/>
<path class=M d="M571.4 162.2l1.9-3.5 1.8 5.1-1.8 5.3z"/>
<path class=P d="M573.3 158.7l1.8-3.4 1.8 3.4-1.8 5.1z"/>
<path class=T d="M575.1 155.3l1.8-2.7 1.9 1.9-1.9 4.2z"/>
<path class=V d="M576.9 152.6l1.9-1.9 1.8 .9-1.8 2.9z"/>
<path class=X d="M578.8 150.7l1.8-1 1.9 .2-1.9 1.7z"/>
<path class=Y d="M580.6 149.7l1.9-.3 1.8-.3-1.8 .8z"/>
<path class=Z d="M582.5 149.4l1.8 .2 1.8-.7-1.8 .2z"/>
<path class=_ d="M584.3 149.6l1.8-.1 1.9-.9-1.9 .3z"/>
<path class=fg d="M.6389 .6875H.8472"/><path class=ff d="M.6389 .6875H.8472"/>
<path class=_ d="M613.7 162.9l1.8 1.8 1.9-.6-1.9-2.1z"/>
<path class=Z d="M615.5 164.7l1.9 1.6 1.8-.3-1.8-1.9z"/>
<path class=Y d="M617.4 166.3l1.8 2.1 1.8 .2-1.8-2.6z"/>
<path class=X d="M619.2 168.4l1.8 2.8 1.9 .9-1.9-3.5z"/>
<path class=V d="M621 171.2l1.9 3.7 1.8 1.9-1.8-4.7z"/>
<path class=T d="M622.9 174.9l1.8 4.5 1.9 3.4-1.9-6z"/>
<path class=P d="M624.7 179.4l1.9 5.1 1.8 5.1-1.8-6.8z"/>
<path class=M d="M626.6 184.5l1.8 5.4 1.8 6.9-1.8-7.2z"/>
<path class=I d="M628.4 189.9l1.8 4.9 1.9 8.5-1.9-6.5z"/>
<path class=G d="M630.2 194.8l1.9 3.6 1.8 9.7-1.8-4.8z"/>
<path class=E d="M632.1 198.4l1.8 1.9 1.8 10.1-1.8-2.3z"/>
<path class=M d="M499.8 127.1l1.8-1.1 1.8 6.9-1.8 2z"/>
<path class=O d="M501.6 126l1.8-1.8 1.9 5.5-1.9 3.2z"/>
<path class=Q d="M503.4 124.2l1.9-2 1.8 3.9-1.8 3.6z"/>
<path class=T d="M505.3 122.2l1.8-2 1.9 2.6-1.9 3.3z"/>
<path class=V d="M507.1 120.2l1.9-1.4 1.8 1.4-1.8 2.6z"/>
<path class=X d="M509 118.8l1.8-.9 1.8 .5-1.8 1.8z"/>
<path class=Y d="M510.8 117.9l1.8-.4 1.9 0-1.9 .9z"/>
<path class=Z d="M512.6 117.5l1.9 .1 1.8-.4-1.8 .3z"/>
<path class=Z d="M514.5 117.6l1.8-.2 1.8 0-1.8-.2z"/>
<path class=_ d="M516.3 117.4l1.8 .9 1.9-.9-1.9 0z"/>
<path class=fg d="M.1389 .6736H.3333"/><path class=ff d="M.1389 .6736H.3333"/>
<path class=_ d="M543.9 130.8l1.8 .9 1.8 0-1.8-1.8z"/>
<path class=Z d="M545.7 131.7l1.8 2.1 1.9-.5-1.9-1.6z"/>
<path class=Z d="M547.5 133.8l1.9 1.7 1.8 0-1.8-2.2z"/>
<path class=Y d="M549.4 135.5l1.8 2.2 1.9 .6-1.9-2.8z"/>
<path class=X d="M551.2 137.7l1.9 2.7 1.8 1.5-1.8-3.6z"/>
<path class=V d="M553.1 140.4l1.8 3.3 1.8 2.7-1.8-4.5z"/>
<path class=T d="M554.9 143.7l1.8 3.7 1.9 4.1-1.9-5.1z"/>
<path class=Q d="M556.7 147.4l1.9 3.9 1.8 5.6-1.8-5.4z"/>
<path class=O d="M558.6 151.3l1.8 3.5 1.8 7-1.8-4.9z"/>
<path class=M d="M560.4 154.8l1.8 2.7 1.9 8-1.9-3.7z"/>
<path class=L d="M562.2 157.5l1.9 1.6 1.8 8.2-1.8-1.8z"/>
<path class=L d="M564.1 159.1l1.8 .2 1.9 7.9-1.9 .1z"/>
<path class=M d="M565.9 159.3l1.9-.9 1.8 6.9-1.8 1.9z"/>
<path class=O d="M567.8 158.4l1.8-1.8 1.8 5.6-1.8 3.1z"/>
<path class=Q d="M569.6 156.6l1.8-2.1 1.9 4.2-1.9 3.5z"/>
<path class=T d="M571.4 154.5l1.9-1.9 1.8 2.7-1.8 3.4z"/>
<path class=V d="M573.3 152.6l1.8-1.5 1.8 1.5-1.8 2.7z"/>
<path class=X d="M575.1 151.1l1.8-1 1.9 .6-1.9 1.9z"/>
<path class=Y d="M576.9 150.1l1.9-.4 1.8 0-1.8 1z"/>
<path class=Z d="M578.8 149.7l1.8 .1 1.9-.4-1.9 .3z"/>
<path class=Z d="M580.6 149.8l1.9-.3 1.8 .1-1.8-.2z"/>
<path class=_ d="M582.5 149.5l1.8 .9 1.8-.9-1.8 .1z"/>
<path class=fg d="M.6389 .6736H.8472"/><path class=ff d="M.6389 .6736H.8472"/>
<path class=_ d="M611.9 163.8l1.8 .9 1.8 0-1.8-1.8z"/>
<path class=Z d="M613.7 164.7l1.8 2 1.9-.4-1.9-1.6z"/>
<path class=Z d="M615.5 166.7l1.9 1.8 1.8-.1-1.8-2.1z"/>
<path class=Y d="M617.4 168.5l1.8 2.1 1.8 .6-1.8-2.8z"/>
<path class=X d="M619.2 170.6l1.8 2.8 1.9 1.5-1.9-3.7z"/>
<path class=V d="M621 173.4l1.9 3.3 1.8 2.7-1.8-4.5z"/>
<path class=T d="M622.9 176.7l1.8 3.7 1.9 4.1-1.9-5.1z"/>
<path class=Q d="M624.7 180.4l1.9 3.8 1.8 5.7-1.8-5.4z"/>
<path class=O d="M626.6 184.2l1.8 3.6 1.8 7-1.8-4.9z"/>
<path class=M d="M628.4 187.8l1.8 2.7 1.9 7.9-1.9-3.6z"/>
<path class=L d="M630.2 190.5l1.9 1.6 1.8 8.2-1.8-1.9z"/>
<path class=R d="M497.9 121.3l1.9-.3 1.8 5-1.8 1.1z"/>
<path class=S d="M499.8 121l1.8-.7 1.8 3.9-1.8 1.8z"/>
<path class=U d="M501.6 120.3l1.8-1 1.9 2.9-1.9 2z"/>
<path class=V d="M503.4 119.3l1.9-.8 1.8 1.7-1.8 2z"/>
<path class=X d="M505.3 118.5l1.8-.6 1.9 .9-1.9 1.4z"/>
<path class=Y d="M507.1 117.9l1.9-.2 1.8 .2-1.8 .9z"/>
<path class=Z d="M509 117.7l1.8 .1 1.8-.3-1.8 .4z"/>
<path class=Z d="M510.8 117.8l1.8-.4 1.9 .2-1.9-.1z"/>
<path class=_ d="M512.6 117.4l1.9 .9 1.8-.9-1.8 .2z"/>
<path class=fg d="M.125 .6597H.3472"/><path class=ff d="M.125 .6597H.3472"/>
<path class=_ d="M543.9 132.6l1.8 1.7 1.8-.5-1.8-2.1z"/>
<path class=Z d="M545.7 134.3l1.8 1.4 1.9-.2-1.9-1.7z"/>
<path class=Z d="M547.5 135.7l1.9 1.7 1.8 .3-1.8-2.2z"/>
<path class=Y d="M549.4 137.4l1.8 2 1.9 1-1.9-2.7z"/>
<path class=X d="M551.2 139.4l1.9 2.4 1.8 1.9-1.8-3.3z"/>
<path class=V d="M553.1 141.8l1.8 2.7 1.8 2.9-1.8-3.7z"/>
<path class=T d="M554.9 144.5l1.8 2.7 1.9 4.1-1.9-3.9z"/>
<path class=S d="M556.7 147.2l1.9 2.5 1.8 5.1-1.8-3.5z"/>
<path class=R d="M558.6 149.7l1.8 2 1.8 5.8-1.8-2.7z"/>
<path class=Q d="M560.4 151.7l1.8 1.3 1.9 6.1-1.9-1.6z"/>
<path class=Q d="M562.2 153l1.9 .5 1.8 5.8-1.8-.2z"/>
<path class=R d="M564.1 153.5l1.8-.2 1.9 5.1-1.9 .9z"/>
<path class=S d="M565.9 153.3l1.9-.8 1.8 4.1-1.8 1.8z"/>
<path class=T d="M567.8 152.5l1.8-.9 1.8 2.9-1.8 2.1z"/>
<path class=V d="M569.6 151.6l1.8-.9 1.9 1.9-1.9 1.9z"/>
<path class=X d="M571.4 150.7l1.9-.6 1.8 1-1.8 1.5z"/>
<path class=Y d="M573.3 150.1l1.8-.2 1.8 .2-1.8 1z"/>
<path class=Z d="M575.1 149.9l1.8 .1 1.9-.3-1.9 .4z"/>
<path class=Z d="M576.9 150l1.9 .3 1.8-.5-1.8-.1z"/>
<path class=_ d="M578.8 150.3l1.8 .1 1.9-.9-1.9 .3z"/>
<path class=fg d="M.625 .6597H.8611"/><path class=ff d="M.625 .6597H.8611"/>
<path class=_ d="M611.9 165.6l1.8 1.7 1.8-.6-1.8-2z"/>
<path class=Z d="M613.7 167.3l1.8 1.4 1.9-.2-1.9-1.8z"/>
<path class=Z d="M615.5 168.7l1.9 1.7 1.8 .2-1.8-2.1z"/>
<path class=Y d="M617.4 170.4l1.8 2 1.8 1-1.8-2.8z"/>
<path class=X d="M619.2 172.4l1.8 2.4 1.9 1.9-1.9-3.3z"/>
<path class=V d="M621 174.8l1.9 2.7 1.8 2.9-1.8-3.7z"/>
<path class=T d="M622.9 177.5l1.8 2.7 1.9 4-1.9-3.8z"/>
<path class=S d="M624.7 180.2l1.9 2.5 1.8 5.1-1.8-3.6z"/>
<path class=R d="M626.6 182.7l1.8 2 1.8 5.8-1.8-2.7z"/>
<path class=Q d="M628.4 184.7l1.8 1.3 1.9 6.1-1.9-1.6z"/>
<path class=U d="M496.1 117.7l1.8 .2 1.9 3.1-1.9 .3z"/>
<path class=V d="M497.9 117.9l1.9-.1 1.8 2.5-1.8 .7z"/>
<path class=W d="M499.8 117.8l1.8-.2 1.8 1.7-1.8 1z"/>
<path class=X d="M501.6 117.6l1.8-.1 1.9 1-1.9 .8z"/>
<path class=Y d="M503.4 117.5l1.9 .1 1.8 .3-1.8 .6z"/>
<path class=Z d="M505.3 117.6l1.8 .2 1.9-.1-1.9 .2z"/>
<path class=Z d="M507.1 117.8l1.9 .4 1.8-.4-1.8-.1z"/>
<path class=_ d="M509 118.2l1.8 .1 1.8-.9-1.8 .4z"/>
<path class=fg d="M.1111 .6458H.3472"/><path class=ff d="M.1111 .6458H.3472"/>
<path class=_ d="M542 133.5l1.9 .9 1.8-.1-1.8-1.7z"/>
<path class=Z d="M543.9 134.4l1.8 1.7 1.8-.4-1.8-1.4z"/>
<path class=Z d="M545.7 136.1l1.8 1.4 1.9-.1-1.9-1.7z"/>
<path class=Z d="M547.5 137.5l1.9 1.5 1.8 .4-1.8-2z"/>
<path class=Y d="M549.4 139l1.8 1.8 1.9 1-1.9-2.4z"/>
<path class=X d="M551.2 140.8l1.9 1.9 1.8 1.8-1.8-2.7z"/>
<path class=W d="M553.1 142.7l1.8 2 1.8 2.5-1.8-2.7z"/>
<path class=V d="M554.9 144.7l1.8 1.8 1.9 3.2-1.9-2.5z"/>
<path class=U d="M556.7 146.5l1.9 1.5 1.8 3.7-1.8-2z"/>
<path class=U d="M558.6 148l1.8 1.2 1.8 3.8-1.8-1.3z"/>
<path class=U d="M560.4 149.2l1.8 .6 1.9 3.7-1.9-.5z"/>
<path class=U d="M562.2 149.8l1.9 .3 1.8 3.2-1.8 .2z"/>
<path class=V d="M564.1 150.1l1.8-.1 1.9 2.5-1.9 .8z"/>
<path class=W d="M565.9 150l1.9-.1 1.8 1.7-1.8 .9z"/>
<path class=X d="M567.8 149.9l1.8-.2 1.8 1-1.8 .9z"/>
<path class=Y d="M569.6 149.7l1.8 0 1.9 .4-1.9 .6z"/>
<path class=Z d="M571.4 149.7l1.9 .3 1.8-.1-1.8 .2z"/>
<path class=Z d="M573.3 150l1.8 .4 1.8-.4-1.8-.1z"/>
<path class=Z d="M575.1 150.4l1.8 0 1.9-.1-1.9-.3z"/>
<path class=_ d="M576.9 150.4l1.9 .9 1.8-.9-1.8-.1z"/>
<path class=fg d="M.625 .6458H.8611"/><path class=ff d="M.625 .6458H.8611"/>
<path class=_ d="M610 166.5l1.9 .8 1.8 0-1.8-1.7z"/>
<path class=Z d="M611.9 167.3l1.8 1.8 1.8-.4-1.8-1.4z"/>
<path class=Z d="M613.7 169.1l1.8 1.4 1.9-.1-1.9-1.7z"/>
<path class=Z d="M615.5 170.5l1.9 1.5 1.8 .4-1.8-2z"/>
<path class=Y d="M617.4 172l1.8 1.8 1.8 1-1.8-2.4z"/>
<path class=X d="M619.2 173.8l1.8 1.9 1.9 1.8-1.9-2.7z"/>
<path class=W d="M621 175.7l1.9 2 1.8 2.5-1.8-2.7z"/>
<path class=V d="M622.9 177.7l1.8 1.8 1.9 3.2-1.9-2.5z"/>
<path class=U d="M624.7 179.5l1.9 1.5 1.8 3.7-1.8-2z"/>
<path class=U d="M626.6 181l1.8 1.2 1.8 3.8-1.8-1.3z"/>
<path class=X d="M494.2 115.7l1.9 .5 1.8 1.7-1.8-.2z"/>
<path class=X d="M496.1 116.2l1.8 .4 1.9 1.2-1.9 .1z"/>
<path class=Y d="M497.9 116.6l1.9 .3 1.8 .7-1.8 .2z"/>
<path class=Y d="M499.8 116.9l1.8 .3 1.8 .3-1.8 .1z"/>
<path class=Z d="M501.6 117.2l1.8 .5 1.9-.1-1.9-.1z"/>
<path class=Z d="M503.4 117.7l1.9-.3 1.8 .4-1.8-.2z"/>
<path class=_ d="M505.3 117.4l1.8 .9 1.9-.1-1.9-.4z"/>
<path class=_ d="M507.1 118.3l1.9 .9 1.8-.9-1.8-.1z"/>
<path class=fg d="M.1111 .6319H.3611"/><path class=ff d="M.1111 .6319H.3611"/>
<path class=_ d="M542 135.2l1.9 .9 1.8 0-1.8-1.7z"/>
<path class=Z d="M543.9 136.1l1.8 1.7 1.8-.3-1.8-1.4z"/>
<path class=Z d="M545.7 137.8l1.8 1.3 1.9-.1-1.9-1.5z"/>
<path class=Z d="M547.5 139.1l1.9 1.4 1.8 .3-1.8-1.8z"/>
<path class=Y d="M549.4 140.5l1.8 1.4 1.9 .8-1.9-1.9z"/>
<path class=Y d="M551.2 141.9l1.8 1.5 1.9 1.3-1.8-2z"/>
<path class=X d="M553 143.4l1.9 1.4 1.8 1.7-1.8-1.8z"/>
<path class=X d="M554.9 144.8l1.8 1.2 1.9 2-1.9-1.5z"/>
<path class=X d="M556.7 146l1.9 1 1.8 2.2-1.8-1.2z"/>
<path class=X d="M558.6 147l1.8 .8 1.8 2-1.8-.6z"/>
<path class=X d="M560.4 147.8l1.8 .6 1.9 1.7-1.9-.3z"/>
<path class=X d="M562.2 148.4l1.9 .3 1.8 1.3-1.8 .1z"/>
<path class=Y d="M564.1 148.7l1.8 .4 1.9 .8-1.9 .1z"/>
<path class=Y d="M565.9 149.1l1.9 .3 1.8 .3-1.8 .2z"/>
<path class=Z d="M567.8 149.4l1.8 .4 1.8-.1-1.8 0z"/>
<path class=Z d="M569.6 149.8l1.8 .5 1.9-.3-1.9-.3z"/>
<path class=Z d="M571.4 150.3l1.9 .1 1.8 0-1.8-.4z"/>
<path class=_ d="M573.3 150.4l1.8 .9 1.8-.9-1.8 0z"/>
<path class=fg d="M.6111 .6319H.875"/><path class=ff d="M.6111 .6319H.875"/>
<path class=_ d="M610 168.2l1.8 .9 1.9 0-1.8-1.8z"/>
<path class=Z d="M611.8 169.1l1.9 1.7 1.8-.3-1.8-1.4z"/>
<path class=Z d="M613.7 170.8l1.8 1.3 1.9-.1-1.9-1.5z"/>
<path class=Z d="M615.5 172.1l1.9 1.4 1.8 .3-1.8-1.8z"/>
<path class=Y d="M617.4 173.5l1.8 1.4 1.8 .8-1.8-1.9z"/>
<path class=Y d="M619.2 174.9l1.8 1.5 1.9 1.3-1.9-2z"/>
<path class=X d="M621 176.4l1.9 1.4 1.8 1.7-1.8-1.8z"/>
<path class=X d="M622.9 177.8l1.8 1.2 1.9 2-1.9-1.5z"/>
<path class=X d="M624.7 179l1.9 1 1.8 2.2-1.8-1.2z"/>
<path class=Y d="M492.4 114.9l1.8 .7 1.9 .6-1.9-.5z"/>
<path class=Y d="M494.2 115.6l1.9 .6 1.8 .4-1.8-.4z"/>
<path class=Z d="M496.1 116.2l1.8 .6 1.9 .1-1.9-.3z"/>
<path class=Z d="M497.9 116.8l1.9 .6 1.8-.2-1.8-.3z"/>
<path class=Z d="M499.8 117.4l1.8 0 1.8 .3-1.8-.5z"/>
<path class=_ d="M501.6 117.4l1.8 .9 1.9-.9-1.9 .3z"/>
<path class=fg d="M.0833 .6181H.375"/><path class=ff d="M.0833 .6181H.375"/>
<path class=_ d="M542 137l1.9 .9 1.8-.1-1.8-1.7z"/>
<path class=_ d="M543.9 137.9l1.8 .9 1.8 .3-1.8-1.3z"/>
<path class=Z d="M545.7 138.8l1.8 1.8 1.9-.1-1.9-1.4z"/>
<path class=Z d="M547.5 140.6l1.9 1.2 1.8 .1-1.8-1.4z"/>
<path class=Z d="M549.4 141.8l1.8 1.2 1.8 .4-1.8-1.5z"/>
<path class=Y d="M551.2 143l1.8 1.2 1.9 .6-1.9-1.4z"/>
<path class=Y d="M553 144.2l1.9 1 1.8 .8-1.8-1.2z"/>
<path class=Y d="M554.9 145.2l1.8 1 1.9 .8-1.9-1z"/>
<path class=Y d="M556.7 146.2l1.9 .8 1.8 .8-1.8-.8z"/>
<path class=Y d="M558.6 147l1.8 .7 1.8 .7-1.8-.6z"/>
<path class=Y d="M560.4 147.7l1.8 .7 1.9 .3-1.9-.3z"/>
<path class=Z d="M562.2 148.4l1.9 .5 1.8 .2-1.8-.4z"/>
<path class=Z d="M564.1 148.9l1.8 .7 1.9-.2-1.9-.3z"/>
<path class=Z d="M565.9 149.6l1.8-.1 1.9 .3-1.8-.4z"/>
<path class=_ d="M567.7 149.5l1.9 .9 1.8-.1-1.8-.5z"/>
<path class=_ d="M569.6 150.4l1.8 .9 1.9-.9-1.9-.1z"/>
<path class=fg d="M.5972 .6181H.8889"/><path class=ff d="M.5972 .6181H.8889"/>
<path class=_ d="M610 170l1.8 .9 1.9-.1-1.9-1.7z"/>
<path class=_ d="M611.8 170.9l1.9 .9 1.8 .3-1.8-1.3z"/>
<path class=Z d="M613.7 171.8l1.8 1.8 1.9-.1-1.9-1.4z"/>
<path class=Z d="M615.5 173.6l1.9 1.2 1.8 .1-1.8-1.4z"/>
<path class=Z d="M617.4 174.8l1.8 1.2 1.8 .4-1.8-1.5z"/>
<path class=Y d="M619.2 176l1.8 1.1 1.9 .7-1.9-1.4z"/>
<path class=Y d="M621 177.1l1.9 1.1 1.8 .8-1.8-1.2z"/>
<path class=Y d="M622.9 178.2l1.8 1 1.9 .8-1.9-1z"/>
<path class=Z d="M490.6 114.9l1.8 .8 1.8-.1-1.8-.7z"/>
<path class=Z d="M492.4 115.7l1.8-.1 1.9 .6-1.9-.6z"/>
<path class=_ d="M494.2 115.6l1.9 .9 1.8 .3-1.8-.6z"/>
<path class=_ d="M496.1 116.5l1.8 .9 1.9 0-1.9-.6z"/>
<path class=_ d="M497.9 117.4l1.9 .9 1.8-.9-1.8 0z"/>
<path class=fg d="M.0694 .6042H.4028"/><path class=ff d="M.0694 .6042H.4028"/>
<path class=_ d="M543.9 139.7l1.8 .9 1.8 0-1.8-1.8z"/>
<path class=_ d="M545.7 140.6l1.8 .9 1.9 .3-1.9-1.2z"/>
<path class=Z d="M547.5 141.5l1.9 1.7 1.8-.2-1.8-1.2z"/>
<path class=Z d="M549.4 143.2l1.8 1 1.8 0-1.8-1.2z"/>
<path class=Z d="M551.2 144.2l1.8 1 1.9 0-1.9-1z"/>
<path class=Z d="M553 145.2l1.9 .9 1.8 .1-1.8-1z"/>
<path class=Z d="M554.9 146.1l1.8 .9 1.9 0-1.9-.8z"/>
<path class=Z d="M556.7 147l1.9 .8 1.8-.1-1.8-.7z"/>
<path class=Z d="M558.6 147.8l1.8 .7 1.8-.1-1.8-.7z"/>
<path class=Z d="M560.4 148.5l1.8 .1 1.9 .3-1.9-.5z"/>
<path class=_ d="M562.2 148.6l1.9 .9 1.8 .1-1.8-.7z"/>
<path class=_ d="M564.1 149.5l1.8 .9 1.8-.9-1.8 .1z"/>
<path class=fg d="M.5694 .6042H.9167"/><path class=ff d="M.5694 .6042H.9167"/>
<path class=_ d="M611.8 172.7l1.9 .9 1.8 0-1.8-1.8z"/>
<path class=_ d="M613.7 173.6l1.8 .9 1.9 .3-1.9-1.2z"/>
<path class=Z d="M615.5 174.5l1.9 1.7 1.8-.2-1.8-1.2z"/>
<path class=Z d="M617.4 176.2l1.8 1 1.8-.1-1.8-1.1z"/>
<path class=Z d="M619.2 177.2l1.8 1 1.9 0-1.9-1.1z"/>
<path class=Z d="M621 178.2l1.9 .9 1.8 .1-1.8-1z"/>
<path class=_ d="M488.7 114.7l1.9 .9 1.8 .1-1.8-.8z"/>
<path class=_ d="M490.6 115.6l1.8 .9 1.8-.9-1.8 .1z"/>
<path class=fg d="M.0278 .5903H.4306"/><path class=ff d="M.0278 .5903H.4306"/>
<path class=_ d="M545.7 142.4l1.8 .9 1.9-.1-1.9-1.7z"/>
<path class=_ d="M547.5 143.3l1.9 .9 1.8 0-1.8-1z"/>
<path class=_ d="M549.4 144.2l1.8 .9 1.8 .1-1.8-1z"/>
<path class=_ d="M551.2 145.1l1.8 .8 1.9 .2-1.9-.9z"/>
<path class=_ d="M553 145.9l1.9 .9 1.8 .2-1.8-.9z"/>
<path class=_ d="M554.9 146.8l1.8 .9 1.9 .1-1.9-.8z"/>
<path class=_ d="M556.7 147.7l1.9 .9 1.8-.1-1.8-.7z"/>
<path class=_ d="M558.6 148.6l1.8 .9 1.8-.9-1.8-.1z"/>
<path class=fg d="M.5417 .5903H.9444"/><path class=ff d="M.5417 .5903H.9444"/>
<path class=_ d="M613.7 175.4l1.8 .9 1.9-.1-1.9-1.7z"/>
<path class=_ d="M615.5 176.3l1.9 .9 1.8 0-1.8-1z"/>
<path class=_ d="M617.4 177.2l1.8 .8 1.8 .2-1.8-1z"/>
<path class=_ d="M619.2 178l1.8 .9 1.9 .2-1.9-.9z"/>
<path class=fg d="M0 .5764H1"/><path class=ff d="M0 .5764H1"/>
<path class=fg d="M0 .5625H1"/><path class=ff d="M0 .5625H1"/>
<path class=fg d="M0 .5486H1"/><path class=ff d="M0 .5486H1"/>
<path class=fg d="M0 .5347H1"/><path class=ff d="M0 .5347H1"/>
<path class=fg d="M0 .5208H1"/><path class=ff d="M0 .5208H1"/>
<path class=fg d="M0 .5069H1"/><path class=ff d="M0 .5069H1"/>
<path class=fg d="M0 .4931H1"/><path class=ff d="M0 .4931H1"/>
<path class=fg d="M0 .4792H1"/><path class=ff d="M0 .4792H1"/>
<path class=fg d="M0 .4653H1"/><path class=ff d="M0 .4653H1"/>
<path class=fg d="M0 .4514H1"/><path class=ff d="M0 .4514H1"/>
<path class=fg d="M0 .4375H1"/><path class=ff d="M0 .4375H1"/>
<path class=fg d="M0 .4236H1"/><path class=ff d="M0 .4236H1"/>
<path class=fg d="M0 .4097H1"/><path class=ff d="M0 .4097H1"/>
<path class=_ d="M463 128.2l1.8 .8 1.9-1.8-1.9-.9z"/>
<path class=_ d="M464.8 129l1.9 0 1.8-.9-1.8-.9z"/>
<path class=fg d="M.0278 .3958H.4306"/><path class=ff d="M.0278 .3958H.4306"/>
<path class=_ d="M520 154.9l1.8 1.7 1.8-1.7-1.8-.9z"/>
<path class=_ d="M521.8 156.6l1.8 1 1.9-1.8-1.9-.9z"/>
<path class=_ d="M523.6 157.6l1.9 1 1.8-2-1.8-.8z"/>
<path class=_ d="M525.5 158.6l1.8 .9 1.8-2-1.8-.9z"/>
<path class=_ d="M527.3 159.5l1.8 .8 1.9-1.9-1.9-.9z"/>
<path class=_ d="M529.1 160.3l1.9 .8 1.8-1.8-1.8-.9z"/>
<path class=_ d="M531 161.1l1.8 .8 1.9-1.7-1.9-.9z"/>
<path class=_ d="M532.8 161.9l1.9 .1 1.8-.9-1.8-.9z"/>
<path class=fg d="M.5417 .3958H.9444"/><path class=ff d="M.5417 .3958H.9444"/>
<path class=_ d="M587.9 187.9l1.9 1.7 1.8-1.8-1.8-.8z"/>
<path class=_ d="M589.8 189.6l1.8 1 1.9-1.9-1.9-.9z"/>
<path class=_ d="M591.6 190.6l1.9 1 1.8-2-1.8-.9z"/>
<path class=_ d="M593.5 191.6l1.8 .9 1.8-2-1.8-.9z"/>
<path class=Z d="M461.2 130l1.8 .8 1.8-1.8-1.8-.8z"/>
<path class=Z d="M463 130.8l1.8 .6 1.9-2.4-1.9 0z"/>
<path class=_ d="M464.8 131.4l1.9 .6 1.8-2.1-1.8-.9z"/>
<path class=_ d="M466.7 132l1.8 .6 1.8-1.8-1.8-.9z"/>
<path class=_ d="M468.5 132.6l1.8 0 1.9-.9-1.9-.9z"/>
<path class=fg d="M.0694 .3819H.4028"/><path class=ff d="M.0694 .3819H.4028"/>
<path class=_ d="M514.4 154l1.9 1.8 1.8-1.8-1.8-.9z"/>
<path class=_ d="M516.3 155.8l1.8 1.2 1.9-2.1-1.9-.9z"/>
<path class=Z d="M518.1 157l1.9 1.2 1.8-1.6-1.8-1.7z"/>
<path class=Z d="M520 158.2l1.8 1.1 1.8-1.7-1.8-1z"/>
<path class=Z d="M521.8 159.3l1.8 1.1 1.9-1.8-1.9-1z"/>
<path class=Z d="M523.6 160.4l1.9 .9 1.8-1.8-1.8-.9z"/>
<path class=Z d="M525.5 161.3l1.8 .9 1.8-1.9-1.8-.8z"/>
<path class=Z d="M527.3 162.2l1.8 .7 1.9-1.8-1.9-.8z"/>
<path class=Z d="M529.1 162.9l1.9 .6 1.8-1.6-1.8-.8z"/>
<path class=Z d="M531 163.5l1.8 .6 1.9-2.1-1.9-.1z"/>
<path class=_ d="M532.8 164.1l1.8 .6 1.9-1.8-1.8-.9z"/>
<path class=_ d="M534.6 164.7l1.9 0 1.8-.9-1.8-.9z"/>
<path class=fg d="M.5694 .3819H.9167"/><path class=ff d="M.5694 .3819H.9167"/>
<path class=_ d="M582.4 187l1.9 1.8 1.8-1.8-1.8-.9z"/>
<path class=_ d="M584.3 188.8l1.8 1.2 1.8-2.1-1.8-.9z"/>
<path class=Z d="M586.1 190l1.8 1.2 1.9-1.6-1.9-1.7z"/>
<path class=Z d="M587.9 191.2l1.9 1.1 1.8-1.7-1.8-1z"/>
<path class=Z d="M589.8 192.3l1.8 1.1 1.9-1.8-1.9-1z"/>
<path class=Z d="M591.6 193.4l1.8 .9 1.9-1.8-1.8-.9z"/>
<path class=Y d="M459.3 132.6l1.8 .6 1.9-2.4-1.8-.8z"/>
<path class=Y d="M461.1 133.2l1.9 .3 1.8-2.1-1.8-.6z"/>
<path class=Z d="M463 133.5l1.8 .3 1.9-1.8-1.9-.6z"/>
<path class=Z d="M464.8 133.8l1.9 .4 1.8-1.6-1.8-.6z"/>
<path class=Z d="M466.7 134.2l1.8 .4 1.8-2-1.8 0z"/>
<path class=_ d="M468.5 134.6l1.8-.2 1.9-.9-1.9-.9z"/>
<path class=fg d="M.0833 .3681H.375"/><path class=ff d="M.0833 .3681H.375"/>
<path class=_ d="M508.9 153.1l1.9 1.7 1.8-1.7-1.8-.9z"/>
<path class=_ d="M510.8 154.8l1.8 1.2 1.8-2-1.8-.9z"/>
<path class=Z d="M512.6 156l1.8 1.4 1.9-1.6-1.9-1.8z"/>
<path class=Z d="M514.4 157.4l1.9 1.5 1.8-1.9-1.8-1.2z"/>
<path class=Z d="M516.3 158.9l1.8 1.4 1.9-2.1-1.9-1.2z"/>
<path class=Y d="M518.1 160.3l1.8 1.4 1.9-2.4-1.8-1.1z"/>
<path class=Y d="M519.9 161.7l1.9 1.3 1.8-2.6-1.8-1.1z"/>
<path class=Y d="M521.8 163l1.8 1 1.9-2.7-1.9-.9z"/>
<path class=Y d="M523.6 164l1.9 .8 1.8-2.6-1.8-.9z"/>
<path class=Y d="M525.5 164.8l1.8 .5 1.8-2.4-1.8-.7z"/>
<path class=Y d="M527.3 165.3l1.8 .4 1.9-2.2-1.9-.6z"/>
<path class=Z d="M529.1 165.7l1.9 .3 1.8-1.9-1.8-.6z"/>
<path class=Z d="M531 166l1.8 .3 1.8-1.6-1.8-.6z"/>
<path class=Z d="M532.8 166.3l1.8 .4 1.9-2-1.9 0z"/>
<path class=_ d="M534.6 166.7l1.9 .6 1.8-1.7-1.8-.9z"/>
<path class=_ d="M536.5 167.3l1.8 0 1.9-.8-1.9-.9z"/>
<path class=fg d="M.5972 .3681H.8889"/><path class=ff d="M.5972 .3681H.8889"/>
<path class=_ d="M576.9 186.1l1.8 1.7 1.9-1.7-1.8-.9z"/>
<path class=_ d="M578.7 187.8l1.9 1.2 1.8-2-1.8-.9z"/>
<path class=Z d="M580.6 189l1.8 1.4 1.9-1.6-1.9-1.8z"/>
<path class=Z d="M582.4 190.4l1.9 1.5 1.8-1.9-1.8-1.2z"/>
<path class=Z d="M584.3 191.9l1.8 1.4 1.8-2.1-1.8-1.2z"/>
<path class=Y d="M586.1 193.3l1.8 1.4 1.9-2.4-1.9-1.1z"/>
<path class=Y d="M587.9 194.7l1.9 1.3 1.8-2.6-1.8-1.1z"/>
<path class=Y d="M589.8 196l1.8 1 1.8-2.7-1.8-.9z"/>
<path class=X d="M457.5 136.4l1.8 .2 1.8-3.4-1.8-.6z"/>
<path class=X d="M459.3 136.6l1.8-.1 1.9-3-1.9-.3z"/>
<path class=Y d="M461.1 136.5l1.9-.1 1.8-2.6-1.8-.3z"/>
<path class=Y d="M463 136.4l1.8-.1 1.9-2.1-1.9-.4z"/>
<path class=Z d="M464.8 136.3l1.9 0 1.8-1.7-1.8-.4z"/>
<path class=Z d="M466.7 136.3l1.8 .2 1.8-2.1-1.8 .2z"/>
<path class=_ d="M468.5 136.5l1.8 .5 1.9-1.8-1.9-.8z"/>
<path class=_ d="M470.3 137l1.9 0 1.8-.9-1.8-.9z"/>
<path class=fg d="M.1111 .3542H.3611"/><path class=ff d="M.1111 .3542H.3611"/>
<path class=_ d="M505.2 153.1l1.9 1.7 1.8-1.7-1.8-.9z"/>
<path class=Z d="M507.1 154.8l1.8 1.4 1.9-1.4-1.9-1.7z"/>
<path class=Z d="M508.9 156.2l1.9 1.6 1.8-1.8-1.8-1.2z"/>
<path class=Z d="M510.8 157.8l1.8 1.7 1.8-2.1-1.8-1.4z"/>
<path class=Y d="M512.6 159.5l1.8 1.9 1.9-2.5-1.9-1.5z"/>
<path class=Y d="M514.4 161.4l1.9 2 1.8-3.1-1.8-1.4z"/>
<path class=X d="M516.3 163.4l1.8 1.8 1.8-3.5-1.8-1.4z"/>
<path class=X d="M518.1 165.2l1.8 1.6 1.9-3.8-1.9-1.3z"/>
<path class=X d="M519.9 166.8l1.9 1.1 1.8-3.9-1.8-1z"/>
<path class=X d="M521.8 167.9l1.8 .7 1.9-3.8-1.9-.8z"/>
<path class=X d="M523.6 168.6l1.9 .2 1.8-3.5-1.8-.5z"/>
<path class=X d="M525.5 168.8l1.8-.1 1.8-3-1.8-.4z"/>
<path class=Y d="M527.3 168.7l1.8-.1 1.9-2.6-1.9-.3z"/>
<path class=Y d="M529.1 168.6l1.9-.2 1.8-2.1-1.8-.3z"/>
<path class=Z d="M531 168.4l1.8 .1 1.8-1.8-1.8-.4z"/>
<path class=Z d="M532.8 168.5l1.8 .2 1.9-1.4-1.9-.6z"/>
<path class=Z d="M534.6 168.7l1.9 .4 1.8-1.8-1.8 0z"/>
<path class=_ d="M536.5 169.1l1.8 0 1.9-.9-1.9-.9z"/>
<path class=fg d="M.6111 .3542H.875"/><path class=ff d="M.6111 .3542H.875"/>
<path class=_ d="M573.2 186.1l1.9 1.7 1.8-1.7-1.8-.9z"/>
<path class=Z d="M575.1 187.8l1.8 1.4 1.8-1.4-1.8-1.7z"/>
<path class=Z d="M576.9 189.2l1.8 1.6 1.9-1.8-1.9-1.2z"/>
<path class=Z d="M578.7 190.8l1.9 1.7 1.8-2.1-1.8-1.4z"/>
<path class=Y d="M580.6 192.5l1.8 1.9 1.9-2.5-1.9-1.5z"/>
<path class=Y d="M582.4 194.4l1.9 2 1.8-3.1-1.8-1.4z"/>
<path class=X d="M584.3 196.4l1.8 1.8 1.8-3.5-1.8-1.4z"/>
<path class=X d="M586.1 198.2l1.8 1.6 1.9-3.8-1.9-1.3z"/>
<path class=X d="M587.9 199.8l1.9 1.1 1.8-3.9-1.8-1z"/>
<path class=U d="M455.6 141.9l1.9-.3 1.8-5-1.8-.2z"/>
<path class=V d="M457.5 141.6l1.8-.8 1.8-4.3-1.8 .1z"/>
<path class=W d="M459.3 140.8l1.8-1 1.9-3.4-1.9 .1z"/>
<path class=X d="M461.1 139.8l1.9-.8 1.8-2.7-1.8 .1z"/>
<path class=Y d="M463 139l1.8-.6 1.9-2.1-1.9 0z"/>
<path class=Z d="M464.8 138.4l1.9-.2 1.8-1.7-1.8-.2z"/>
<path class=Z d="M466.7 138.2l1.8 .1 1.8-1.3-1.8-.5z"/>
<path class=_ d="M468.5 138.3l1.8-.4 1.9-.9-1.9 0z"/>
<path class=fg d="M.1111 .3403H.3472"/><path class=ff d="M.1111 .3403H.3472"/>
<path class=_ d="M501.6 153.1l1.8 1.7 1.8-1.7-1.8-.9z"/>
<path class=Z d="M503.4 154.8l1.8 1.4 1.9-1.4-1.9-1.7z"/>
<path class=Z d="M505.2 156.2l1.9 1.7 1.8-1.7-1.8-1.4z"/>
<path class=Z d="M507.1 157.9l1.8 2 1.9-2.1-1.9-1.6z"/>
<path class=Y d="M508.9 159.9l1.9 2.4 1.8-2.8-1.8-1.7z"/>
<path class=X d="M510.8 162.3l1.8 2.7 1.8-3.6-1.8-1.9z"/>
<path class=W d="M512.6 165l1.8 2.7 1.9-4.3-1.9-2z"/>
<path class=V d="M514.4 167.7l1.9 2.5 1.8-5-1.8-1.8z"/>
<path class=U d="M516.3 170.2l1.8 2 1.8-5.4-1.8-1.6z"/>
<path class=U d="M518.1 172.2l1.8 1.3 1.9-5.6-1.9-1.1z"/>
<path class=U d="M519.9 173.5l1.9 .5 1.8-5.4-1.8-.7z"/>
<path class=U d="M521.8 174l1.8-.2 1.9-5-1.9-.2z"/>
<path class=V d="M523.6 173.8l1.9-.7 1.8-4.4-1.8 .1z"/>
<path class=W d="M525.5 173.1l1.8-1 1.8-3.5-1.8 .1z"/>
<path class=X d="M527.3 172.1l1.8-.9 1.9-2.8-1.9 .2z"/>
<path class=Y d="M529.1 171.2l1.9-.6 1.8-2.1-1.8-.1z"/>
<path class=Z d="M531 170.6l1.8-.2 1.8-1.7-1.8-.2z"/>
<path class=Z d="M532.8 170.4l1.8 .1 1.9-1.4-1.9-.4z"/>
<path class=Z d="M534.6 170.5l1.9 .3 1.8-1.7-1.8 0z"/>
<path class=_ d="M536.5 170.8l1.8 .1 1.9-.9-1.9-.9z"/>
<path class=fg d="M.625 .3403H.8611"/><path class=ff d="M.625 .3403H.8611"/>
<path class=_ d="M569.6 186.1l1.8 1.7 1.8-1.7-1.8-.9z"/>
<path class=Z d="M571.4 187.8l1.8 1.4 1.9-1.4-1.9-1.7z"/>
<path class=Z d="M573.2 189.2l1.9 1.7 1.8-1.7-1.8-1.4z"/>
<path class=Z d="M575.1 190.9l1.8 2 1.8-2.1-1.8-1.6z"/>
<path class=Y d="M576.9 192.9l1.8 2.4 1.9-2.8-1.9-1.7z"/>
<path class=X d="M578.7 195.3l1.9 2.7 1.8-3.6-1.8-1.9z"/>
<path class=W d="M580.6 198l1.8 2.7 1.9-4.3-1.9-2z"/>
<path class=V d="M582.4 200.7l1.9 2.5 1.8-5-1.8-1.8z"/>
<path class=U d="M584.3 203.2l1.8 2 1.8-5.4-1.8-1.6z"/>
<path class=U d="M586.1 205.2l1.8 1.3 1.9-5.6-1.9-1.1z"/>
<path class=R d="M453.8 149.4l1.8-1.1 1.9-6.7-1.9 .3z"/>
<path class=S d="M455.6 148.3l1.9-1.8 1.8-5.7-1.8 .8z"/>
<path class=U d="M457.5 146.5l1.8-2.1 1.8-4.6-1.8 1z"/>
<path class=V d="M459.3 144.4l1.8-1.9 1.9-3.5-1.9 .8z"/>
<path class=X d="M461.1 142.5l1.9-1.4 1.8-2.7-1.8 .6z"/>
<path class=Y d="M463 141.1l1.8-.9 1.9-2-1.9 .2z"/>
<path class=Z d="M464.8 140.2l1.9-.4 1.8-1.5-1.8-.1z"/>
<path class=Z d="M466.7 139.8l1.8 .1 1.8-2-1.8 .4z"/>
<path class=_ d="M468.5 139.9l1.8-.2 1.9-.9-1.9-.9z"/>
<path class=fg d="M.125 .3264H.3472"/><path class=ff d="M.125 .3264H.3472"/>
<path class=_ d="M499.7 154l1.9 2 1.8-1.2-1.8-1.7z"/>
<path class=Z d="M501.6 156l1.8 1.8 1.8-1.6-1.8-1.4z"/>
<path class=Z d="M503.4 157.8l1.8 2.1 1.9-2-1.9-1.7z"/>
<path class=Y d="M505.2 159.9l1.9 2.8 1.8-2.8-1.8-2z"/>
<path class=X d="M507.1 162.7l1.8 3.3 1.9-3.7-1.9-2.4z"/>
<path class=V d="M508.9 166l1.9 3.7 1.8-4.7-1.8-2.7z"/>
<path class=T d="M510.8 169.7l1.8 3.8 1.8-5.8-1.8-2.7z"/>
<path class=S d="M512.6 173.5l1.8 3.6 1.9-6.9-1.9-2.5z"/>
<path class=R d="M514.4 177.1l1.9 2.7 1.8-7.6-1.8-2z"/>
<path class=Q d="M516.3 179.8l1.8 1.6 1.8-7.9-1.8-1.3z"/>
<path class=Q d="M518.1 181.4l1.8 .2 1.9-7.6-1.9-.5z"/>
<path class=R d="M519.9 181.6l1.9-1 1.8-6.8-1.8 .2z"/>
<path class=S d="M521.8 180.6l1.8-1.7 1.9-5.8-1.9 .7z"/>
<path class=T d="M523.6 178.9l1.9-2.1 1.8-4.7-1.8 1z"/>
<path class=V d="M525.5 176.8l1.8-1.9 1.8-3.7-1.8 .9z"/>
<path class=X d="M527.3 174.9l1.8-1.5 1.9-2.8-1.9 .6z"/>
<path class=Y d="M529.1 173.4l1.9-1 1.8-2-1.8 .2z"/>
<path class=Z d="M531 172.4l1.8-.4 1.8-1.5-1.8-.1z"/>
<path class=Z d="M532.8 172l1.8 .1 1.9-1.3-1.9-.3z"/>
<path class=_ d="M534.6 172.1l1.9-.3 1.8-.9-1.8-.1z"/>
<path class=fg d="M.625 .3264H.8611"/><path class=ff d="M.625 .3264H.8611"/>
<path class=_ d="M567.7 187l1.9 2 1.8-1.2-1.8-1.7z"/>
<path class=Z d="M569.6 189l1.8 1.8 1.8-1.6-1.8-1.4z"/>
<path class=Z d="M571.4 190.8l1.8 2.1 1.9-2-1.9-1.7z"/>
<path class=Y d="M573.2 192.9l1.9 2.8 1.8-2.8-1.8-2z"/>
<path class=X d="M575.1 195.7l1.8 3.3 1.8-3.7-1.8-2.4z"/>
<path class=V d="M576.9 199l1.8 3.7 1.9-4.7-1.9-2.7z"/>
<path class=T d="M578.7 202.7l1.9 3.8 1.8-5.8-1.8-2.7z"/>
<path class=S d="M580.6 206.5l1.8 3.6 1.9-6.9-1.9-2.5z"/>
<path class=R d="M582.4 210.1l1.9 2.7 1.8-7.6-1.8-2z"/>
<path class=Q d="M584.3 212.8l1.8 1.5 1.8-7.8-1.8-1.3z"/>
<path class=M d="M452 159l1.8-2 1.8-8.7-1.8 1.1z"/>
<path class=O d="M453.8 157l1.8-3.2 1.9-7.3-1.9 1.8z"/>
<path class=Q d="M455.6 153.8l1.9-3.6 1.8-5.8-1.8 2.1z"/>
<path class=T d="M457.5 150.2l1.8-3.3 1.8-4.4-1.8 1.9z"/>
<path class=V d="M459.3 146.9l1.8-2.6 1.9-3.2-1.9 1.4z"/>
<path class=X d="M461.1 144.3l1.9-1.8 1.8-2.3-1.8 .9z"/>
<path class=Y d="M463 142.5l1.8-.9 1.9-1.8-1.9 .4z"/>
<path class=Z d="M464.8 141.6l1.9-.3 1.8-1.4-1.8-.1z"/>
<path class=Z d="M466.7 141.3l1.8 .2 1.8-1.8-1.8 .2z"/>
<path class=_ d="M468.5 141.5l1.8 0 1.9-.9-1.9-.9z"/>
<path class=fg d="M.1389 .3125H.3333"/><path class=ff d="M.1389 .3125H.3333"/>
<path class=_ d="M496.1 154l1.8 1.8 1.8-1.8-1.8-.9z"/>
<path class=Z d="M497.9 155.8l1.8 1.6 1.9-1.4-1.9-2z"/>
<path class=Z d="M499.7 157.4l1.9 2.1 1.8-1.7-1.8-1.8z"/>
<path class=Y d="M501.6 159.5l1.8 2.8 1.8-2.4-1.8-2.1z"/>
<path class=X d="M503.4 162.3l1.8 3.7 1.9-3.3-1.9-2.8z"/>
<path class=V d="M505.2 166l1.9 4.5 1.8-4.5-1.8-3.3z"/>
<path class=T d="M507.1 170.5l1.8 5.1 1.9-5.9-1.9-3.7z"/>
<path class=Q d="M508.9 175.6l1.9 5.4 1.8-7.5-1.8-3.8z"/>
<path class=O d="M510.8 181l1.8 4.9 1.8-8.8-1.8-3.6z"/>
<path class=M d="M512.6 185.9l1.8 3.6 1.9-9.7-1.9-2.7z"/>
<path class=L d="M514.4 189.5l1.9 1.9 1.8-10-1.8-1.6z"/>
<path class=L d="M516.3 191.4l1.8-.1 1.8-9.7-1.8-.2z"/>
<path class=M d="M518.1 191.3l1.8-1.9 1.9-8.8-1.9 1z"/>
<path class=O d="M519.9 189.4l1.9-3.1 1.8-7.4-1.8 1.7z"/>
<path class=Q d="M521.8 186.3l1.8-3.5 1.9-6-1.9 2.1z"/>
<path class=T d="M523.6 182.8l1.9-3.4 1.8-4.5-1.8 1.9z"/>
<path class=V d="M525.5 179.4l1.8-2.7 1.8-3.3-1.8 1.5z"/>
<path class=X d="M527.3 176.7l1.8-1.9 1.9-2.4-1.9 1z"/>
<path class=Y d="M529.1 174.8l1.9-1 1.8-1.8-1.8 .4z"/>
<path class=Z d="M531 173.8l1.8-.3 1.8-1.4-1.8-.1z"/>
<path class=Z d="M532.8 173.5l1.8 .1 1.9-1.8-1.9 .3z"/>
<path class=_ d="M534.6 173.6l1.9 0 1.8-.9-1.8-.9z"/>
<path class=fg d="M.6389 .3125H.8472"/><path class=ff d="M.6389 .3125H.8472"/>
<path class=_ d="M564 187l1.9 1.8 1.8-1.8-1.8-.9z"/>
<path class=Z d="M565.9 188.8l1.8 1.6 1.9-1.4-1.9-2z"/>
<path class=Z d="M567.7 190.4l1.9 2.1 1.8-1.7-1.8-1.8z"/>
<path class=Y d="M569.6 192.5l1.8 2.8 1.8-2.4-1.8-2.1z"/>
<path class=X d="M571.4 195.3l1.8 3.7 1.9-3.3-1.9-2.8z"/>
<path class=V d="M573.2 199l1.9 4.5 1.8-4.5-1.8-3.3z"/>
<path class=T d="M575.1 203.5l1.8 5.1 1.8-5.9-1.8-3.7z"/>
<path class=Q d="M576.9 208.6l1.8 5.4 1.9-7.5-1.9-3.8z"/>
<path class=O d="M578.7 214l1.9 4.8 1.8-8.7-1.8-3.6z"/>
<path class=M d="M580.6 218.8l1.8 3.7 1.9-9.7-1.9-2.7z"/>
<path class=L d="M582.4 222.5l1.9 1.9 1.8-10.1-1.8-1.5z"/>
<path class=G d="M450.1 170.4l1.9-3.3 1.8-10.1-1.8 2z"/>
<path class=J d="M452 167.1l1.8-4.8 1.8-8.5-1.8 3.2z"/>
<path class=M d="M453.8 162.3l1.8-5.4 1.9-6.7-1.9 3.6z"/>
<path class=Q d="M455.6 156.9l1.9-5 1.8-5-1.8 3.3z"/>
<path class=T d="M457.5 151.9l1.8-4 1.8-3.6-1.8 2.6z"/>
<path class=V d="M459.3 147.9l1.8-2.8 1.9-2.6-1.9 1.8z"/>
<path class=X d="M461.1 145.1l1.9-1.7 1.8-1.8-1.8 .9z"/>
<path class=Y d="M463 143.4l1.8-.7 1.9-1.4-1.9 .3z"/>
<path class=Z d="M464.8 142.7l1.9-.1 1.8-1.1-1.8-.2z"/>
<path class=_ d="M466.7 142.6l1.8-.2 1.8-.9-1.8 0z"/>
<path class=fg d="M.1389 .2986H.3333"/><path class=ff d="M.1389 .2986H.3333"/>
<path class=_ d="M494.2 154.9l1.9 2.1 1.8-1.2-1.8-1.8z"/>
<path class=Z d="M496.1 157l1.8 1.9 1.8-1.5-1.8-1.6z"/>
<path class=Y d="M497.9 158.9l1.8 2.5 1.9-1.9-1.9-2.1z"/>
<path class=X d="M499.7 161.4l1.9 3.6 1.8-2.7-1.8-2.8z"/>
<path class=V d="M501.6 165l1.8 4.7 1.8-3.7-1.8-3.7z"/>
<path class=T d="M503.4 169.7l1.8 5.9 1.9-5.1-1.9-4.5z"/>
<path class=P d="M505.2 175.6l1.9 6.9 1.8-6.9-1.8-5.1z"/>
<path class=M d="M507.1 182.5l1.8 7.1 1.9-8.6-1.9-5.4z"/>
<path class=I d="M508.9 189.6l1.9 6.6 1.8-10.3-1.8-4.9z"/>
<path class=G d="M510.8 196.2l1.8 4.8 1.8-11.5-1.8-3.6z"/>
<path class=E d="M512.6 201l1.8 2.3 1.9-11.9-1.9-1.9z"/>
<path class=E d="M514.4 203.3l1.9-.5 1.8-11.5-1.8 .1z"/>
<path class=G d="M516.3 202.8l1.8-3.1 1.8-10.3-1.8 1.9z"/>
<path class=I d="M518.1 199.7l1.8-4.7 1.9-8.7-1.9 3.1z"/>
<path class=M d="M519.9 195l1.9-5.4 1.8-6.8-1.8 3.5z"/>
<path class=P d="M521.8 189.6l1.8-5.1 1.9-5.1-1.9 3.4z"/>
<path class=T d="M523.6 184.5l1.9-4.1 1.8-3.7-1.8 2.7z"/>
<path class=V d="M525.5 180.4l1.8-2.9 1.8-2.7-1.8 1.9z"/>
<path class=X d="M527.3 177.5l1.8-1.8 1.9-1.9-1.9 1z"/>
<path class=Y d="M529.1 175.7l1.9-.8 1.8-1.4-1.8 .3z"/>
<path class=Z d="M531 174.9l1.8-.1 1.8-1.2-1.8-.1z"/>
<path class=_ d="M532.8 174.8l1.8-.3 1.9-.9-1.9 0z"/>
<path class=fg d="M.6389 .2986H.8472"/><path class=ff d="M.6389 .2986H.8472"/>
<path class=_ d="M562.2 187.8l1.8 2.2 1.9-1.2-1.9-1.8z"/>
<path class=Z d="M564 190l1.9 1.9 1.8-1.5-1.8-1.6z"/>
<path class=Y d="M565.9 191.9l1.8 2.5 1.9-1.9-1.9-2.1z"/>
<path class=X d="M567.7 194.4l1.9 3.6 1.8-2.7-1.8-2.8z"/>
<path class=V d="M569.6 198l1.8 4.7 1.8-3.7-1.8-3.7z"/>
<path class=T d="M571.4 202.7l1.8 5.9 1.9-5.1-1.9-4.5z"/>
<path class=P d="M573.2 208.6l1.9 6.9 1.8-6.9-1.8-5.1z"/>
<path class=M d="M575.1 215.5l1.8 7.1 1.8-8.6-1.8-5.4z"/>
<path class=I d="M576.9 222.6l1.8 6.6 1.9-10.4-1.9-4.8z"/>
<path class=G d="M578.7 229.2l1.9 4.8 1.8-11.5-1.8-3.7z"/>
<path class=E d="M580.6 234l1.8 2.3 1.9-11.9-1.9-1.9z"/>
<path class=z d="M448.3 182.5l1.8-4.6 1.9-10.8-1.9 3.3z"/>
<path class=D d="M450.1 177.9l1.9-6.7 1.8-8.9-1.8 4.8z"/>
<path class=I d="M452 171.2l1.8-7.3 1.8-7-1.8 5.4z"/>
<path class=M d="M453.8 163.9l1.8-6.8 1.9-5.2-1.9 5z"/>
<path class=Q d="M455.6 157.1l1.9-5.5 1.8-3.7-1.8 4z"/>
<path class=U d="M457.5 151.6l1.8-3.9 1.8-2.6-1.8 2.8z"/>
<path class=W d="M459.3 147.7l1.8-2.4 1.9-1.9-1.9 1.7z"/>
<path class=Y d="M461.1 145.3l1.9-1.2 1.8-1.4-1.8 .7z"/>
<path class=Z d="M463 144.1l1.8-.3 1.9-1.2-1.9 .1z"/>
<path class=_ d="M464.8 143.8l1.9-.5 1.8-.9-1.8 .2z"/>
<path class=fg d="M.1389 .2847H.3194"/><path class=ff d="M.1389 .2847H.3194"/>
<path class=_ d="M490.5 154.9l1.9 1.7 1.8-1.7-1.8-.9z"/>
<path class=Z d="M492.4 156.6l1.8 1.6 1.9-1.2-1.9-2.1z"/>
<path class=Z d="M494.2 158.2l1.9 2.1 1.8-1.4-1.8-1.9z"/>
<path class=Y d="M496.1 160.3l1.8 3.1 1.8-2-1.8-2.5z"/>
<path class=W d="M497.9 163.4l1.8 4.3 1.9-2.7-1.9-3.6z"/>
<path class=T d="M499.7 167.7l1.9 5.8 1.8-3.8-1.8-4.7z"/>
<path class=Q d="M501.6 173.5l1.8 7.5 1.8-5.4-1.8-5.9z"/>
<path class=M d="M503.4 181l1.8 8.6 1.9-7.1-1.9-6.9z"/>
<path class=H d="M505.2 189.6l1.9 9.1 1.8-9.1-1.8-7.1z"/>
<path class=C d="M507.1 198.7l1.8 8.4 1.9-10.9-1.9-6.6z"/>
<path class=z d="M508.9 207.1l1.9 6.1 1.8-12.2-1.8-4.8z"/>
<path class=x d="M510.8 213.2l1.8 2.8 1.8-12.7-1.8-2.3z"/>
<path class=x d="M512.6 216l1.8-1 1.9-12.2-1.9 .5z"/>
<path class=z d="M514.4 215l1.9-4.4 1.8-10.9-1.8 3.1z"/>
<path class=C d="M516.3 210.6l1.8-6.5 1.8-9.1-1.8 4.7z"/>
<path class=H d="M518.1 204.1l1.8-7.3 1.9-7.2-1.9 5.4z"/>
<path class=M d="M519.9 196.8l1.9-6.9 1.8-5.4-1.8 5.1z"/>
<path class=Q d="M521.8 189.9l1.8-5.7 1.9-3.8-1.9 4.1z"/>
<path class=T d="M523.6 184.2l1.9-4 1.8-2.7-1.8 2.9z"/>
<path class=W d="M525.5 180.2l1.8-2.5 1.8-2-1.8 1.8z"/>
<path class=Y d="M527.3 177.7l1.8-1.3 1.9-1.5-1.9 .8z"/>
<path class=Z d="M529.1 176.4l1.9-.4 1.8-1.2-1.8 .1z"/>
<path class=Z d="M531 176l1.8 .2 1.8-1.7-1.8 .3z"/>
<path class=_ d="M532.8 176.2l1.8 .1 1.9-.9-1.9-.9z"/>
<path class=fg d="M.6528 .2847H.8333"/><path class=ff d="M.6528 .2847H.8333"/>
<path class=_ d="M558.5 187.9l1.9 1.7 1.8-1.8-1.8-.8z"/>
<path class=Z d="M560.4 189.6l1.8 1.6 1.8-1.2-1.8-2.2z"/>
<path class=Z d="M562.2 191.2l1.8 2.1 1.9-1.4-1.9-1.9z"/>
<path class=Y d="M564 193.3l1.9 3.1 1.8-2-1.8-2.5z"/>
<path class=W d="M565.9 196.4l1.8 4.3 1.9-2.7-1.9-3.6z"/>
<path class=T d="M567.7 200.7l1.9 5.8 1.8-3.8-1.8-4.7z"/>
<path class=Q d="M569.6 206.5l1.8 7.5 1.8-5.4-1.8-5.9z"/>
<path class=M d="M571.4 214l1.8 8.6 1.9-7.1-1.9-6.9z"/>
<path class=H d="M573.2 222.6l1.9 9.1 1.8-9.1-1.8-7.1z"/>
<path class=C d="M575.1 231.7l1.8 8.3 1.8-10.8-1.8-6.6z"/>
<path class=z d="M576.9 240l1.8 6.2 1.9-12.2-1.9-4.8z"/>
<path class=x d="M578.7 246.2l1.9 2.8 1.8-12.7-1.8-2.3z"/>
<path class=s d="M446.4 193.8l1.9-6 1.8-9.9-1.8 4.6z"/>
<path class=x d="M448.3 187.8l1.8-8.4 1.9-8.2-1.9 6.7z"/>
<path class=D d="M450.1 179.4l1.9-9.2 1.8-6.3-1.8 7.3z"/>
<path class=J d="M452 170.2l1.8-8.4 1.8-4.7-1.8 6.8z"/>
<path class=O d="M453.8 161.8l1.8-6.8 1.9-3.4-1.9 5.5z"/>
<path class=S d="M455.6 155l1.9-4.9 1.8-2.4-1.8 3.9z"/>
<path class=V d="M457.5 150.1l1.8-3 1.8-1.8-1.8 2.4z"/>
<path class=X d="M459.3 147.1l1.8-1.6 1.9-1.4-1.9 1.2z"/>
<path class=Z d="M461.1 145.5l1.9-.6 1.8-1.1-1.8 .3z"/>
<path class=Z d="M463 144.9l1.8 .1 1.9-1.7-1.9 .5z"/>
<path class=_ d="M464.8 145l1.9 0 1.8-.8-1.8-.9z"/>
<path class=fg d="M.1528 .2708H.3194"/><path class=ff d="M.1528 .2708H.3194"/>
<path class=_ d="M488.7 155.8l1.8 1.8 1.9-1-1.9-1.7z"/>
<path class=Z d="M490.5 157.6l1.9 1.7 1.8-1.1-1.8-1.6z"/>
<path class=Y d="M492.4 159.3l1.8 2.4 1.9-1.4-1.9-2.1z"/>
<path class=X d="M494.2 161.7l1.9 3.5 1.8-1.8-1.8-3.1z"/>
<path class=V d="M496.1 165.2l1.8 5 1.8-2.5-1.8-4.3z"/>
<path class=S d="M497.9 170.2l1.8 6.9 1.9-3.6-1.9-5.8z"/>
<path class=O d="M499.7 177.1l1.9 8.8 1.8-4.9-1.8-7.5z"/>
<path class=I d="M501.6 185.9l1.8 10.3 1.8-6.6-1.8-8.6z"/>
<path class=C d="M503.4 196.2l1.8 10.9 1.9-8.4-1.9-9.1z"/>
<path class=x d="M505.2 207.1l1.9 10 1.8-10-1.8-8.4z"/>
<path class=s d="M507.1 217.1l1.8 7.5 1.9-11.4-1.9-6.1z"/>
<path class=p d="M508.9 224.6l1.9 3.4 1.8-12-1.8-2.8z"/>
<path class=p d="M510.8 228l1.8-1.6 1.8-11.4-1.8 1z"/>
<path class=s d="M512.6 226.4l1.8-5.7 1.9-10.1-1.9 4.4z"/>
<path class=x d="M514.4 220.7l1.9-8.3 1.8-8.3-1.8 6.5z"/>
<path class=C d="M516.3 212.4l1.8-9.1 1.8-6.5-1.8 7.3z"/>
<path class=I d="M518.1 203.3l1.8-8.5 1.9-4.9-1.9 6.9z"/>
<path class=O d="M519.9 194.8l1.9-7 1.8-3.6-1.8 5.7z"/>
<path class=S d="M521.8 187.8l1.8-5.1 1.9-2.5-1.9 4z"/>
<path class=V d="M523.6 182.7l1.9-3.2 1.8-1.8-1.8 2.5z"/>
<path class=X d="M525.5 179.5l1.8-1.7 1.8-1.4-1.8 1.3z"/>
<path class=Y d="M527.3 177.8l1.8-.7 1.9-1.1-1.9 .4z"/>
<path class=Z d="M529.1 177.1l1.9 .1 1.8-1-1.8-.2z"/>
<path class=_ d="M531 177.2l1.8 0 1.8-.9-1.8-.1z"/>
<path class=fg d="M.6528 .2708H.8333"/><path class=ff d="M.6528 .2708H.8333"/>
<path class=_ d="M556.7 188.7l1.8 1.9 1.9-1-1.9-1.7z"/>
<path class=Z d="M558.5 190.6l1.9 1.7 1.8-1.1-1.8-1.6z"/>
<path class=Y d="M560.4 192.3l1.8 2.4 1.8-1.4-1.8-2.1z"/>
<path class=X d="M562.2 194.7l1.8 3.5 1.9-1.8-1.9-3.1z"/>
<path class=V d="M564 198.2l1.9 5 1.8-2.5-1.8-4.3z"/>
<path class=S d="M565.9 203.2l1.8 6.9 1.9-3.6-1.9-5.8z"/>
<path class=O d="M567.7 210.1l1.9 8.7 1.8-4.8-1.8-7.5z"/>
<path class=I d="M569.6 218.8l1.8 10.4 1.8-6.6-1.8-8.6z"/>
<path class=C d="M571.4 229.2l1.8 10.8 1.9-8.3-1.9-9.1z"/>
<path class=x d="M573.2 240l1.9 10.1 1.8-10.1-1.8-8.3z"/>
<path class=s d="M575.1 250.1l1.8 7.5 1.8-11.4-1.8-6.2z"/>
<path class=p d="M576.9 257.6l1.8 3.4 1.9-12-1.9-2.8z"/>
<path class=n d="M444.6 202.6l1.8-7.4 1.9-7.4-1.9 6z"/>
<path class=s d="M446.4 195.2l1.9-9.8 1.8-6-1.8 8.4z"/>
<path class=z d="M448.3 185.4l1.8-10.4 1.9-4.8-1.9 9.2z"/>
<path class=G d="M450.1 175l1.9-9.6 1.8-3.6-1.8 8.4z"/>
<path class=M d="M452 165.4l1.8-7.7 1.8-2.7-1.8 6.8z"/>
<path class=R d="M453.8 157.7l1.8-5.6 1.9-2-1.9 4.9z"/>
<path class=V d="M455.6 152.1l1.9-3.5 1.8-1.5-1.8 3z"/>
<path class=X d="M457.5 148.6l1.8-1.9 1.8-1.2-1.8 1.6z"/>
<path class=Y d="M459.3 146.7l1.8-.7 1.9-1.1-1.9 .6z"/>
<path class=Z d="M461.1 146l1.9 0 1.8-1-1.8-.1z"/>
<path class=_ d="M463 146l1.8-.1 1.9-.9-1.9 0z"/>
<path class=fg d="M.1528 .2569H.3194"/><path class=ff d="M.1528 .2569H.3194"/>
<path class=_ d="M486.9 156.6l1.8 2 1.8-1-1.8-1.8z"/>
<path class=Z d="M488.7 158.6l1.8 1.8 1.9-1.1-1.9-1.7z"/>
<path class=Y d="M490.5 160.4l1.9 2.6 1.8-1.3-1.8-2.4z"/>
<path class=X d="M492.4 163l1.8 3.8 1.9-1.6-1.9-3.5z"/>
<path class=U d="M494.2 166.8l1.8 5.4 1.9-2-1.8-5z"/>
<path class=R d="M496 172.2l1.9 7.6 1.8-2.7-1.8-6.9z"/>
<path class=M d="M497.9 179.8l1.8 9.7 1.9-3.6-1.9-8.8z"/>
<path class=G d="M499.7 189.5l1.9 11.5 1.8-4.8-1.8-10.3z"/>
<path class=z d="M501.6 201l1.8 12.2 1.8-6.1-1.8-10.9z"/>
<path class=s d="M503.4 213.2l1.8 11.4 1.9-7.5-1.9-10z"/>
<path class=m d="M505.2 224.6l1.9 8.9 1.8-8.9-1.8-7.5z"/>
<path class=j d="M507.1 233.5l1.8 4.2 1.9-9.7-1.9-3.4z"/>
<path class=j d="M508.9 237.7l1.9-2.4 1.8-8.9-1.8 1.6z"/>
<path class=m d="M510.8 235.3l1.8-7.1 1.8-7.5-1.8 5.7z"/>
<path class=s d="M512.6 228.2l1.8-9.6 1.9-6.2-1.9 8.3z"/>
<path class=z d="M514.4 218.6l1.9-10.5 1.8-4.8-1.8 9.1z"/>
<path class=G d="M516.3 208.1l1.8-9.7 1.8-3.6-1.8 8.5z"/>
<path class=M d="M518.1 198.4l1.8-7.9 1.9-2.7-1.9 7z"/>
<path class=R d="M519.9 190.5l1.9-5.8 1.8-2-1.8 5.1z"/>
<path class=U d="M521.8 184.7l1.8-3.7 1.9-1.5-1.9 3.2z"/>
<path class=X d="M523.6 181l1.8-2 1.9-1.2-1.8 1.7z"/>
<path class=Y d="M525.4 179l1.9-.8 1.8-1.1-1.8 .7z"/>
<path class=Z d="M527.3 178.2l1.8 0 1.9-1-1.9-.1z"/>
<path class=_ d="M529.1 178.2l1.9-.2 1.8-.8-1.8 0z"/>
<path class=fg d="M.6528 .2569H.8333"/><path class=ff d="M.6528 .2569H.8333"/>
<path class=_ d="M554.8 189.6l1.9 2 1.8-1-1.8-1.9z"/>
<path class=Z d="M556.7 191.6l1.8 1.8 1.9-1.1-1.9-1.7z"/>
<path class=Y d="M558.5 193.4l1.9 2.6 1.8-1.3-1.8-2.4z"/>
<path class=X d="M560.4 196l1.8 3.8 1.8-1.6-1.8-3.5z"/>
<path class=U d="M562.2 199.8l1.8 5.4 1.9-2-1.9-5z"/>
<path class=R d="M564 205.2l1.9 7.6 1.8-2.7-1.8-6.9z"/>
<path class=M d="M565.9 212.8l1.8 9.7 1.9-3.7-1.9-8.7z"/>
<path class=G d="M567.7 222.5l1.9 11.5 1.8-4.8-1.8-10.4z"/>
<path class=z d="M569.6 234l1.8 12.2 1.8-6.2-1.8-10.8z"/>
<path class=s d="M571.4 246.2l1.8 11.4 1.9-7.5-1.9-10.1z"/>
<path class=m d="M573.2 257.6l1.9 8.9 1.8-8.9-1.8-7.5z"/>
<path class=j d="M575.1 266.5l1.8 4.2 1.8-9.7-1.8-3.4z"/>
<path class=j d="M442.8 206.7l1.8-8.2 1.8-3.3-1.8 7.4z"/>
<path class=q d="M444.6 198.5l1.8-10.4 1.9-2.7-1.9 9.8z"/>
<path class=x d="M446.4 188.1l1.9-10.9 1.8-2.2-1.8 10.4z"/>
<path class=F d="M448.3 177.2l1.8-9.9 1.9-1.9-1.9 9.6z"/>
<path class=L d="M450.1 167.3l1.8-8.1 1.9-1.5-1.8 7.7z"/>
<path class=R d="M451.9 159.2l1.9-5.8 1.8-1.3-1.8 5.6z"/>
<path class=U d="M453.8 153.4l1.8-3.7 1.9-1.1-1.9 3.5z"/>
<path class=X d="M455.6 149.7l1.9-2 1.8-1-1.8 1.9z"/>
<path class=Y d="M457.5 147.7l1.8-.8 1.8-.9-1.8 .7z"/>
<path class=Z d="M459.3 146.9l1.8 0 1.9-.9-1.9 0z"/>
<path class=_ d="M461.1 146.9l1.9-.1 1.8-.9-1.8 .1z"/>
<path class=fg d="M.1528 .2431H.3194"/><path class=ff d="M.1528 .2431H.3194"/>
<path class=_ d="M485 157.5l1.9 2 1.8-.9-1.8-2z"/>
<path class=Z d="M486.9 159.5l1.8 1.8 1.8-.9-1.8-1.8z"/>
<path class=Y d="M488.7 161.3l1.8 2.7 1.9-1-1.9-2.6z"/>
<path class=X d="M490.5 164l1.9 3.9 1.8-1.1-1.8-3.8z"/>
<path class=U d="M492.4 167.9l1.8 5.6 1.8-1.3-1.8-5.4z"/>
<path class=Q d="M494.2 173.5l1.8 7.9 1.9-1.6-1.9-7.6z"/>
<path class=L d="M496 181.4l1.9 10 1.8-1.9-1.8-9.7z"/>
<path class=E d="M497.9 191.4l1.8 11.9 1.9-2.3-1.9-11.5z"/>
<path class=x d="M499.7 203.3l1.9 12.7 1.8-2.8-1.8-12.2z"/>
<path class=p d="M501.6 216l1.8 12 1.8-3.4-1.8-11.4z"/>
<path class=j d="M503.4 228l1.8 9.7 1.9-4.2-1.9-8.9z"/>
<path class=d d="M505.2 237.7l1.9 6.4 1.8-6.4-1.8-4.2z"/>
<path class=d d="M507.1 244.1l1.8-4.6 1.9-4.2-1.9 2.4z"/>
<path class=j d="M508.9 239.5l1.8-7.9 1.9-3.4-1.8 7.1z"/>
<path class=p d="M510.7 231.6l1.9-10.2 1.8-2.8-1.8 9.6z"/>
<path class=x d="M512.6 221.4l1.8-11 1.9-2.3-1.9 10.5z"/>
<path class=E d="M514.4 210.4l1.9-10.1 1.8-1.9-1.8 9.7z"/>
<path class=L d="M516.3 200.3l1.8-8.2 1.8-1.6-1.8 7.9z"/>
<path class=Q d="M518.1 192.1l1.8-6.1 1.9-1.3-1.9 5.8z"/>
<path class=U d="M519.9 186l1.9-3.8 1.8-1.2-1.8 3.7z"/>
<path class=X d="M521.8 182.2l1.8-2.2 1.8-1-1.8 2z"/>
<path class=Y d="M523.6 180l1.8-.8 1.9-1-1.9 .8z"/>
<path class=Z d="M525.4 179.2l1.9-.1 1.8-.9-1.8 0z"/>
<path class=_ d="M527.3 179.1l1.8-.2 1.9-.9-1.9 .2z"/>
<path class=fg d="M.6528 .2431H.8333"/><path class=ff d="M.6528 .2431H.8333"/>
<path class=_ d="M553 190.5l1.8 2 1.9-.9-1.9-2z"/>
<path class=Z d="M554.8 192.5l1.9 1.8 1.8-.9-1.8-1.8z"/>
<path class=Y d="M556.7 194.3l1.8 2.7 1.9-1-1.9-2.6z"/>
<path class=X d="M558.5 197l1.9 3.9 1.8-1.1-1.8-3.8z"/>
<path class=U d="M560.4 200.9l1.8 5.6 1.8-1.3-1.8-5.4z"/>
<path class=Q d="M562.2 206.5l1.8 7.8 1.9-1.5-1.9-7.6z"/>
<path class=L d="M564 214.3l1.9 10.1 1.8-1.9-1.8-9.7z"/>
<path class=E d="M565.9 224.4l1.8 11.9 1.9-2.3-1.9-11.5z"/>
<path class=x d="M567.7 236.3l1.8 12.7 1.9-2.8-1.8-12.2z"/>
<path class=p d="M569.5 249l1.9 12 1.8-3.4-1.8-11.4z"/>
<path class=j d="M571.4 261l1.8 9.7 1.9-4.2-1.9-8.9z"/>
<path class=d d="M573.2 270.7l1.9 6.4 1.8-6.4-1.8-4.2z"/>
<path class=j d="M440.9 204.4l1.9-7.4 1.8 1.5-1.8 8.2z"/>
<path class=q d="M442.8 197l1.8-9.8 1.8 .9-1.8 10.4z"/>
<path class=x d="M444.6 187.2l1.8-10.5 1.9 .5-1.9 10.9z"/>
<path class=F d="M446.4 176.7l1.9-9.5 1.8 .1-1.8 9.9z"/>
<path class=L d="M448.3 167.2l1.8-7.7 1.8-.3-1.8 8.1z"/>
<path class=R d="M450.1 159.5l1.8-5.6 1.9-.5-1.9 5.8z"/>
<path class=U d="M451.9 153.9l1.9-3.5 1.8-.7-1.8 3.7z"/>
<path class=X d="M453.8 150.4l1.8-1.9 1.9-.8-1.9 2z"/>
<path class=Y d="M455.6 148.5l1.9-.7 1.8-.9-1.8 .8z"/>
<path class=Z d="M457.5 147.8l1.8 0 1.8-.9-1.8 0z"/>
<path class=_ d="M459.3 147.8l1.8-.1 1.9-.9-1.9 .1z"/>
<path class=fg d="M.1528 .2292H.3194"/><path class=ff d="M.1528 .2292H.3194"/>
<path class=_ d="M483.2 158.4l1.8 1.9 1.9-.8-1.9-2z"/>
<path class=Z d="M485 160.3l1.9 1.9 1.8-.9-1.8-1.8z"/>
<path class=Y d="M486.9 162.2l1.8 2.6 1.8-.8-1.8-2.7z"/>
<path class=X d="M488.7 164.8l1.8 3.8 1.9-.7-1.9-3.9z"/>
<path class=U d="M490.5 168.6l1.9 5.4 1.8-.5-1.8-5.6z"/>
<path class=Q d="M492.4 174l1.8 7.6 1.8-.2-1.8-7.9z"/>
<path class=L d="M494.2 181.6l1.8 9.7 1.9 .1-1.9-10z"/>
<path class=E d="M496 191.3l1.9 11.5 1.8 .5-1.8-11.9z"/>
<path class=x d="M497.9 202.8l1.8 12.2 1.9 1-1.9-12.7z"/>
<path class=p d="M499.7 215l1.9 11.4 1.8 1.6-1.8-12z"/>
<path class=j d="M501.6 226.4l1.8 8.9 1.8 2.4-1.8-9.7z"/>
<path class=d d="M503.4 235.3l1.8 4.2 1.9 4.6-1.9-6.4z"/>
<path class=d d="M505.2 239.5l1.9-2.4 1.8 2.4-1.8 4.6z"/>
<path class=j d="M507.1 237.1l1.8-7.1 1.8 1.6-1.8 7.9z"/>
<path class=p d="M508.9 230l1.8-9.7 1.9 1.1-1.9 10.2z"/>
<path class=x d="M510.7 220.3l1.9-10.4 1.8 .5-1.8 11z"/>
<path class=E d="M512.6 209.9l1.8-9.7 1.9 .1-1.9 10.1z"/>
<path class=L d="M514.4 200.2l1.9-7.9 1.8-.2-1.8 8.2z"/>
<path class=Q d="M516.3 192.3l1.8-5.8 1.8-.5-1.8 6.1z"/>
<path class=U d="M518.1 186.5l1.8-3.7 1.9-.6-1.9 3.8z"/>
<path class=X d="M519.9 182.8l1.9-2 1.8-.8-1.8 2.2z"/>
<path class=Y d="M521.8 180.8l1.8-.8 1.8-.8-1.8 .8z"/>
<path class=Z d="M523.6 180l1.8 0 1.9-.9-1.9 .1z"/>
<path class=_ d="M525.4 180l1.9-.2 1.8-.9-1.8 .2z"/>
<path class=fg d="M.6528 .2292H.8333"/><path class=ff d="M.6528 .2292H.8333"/>
<path class=_ d="M551.2 191.4l1.8 1.9 1.8-.8-1.8-2z"/>
<path class=Z d="M553 193.3l1.8 1.9 1.9-.9-1.9-1.8z"/>
<path class=Y d="M554.8 195.2l1.9 2.5 1.8-.7-1.8-2.7z"/>
<path class=X d="M556.7 197.7l1.8 3.8 1.9-.6-1.9-3.9z"/>
<path class=U d="M558.5 201.5l1.9 5.5 1.8-.5-1.8-5.6z"/>
<path class=Q d="M560.4 207l1.8 7.6 1.8-.3-1.8-7.8z"/>
<path class=L d="M562.2 214.6l1.8 9.7 1.9 .1-1.9-10.1z"/>
<path class=E d="M564 224.3l1.9 11.5 1.8 .5-1.8-11.9z"/>
<path class=x d="M565.9 235.8l1.8 12.2 1.8 1-1.8-12.7z"/>
<path class=p d="M567.7 248l1.8 11.4 1.9 1.6-1.9-12z"/>
<path class=j d="M569.5 259.4l1.9 8.9 1.8 2.4-1.8-9.7z"/>
<path class=d d="M571.4 268.3l1.8 4.2 1.9 4.6-1.9-6.4z"/>
<path class=n d="M439.1 197.4l1.8-6.1 1.9 5.7-1.9 7.4z"/>
<path class=s d="M440.9 191.3l1.9-8.4 1.8 4.3-1.8 9.8z"/>
<path class=z d="M442.8 182.9l1.8-9.1 1.8 2.9-1.8 10.5z"/>
<path class=G d="M444.6 173.8l1.8-8.4 1.9 1.8-1.9 9.5z"/>
<path class=M d="M446.4 165.4l1.9-6.8 1.8 .9-1.8 7.7z"/>
<path class=R d="M448.3 158.6l1.8-4.9 1.8 .2-1.8 5.6z"/>
<path class=V d="M450.1 153.7l1.8-3.1 1.9-.2-1.9 3.5z"/>
<path class=X d="M451.9 150.6l1.9-1.5 1.8-.6-1.8 1.9z"/>
<path class=Y d="M453.8 149.1l1.8-.6 1.9-.7-1.9 .7z"/>
<path class=Z d="M455.6 148.5l1.9 .1 1.8-.8-1.8 0z"/>
<path class=_ d="M457.5 148.6l1.8 0 1.8-.9-1.8 .1z"/>
<path class=fg d="M.1528 .2153H.3194"/><path class=ff d="M.1528 .2153H.3194"/>
<path class=_ d="M481.3 159.3l1.9 1.8 1.8-.8-1.8-1.9z"/>
<path class=Z d="M483.2 161.1l1.8 1.8 1.9-.7-1.9-1.9z"/>
<path class=Y d="M485 162.9l1.9 2.4 1.8-.5-1.8-2.6z"/>
<path class=X d="M486.9 165.3l1.8 3.5 1.8-.2-1.8-3.8z"/>
<path class=U d="M488.7 168.8l1.8 5 1.9 .2-1.9-5.4z"/>
<path class=R d="M490.5 173.8l1.9 6.8 1.8 1-1.8-7.6z"/>
<path class=M d="M492.4 180.6l1.8 8.8 1.8 1.9-1.8-9.7z"/>
<path class=G d="M494.2 189.4l1.8 10.3 1.9 3.1-1.9-11.5z"/>
<path class=z d="M496 199.7l1.9 10.9 1.8 4.4-1.8-12.2z"/>
<path class=s d="M497.9 210.6l1.8 10.1 1.9 5.7-1.9-11.4z"/>
<path class=m d="M499.7 220.7l1.9 7.5 1.8 7.1-1.8-8.9z"/>
<path class=j d="M501.6 228.2l1.8 3.4 1.8 7.9-1.8-4.2z"/>
<path class=j d="M503.4 231.6l1.8-1.6 1.9 7.1-1.9 2.4z"/>
<path class=m d="M505.2 230l1.9-5.8 1.8 5.8-1.8 7.1z"/>
<path class=s d="M507.1 224.2l1.8-8.2 1.8 4.3-1.8 9.7z"/>
<path class=z d="M508.9 216l1.8-9.1 1.9 3-1.9 10.4z"/>
<path class=G d="M510.7 206.9l1.9-8.6 1.8 1.9-1.8 9.7z"/>
<path class=M d="M512.6 198.3l1.8-7 1.9 1-1.9 7.9z"/>
<path class=R d="M514.4 191.3l1.9-5 1.8 .2-1.8 5.8z"/>
<path class=U d="M516.3 186.3l1.8-3.2 1.8-.3-1.8 3.7z"/>
<path class=X d="M518.1 183.1l1.8-1.8 1.9-.5-1.9 2z"/>
<path class=Y d="M519.9 181.3l1.9-.6 1.8-.7-1.8 .8z"/>
<path class=Z d="M521.8 180.7l1.8 .1 1.8-.8-1.8 0z"/>
<path class=_ d="M523.6 180.8l1.8-.1 1.9-.9-1.9 .2z"/>
<path class=fg d="M.6528 .2153H.8333"/><path class=ff d="M.6528 .2153H.8333"/>
<path class=_ d="M549.3 192.3l1.9 1.8 1.8-.8-1.8-1.9z"/>
<path class=Z d="M551.2 194.1l1.8 1.8 1.8-.7-1.8-1.9z"/>
<path class=Y d="M553 195.9l1.8 2.4 1.9-.6-1.9-2.5z"/>
<path class=X d="M554.8 198.3l1.9 3.5 1.8-.3-1.8-3.8z"/>
<path class=U d="M556.7 201.8l1.8 5 1.9 .2-1.9-5.5z"/>
<path class=R d="M558.5 206.8l1.9 6.8 1.8 1-1.8-7.6z"/>
<path class=M d="M560.4 213.6l1.8 8.8 1.8 1.9-1.8-9.7z"/>
<path class=G d="M562.2 222.4l1.8 10.3 1.9 3.1-1.9-11.5z"/>
<path class=z d="M564 232.7l1.9 10.9 1.8 4.4-1.8-12.2z"/>
<path class=s d="M565.9 243.6l1.8 10.1 1.8 5.7-1.8-11.4z"/>
<path class=m d="M567.7 253.7l1.8 7.5 1.9 7.1-1.9-8.9z"/>
<path class=j d="M569.5 261.2l1.9 3.4 1.8 7.9-1.8-4.2z"/>
<path class=s d="M437.2 187.9l1.9-4.7 1.8 8.1-1.8 6.1z"/>
<path class=x d="M439.1 183.2l1.8-6.6 1.9 6.3-1.9 8.4z"/>
<path class=D d="M440.9 176.6l1.9-7.4 1.8 4.6-1.8 9.1z"/>
<path class=J d="M442.8 169.2l1.8-6.8 1.8 3-1.8 8.4z"/>
<path class=O d="M444.6 162.4l1.8-5.5 1.9 1.7-1.9 6.8z"/>
<path class=S d="M446.4 156.9l1.9-3.9 1.8 .7-1.8 4.9z"/>
<path class=V d="M448.3 153l1.8-2.3 1.8-.1-1.8 3.1z"/>
<path class=X d="M450.1 150.7l1.8-1.2 1.9-.4-1.9 1.5z"/>
<path class=Z d="M451.9 149.5l1.9-.3 1.8-.7-1.8 .6z"/>
<path class=Z d="M453.8 149.2l1.8-.6 1.9 0-1.9-.1z"/>
<path class=_ d="M455.6 148.6l1.9 .9 1.8-.9-1.8 0z"/>
<path class=fg d="M.1528 .2014H.3194"/><path class=ff d="M.1528 .2014H.3194"/>
<path class=_ d="M479.5 160.2l1.8 1.7 1.9-.8-1.9-1.8z"/>
<path class=Z d="M481.3 161.9l1.9 1.6 1.8-.6-1.8-1.8z"/>
<path class=Y d="M483.2 163.5l1.8 2.2 1.9-.4-1.9-2.4z"/>
<path class=X d="M485 165.7l1.9 3 1.8 .1-1.8-3.5z"/>
<path class=V d="M486.9 168.7l1.8 4.4 1.8 .7-1.8-5z"/>
<path class=S d="M488.7 173.1l1.8 5.8 1.9 1.7-1.9-6.8z"/>
<path class=O d="M490.5 178.9l1.9 7.4 1.8 3.1-1.8-8.8z"/>
<path class=I d="M492.4 186.3l1.8 8.7 1.8 4.7-1.8-10.3z"/>
<path class=C d="M494.2 195l1.8 9.1 1.9 6.5-1.9-10.9z"/>
<path class=x d="M496 204.1l1.9 8.3 1.8 8.3-1.8-10.1z"/>
<path class=s d="M497.9 212.4l1.8 6.2 1.9 9.6-1.9-7.5z"/>
<path class=p d="M499.7 218.6l1.9 2.8 1.8 10.2-1.8-3.4z"/>
<path class=p d="M501.6 221.4l1.8-1.1 1.8 9.7-1.8 1.6z"/>
<path class=s d="M503.4 220.3l1.8-4.3 1.9 8.2-1.9 5.8z"/>
<path class=x d="M505.2 216l1.9-6.6 1.8 6.6-1.8 8.2z"/>
<path class=C d="M507.1 209.4l1.8-7.3 1.8 4.8-1.8 9.1z"/>
<path class=I d="M508.9 202.1l1.8-6.9 1.9 3.1-1.9 8.6z"/>
<path class=O d="M510.7 195.2l1.9-5.6 1.8 1.7-1.8 7z"/>
<path class=S d="M512.6 189.6l1.8-4.1 1.9 .8-1.9 5z"/>
<path class=V d="M514.4 185.5l1.9-2.5 1.8 .1-1.8 3.2z"/>
<path class=X d="M516.3 183l1.8-1.3 1.8-.4-1.8 1.8z"/>
<path class=Y d="M518.1 181.7l1.8-.4 1.9-.6-1.9 .6z"/>
<path class=Z d="M519.9 181.3l1.9 .2 1.8-.7-1.8-.1z"/>
<path class=_ d="M521.8 181.5l1.8 .1 1.8-.9-1.8 .1z"/>
<path class=fg d="M.6528 .2014H.8333"/><path class=ff d="M.6528 .2014H.8333"/>
<path class=_ d="M547.5 193.2l1.8 1.7 1.9-.8-1.9-1.8z"/>
<path class=Z d="M549.3 194.9l1.9 1.6 1.8-.6-1.8-1.8z"/>
<path class=Y d="M551.2 196.5l1.8 2.2 1.8-.4-1.8-2.4z"/>
<path class=X d="M553 198.7l1.8 3 1.9 .1-1.9-3.5z"/>
<path class=V d="M554.8 201.7l1.9 4.3 1.8 .8-1.8-5z"/>
<path class=S d="M556.7 206l1.8 5.9 1.9 1.7-1.9-6.8z"/>
<path class=O d="M558.5 211.9l1.9 7.4 1.8 3.1-1.8-8.8z"/>
<path class=I d="M560.4 219.3l1.8 8.7 1.8 4.7-1.8-10.3z"/>
<path class=C d="M562.2 228l1.8 9.1 1.9 6.5-1.9-10.9z"/>
<path class=x d="M564 237.1l1.9 8.3 1.8 8.3-1.8-10.1z"/>
<path class=s d="M565.9 245.4l1.8 6.1 1.8 9.7-1.8-7.5z"/>
<path class=p d="M567.7 251.5l1.8 2.8 1.9 10.3-1.9-3.4z"/>
<path class=z d="M435.4 177.5l1.8-3.2 1.9 8.9-1.9 4.7z"/>
<path class=D d="M437.2 174.3l1.9-4.9 1.8 7.2-1.8 6.6z"/>
<path class=I d="M439.1 169.4l1.8-5.4 1.9 5.2-1.9 7.4z"/>
<path class=M d="M440.9 164l1.9-5 1.8 3.4-1.8 6.8z"/>
<path class=Q d="M442.8 159l1.8-4 1.8 1.9-1.8 5.5z"/>
<path class=U d="M444.6 155l1.8-2.8 1.9 .8-1.9 3.9z"/>
<path class=W d="M446.4 152.2l1.9-1.7 1.8 .2-1.8 2.3z"/>
<path class=Y d="M448.3 150.5l1.8-.7 1.8-.3-1.8 1.2z"/>
<path class=Z d="M450.1 149.8l1.8 0 1.9-.6-1.9 .3z"/>
<path class=_ d="M451.9 149.8l1.9-.3 1.8-.9-1.8 .6z"/>
<path class=fg d="M.1389 .1875H.3194"/><path class=ff d="M.1389 .1875H.3194"/>
<path class=_ d="M477.7 161.1l1.8 .9 1.8-.1-1.8-1.7z"/>
<path class=Z d="M479.5 162l1.8 2.1 1.9-.6-1.9-1.6z"/>
<path class=Z d="M481.3 164.1l1.9 1.9 1.8-.3-1.8-2.2z"/>
<path class=Y d="M483.2 166l1.8 2.6 1.9 .1-1.9-3z"/>
<path class=W d="M485 168.6l1.9 3.5 1.8 1-1.8-4.4z"/>
<path class=T d="M486.9 172.1l1.8 4.7 1.8 2.1-1.8-5.8z"/>
<path class=Q d="M488.7 176.8l1.8 6 1.9 3.5-1.9-7.4z"/>
<path class=M d="M490.5 182.8l1.9 6.8 1.8 5.4-1.8-8.7z"/>
<path class=H d="M492.4 189.6l1.8 7.2 1.8 7.3-1.8-9.1z"/>
<path class=C d="M494.2 196.8l1.8 6.5 1.9 9.1-1.9-8.3z"/>
<path class=z d="M496 203.3l1.9 4.8 1.8 10.5-1.8-6.2z"/>
<path class=x d="M497.9 208.1l1.8 2.3 1.9 11-1.9-2.8z"/>
<path class=x d="M499.7 210.4l1.9-.5 1.8 10.4-1.8 1.1z"/>
<path class=z d="M501.6 209.9l1.8-3 1.8 9.1-1.8 4.3z"/>
<path class=C d="M503.4 206.9l1.8-4.8 1.9 7.3-1.9 6.6z"/>
<path class=H d="M505.2 202.1l1.9-5.4 1.8 5.4-1.8 7.3z"/>
<path class=M d="M507.1 196.7l1.8-5 1.8 3.5-1.8 6.9z"/>
<path class=Q d="M508.9 191.7l1.8-4.2 1.9 2.1-1.9 5.6z"/>
<path class=T d="M510.7 187.5l1.9-2.9 1.8 .9-1.8 4.1z"/>
<path class=W d="M512.6 184.6l1.8-1.8 1.9 .2-1.9 2.5z"/>
<path class=Y d="M514.4 182.8l1.9-.8 1.8-.3-1.8 1.3z"/>
<path class=Z d="M516.3 182l1.8-.1 1.8-.6-1.8 .4z"/>
<path class=Z d="M518.1 181.9l1.8-.3 1.9-.1-1.9-.2z"/>
<path class=_ d="M519.9 181.6l1.9 .9 1.8-.9-1.8-.1z"/>
<path class=fg d="M.6528 .1875H.8333"/><path class=ff d="M.6528 .1875H.8333"/>
<path class=_ d="M545.7 194.1l1.8 .9 1.8-.1-1.8-1.7z"/>
<path class=Z d="M547.5 195l1.8 2.1 1.9-.6-1.9-1.6z"/>
<path class=Z d="M549.3 197.1l1.9 1.9 1.8-.3-1.8-2.2z"/>
<path class=Y d="M551.2 199l1.8 2.6 1.8 .1-1.8-3z"/>
<path class=W d="M553 201.6l1.8 3.5 1.9 .9-1.9-4.3z"/>
<path class=T d="M554.8 205.1l1.9 4.7 1.8 2.1-1.8-5.9z"/>
<path class=Q d="M556.7 209.8l1.8 5.9 1.9 3.6-1.9-7.4z"/>
<path class=M d="M558.5 215.7l1.9 6.9 1.8 5.4-1.8-8.7z"/>
<path class=H d="M560.4 222.6l1.8 7.2 1.8 7.3-1.8-9.1z"/>
<path class=C d="M562.2 229.8l1.8 6.5 1.9 9.1-1.9-8.3z"/>
<path class=z d="M564 236.3l1.9 4.8 1.8 10.4-1.8-6.1z"/>
<path class=x d="M565.9 241.1l1.8 2.3 1.8 10.9-1.8-2.8z"/>
<path class=G d="M433.6 167.9l1.8-2 1.8 8.4-1.8 3.2z"/>
<path class=J d="M435.4 165.9l1.8-3.2 1.9 6.7-1.9 4.9z"/>
<path class=M d="M437.2 162.7l1.9-3.6 1.8 4.9-1.8 5.4z"/>
<path class=Q d="M439.1 159.1l1.8-3.3 1.9 3.2-1.9 5z"/>
<path class=T d="M440.9 155.8l1.9-2.6 1.8 1.8-1.8 4z"/>
<path class=V d="M442.8 153.2l1.8-1.8 1.8 .8-1.8 2.8z"/>
<path class=X d="M444.6 151.4l1.8-.9 1.9 0-1.9 1.7z"/>
<path class=Y d="M446.4 150.5l1.9-.3 1.8-.4-1.8 .7z"/>
<path class=Z d="M448.3 150.2l1.8 .2 1.8-.6-1.8 0z"/>
<path class=_ d="M450.1 150.4l1.8 0 1.9-.9-1.9 .3z"/>
<path class=fg d="M.1389 .1736H.3333"/><path class=ff d="M.1389 .1736H.3333"/>
<path class=_ d="M477.7 162.9l1.8 1.8 1.8-.6-1.8-2.1z"/>
<path class=Z d="M479.5 164.7l1.8 1.6 1.9-.3-1.9-1.9z"/>
<path class=Y d="M481.3 166.3l1.9 2.1 1.8 .2-1.8-2.6z"/>
<path class=X d="M483.2 168.4l1.8 2.8 1.9 .9-1.9-3.5z"/>
<path class=V d="M485 171.2l1.9 3.7 1.8 1.9-1.8-4.7z"/>
<path class=T d="M486.9 174.9l1.8 4.5 1.8 3.4-1.8-6z"/>
<path class=P d="M488.7 179.4l1.8 5.1 1.9 5.1-1.9-6.8z"/>
<path class=M d="M490.5 184.5l1.9 5.4 1.8 6.9-1.8-7.2z"/>
<path class=I d="M492.4 189.9l1.8 4.9 1.8 8.5-1.8-6.5z"/>
<path class=G d="M494.2 194.8l1.8 3.6 1.9 9.7-1.9-4.8z"/>
<path class=E d="M496 198.4l1.9 1.9 1.8 10.1-1.8-2.3z"/>
<path class=E d="M497.9 200.3l1.8-.1 1.9 9.7-1.9 .5z"/>
<path class=G d="M499.7 200.2l1.9-1.9 1.8 8.6-1.8 3z"/>
<path class=I d="M501.6 198.3l1.8-3.1 1.8 6.9-1.8 4.8z"/>
<path class=M d="M503.4 195.2l1.8-3.5 1.9 5-1.9 5.4z"/>
<path class=P d="M505.2 191.7l1.9-3.4 1.8 3.4-1.8 5z"/>
<path class=T d="M507.1 188.3l1.8-2.7 1.8 1.9-1.8 4.2z"/>
<path class=V d="M508.9 185.6l1.8-1.9 1.9 .9-1.9 2.9z"/>
<path class=X d="M510.7 183.7l1.9-1 1.8 .1-1.8 1.8z"/>
<path class=Y d="M512.6 182.7l1.8-.3 1.9-.4-1.9 .8z"/>
<path class=Z d="M514.4 182.4l1.9 .1 1.8-.6-1.8 .1z"/>
<path class=_ d="M516.3 182.5l1.8 0 1.8-.9-1.8 .3z"/>
<path class=fg d="M.6389 .1736H.8472"/><path class=ff d="M.6389 .1736H.8472"/>
<path class=_ d="M545.7 195.9l1.8 1.8 1.8-.6-1.8-2.1z"/>
<path class=Z d="M547.5 197.7l1.8 1.6 1.9-.3-1.9-1.9z"/>
<path class=Y d="M549.3 199.3l1.9 2.1 1.8 .2-1.8-2.6z"/>
<path class=X d="M551.2 201.4l1.8 2.8 1.8 .9-1.8-3.5z"/>
<path class=V d="M553 204.2l1.8 3.7 1.9 1.9-1.9-4.7z"/>
<path class=T d="M554.8 207.9l1.9 4.5 1.8 3.3-1.8-5.9z"/>
<path class=P d="M556.7 212.4l1.8 5.1 1.9 5.1-1.9-6.9z"/>
<path class=M d="M558.5 217.5l1.9 5.4 1.8 6.9-1.8-7.2z"/>
<path class=I d="M560.4 222.9l1.8 4.9 1.8 8.5-1.8-6.5z"/>
<path class=G d="M562.2 227.8l1.8 3.6 1.9 9.7-1.9-4.8z"/>
<path class=E d="M564 231.4l1.9 1.9 1.8 10.1-1.8-2.3z"/>
<path class=M d="M431.7 160.1l1.9-1.1 1.8 6.9-1.8 2z"/>
<path class=O d="M433.6 159l1.8-1.8 1.8 5.5-1.8 3.2z"/>
<path class=Q d="M435.4 157.2l1.8-2.1 1.9 4-1.9 3.6z"/>
<path class=T d="M437.2 155.1l1.9-1.9 1.8 2.6-1.8 3.3z"/>
<path class=V d="M439.1 153.2l1.8-1.4 1.9 1.4-1.9 2.6z"/>
<path class=X d="M440.9 151.8l1.9-.9 1.8 .5-1.8 1.8z"/>
<path class=Y d="M442.8 150.9l1.8-.4 1.8 0-1.8 .9z"/>
<path class=Z d="M444.6 150.5l1.8 .1 1.9-.4-1.9 .3z"/>
<path class=Z d="M446.4 150.6l1.9-.2 1.8 0-1.8-.2z"/>
<path class=_ d="M448.3 150.4l1.8 .9 1.8-.9-1.8 0z"/>
<path class=fg d="M.1389 .1597H.3333"/><path class=ff d="M.1389 .1597H.3333"/>
<path class=_ d="M475.8 163.8l1.9 .9 1.8 0-1.8-1.8z"/>
<path class=Z d="M477.7 164.7l1.8 2 1.8-.4-1.8-1.6z"/>
<path class=Z d="M479.5 166.7l1.8 1.8 1.9-.1-1.9-2.1z"/>
<path class=Y d="M481.3 168.5l1.9 2.1 1.8 .6-1.8-2.8z"/>
<path class=X d="M483.2 170.6l1.8 2.8 1.9 1.5-1.9-3.7z"/>
<path class=V d="M485 173.4l1.9 3.3 1.8 2.7-1.8-4.5z"/>
<path class=T d="M486.9 176.7l1.8 3.7 1.8 4.1-1.8-5.1z"/>
<path class=Q d="M488.7 180.4l1.8 3.8 1.9 5.7-1.9-5.4z"/>
<path class=O d="M490.5 184.2l1.9 3.6 1.8 7-1.8-4.9z"/>
<path class=M d="M492.4 187.8l1.8 2.7 1.8 7.9-1.8-3.6z"/>
<path class=L d="M494.2 190.5l1.8 1.6 1.9 8.2-1.9-1.9z"/>
<path class=L d="M496 192.1l1.9 .2 1.8 7.9-1.8 .1z"/>
<path class=M d="M497.9 192.3l1.8-1 1.9 7-1.9 1.9z"/>
<path class=O d="M499.7 191.3l1.9-1.7 1.8 5.6-1.8 3.1z"/>
<path class=Q d="M501.6 189.6l1.8-2.1 1.8 4.2-1.8 3.5z"/>
<path class=T d="M503.4 187.5l1.8-1.9 1.9 2.7-1.9 3.4z"/>
<path class=V d="M505.2 185.6l1.9-1.5 1.8 1.5-1.8 2.7z"/>
<path class=X d="M507.1 184.1l1.8-1 1.8 .6-1.8 1.9z"/>
<path class=Y d="M508.9 183.1l1.8-.4 1.9 0-1.9 1z"/>
<path class=Z d="M510.7 182.7l1.9 .1 1.8-.4-1.8 .3z"/>
<path class=Z d="M512.6 182.8l1.8-.3 1.9 0-1.9-.1z"/>
<path class=_ d="M514.4 182.5l1.9 .9 1.8-.9-1.8 0z"/>
<path class=fg d="M.6389 .1597H.8472"/><path class=ff d="M.6389 .1597H.8472"/>
<path class=_ d="M543.8 196.8l1.9 .9 1.8 0-1.8-1.8z"/>
<path class=Z d="M545.7 197.7l1.8 2 1.8-.4-1.8-1.6z"/>
<path class=Z d="M547.5 199.7l1.8 1.8 1.9-.1-1.9-2.1z"/>
<path class=Y d="M549.3 201.5l1.9 2.1 1.8 .6-1.8-2.8z"/>
<path class=X d="M551.2 203.6l1.8 2.8 1.8 1.5-1.8-3.7z"/>
<path class=V d="M553 206.4l1.8 3.3 1.9 2.7-1.9-4.5z"/>
<path class=T d="M554.8 209.7l1.9 3.7 1.8 4.1-1.8-5.1z"/>
<path class=Q d="M556.7 213.4l1.8 3.8 1.9 5.7-1.9-5.4z"/>
<path class=O d="M558.5 217.2l1.9 3.6 1.8 7-1.8-4.9z"/>
<path class=M d="M560.4 220.8l1.8 2.7 1.8 7.9-1.8-3.6z"/>
<path class=L d="M562.2 223.5l1.8 1.5 1.9 8.3-1.9-1.9z"/>
<path class=R d="M429.9 154.3l1.8-.3 1.9 5-1.9 1.1z"/>
<path class=S d="M431.7 154l1.9-.7 1.8 3.9-1.8 1.8z"/>
<path class=U d="M433.6 153.3l1.8-1 1.8 2.8-1.8 2.1z"/>
<path class=V d="M435.4 152.3l1.8-.8 1.9 1.7-1.9 1.9z"/>
<path class=X d="M437.2 151.5l1.9-.6 1.8 .9-1.8 1.4z"/>
<path class=Y d="M439.1 150.9l1.8-.2 1.9 .2-1.9 .9z"/>
<path class=Z d="M440.9 150.7l1.9 .1 1.8-.3-1.8 .4z"/>
<path class=Z d="M442.8 150.8l1.8-.4 1.8 .2-1.8-.1z"/>
<path class=_ d="M444.6 150.4l1.8 .9 1.9-.9-1.9 .2z"/>
<path class=fg d="M.125 .1458H.3472"/><path class=ff d="M.125 .1458H.3472"/>
<path class=_ d="M475.8 165.6l1.9 1.7 1.8-.6-1.8-2z"/>
<path class=Z d="M477.7 167.3l1.8 1.4 1.8-.2-1.8-1.8z"/>
<path class=Z d="M479.5 168.7l1.8 1.7 1.9 .2-1.9-2.1z"/>
<path class=Y d="M481.3 170.4l1.9 2 1.8 1-1.8-2.8z"/>
<path class=X d="M483.2 172.4l1.8 2.4 1.9 1.9-1.9-3.3z"/>
<path class=V d="M485 174.8l1.9 2.7 1.8 2.9-1.8-3.7z"/>
<path class=T d="M486.9 177.5l1.8 2.7 1.8 4-1.8-3.8z"/>
<path class=S d="M488.7 180.2l1.8 2.5 1.9 5.1-1.9-3.6z"/>
<path class=R d="M490.5 182.7l1.9 2 1.8 5.8-1.8-2.7z"/>
<path class=Q d="M492.4 184.7l1.8 1.3 1.8 6.1-1.8-1.6z"/>
<path class=Q d="M494.2 186l1.8 .5 1.9 5.8-1.9-.2z"/>
<path class=R d="M496 186.5l1.9-.2 1.8 5-1.8 1z"/>
<path class=S d="M497.9 186.3l1.8-.8 1.9 4.1-1.9 1.7z"/>
<path class=T d="M499.7 185.5l1.9-.9 1.8 2.9-1.8 2.1z"/>
<path class=V d="M501.6 184.6l1.8-.9 1.8 1.9-1.8 1.9z"/>
<path class=X d="M503.4 183.7l1.8-.6 1.9 1-1.9 1.5z"/>
<path class=Y d="M505.2 183.1l1.9-.2 1.8 .2-1.8 1z"/>
<path class=Z d="M507.1 182.9l1.8 0 1.8-.2-1.8 .4z"/>
<path class=Z d="M508.9 182.9l1.8 .4 1.9-.5-1.9-.1z"/>
<path class=_ d="M510.7 183.3l1.9 .1 1.8-.9-1.8 .3z"/>
<path class=fg d="M.625 .1458H.8611"/><path class=ff d="M.625 .1458H.8611"/>
<path class=_ d="M543.8 198.5l1.9 1.8 1.8-.6-1.8-2z"/>
<path class=Z d="M545.7 200.3l1.8 1.4 1.8-.2-1.8-1.8z"/>
<path class=Z d="M547.5 201.7l1.8 1.7 1.9 .2-1.9-2.1z"/>
<path class=Y d="M549.3 203.4l1.9 2 1.8 1-1.8-2.8z"/>
<path class=X d="M551.2 205.4l1.8 2.4 1.8 1.9-1.8-3.3z"/>
<path class=V d="M553 207.8l1.8 2.7 1.9 2.9-1.9-3.7z"/>
<path class=T d="M554.8 210.5l1.9 2.7 1.8 4-1.8-3.8z"/>
<path class=S d="M556.7 213.2l1.8 2.5 1.9 5.1-1.9-3.6z"/>
<path class=R d="M558.5 215.7l1.9 2 1.8 5.8-1.8-2.7z"/>
<path class=Q d="M560.4 217.7l1.8 1.3 1.8 6-1.8-1.5z"/>
<path class=U d="M428 150.7l1.9 .2 1.8 3.1-1.8 .3z"/>
<path class=V d="M429.9 150.9l1.8-.1 1.9 2.5-1.9 .7z"/>
<path class=W d="M431.7 150.8l1.9-.2 1.8 1.7-1.8 1z"/>
<path class=X d="M433.6 150.6l1.8-.1 1.8 1-1.8 .8z"/>
<path class=Y d="M435.4 150.5l1.8 .1 1.9 .3-1.9 .6z"/>
<path class=Z d="M437.2 150.6l1.9 .2 1.8-.1-1.8 .2z"/>
<path class=Z d="M439.1 150.8l1.8 .4 1.9-.4-1.9-.1z"/>
<path class=_ d="M440.9 151.2l1.9 .1 1.8-.9-1.8 .4z"/>
<path class=fg d="M.1111 .1319H.3472"/><path class=ff d="M.1111 .1319H.3472"/>
<path class=_ d="M474 166.4l1.8 .9 1.9 0-1.9-1.7z"/>
<path class=Z d="M475.8 167.3l1.9 1.8 1.8-.4-1.8-1.4z"/>
<path class=Z d="M477.7 169.1l1.8 1.4 1.8-.1-1.8-1.7z"/>
<path class=Z d="M479.5 170.5l1.8 1.5 1.9 .4-1.9-2z"/>
<path class=Y d="M481.3 172l1.9 1.8 1.8 1-1.8-2.4z"/>
<path class=X d="M483.2 173.8l1.8 1.9 1.9 1.8-1.9-2.7z"/>
<path class=W d="M485 175.7l1.8 2 1.9 2.5-1.8-2.7z"/>
<path class=V d="M486.8 177.7l1.9 1.8 1.8 3.2-1.8-2.5z"/>
<path class=U d="M488.7 179.5l1.8 1.5 1.9 3.7-1.9-2z"/>
<path class=U d="M490.5 181l1.9 1.2 1.8 3.8-1.8-1.3z"/>
<path class=U d="M492.4 182.2l1.8 .6 1.8 3.7-1.8-.5z"/>
<path class=U d="M494.2 182.8l1.8 .3 1.9 3.2-1.9 .2z"/>
<path class=V d="M496 183.1l1.9-.1 1.8 2.5-1.8 .8z"/>
<path class=W d="M497.9 183l1.8-.2 1.9 1.8-1.9 .9z"/>
<path class=X d="M499.7 182.8l1.9-.1 1.8 1-1.8 .9z"/>
<path class=Y d="M501.6 182.7l1.8 0 1.8 .4-1.8 .6z"/>
<path class=Z d="M503.4 182.7l1.8 .2 1.9 0-1.9 .2z"/>
<path class=Z d="M505.2 182.9l1.9 .5 1.8-.5-1.8 0z"/>
<path class=Z d="M507.1 183.4l1.8 0 1.8-.1-1.8-.4z"/>
<path class=_ d="M508.9 183.4l1.8 .9 1.9-.9-1.9-.1z"/>
<path class=fg d="M.625 .1319H.8611"/><path class=ff d="M.625 .1319H.8611"/>
<path class=_ d="M542 199.4l1.8 .9 1.9 0-1.9-1.8z"/>
<path class=Z d="M543.8 200.3l1.8 1.8 1.9-.4-1.8-1.4z"/>
<path class=Z d="M545.6 202.1l1.9 1.4 1.8-.1-1.8-1.7z"/>
<path class=Z d="M547.5 203.5l1.8 1.5 1.9 .4-1.9-2z"/>
<path class=Y d="M549.3 205l1.9 1.8 1.8 1-1.8-2.4z"/>
<path class=X d="M551.2 206.8l1.8 1.9 1.8 1.8-1.8-2.7z"/>
<path class=W d="M553 208.7l1.8 2 1.9 2.5-1.9-2.7z"/>
<path class=V d="M554.8 210.7l1.9 1.8 1.8 3.2-1.8-2.5z"/>
<path class=U d="M556.7 212.5l1.8 1.5 1.9 3.7-1.9-2z"/>
<path class=U d="M558.5 214l1.8 1.1 1.9 3.9-1.8-1.3z"/>
<path class=X d="M426.2 148.7l1.8 .5 1.9 1.7-1.9-.2z"/>
<path class=X d="M428 149.2l1.9 .4 1.8 1.2-1.8 .1z"/>
<path class=Y d="M429.9 149.6l1.8 .3 1.9 .7-1.9 .2z"/>
<path class=Y d="M431.7 149.9l1.9 .3 1.8 .3-1.8 .1z"/>
<path class=Z d="M433.6 150.2l1.8 .5 1.8-.1-1.8-.1z"/>
<path class=Z d="M435.4 150.7l1.8-.3 1.9 .4-1.9-.2z"/>
<path class=_ d="M437.2 150.4l1.9 .9 1.8-.1-1.8-.4z"/>
<path class=_ d="M439.1 151.3l1.8 .9 1.9-.9-1.9-.1z"/>
<path class=fg d="M.1111 .1181H.3611"/><path class=ff d="M.1111 .1181H.3611"/>
<path class=_ d="M474 168.2l1.8 .9 1.9 0-1.9-1.8z"/>
<path class=Z d="M475.8 169.1l1.9 1.7 1.8-.3-1.8-1.4z"/>
<path class=Z d="M477.7 170.8l1.8 1.3 1.8-.1-1.8-1.5z"/>
<path class=Z d="M479.5 172.1l1.8 1.4 1.9 .3-1.9-1.8z"/>
<path class=Y d="M481.3 173.5l1.9 1.4 1.8 .8-1.8-1.9z"/>
<path class=Y d="M483.2 174.9l1.8 1.5 1.8 1.3-1.8-2z"/>
<path class=X d="M485 176.4l1.8 1.4 1.9 1.7-1.9-1.8z"/>
<path class=X d="M486.8 177.8l1.9 1.2 1.8 2-1.8-1.5z"/>
<path class=X d="M488.7 179l1.8 1 1.9 2.2-1.9-1.2z"/>
<path class=X d="M490.5 180l1.9 .8 1.8 2-1.8-.6z"/>
<path class=X d="M492.4 180.8l1.8 .5 1.8 1.8-1.8-.3z"/>
<path class=X d="M494.2 181.3l1.8 .4 1.9 1.3-1.9 .1z"/>
<path class=Y d="M496 181.7l1.9 .3 1.8 .8-1.8 .2z"/>
<path class=Y d="M497.9 182l1.8 .4 1.9 .3-1.9 .1z"/>
<path class=Z d="M499.7 182.4l1.8 .4 1.9-.1-1.8 0z"/>
<path class=Z d="M501.5 182.8l1.9 .5 1.8-.4-1.8-.2z"/>
<path class=Z d="M503.4 183.3l1.8 .1 1.9 0-1.9-.5z"/>
<path class=_ d="M505.2 183.4l1.9 .9 1.8-.9-1.8 0z"/>
<path class=fg d="M.6111 .1181H.875"/><path class=ff d="M.6111 .1181H.875"/>
<path class=_ d="M542 201.2l1.8 .9 1.8 0-1.8-1.8z"/>
<path class=Z d="M543.8 202.1l1.8 1.7 1.9-.3-1.9-1.4z"/>
<path class=Z d="M545.6 203.8l1.9 1.3 1.8-.1-1.8-1.5z"/>
<path class=Z d="M547.5 205.1l1.8 1.4 1.9 .3-1.9-1.8z"/>
<path class=Y d="M549.3 206.5l1.9 1.4 1.8 .8-1.8-1.9z"/>
<path class=Y d="M551.2 207.9l1.8 1.5 1.8 1.3-1.8-2z"/>
<path class=X d="M553 209.4l1.8 1.4 1.9 1.7-1.9-1.8z"/>
<path class=X d="M554.8 210.8l1.9 1.2 1.8 2-1.8-1.5z"/>
<path class=X d="M556.7 212l1.8 1 1.8 2.1-1.8-1.1z"/>
<path class=Y d="M424.4 147.9l1.8 .7 1.8 .6-1.8-.5z"/>
<path class=Y d="M426.2 148.6l1.8 .6 1.9 .4-1.9-.4z"/>
<path class=Z d="M428 149.2l1.9 .6 1.8 .1-1.8-.3z"/>
<path class=Z d="M429.9 149.8l1.8 .6 1.9-.2-1.9-.3z"/>
<path class=Z d="M431.7 150.4l1.9 0 1.8 .3-1.8-.5z"/>
<path class=_ d="M433.6 150.4l1.8 .9 1.8-.9-1.8 .3z"/>
<path class=fg d="M.0833 .1042H.375"/><path class=ff d="M.0833 .1042H.375"/>
<path class=_ d="M474 170l1.8 .9 1.9-.1-1.9-1.7z"/>
<path class=_ d="M475.8 170.9l1.9 .9 1.8 .3-1.8-1.3z"/>
<path class=Z d="M477.7 171.8l1.8 1.8 1.8-.1-1.8-1.4z"/>
<path class=Z d="M479.5 173.6l1.8 1.2 1.9 .1-1.9-1.4z"/>
<path class=Z d="M481.3 174.8l1.9 1.2 1.8 .4-1.8-1.5z"/>
<path class=Y d="M483.2 176l1.8 1.1 1.8 .7-1.8-1.4z"/>
<path class=Y d="M485 177.1l1.8 1.1 1.9 .8-1.9-1.2z"/>
<path class=Y d="M486.8 178.2l1.9 1 1.8 .8-1.8-1z"/>
<path class=Y d="M488.7 179.2l1.8 .8 1.9 .8-1.9-.8z"/>
<path class=Y d="M490.5 180l1.9 .7 1.8 .6-1.8-.5z"/>
<path class=Y d="M492.4 180.7l1.8 .6 1.8 .4-1.8-.4z"/>
<path class=Z d="M494.2 181.3l1.8 .6 1.9 .1-1.9-.3z"/>
<path class=Z d="M496 181.9l1.9 .6 1.8-.1-1.8-.4z"/>
<path class=Z d="M497.9 182.5l1.8 0 1.8 .3-1.8-.4z"/>
<path class=_ d="M499.7 182.5l1.8 .9 1.9-.1-1.9-.5z"/>
<path class=_ d="M501.5 183.4l1.9 .9 1.8-.9-1.8-.1z"/>
<path class=fg d="M.5972 .1042H.8889"/><path class=ff d="M.5972 .1042H.8889"/>
<path class=_ d="M542 203l1.8 .9 1.8-.1-1.8-1.7z"/>
<path class=_ d="M543.8 203.9l1.8 .9 1.9 .3-1.9-1.3z"/>
<path class=Z d="M545.6 204.8l1.9 1.8 1.8-.1-1.8-1.4z"/>
<path class=Z d="M547.5 206.6l1.8 1.2 1.9 .1-1.9-1.4z"/>
<path class=Z d="M549.3 207.8l1.9 1.2 1.8 .4-1.8-1.5z"/>
<path class=Y d="M551.2 209l1.8 1.1 1.8 .7-1.8-1.4z"/>
<path class=Y d="M553 210.1l1.8 1.1 1.9 .8-1.9-1.2z"/>
<path class=Y d="M554.8 211.2l1.9 1 1.8 .8-1.8-1z"/>
<path class=Z d="M422.5 147.8l1.9 .9 1.8-.1-1.8-.7z"/>
<path class=Z d="M424.4 148.7l1.8-.1 1.8 .6-1.8-.6z"/>
<path class=_ d="M426.2 148.6l1.8 .9 1.9 .3-1.9-.6z"/>
<path class=_ d="M428 149.5l1.9 .9 1.8 0-1.8-.6z"/>
<path class=_ d="M429.9 150.4l1.8 .9 1.9-.9-1.9 0z"/>
<path class=fg d="M.0694 .0903H.4028"/><path class=ff d="M.0694 .0903H.4028"/>
<path class=_ d="M475.8 172.7l1.9 .9 1.8 0-1.8-1.8z"/>
<path class=_ d="M477.7 173.6l1.8 .9 1.8 .3-1.8-1.2z"/>
<path class=Z d="M479.5 174.5l1.8 1.7 1.9-.2-1.9-1.2z"/>
<path class=Z d="M481.3 176.2l1.9 1 1.8-.1-1.8-1.1z"/>
<path class=Z d="M483.2 177.2l1.8 1 1.8 0-1.8-1.1z"/>
<path class=Z d="M485 178.2l1.8 .9 1.9 .1-1.9-1z"/>
<path class=Z d="M486.8 179.1l1.9 .9 1.8 0-1.8-.8z"/>
<path class=Z d="M488.7 180l1.8 .8 1.9-.1-1.9-.7z"/>
<path class=Z d="M490.5 180.8l1.9 .7 1.8-.2-1.8-.6z"/>
<path class=Z d="M492.4 181.5l1.8 .1 1.8 .3-1.8-.6z"/>
<path class=_ d="M494.2 181.6l1.8 .9 1.9 0-1.9-.6z"/>
<path class=_ d="M496 182.5l1.9 .9 1.8-.9-1.8 0z"/>
<path class=fg d="M.5694 .0903H.9167"/><path class=ff d="M.5694 .0903H.9167"/>
<path class=_ d="M543.8 205.7l1.8 .9 1.9 0-1.9-1.8z"/>
<path class=_ d="M545.6 206.6l1.9 .9 1.8 .3-1.8-1.2z"/>
<path class=Z d="M547.5 207.5l1.8 1.7 1.9-.2-1.9-1.2z"/>
<path class=Z d="M549.3 209.2l1.9 1 1.8-.1-1.8-1.1z"/>
<path class=Z d="M551.2 210.2l1.8 1 1.8 0-1.8-1.1z"/>
<path class=Z d="M553 211.2l1.8 .9 1.9 .1-1.9-1z"/>
<path class=_ d="M420.7 147.7l1.8 .9 1.9 .1-1.9-.9z"/>
<path class=_ d="M422.5 148.6l1.9 .9 1.8-.9-1.8 .1z"/>
<path class=fg d="M.0278 .0764H.4306"/><path class=ff d="M.0278 .0764H.4306"/>
<path class=_ d="M477.7 175.4l1.8 .9 1.8-.1-1.8-1.7z"/>
<path class=_ d="M479.5 176.3l1.8 .9 1.9 0-1.9-1z"/>
<path class=_ d="M481.3 177.2l1.9 .8 1.8 .2-1.8-1z"/>
<path class=_ d="M483.2 178l1.8 .9 1.8 .2-1.8-.9z"/>
<path class=_ d="M485 178.9l1.8 .9 1.9 .2-1.9-.9z"/>
<path class=_ d="M486.8 179.8l1.9 .9 1.8 .1-1.8-.8z"/>
<path class=_ d="M488.7 180.7l1.8 .9 1.9-.1-1.9-.7z"/>
<path class=_ d="M490.5 181.6l1.9 .9 1.8-.9-1.8-.1z"/>
<path class=fg d="M.5417 .0764H.9444"/><path class=ff d="M.5417 .0764H.9444"/>
<path class=_ d="M545.6 208.4l1.9 .9 1.8-.1-1.8-1.7z"/>
<path class=_ d="M547.5 209.3l1.8 .8 1.9 .1-1.9-1z"/>
<path class=_ d="M549.3 210.1l1.9 .9 1.8 .2-1.8-1z"/>
<path class=_ d="M551.2 211l1.8 .9 1.8 .2-1.8-.9z"/>
<path class=fg d="M0 .0625H1"/><path class=ff d="M0 .0625H1"/>
<path class=fg d="M0 .0486H1"/><path class=ff d="M0 .0486H1"/>
<path class=fg d="M0 .0347H1"/><path class=ff d="M0 .0347H1"/>
<path class=fg d="M0 .0208H1"/><path class=ff d="M0 .0208H1"/>
<path class=fg d="M0 .0069H1"/><path class=ff d="M0 .0069H1"/>
</g>
<g class="t">
<rect x="53.4" y="331" width="264.4" height="19.3" fill="url(#ga)" stroke="#333" stroke-width=".7"/>
<text x="80.3" y="363.9" text-anchor="middle"><tspan textLength="10.3" lengthAdjust="spacingAndGlyphs">−</tspan>4</text>
<text x="133.1" y="363.9" text-anchor="middle"><tspan textLength="10.3" lengthAdjust="spacingAndGlyphs">−</tspan>2</text>
<text x="185.9" y="363.9" text-anchor="middle">0</text>
<text x="238.6" y="363.9" text-anchor="middle">2</text>
<text x="291.4" y="363.9" text-anchor="middle">4</text>
<path d="M80.3 331v5.5M80.3 350.3v-5.5M133.1 331v5.5M133.1 350.3v-5.5M185.9 331v5.5M185.9 350.3v-5.5M238.6 331v5.5M238.6 350.3v-5.5M291.4 331v5.5M291.4 350.3v-5.5" stroke="#445" stroke-width=".6" stroke-opacity=".55"/>
<rect x="411.5" y="331" width="264.4" height="19.3" fill="url(#gb2)" stroke="#333" stroke-width=".7"/>
<text x="429.9" y="363.9" text-anchor="middle"><tspan textLength="10.3" lengthAdjust="spacingAndGlyphs">−</tspan>1.4</text>
<text x="465.1" y="363.9" text-anchor="middle"><tspan textLength="10.3" lengthAdjust="spacingAndGlyphs">−</tspan>1.2</text>
<text x="500.2" y="363.9" text-anchor="middle"><tspan textLength="10.3" lengthAdjust="spacingAndGlyphs">−</tspan>1</text>
<text x="535.4" y="363.9" text-anchor="middle"><tspan textLength="10.3" lengthAdjust="spacingAndGlyphs">−</tspan>0.8</text>
<text x="570.5" y="363.9" text-anchor="middle"><tspan textLength="10.3" lengthAdjust="spacingAndGlyphs">−</tspan>0.6</text>
<text x="605.6" y="363.9" text-anchor="middle"><tspan textLength="10.3" lengthAdjust="spacingAndGlyphs">−</tspan>0.4</text>
<text x="640.8" y="363.9" text-anchor="middle"><tspan textLength="10.3" lengthAdjust="spacingAndGlyphs">−</tspan>0.2</text>
<text x="675.9" y="363.9" text-anchor="middle">0</text>
<path d="M429.9 331v5.5M429.9 350.3v-5.5M465.1 331v5.5M465.1 350.3v-5.5M500.2 331v5.5M500.2 350.3v-5.5M535.4 331v5.5M535.4 350.3v-5.5M570.5 331v5.5M570.5 350.3v-5.5M605.6 331v5.5M605.6 350.3v-5.5M640.8 331v5.5M640.8 350.3v-5.5M675.9 331v5.5M675.9 350.3v-5.5" stroke="#445" stroke-width=".6" stroke-opacity=".55"/>
<text x="76.5" y="267.6" text-anchor="middle">0.5</text>
<text x="111.6" y="281.7" text-anchor="middle">1</text>
<text x="144.3" y="299.9" text-anchor="middle">1.5</text>
<text x="179.6" y="314.8" text-anchor="middle">2</text>
<text x="224.2" y="301.3" text-anchor="middle">0.5</text>
<text x="256.7" y="282.7" text-anchor="middle">1</text>
<text x="291.8" y="269" text-anchor="middle">1.5</text>
<text x="324.2" y="250.2" text-anchor="middle">2</text>
<text x="80.9" y="311.8" textLength="25.7" class="l"><tspan class="i">θ</tspan><tspan dy="2.2" font-size="9.6">1</tspan><tspan dy="-2.2">/</tspan><tspan class="i">π</tspan></text>
<text x="263.1" y="311.7" textLength="26.4" class="l"><tspan class="i">θ</tspan><tspan dy="2.2" font-size="9.6">2</tspan><tspan dy="-2.2">/</tspan><tspan class="i">π</tspan></text>
<text x="434.6" y="267.6" text-anchor="middle">0.5</text>
<text x="469.7" y="281.7" text-anchor="middle">1</text>
<text x="502.4" y="299.9" text-anchor="middle">1.5</text>
<text x="537.7" y="314.8" text-anchor="middle">2</text>
<text x="582.3" y="301.3" text-anchor="middle">0.5</text>
<text x="614.8" y="282.7" text-anchor="middle">1</text>
<text x="649.9" y="269" text-anchor="middle">1.5</text>
<text x="682.3" y="250.2" text-anchor="middle">2</text>
<text x="439" y="311.8" textLength="25.7" class="l"><tspan class="i">θ</tspan><tspan dy="2.2" font-size="9.6">1</tspan><tspan dy="-2.2">/</tspan><tspan class="i">π</tspan></text>
<text x="621.2" y="311.7" textLength="26.4" class="l"><tspan class="i">θ</tspan><tspan dy="2.2" font-size="9.6">2</tspan><tspan dy="-2.2">/</tspan><tspan class="i">π</tspan></text>
<text x="48.3" y="157.1" text-anchor="end">5</text>
<text x="48.3" y="194.9" text-anchor="end">0</text>
<text x="48.3" y="233.3" text-anchor="end"><tspan textLength="10.3" lengthAdjust="spacingAndGlyphs">−</tspan>5</text>
<text x="406.3" y="157.8" text-anchor="end">0</text>
<text x="406.3" y="207.5" text-anchor="end"><tspan textLength="10.3" lengthAdjust="spacingAndGlyphs">−</tspan>1</text>
<text x="25.8" y="132.2" textLength="30.2">·10<tspan dy="-4.9" font-size="9.9"><tspan textLength="7.5" lengthAdjust="spacingAndGlyphs">−</tspan>3</tspan></text>
<text x="383.6" y="132" textLength="30.6">·10<tspan dy="-4.9" font-size="9.9"><tspan textLength="7.5" lengthAdjust="spacingAndGlyphs">−</tspan>2</tspan></text>
<text x="276.4" y="387.6" textLength="29.8">·10<tspan dy="-4.9" font-size="9.9"><tspan textLength="7.5" lengthAdjust="spacingAndGlyphs">−</tspan>3</tspan></text>
<text x="634.5" y="387.6" textLength="29.8">·10<tspan dy="-4.9" font-size="9.9"><tspan textLength="7.5" lengthAdjust="spacingAndGlyphs">−</tspan>2</tspan></text>
<text class="l" transform="translate(19 190.6) rotate(-90)" x="-26.3" textLength="52.4">Φ/(<tspan class="i">k</tspan><tspan dy="2.4" font-size="9.8" class="i">B</tspan><tspan dy="-2.4" class="i">T</tspan>)</text>
<text class="l" transform="translate(377.2 190.6) rotate(-90)" x="-26.3" textLength="52.4">Φ/(<tspan class="i">k</tspan><tspan dy="2.4" font-size="9.8" class="i">B</tspan><tspan dy="-2.4" class="i">T</tspan>)</text>
</g>
<g class="p">
<circle cx="152.4" cy="581.2"/>
<circle cx="230.1" cy="508"/>
<circle cx="165.7" cy="570.3"/>
<circle cx="130.8" cy="596.8"/>
<circle cx="170.2" cy="566.6"/>
<circle cx="238.4" cy="516.1"/>
<circle cx="125.4" cy="596.8"/>
<circle cx="179.9" cy="555.7"/>
<circle cx="204.7" cy="540"/>
<circle cx="203.1" cy="539.1"/>
<circle cx="210.3" cy="531.5"/>
<circle cx="175.1" cy="562.2"/>
<circle cx="191.9" cy="545"/>
<circle cx="169.8" cy="567.1"/>
<circle cx="201.4" cy="541.8"/>
<circle cx="204.1" cy="541.4"/>
<circle cx="186.1" cy="551.5"/>
<circle cx="150.5" cy="575.6"/>
<circle cx="165.2" cy="569.3"/>
<circle cx="175.7" cy="559.9"/>
<circle cx="165.6" cy="567"/>
<circle cx="229.6" cy="523.2"/>
<circle cx="170.9" cy="564.8"/>
<circle cx="180.8" cy="555.3"/>
<circle cx="134.1" cy="584.3"/>
<circle cx="115.1" cy="606.1"/>
<circle cx="181.4" cy="555"/>
<circle cx="190.4" cy="550.1"/>
<circle cx="123.6" cy="595.5"/>
<circle cx="174.6" cy="560.9"/>
<circle cx="188.4" cy="549.9"/>
<circle cx="184.2" cy="553.4"/>
<circle cx="132.1" cy="590.2"/>
<circle cx="232" cy="511.2"/>
<circle cx="210.4" cy="536.7"/>
<circle cx="176.9" cy="557.7"/>
<circle cx="164" cy="563.7"/>
<circle cx="184.5" cy="552.5"/>
<circle cx="227.4" cy="514.1"/>
<circle cx="185.2" cy="551.6"/>
<circle cx="121.6" cy="596.4"/>
<circle cx="181.4" cy="555.2"/>
<circle cx="186.9" cy="552.5"/>
<circle cx="176.7" cy="559.4"/>
<circle cx="150.4" cy="583"/>
<circle cx="173.1" cy="565.1"/>
<circle cx="160.2" cy="572.2"/>
<circle cx="170.4" cy="563.2"/>
<circle cx="179.5" cy="558.3"/>
<circle cx="236.7" cy="507.1"/>
<circle cx="142.1" cy="585.9"/>
<circle cx="147.3" cy="583.8"/>
<circle cx="240.3" cy="516.3"/>
<circle cx="180.3" cy="556.9"/>
<circle cx="117.1" cy="601.3"/>
<circle cx="173.6" cy="560.9"/>
<circle cx="181.6" cy="555.3"/>
<circle cx="127" cy="598.9"/>
<circle cx="235.4" cy="519.1"/>
<circle cx="190.9" cy="545"/>
<circle cx="183.1" cy="553.7"/>
<circle cx="194.3" cy="541.1"/>
<circle cx="134.4" cy="592.5"/>
<circle cx="186.3" cy="550.1"/>
<circle cx="214.9" cy="523.2"/>
<circle cx="210.1" cy="537.3"/>
<circle cx="232.4" cy="523.2"/>
<circle cx="240" cy="515.7"/>
<circle cx="174.5" cy="562.1"/>
<circle cx="240.9" cy="510.2"/>
<circle cx="163.2" cy="565.9"/>
<circle cx="179.3" cy="556.6"/>
<circle cx="137.8" cy="600.1"/>
<circle cx="230.3" cy="517.4"/>
<circle cx="183.6" cy="554.6"/>
<circle cx="111.9" cy="595.3"/>
<circle cx="205.1" cy="537"/>
<circle cx="191.1" cy="548.7"/>
<circle cx="191.7" cy="546.1"/>
<circle cx="216.8" cy="519.8"/>
<circle cx="179" cy="558"/>
<circle cx="224.5" cy="527.7"/>
<circle cx="235.2" cy="514.6"/>
<circle cx="220.9" cy="534.1"/>
<circle cx="134.4" cy="588"/>
<circle cx="232.4" cy="516.4"/>
<circle cx="238" cy="518.6"/>
<circle cx="232.8" cy="512.8"/>
<circle cx="135.2" cy="592"/>
<circle cx="226.5" cy="522.6"/>
<circle cx="192.9" cy="547.4"/>
<circle cx="221.3" cy="520.1"/>
<circle cx="216.6" cy="531.6"/>
<circle cx="182.4" cy="553.8"/>
<circle cx="173.9" cy="562.6"/>
<circle cx="134.7" cy="592.4"/>
<circle cx="176.7" cy="561.3"/>
<circle cx="162.7" cy="574.4"/>
<circle cx="183.2" cy="553.3"/>
<circle cx="169.5" cy="564.8"/>
<circle cx="221.7" cy="521.8"/>
<circle cx="248.8" cy="512.1"/>
<circle cx="184.7" cy="553.7"/>
<circle cx="188.5" cy="552.1"/>
<circle cx="137.6" cy="586.8"/>
<circle cx="187.1" cy="548.6"/>
<circle cx="130.6" cy="594.4"/>
<circle cx="130.2" cy="592"/>
<circle cx="178.9" cy="557.3"/>
<circle cx="150.4" cy="583"/>
<circle cx="133.5" cy="593.8"/>
<circle cx="231.8" cy="517.2"/>
<circle cx="198.1" cy="547.5"/>
<circle cx="135.6" cy="586.4"/>
<circle cx="236" cy="512.6"/>
<circle cx="197.1" cy="544"/>
<circle cx="148.3" cy="577.8"/>
<circle cx="124.1" cy="598.7"/>
<circle cx="231" cy="520.1"/>
<circle cx="235.1" cy="515.7"/>
<circle cx="240.9" cy="505.6"/>
<circle cx="182.6" cy="554.2"/>
<circle cx="211.3" cy="531.6"/>
<circle cx="210.7" cy="532.5"/>
<circle cx="129.4" cy="592.3"/>
<circle cx="167.4" cy="568.1"/>
<circle cx="210.6" cy="535.8"/>
<circle cx="201" cy="536.9"/>
<circle cx="142.2" cy="579.3"/>
<circle cx="195.6" cy="545.4"/>
<circle cx="186.8" cy="552.6"/>
<circle cx="180.1" cy="557.2"/>
<circle cx="247.8" cy="511.9"/>
<circle cx="249.8" cy="514.6"/>
<circle cx="170.4" cy="564.4"/>
<circle cx="228" cy="519.6"/>
<circle cx="234.7" cy="511.8"/>
<circle cx="197.2" cy="544.2"/>
<circle cx="181.1" cy="557.2"/>
<circle cx="222.3" cy="519"/>
<circle cx="174.8" cy="561.9"/>
<circle cx="167.3" cy="572.9"/>
<circle cx="155" cy="574.9"/>
<circle cx="238.1" cy="510.6"/>
<circle cx="136.2" cy="595.1"/>
<circle cx="198.1" cy="539.3"/>
<circle cx="178.9" cy="557.3"/>
<circle cx="172.6" cy="560.6"/>
<circle cx="121.1" cy="594.6"/>
<circle cx="206.7" cy="540.1"/>
<circle cx="157.4" cy="572.8"/>
<circle cx="233.8" cy="506.4"/>
<circle cx="192.3" cy="546.7"/>
<circle cx="131.1" cy="592.9"/>
<circle cx="217.1" cy="528.2"/>
<circle cx="132" cy="590.1"/>
<circle cx="124.8" cy="594.5"/>
<circle cx="164.9" cy="566.2"/>
<circle cx="185" cy="552.1"/>
<circle cx="231.7" cy="515.8"/>
<circle cx="237" cy="514.1"/>
<circle cx="222.4" cy="522.3"/>
<circle cx="133.7" cy="586.7"/>
<circle cx="220.6" cy="526.6"/>
<circle cx="168" cy="565.2"/>
<circle cx="183.4" cy="554"/>
<circle cx="124.7" cy="599.9"/>
<circle cx="152.8" cy="581.8"/>
<circle cx="196.5" cy="540.3"/>
<circle cx="190.6" cy="549.4"/>
<circle cx="132.3" cy="594.8"/>
<circle cx="123.5" cy="597.3"/>
<circle cx="172.4" cy="561.7"/>
<circle cx="220.1" cy="529.3"/>
<circle cx="131.8" cy="592.4"/>
<circle cx="180.6" cy="556"/>
<circle cx="252.9" cy="509"/>
<circle cx="180.3" cy="554.7"/>
<circle cx="200.1" cy="542.6"/>
<circle cx="238.2" cy="517.9"/>
<circle cx="218.9" cy="530.8"/>
<circle cx="246.4" cy="509.9"/>
<circle cx="207.7" cy="535.5"/>
<circle cx="157.6" cy="576.2"/>
<circle cx="189.8" cy="551.4"/>
<circle cx="172.3" cy="565.1"/>
<circle cx="203.2" cy="535.1"/>
<circle cx="190.2" cy="547.5"/>
<circle cx="212.8" cy="530.6"/>
<circle cx="195.6" cy="540.1"/>
<circle cx="141.7" cy="582.6"/>
<circle cx="234.9" cy="518.9"/>
<circle cx="188.9" cy="549.6"/>
<circle cx="148.6" cy="580.1"/>
<circle cx="165.9" cy="564.5"/>
<circle cx="167.7" cy="565.6"/>
<circle cx="157.5" cy="566.9"/>
<circle cx="238.8" cy="514.7"/>
<circle cx="145.7" cy="588.9"/>
<circle cx="203.7" cy="543.4"/>
<circle cx="221.8" cy="520.5"/>
<circle cx="185.3" cy="553.3"/>
<circle cx="161.7" cy="573.8"/>
<circle cx="129" cy="586.3"/>
<circle cx="186.4" cy="551.4"/>
<circle cx="192.7" cy="545.3"/>
<circle cx="180.5" cy="556.2"/>
<circle cx="161.8" cy="565.7"/>
<circle cx="154.4" cy="581.4"/>
<circle cx="218.1" cy="529.5"/>
<circle cx="238.2" cy="512.7"/>
<circle cx="203.4" cy="545.9"/>
<circle cx="193.5" cy="547.3"/>
<circle cx="206.7" cy="530.5"/>
<circle cx="158.3" cy="571.8"/>
<circle cx="219.6" cy="520.3"/>
<circle cx="133.3" cy="591.7"/>
<circle cx="158.5" cy="572.1"/>
<circle cx="171.1" cy="560.6"/>
<circle cx="159.8" cy="569.1"/>
<circle cx="187.8" cy="550.5"/>
<circle cx="185.8" cy="552.1"/>
<circle cx="129.1" cy="593.6"/>
<circle cx="191.3" cy="546.6"/>
<circle cx="189.3" cy="550.5"/>
<circle cx="194.5" cy="545.5"/>
<circle cx="151.5" cy="571.3"/>
<circle cx="185.3" cy="552.2"/>
<circle cx="188.5" cy="547.9"/>
<circle cx="186.7" cy="550.2"/>
<circle cx="180.2" cy="558"/>
<circle cx="164.5" cy="568.4"/>
<circle cx="129.8" cy="592.8"/>
<circle cx="204.1" cy="538.6"/>
<circle cx="219.7" cy="522.4"/>
<circle cx="202.9" cy="535.4"/>
<circle cx="190.2" cy="549.9"/>
<circle cx="119.1" cy="597.7"/>
<circle cx="185.2" cy="551.6"/>
<circle cx="209.7" cy="529.5"/>
<circle cx="211.7" cy="527.5"/>
<circle cx="189.6" cy="548.9"/>
<circle cx="161" cy="578.2"/>
<circle cx="177.8" cy="559.2"/>
<circle cx="168.7" cy="565.2"/>
<circle cx="226.5" cy="524.6"/>
<circle cx="192.3" cy="547.4"/>
<circle cx="178.3" cy="557.9"/>
<circle cx="120.3" cy="599.3"/>
<circle cx="179.7" cy="557.6"/>
<circle cx="236.2" cy="519.4"/>
<circle cx="253.7" cy="513.5"/>
<circle cx="236.2" cy="507.6"/>
<circle cx="186.1" cy="549.9"/>
<circle cx="175" cy="559.8"/>
<circle cx="174.6" cy="562.3"/>
<circle cx="219.8" cy="523.4"/>
<circle cx="208.2" cy="528.2"/>
<circle cx="219.4" cy="525.4"/>
<circle cx="130.4" cy="594.1"/>
<circle cx="157.3" cy="572"/>
<circle cx="127.8" cy="595.3"/>
<circle cx="170" cy="566.5"/>
<circle cx="175.8" cy="557.9"/>
<circle cx="150.4" cy="585.8"/>
<circle cx="181.7" cy="555.9"/>
<circle cx="148.4" cy="593.1"/>
<circle cx="230.8" cy="518.7"/>
<circle cx="175.2" cy="561"/>
<circle cx="133.6" cy="585.7"/>
<circle cx="194.5" cy="542.9"/>
<circle cx="135.4" cy="586.2"/>
<circle cx="223" cy="512.6"/>
<circle cx="203.6" cy="531.5"/>
<circle cx="193" cy="547"/>
<circle cx="208.9" cy="532.2"/>
<circle cx="242.6" cy="508.8"/>
<circle cx="129.1" cy="592.2"/>
<circle cx="183.3" cy="553.6"/>
<circle cx="224.2" cy="527.5"/>
<circle cx="183" cy="554.1"/>
<circle cx="181.4" cy="555.4"/>
<circle cx="238.2" cy="514.2"/>
<circle cx="236" cy="517.8"/>
<circle cx="109.9" cy="599.4"/>
<circle cx="228.2" cy="515.1"/>
<circle cx="133.3" cy="588.9"/>
<circle cx="195.2" cy="546.4"/>
<circle cx="176.3" cy="559.7"/>
<circle cx="143" cy="585.9"/>
<circle cx="205.7" cy="540"/>
<circle cx="192.7" cy="545.8"/>
<circle cx="243.7" cy="509.5"/>
<circle cx="129.3" cy="596.7"/>
<circle cx="151.1" cy="573.7"/>
<circle cx="122.4" cy="602.9"/>
<circle cx="138.1" cy="590.2"/>
<circle cx="250" cy="507.9"/>
<circle cx="207.6" cy="541.4"/>
<circle cx="249.3" cy="509.9"/>
<circle cx="163.5" cy="568.5"/>
<circle cx="121.9" cy="596.8"/>
<circle cx="193.5" cy="546.9"/>
<circle cx="182" cy="555.3"/>
<circle cx="231.6" cy="515.2"/>
<circle cx="149.4" cy="572"/>
<circle cx="229.6" cy="523.6"/>
<circle cx="168.1" cy="562"/>
<circle cx="240" cy="510.4"/>
<circle cx="184.9" cy="552.7"/>
<circle cx="168.3" cy="564.6"/>
<circle cx="208.8" cy="531.5"/>
<circle cx="200.7" cy="541.3"/>
<circle cx="144.4" cy="587.6"/>
<circle cx="180.2" cy="557"/>
<circle cx="153.7" cy="581.5"/>
<circle cx="130.8" cy="594.8"/>
<circle cx="178.3" cy="558.1"/>
<circle cx="170.9" cy="563.4"/>
<circle cx="184.4" cy="553.9"/>
<circle cx="183.8" cy="554.1"/>
<circle cx="135.3" cy="593.9"/>
<circle cx="233.7" cy="522.5"/>
<circle cx="123.2" cy="597.6"/>
<circle cx="143.6" cy="583.9"/>
<circle cx="199.1" cy="540.3"/>
<circle cx="222.4" cy="523.5"/>
<circle cx="216.4" cy="525.5"/>
<circle cx="234.4" cy="522.4"/>
<circle cx="131.1" cy="593.8"/>
<circle cx="138.3" cy="591.5"/>
<circle cx="207.4" cy="537.9"/>
<circle cx="231" cy="508.6"/>
<circle cx="151.7" cy="578.9"/>
<circle cx="139.1" cy="594.5"/>
<circle cx="223.5" cy="524"/>
<circle cx="163" cy="569.8"/>
<circle cx="160.2" cy="578.3"/>
<circle cx="201.7" cy="539.7"/>
<circle cx="190.7" cy="547.5"/>
<circle cx="196.4" cy="544.5"/>
<circle cx="160.7" cy="565.5"/>
<circle cx="139.2" cy="588.2"/>
<circle cx="182.7" cy="554.7"/>
<circle cx="202.1" cy="545.8"/>
<circle cx="182.3" cy="554"/>
<circle cx="196.2" cy="543.4"/>
<circle cx="192" cy="547.4"/>
<circle cx="181.2" cy="556.4"/>
<circle cx="164" cy="566.5"/>
<circle cx="125.4" cy="595.1"/>
<circle cx="172.1" cy="562.3"/>
<circle cx="137.5" cy="592.1"/>
<circle cx="120.2" cy="595.6"/>
<circle cx="129.4" cy="599.6"/>
<circle cx="219.1" cy="527.2"/>
<circle cx="135.3" cy="589.9"/>
<circle cx="230.3" cy="511.9"/>
<circle cx="171.4" cy="563.4"/>
<circle cx="192.1" cy="546.3"/>
<circle cx="154.9" cy="581.7"/>
<circle cx="147.6" cy="583.3"/>
<circle cx="176.9" cy="559.4"/>
<circle cx="194.9" cy="541.1"/>
<circle cx="187" cy="551.2"/>
<circle cx="130" cy="592.7"/>
<circle cx="249.1" cy="512.8"/>
<circle cx="161.7" cy="578.3"/>
<circle cx="151.4" cy="575"/>
<circle cx="247" cy="511.7"/>
<circle cx="166.1" cy="573.2"/>
<circle cx="240.7" cy="514.4"/>
<circle cx="157.8" cy="570.6"/>
<circle cx="173.3" cy="560.7"/>
<circle cx="179.1" cy="558.7"/>
<circle cx="224.4" cy="518.4"/>
<circle cx="181.6" cy="555"/>
<circle cx="172.5" cy="566.7"/>
<circle cx="144.4" cy="585.1"/>
<circle cx="228.7" cy="518.2"/>
<circle cx="190.6" cy="549.6"/>
<circle cx="184.5" cy="552.1"/>
<circle cx="181.2" cy="555.8"/>
<circle cx="191.9" cy="546.6"/>
<circle cx="231.5" cy="521.8"/>
<circle cx="129.6" cy="594.9"/>
<circle cx="140.5" cy="590.5"/>
<circle cx="182.8" cy="553.9"/>
<circle cx="175.8" cy="560.8"/>
<circle cx="205.5" cy="541.2"/>
<circle cx="172.9" cy="561.6"/>
<circle cx="155.6" cy="584.1"/>
<circle cx="170.3" cy="563.8"/>
<circle cx="127.5" cy="596.1"/>
<circle cx="251.9" cy="514.2"/>
<circle cx="175.7" cy="563.4"/>
<circle cx="143.7" cy="580.9"/>
<circle cx="162.1" cy="562.8"/>
<circle cx="180.8" cy="555.7"/>
<circle cx="202.4" cy="536"/>
<circle cx="146.3" cy="589.5"/>
<circle cx="241" cy="510.5"/>
<circle cx="210" cy="537.1"/>
<circle cx="209.2" cy="528.7"/>
<circle cx="125.1" cy="590.2"/>
<circle cx="207.6" cy="527"/>
<circle cx="133.4" cy="591.6"/>
<circle cx="184.2" cy="553.9"/>
<circle cx="239.3" cy="512.7"/>
<circle cx="234.8" cy="516"/>
<circle cx="168.7" cy="568.5"/>
<circle cx="199.6" cy="539.8"/>
<circle cx="143" cy="592.3"/>
<circle cx="112" cy="599.7"/>
<circle cx="164.5" cy="566.1"/>
<circle cx="166.5" cy="568"/>
<circle cx="183.6" cy="553.1"/>
<circle cx="152.5" cy="578.7"/>
<circle cx="195.5" cy="546.1"/>
<circle cx="134" cy="595.2"/>
<circle cx="127.3" cy="595.2"/>
<circle cx="185.4" cy="552.2"/>
<circle cx="154.9" cy="575"/>
<circle cx="238.2" cy="519.6"/>
<circle cx="231.3" cy="522.6"/>
<circle cx="235.8" cy="514.9"/>
<circle cx="203.3" cy="543.7"/>
<circle cx="139.2" cy="588.6"/>
<circle cx="164.6" cy="567.8"/>
<circle cx="142.8" cy="587.1"/>
<circle cx="197.9" cy="538.5"/>
<circle cx="178.8" cy="557.7"/>
<circle cx="209.9" cy="540.2"/>
<circle cx="206.6" cy="535.1"/>
<circle cx="179.4" cy="555.6"/>
<circle cx="208" cy="536.4"/>
<circle cx="135.8" cy="587"/>
<circle cx="197.8" cy="535.7"/>
<circle cx="150.3" cy="586"/>
<circle cx="145.4" cy="590.6"/>
<circle cx="179.4" cy="556.6"/>
<circle cx="120.1" cy="595.9"/>
<circle cx="163.7" cy="567.7"/>
<circle cx="237.3" cy="515.9"/>
<circle cx="165.1" cy="572.9"/>
<circle cx="121.9" cy="596.7"/>
<circle cx="187.7" cy="549.3"/>
<circle cx="181.5" cy="554.6"/>
<circle cx="116.6" cy="600.7"/>
<circle cx="232" cy="515.4"/>
<circle cx="180.6" cy="555.4"/>
<circle cx="239.4" cy="508.2"/>
<circle cx="186.2" cy="553.1"/>
<circle cx="174" cy="561"/>
<circle cx="167.4" cy="563.9"/>
<circle cx="174.8" cy="560.9"/>
<circle cx="139" cy="587.8"/>
<circle cx="153.3" cy="582.4"/>
<circle cx="181.6" cy="555.1"/>
<circle cx="237" cy="514.6"/>
<circle cx="241.6" cy="513"/>
<circle cx="211.9" cy="539.1"/>
<circle cx="215.4" cy="523"/>
<circle cx="194" cy="544.2"/>
<circle cx="171.1" cy="566.7"/>
<circle cx="173" cy="564"/>
<circle cx="196.2" cy="543.6"/>
<circle cx="188.5" cy="548.3"/>
<circle cx="170" cy="562.9"/>
<circle cx="173.2" cy="566.4"/>
<circle cx="167" cy="573"/>
<circle cx="230" cy="524.3"/>
<circle cx="179.8" cy="555.8"/>
<circle cx="134.1" cy="586.2"/>
<circle cx="180.2" cy="556.8"/>
<circle cx="179.8" cy="555.6"/>
<circle cx="194" cy="542.2"/>
<circle cx="110.9" cy="595.7"/>
<circle cx="151.9" cy="579.4"/>
<circle cx="173.6" cy="562.1"/>
<circle cx="222.7" cy="502"/>
<circle cx="191.5" cy="547.5"/>
<circle cx="166.7" cy="565.8"/>
<circle cx="129.5" cy="598.1"/>
<circle cx="197.2" cy="542.5"/>
<circle cx="138.5" cy="588"/>
<circle cx="122.1" cy="599.1"/>
<circle cx="222.3" cy="529.6"/>
<circle cx="151.4" cy="569.4"/>
<circle cx="189.1" cy="550.6"/>
<circle cx="225.7" cy="527"/>
<circle cx="234.5" cy="515.2"/>
<circle cx="154.4" cy="573.6"/>
<circle cx="195.3" cy="543.2"/>
<circle cx="189.9" cy="547.9"/>
<circle cx="213.3" cy="532.2"/>
<circle cx="212.6" cy="524.4"/>
<circle cx="184.4" cy="553.3"/>
<circle cx="147.3" cy="569.7"/>
<circle cx="189.7" cy="548.1"/>
<circle cx="208" cy="535.2"/>
<circle cx="189.7" cy="551"/>
<circle cx="235.6" cy="513"/>
<circle cx="235" cy="516.5"/>
<circle cx="208.7" cy="540.5"/>
<circle cx="236.2" cy="520.1"/>
<circle cx="193.1" cy="549.8"/>
<circle cx="201.7" cy="534.8"/>
<circle cx="180.4" cy="556.3"/>
<circle cx="142.9" cy="586.6"/>
<circle cx="233" cy="521.2"/>
<circle cx="209" cy="538.9"/>
<circle cx="213.4" cy="538.8"/>
<circle cx="162" cy="569.1"/>
<circle cx="189.5" cy="550.2"/>
<circle cx="195.6" cy="543.8"/>
<circle cx="225.2" cy="516.1"/>
<circle cx="159.3" cy="574.2"/>
<circle cx="138.8" cy="597.6"/>
<circle cx="220.6" cy="522.7"/>
<circle cx="191.8" cy="544.7"/>
<circle cx="129.6" cy="591"/>
<circle cx="238.5" cy="508.6"/>
<circle cx="177" cy="559.6"/>
<circle cx="192.6" cy="546.6"/>
<circle cx="182.2" cy="555.3"/>
<circle cx="169.9" cy="566.8"/>
<circle cx="229" cy="513.9"/>
<circle cx="127.3" cy="598.1"/>
<circle cx="228.7" cy="516.9"/>
<circle cx="208.7" cy="534.9"/>
<circle cx="201" cy="541.5"/>
<circle cx="174.1" cy="562.7"/>
<circle cx="187.9" cy="548.4"/>
<circle cx="125.8" cy="595.3"/>
<circle cx="235.7" cy="509.4"/>
<circle cx="183.6" cy="554.1"/>
<circle cx="146.6" cy="593.2"/>
<circle cx="195.3" cy="542.1"/>
<circle cx="241.1" cy="516.4"/>
<circle cx="133.5" cy="600.3"/>
<circle cx="233.8" cy="511.7"/>
<circle cx="125.4" cy="587.9"/>
<circle cx="126.8" cy="591.6"/>
<circle cx="204.1" cy="536.1"/>
<circle cx="114.9" cy="595.5"/>
<circle cx="188" cy="551"/>
<circle cx="183.2" cy="554.5"/>
<circle cx="213.7" cy="533.9"/>
<circle cx="195.1" cy="543.8"/>
<circle cx="160" cy="573.5"/>
<circle cx="130.4" cy="599.4"/>
<circle cx="129.6" cy="590.5"/>
<circle cx="221" cy="512.4"/>
<circle cx="212.4" cy="525.4"/>
<circle cx="197.3" cy="548.5"/>
<circle cx="149.9" cy="586.7"/>
<circle cx="239.9" cy="513.9"/>
<circle cx="195.9" cy="545.9"/>
<circle cx="130.4" cy="596.6"/>
<circle cx="128.6" cy="591.9"/>
<circle cx="209.2" cy="527.7"/>
<circle cx="187.4" cy="548.5"/>
<circle cx="131.1" cy="591"/>
<circle cx="134.2" cy="592.2"/>
<circle cx="176.4" cy="560"/>
<circle cx="188.9" cy="546.3"/>
<circle cx="179.6" cy="557.9"/>
<circle cx="190.5" cy="547.5"/>
<circle cx="124.1" cy="591.4"/>
<circle cx="124.3" cy="597.6"/>
<circle cx="120.8" cy="599.1"/>
<circle cx="129.4" cy="593.7"/>
<circle cx="126.2" cy="598.2"/>
<circle cx="196.7" cy="541.1"/>
<circle cx="236.3" cy="514.9"/>
<circle cx="182.9" cy="554.5"/>
<circle cx="236.5" cy="513.7"/>
<circle cx="112.9" cy="600.4"/>
<circle cx="210.7" cy="529.6"/>
<circle cx="209.5" cy="535.8"/>
<circle cx="135" cy="595.9"/>
<circle cx="214.7" cy="538"/>
<circle cx="191.3" cy="549.7"/>
<circle cx="149.4" cy="570.7"/>
<circle cx="222.5" cy="526.8"/>
<circle cx="250.2" cy="509"/>
<circle cx="165.7" cy="566.8"/>
<circle cx="138.9" cy="590.8"/>
<circle cx="203.8" cy="550.8"/>
<circle cx="112.7" cy="598.5"/>
<circle cx="191.9" cy="546.2"/>
<circle cx="130.7" cy="595.4"/>
<circle cx="133.7" cy="594.1"/>
<circle cx="134.9" cy="593.9"/>
<circle cx="242" cy="514.4"/>
<circle cx="193.2" cy="543.1"/>
<circle cx="248.1" cy="512.2"/>
<circle cx="194.9" cy="546.6"/>
<circle cx="172.3" cy="565.9"/>
<circle cx="177" cy="558.7"/>
<circle cx="211.7" cy="530.9"/>
<circle cx="176.9" cy="558.7"/>
<circle cx="141.7" cy="594.9"/>
<circle cx="243.1" cy="510.7"/>
<circle cx="200.6" cy="538.4"/>
<circle cx="150" cy="586.3"/>
<circle cx="191" cy="549.2"/>
<circle cx="132.7" cy="589.2"/>
<circle cx="163.5" cy="566.4"/>
<circle cx="122.6" cy="600.3"/>
<circle cx="156.7" cy="572.8"/>
<circle cx="127.7" cy="594.5"/>
<circle cx="124.5" cy="600.7"/>
<circle cx="142.4" cy="588.9"/>
<circle cx="228" cy="516.5"/>
<circle cx="129.3" cy="596.3"/>
<circle cx="123.3" cy="592.7"/>
<circle cx="176.2" cy="560.3"/>
<circle cx="177.4" cy="560.7"/>
<circle cx="126.2" cy="596.9"/>
<circle cx="192.9" cy="544.7"/>
<circle cx="170.8" cy="568.6"/>
<circle cx="146.1" cy="591.8"/>
<circle cx="217" cy="521.1"/>
<circle cx="207.6" cy="537.2"/>
<circle cx="179.7" cy="557.6"/>
<circle cx="143.5" cy="582.4"/>
<circle cx="230.9" cy="514.4"/>
<circle cx="184.8" cy="553.3"/>
<circle cx="186.8" cy="551.7"/>
<circle cx="152.7" cy="588.9"/>
<circle cx="249" cy="511.3"/>
<circle cx="186.4" cy="549.8"/>
<circle cx="185.8" cy="551.8"/>
<circle cx="127.5" cy="598.5"/>
<circle cx="158.9" cy="570.5"/>
<circle cx="149.3" cy="580.3"/>
<circle cx="247.8" cy="512.7"/>
<circle cx="178.6" cy="556.8"/>
<circle cx="130" cy="590.2"/>
<circle cx="198.5" cy="540.3"/>
<circle cx="167.9" cy="570.3"/>
<circle cx="143.6" cy="583.1"/>
<circle cx="231.1" cy="522.1"/>
<circle cx="132.7" cy="590.9"/>
<circle cx="242" cy="514.5"/>
<circle cx="170" cy="566.4"/>
<circle cx="189.5" cy="548.2"/>
<circle cx="153.2" cy="579.4"/>
<circle cx="180.2" cy="556.2"/>
<circle cx="128.2" cy="592.3"/>
<circle cx="116.4" cy="595.7"/>
<circle cx="213.5" cy="530.3"/>
<circle cx="166.3" cy="574"/>
<circle cx="185.3" cy="552.1"/>
<circle cx="192.2" cy="544.2"/>
<circle cx="212.8" cy="535.6"/>
<circle cx="147.4" cy="588"/>
<circle cx="124.7" cy="595.5"/>
<circle cx="178.6" cy="559.7"/>
<circle cx="182.9" cy="553.8"/>
<circle cx="128.3" cy="598.1"/>
<circle cx="125.9" cy="602.2"/>
<circle cx="204.7" cy="536.2"/>
<circle cx="186.6" cy="549.4"/>
<circle cx="130.3" cy="591.3"/>
<circle cx="186.4" cy="551.3"/>
<circle cx="203.3" cy="540"/>
<circle cx="219" cy="525.9"/>
<circle cx="216.5" cy="528.5"/>
<circle cx="137.7" cy="589.1"/>
<circle cx="185" cy="552.9"/>
<circle cx="126.1" cy="596.3"/>
<circle cx="183.6" cy="553.2"/>
<circle cx="145.5" cy="580.1"/>
<circle cx="167.1" cy="565.1"/>
<circle cx="142.1" cy="598.4"/>
<circle cx="179.1" cy="555.6"/>
<circle cx="142.2" cy="587.5"/>
<circle cx="235" cy="515.7"/>
<circle cx="214.2" cy="527.4"/>
<circle cx="128.1" cy="589.6"/>
<circle cx="176.2" cy="559.6"/>
<circle cx="232.5" cy="518.9"/>
<circle cx="217.1" cy="532.8"/>
<circle cx="125.5" cy="600"/>
<circle cx="178.2" cy="560.4"/>
<circle cx="196.5" cy="540.8"/>
<circle cx="239.9" cy="509.5"/>
<circle cx="238.7" cy="516.4"/>
<circle cx="230.4" cy="517.1"/>
<circle cx="237.6" cy="511.5"/>
<circle cx="183" cy="554"/>
<circle cx="228.2" cy="519.5"/>
<circle cx="178.9" cy="555.4"/>
<circle cx="190.4" cy="548.1"/>
<circle cx="130.9" cy="594.7"/>
<circle cx="180.2" cy="557.6"/>
<circle cx="187.7" cy="549.1"/>
<circle cx="229.3" cy="523.1"/>
<circle cx="138.9" cy="586.8"/>
<circle cx="177.3" cy="559.5"/>
<circle cx="181.1" cy="556.2"/>
<circle cx="249.8" cy="513.4"/>
<circle cx="172.8" cy="561"/>
<circle cx="170" cy="567"/>
<circle cx="177.9" cy="556.8"/>
<circle cx="178.2" cy="557.9"/>
<circle cx="174" cy="560.7"/>
<circle cx="125.9" cy="592.6"/>
<circle cx="177" cy="558.2"/>
<circle cx="123.9" cy="594.8"/>
<circle cx="240.5" cy="511.6"/>
<circle cx="159.1" cy="576.2"/>
<circle cx="152.3" cy="570.8"/>
<circle cx="199.3" cy="543.2"/>
<circle cx="227" cy="524"/>
<circle cx="227.7" cy="496"/>
<circle cx="178.5" cy="557.1"/>
<circle cx="185.3" cy="552.9"/>
<circle cx="194.1" cy="549.6"/>
<circle cx="146.8" cy="578.4"/>
<circle cx="234.3" cy="514.4"/>
<circle cx="199.8" cy="542.1"/>
<circle cx="222" cy="518.9"/>
<circle cx="140.6" cy="599.5"/>
<circle cx="224.1" cy="525"/>
<circle cx="241.8" cy="509.2"/>
<circle cx="195.2" cy="545"/>
<circle cx="207.6" cy="533.4"/>
<circle cx="237.2" cy="518.1"/>
<circle cx="191.3" cy="546.2"/>
<circle cx="153.6" cy="573.8"/>
<circle cx="192" cy="544.5"/>
<circle cx="163.5" cy="570.8"/>
<circle cx="153.7" cy="570.5"/>
<circle cx="230.5" cy="524.8"/>
<circle cx="184.6" cy="552.4"/>
<circle cx="191.5" cy="546.3"/>
<circle cx="173.7" cy="560.5"/>
<circle cx="179.3" cy="557.3"/>
<circle cx="125" cy="593.7"/>
<circle cx="181.3" cy="556.3"/>
<circle cx="265.2" cy="511.8"/>
<circle cx="200.7" cy="533.5"/>
<circle cx="234.2" cy="510.7"/>
<circle cx="215.4" cy="531.7"/>
<circle cx="128.9" cy="593.8"/>
<circle cx="166" cy="564.2"/>
<circle cx="191.7" cy="548.2"/>
<circle cx="188.2" cy="548.3"/>
<circle cx="186.7" cy="550.7"/>
<circle cx="201.2" cy="538"/>
<circle cx="161" cy="569.2"/>
<circle cx="131.9" cy="596.3"/>
<circle cx="149.5" cy="571.9"/>
<circle cx="126.2" cy="597.2"/>
<circle cx="176.4" cy="558.8"/>
<circle cx="185.5" cy="553"/>
<circle cx="161" cy="574.5"/>
<circle cx="195" cy="549.2"/>
<circle cx="175.3" cy="560.2"/>
<circle cx="201.6" cy="537.9"/>
<circle cx="226.2" cy="523.3"/>
<circle cx="144" cy="589.6"/>
<circle cx="157" cy="581.3"/>
<circle cx="182.7" cy="554.3"/>
<circle cx="227.6" cy="519.4"/>
<circle cx="183.1" cy="554.1"/>
<circle cx="226.2" cy="518"/>
<circle cx="149.9" cy="573.5"/>
<circle cx="184.5" cy="554.1"/>
<circle cx="218.3" cy="524.6"/>
<circle cx="117.3" cy="596"/>
<circle cx="142.3" cy="594.9"/>
<circle cx="109.4" cy="599.1"/>
<circle cx="178.4" cy="557.5"/>
<circle cx="199.5" cy="542.8"/>
<circle cx="187" cy="552.7"/>
<circle cx="237" cy="516.3"/>
<circle cx="193" cy="545.5"/>
<circle cx="195" cy="544.6"/>
<circle cx="180" cy="556.3"/>
<circle cx="194" cy="545.9"/>
<circle cx="200.1" cy="545.9"/>
<circle cx="226.6" cy="509"/>
<circle cx="134.4" cy="595.8"/>
<circle cx="228.8" cy="522.7"/>
<circle cx="186.2" cy="551.4"/>
<circle cx="153" cy="583.1"/>
<circle cx="184.1" cy="553.1"/>
<circle cx="239.8" cy="515.4"/>
<circle cx="219" cy="520.9"/>
<circle cx="227.8" cy="510.8"/>
<circle cx="148.6" cy="580.8"/>
<circle cx="171.9" cy="560.7"/>
<circle cx="206.8" cy="543.6"/>
<circle cx="215.8" cy="523.6"/>
<circle cx="168" cy="563.6"/>
<circle cx="173.3" cy="561.3"/>
<circle cx="181.9" cy="555.6"/>
<circle cx="151.3" cy="572.9"/>
<circle cx="173.3" cy="561.6"/>
<circle cx="142.8" cy="586.5"/>
<circle cx="240.6" cy="511.8"/>
<circle cx="198.8" cy="543.8"/>
<circle cx="197" cy="546.9"/>
<circle cx="168.3" cy="568.5"/>
<circle cx="199.2" cy="540"/>
<circle cx="177.5" cy="555.8"/>
<circle cx="176.8" cy="560.8"/>
<circle cx="192.6" cy="547.8"/>
<circle cx="182.2" cy="554.7"/>
<circle cx="115.8" cy="595.5"/>
<circle cx="172.6" cy="561.7"/>
<circle cx="241.7" cy="514.1"/>
<circle cx="175.9" cy="559.3"/>
<circle cx="137.5" cy="592.2"/>
<circle cx="147.3" cy="583"/>
<circle cx="140.7" cy="596"/>
<circle cx="150.9" cy="577.1"/>
<circle cx="196.6" cy="546.7"/>
<circle cx="178.1" cy="559"/>
<circle cx="188.8" cy="547.5"/>
<circle cx="190.1" cy="545.5"/>
<circle cx="200.7" cy="536.7"/>
<circle cx="121" cy="596.6"/>
<circle cx="155.1" cy="567.5"/>
<circle cx="134" cy="593.7"/>
<circle cx="201.8" cy="536.8"/>
<circle cx="175.9" cy="561.6"/>
<circle cx="250.4" cy="507"/>
<circle cx="223.4" cy="525.9"/>
<circle cx="119.8" cy="600.2"/>
<circle cx="128.3" cy="596.1"/>
<circle cx="185.8" cy="551"/>
<circle cx="134.8" cy="601.4"/>
<circle cx="186" cy="550"/>
<circle cx="148.4" cy="568.8"/>
<circle cx="222.2" cy="518.3"/>
<circle cx="173.5" cy="562.7"/>
<circle cx="122.6" cy="596.5"/>
<circle cx="209.7" cy="529.9"/>
<circle cx="206.8" cy="540.8"/>
<circle cx="185" cy="552.7"/>
<circle cx="174" cy="558.4"/>
<circle cx="169" cy="570.7"/>
<circle cx="156.8" cy="577.6"/>
<circle cx="155" cy="581.4"/>
<circle cx="133.2" cy="588.2"/>
<circle cx="131.7" cy="589.4"/>
<circle cx="173.8" cy="559.5"/>
<circle cx="227.9" cy="522.1"/>
<circle cx="173.5" cy="563"/>
<circle cx="217.4" cy="518.5"/>
<circle cx="190.3" cy="545.6"/>
<circle cx="198" cy="542"/>
<circle cx="239.1" cy="513.1"/>
<circle cx="139.9" cy="589.9"/>
<circle cx="179.1" cy="558.1"/>
<circle cx="183.7" cy="553.1"/>
<circle cx="237.5" cy="511.9"/>
<circle cx="120.2" cy="596.8"/>
<circle cx="137.3" cy="590"/>
<circle cx="219" cy="517.3"/>
<circle cx="152.8" cy="580.1"/>
<circle cx="124.1" cy="593.1"/>
<circle cx="171.9" cy="561.8"/>
<circle cx="224" cy="518.9"/>
<circle cx="150.6" cy="579.2"/>
<circle cx="186" cy="551.9"/>
<circle cx="116.3" cy="599.3"/>
<circle cx="129.6" cy="592.8"/>
<circle cx="209.8" cy="532.7"/>
<circle cx="248.4" cy="514.9"/>
<circle cx="147.6" cy="594.7"/>
<circle cx="175.6" cy="561.7"/>
<circle cx="155.1" cy="571.9"/>
<circle cx="120" cy="594.3"/>
<circle cx="177.3" cy="559"/>
<circle cx="215.8" cy="524.1"/>
<circle cx="191.8" cy="546.5"/>
<circle cx="199" cy="539.4"/>
<circle cx="241" cy="512.6"/>
<circle cx="243.5" cy="512.7"/>
<circle cx="139.7" cy="586.4"/>
<circle cx="176.7" cy="560.7"/>
<circle cx="175" cy="562.6"/>
<circle cx="124.9" cy="595.1"/>
<circle cx="110.4" cy="604.2"/>
<circle cx="196.8" cy="538.3"/>
<circle cx="168.5" cy="568.3"/>
<circle cx="221.9" cy="526.2"/>
<circle cx="209" cy="534.7"/>
<circle cx="215.4" cy="526.3"/>
<circle cx="181.5" cy="555"/>
<circle cx="237.5" cy="508.5"/>
<circle cx="235.6" cy="512.5"/>
<circle cx="180.1" cy="557.4"/>
<circle cx="144.7" cy="587.3"/>
<circle cx="173.7" cy="562.7"/>
<circle cx="185.7" cy="552.4"/>
<circle cx="147.5" cy="589.1"/>
<circle cx="178.3" cy="558.6"/>
<circle cx="129.8" cy="601.5"/>
<circle cx="230.2" cy="517.6"/>
<circle cx="136.1" cy="590.6"/>
<circle cx="187.3" cy="549.1"/>
<circle cx="177.6" cy="559.1"/>
<circle cx="181.5" cy="556"/>
<circle cx="127" cy="591.5"/>
<circle cx="232.7" cy="511.2"/>
<circle cx="125.5" cy="591.7"/>
<circle cx="211" cy="527.1"/>
<circle cx="214.6" cy="521.1"/>
<circle cx="116.6" cy="600.1"/>
<circle cx="271.8" cy="503.3"/>
<circle cx="187.5" cy="552.1"/>
<circle cx="169.7" cy="568.1"/>
<circle cx="185" cy="552.9"/>
<circle cx="181.1" cy="555.8"/>
<circle cx="189.2" cy="551.1"/>
<circle cx="140.8" cy="588"/>
<circle cx="114.7" cy="593.3"/>
<circle cx="197.4" cy="540.8"/>
<circle cx="122.3" cy="592.9"/>
<circle cx="171.8" cy="563.6"/>
<circle cx="167.3" cy="571.3"/>
<circle cx="182.6" cy="554"/>
<circle cx="151.3" cy="578.1"/>
<circle cx="183.6" cy="553"/>
<circle cx="211.5" cy="539"/>
<circle cx="153.1" cy="577.5"/>
<circle cx="183.6" cy="553.2"/>
<circle cx="217.7" cy="534.1"/>
<circle cx="158.3" cy="570.2"/>
<circle cx="109.4" cy="599.4"/>
<circle cx="175.1" cy="560"/>
<circle cx="215.9" cy="518.5"/>
<circle cx="144.9" cy="585.1"/>
<circle cx="182.4" cy="555"/>
<circle cx="231.8" cy="522.6"/>
<circle cx="131.7" cy="592.7"/>
<circle cx="239.5" cy="519.3"/>
<circle cx="185.4" cy="551.8"/>
<circle cx="244.2" cy="511.5"/>
<circle cx="123.9" cy="598.9"/>
<circle cx="198.2" cy="542.6"/>
<circle cx="164.6" cy="562.8"/>
<circle cx="157.4" cy="571"/>
<circle cx="151" cy="581.2"/>
<circle cx="230.2" cy="513.2"/>
<circle cx="128.1" cy="589.6"/>
<circle cx="207.1" cy="531.7"/>
<circle cx="192.2" cy="547.1"/>
<circle cx="237.4" cy="510.8"/>
<circle cx="176.1" cy="560.8"/>
<circle cx="181" cy="555.3"/>
<circle cx="186.8" cy="551.5"/>
<circle cx="210.6" cy="537.3"/>
<circle cx="187.7" cy="548.8"/>
<circle cx="156" cy="571.1"/>
<circle cx="128.6" cy="591.1"/>
<circle cx="237.2" cy="515.7"/>
<circle cx="229.6" cy="524.4"/>
<circle cx="157.3" cy="571.7"/>
<circle cx="195.5" cy="541.1"/>
<circle cx="200.5" cy="543.2"/>
<circle cx="178.3" cy="558.6"/>
<circle cx="180.1" cy="557.3"/>
<circle cx="174.1" cy="562.4"/>
<circle cx="204.8" cy="531.4"/>
<circle cx="196.6" cy="547.7"/>
<circle cx="165" cy="572.8"/>
<circle cx="206.1" cy="539"/>
<circle cx="216" cy="520.4"/>
<circle cx="160.1" cy="573.2"/>
<circle cx="170.1" cy="566.8"/>
<circle cx="170" cy="565.3"/>
<circle cx="228.9" cy="519.6"/>
<circle cx="167.8" cy="566.5"/>
<circle cx="226.8" cy="515.8"/>
<circle cx="166.8" cy="564.9"/>
<circle cx="191.2" cy="549.5"/>
<circle cx="227.9" cy="522.3"/>
<circle cx="143.8" cy="587"/>
<circle cx="192.1" cy="547.3"/>
<circle cx="188.6" cy="550.7"/>
<circle cx="220.3" cy="514.7"/>
<circle cx="234.6" cy="514.6"/>
<circle cx="208.8" cy="533.7"/>
<circle cx="240.3" cy="508.9"/>
<circle cx="124.4" cy="596.7"/>
<circle cx="207.5" cy="533.4"/>
<circle cx="213.9" cy="525.4"/>
<circle cx="181" cy="557.2"/>
<circle cx="158.9" cy="577.6"/>
<circle cx="183.6" cy="554.3"/>
<circle cx="184.1" cy="552.4"/>
<circle cx="172" cy="561.9"/>
<circle cx="129.4" cy="597.9"/>
<circle cx="211" cy="537.5"/>
<circle cx="194.5" cy="544.7"/>
<circle cx="126.5" cy="596.5"/>
<circle cx="141.1" cy="589.7"/>
<circle cx="125.9" cy="590.9"/>
<circle cx="111.2" cy="597.4"/>
<circle cx="120.4" cy="595.8"/>
<circle cx="223.4" cy="524.3"/>
<circle cx="161.8" cy="576.2"/>
<circle cx="165.6" cy="571.2"/>
<circle cx="238.3" cy="506.9"/>
<circle cx="193.7" cy="543.8"/>
<circle cx="179.1" cy="558.3"/>
<circle cx="219.4" cy="525.9"/>
<circle cx="185.2" cy="552.4"/>
<circle cx="231.9" cy="514.9"/>
<circle cx="122.3" cy="597.5"/>
<circle cx="125.5" cy="599"/>
<circle cx="177.7" cy="559.5"/>
<circle cx="201.2" cy="541.5"/>
<circle cx="127.1" cy="594.5"/>
<circle cx="206.5" cy="543.8"/>
<circle cx="190.5" cy="548.5"/>
<circle cx="223.8" cy="524.7"/>
<circle cx="240.6" cy="513.6"/>
<circle cx="154.8" cy="573.8"/>
<circle cx="179.9" cy="555.1"/>
<circle cx="189.1" cy="551.3"/>
<circle cx="181.9" cy="555.4"/>
<circle cx="177" cy="558.2"/>
<circle cx="122.9" cy="595.9"/>
<circle cx="161.4" cy="563.7"/>
<circle cx="162.8" cy="573.3"/>
<circle cx="117.4" cy="600.8"/>
<circle cx="224.5" cy="525.1"/>
<circle cx="131.3" cy="596"/>
<circle cx="188.9" cy="549.4"/>
<circle cx="237.4" cy="516.4"/>
<circle cx="119.2" cy="600"/>
<circle cx="237" cy="515"/>
<circle cx="206.3" cy="532.8"/>
<circle cx="184.7" cy="552.5"/>
<circle cx="241.2" cy="514.2"/>
<circle cx="229.4" cy="525.3"/>
<circle cx="219.9" cy="521.3"/>
<circle cx="151.1" cy="576.8"/>
<circle cx="176.2" cy="557.4"/>
<circle cx="215.1" cy="528.1"/>
<circle cx="109.8" cy="598.1"/>
<circle cx="230.3" cy="520.5"/>
<circle cx="124.6" cy="610.5"/>
<circle cx="176" cy="560.3"/>
<circle cx="179.9" cy="555.5"/>
<circle cx="227.5" cy="508.8"/>
<circle cx="130.2" cy="593.2"/>
<circle cx="167.2" cy="555.8"/>
<circle cx="179.1" cy="557.6"/>
<circle cx="233.9" cy="521.9"/>
<circle cx="120.7" cy="591.9"/>
<circle cx="123.2" cy="598.5"/>
<circle cx="151.4" cy="580.7"/>
<circle cx="235" cy="514.9"/>
<circle cx="137.7" cy="581.2"/>
<circle cx="154.4" cy="572.6"/>
<circle cx="171.4" cy="565.2"/>
<circle cx="227.2" cy="515.7"/>
<circle cx="122" cy="595.5"/>
<circle cx="154.6" cy="572.1"/>
<circle cx="66.3" cy="650.1"/>
<circle cx="134.9" cy="598.7"/>
<circle cx="247.2" cy="513.6"/>
<circle cx="167.5" cy="566.7"/>
<circle cx="126.7" cy="592.5"/>
<circle cx="220" cy="530.5"/>
<circle cx="163.7" cy="572.4"/>
<circle cx="157.7" cy="572.3"/>
<circle cx="212.6" cy="524.7"/>
<circle cx="170" cy="569.2"/>
<circle cx="139.2" cy="593.9"/>
<circle cx="233.5" cy="506.8"/>
<circle cx="188.5" cy="549.8"/>
<circle cx="239.1" cy="513.3"/>
<circle cx="235.3" cy="518.5"/>
<circle cx="166.7" cy="561.1"/>
<circle cx="159.8" cy="569.9"/>
<circle cx="155.8" cy="574.2"/>
<circle cx="230.7" cy="515.6"/>
<circle cx="131" cy="593.5"/>
<circle cx="212.3" cy="532.7"/>
<circle cx="150" cy="582.3"/>
<circle cx="164.6" cy="572.1"/>
<circle cx="205.9" cy="536.2"/>
<circle cx="179.8" cy="556.9"/>
<circle cx="175.8" cy="559.9"/>
<circle cx="189.5" cy="549.3"/>
<circle cx="189.9" cy="550.8"/>
<circle cx="127.8" cy="593.6"/>
<circle cx="202.9" cy="540.1"/>
<circle cx="238.7" cy="514.8"/>
<circle cx="170.5" cy="563.1"/>
<circle cx="163.1" cy="574.9"/>
<circle cx="223.8" cy="524.1"/>
<circle cx="147.3" cy="589.4"/>
<circle cx="170.1" cy="563.6"/>
<circle cx="126.7" cy="595.1"/>
<circle cx="183.5" cy="553.3"/>
<circle cx="189.7" cy="549.8"/>
<circle cx="181.5" cy="555.6"/>
<circle cx="171.7" cy="565.6"/>
<circle cx="148" cy="575"/>
<circle cx="191.5" cy="544.8"/>
<circle cx="221.7" cy="528.4"/>
<circle cx="151.6" cy="574.2"/>
<circle cx="184.8" cy="552.8"/>
<circle cx="229.9" cy="517.9"/>
<circle cx="206.1" cy="531.9"/>
<circle cx="190.4" cy="548.4"/>
<circle cx="172.5" cy="562.3"/>
<circle cx="189.2" cy="547.4"/>
<circle cx="137" cy="592.1"/>
<circle cx="208.5" cy="531.4"/>
<circle cx="168.7" cy="565.7"/>
<circle cx="195" cy="541.1"/>
<circle cx="226.1" cy="514.1"/>
<circle cx="191.7" cy="545.3"/>
<circle cx="240.4" cy="515.9"/>
<circle cx="215" cy="530.8"/>
<circle cx="123.8" cy="595"/>
<circle cx="190.7" cy="548.3"/>
<circle cx="154.5" cy="581.4"/>
<circle cx="221.6" cy="525.8"/>
<circle cx="173.2" cy="564.6"/>
<circle cx="246" cy="509.6"/>
<circle cx="185.5" cy="553.2"/>
<circle cx="192.4" cy="548.4"/>
<circle cx="153.6" cy="578.3"/>
<circle cx="148.4" cy="584.1"/>
<circle cx="189.6" cy="550.1"/>
<circle cx="173.2" cy="564.7"/>
<circle cx="177.1" cy="558.2"/>
<circle cx="187.4" cy="548.5"/>
<circle cx="122.6" cy="595.4"/>
<circle cx="229.3" cy="522.2"/>
<circle cx="183.5" cy="554.4"/>
<circle cx="214.2" cy="528.5"/>
<circle cx="133" cy="587.9"/>
<circle cx="222.9" cy="519.3"/>
<circle cx="188.4" cy="552.3"/>
<circle cx="128.9" cy="588.8"/>
<circle cx="183.4" cy="553.5"/>
<circle cx="171.3" cy="562.6"/>
<circle cx="131.6" cy="589.6"/>
<circle cx="196.1" cy="540.2"/>
<circle cx="164.4" cy="574.3"/>
<circle cx="151.6" cy="576.5"/>
<circle cx="185.2" cy="551.2"/>
<circle cx="193.5" cy="545.2"/>
<circle cx="187.8" cy="551.3"/>
<circle cx="164.4" cy="573.2"/>
<circle cx="125.9" cy="594.7"/>
<circle cx="173.3" cy="566.3"/>
<circle cx="213.9" cy="517.9"/>
<circle cx="123.5" cy="596.6"/>
<circle cx="209.2" cy="533"/>
<circle cx="197.1" cy="540.4"/>
<circle cx="146.3" cy="582.4"/>
<circle cx="217" cy="533.8"/>
<circle cx="131.6" cy="586.2"/>
<circle cx="204.3" cy="535.5"/>
<circle cx="172.3" cy="564.9"/>
<circle cx="229.5" cy="518.6"/>
<circle cx="121.8" cy="590.8"/>
<circle cx="187.8" cy="551.7"/>
<circle cx="180.7" cy="556.3"/>
<circle cx="225.3" cy="516.1"/>
<circle cx="170" cy="564"/>
<circle cx="217.9" cy="524.4"/>
<circle cx="250.2" cy="510.7"/>
<circle cx="231.9" cy="514.4"/>
<circle cx="205.4" cy="534.4"/>
<circle cx="132.5" cy="608"/>
<circle cx="145.6" cy="589.2"/>
<circle cx="135.5" cy="593.5"/>
<circle cx="131" cy="592.3"/>
<circle cx="240.4" cy="509.4"/>
<circle cx="143" cy="578.7"/>
<circle cx="234.1" cy="522.1"/>
<circle cx="238.5" cy="511.5"/>
<circle cx="195.9" cy="545.7"/>
<circle cx="234.2" cy="518.5"/>
<circle cx="226.6" cy="520.6"/>
<circle cx="233.7" cy="517.1"/>
<circle cx="121" cy="593.5"/>
<circle cx="220.8" cy="527.9"/>
<circle cx="144" cy="589.8"/>
<circle cx="235.7" cy="511"/>
<circle cx="171.3" cy="565.1"/>
<circle cx="235.5" cy="513.3"/>
<circle cx="203.9" cy="535.5"/>
<circle cx="121.2" cy="591.8"/>
<circle cx="212.3" cy="531.7"/>
<circle cx="234.1" cy="516.5"/>
<circle cx="215.9" cy="532.2"/>
<circle cx="167.7" cy="567.9"/>
<circle cx="123.4" cy="592.6"/>
<circle cx="182.4" cy="555.2"/>
<circle cx="215.8" cy="527.3"/>
<circle cx="179.7" cy="557.9"/>
<circle cx="236.7" cy="514.8"/>
<circle cx="231.4" cy="508.9"/>
<circle cx="234.7" cy="512.3"/>
<circle cx="136.5" cy="586.5"/>
<circle cx="207" cy="529.9"/>
<circle cx="229.9" cy="524.3"/>
<circle cx="230.5" cy="523.1"/>
<circle cx="186.5" cy="551.2"/>
<circle cx="205.5" cy="531.1"/>
<circle cx="182.5" cy="554.7"/>
<circle cx="170.8" cy="561.5"/>
<circle cx="128.3" cy="595.4"/>
<circle cx="199.3" cy="538"/>
<circle cx="193.2" cy="544.2"/>
<circle cx="233.5" cy="520.2"/>
<circle cx="217.2" cy="521.1"/>
<circle cx="123.5" cy="597.2"/>
<circle cx="209.8" cy="530.3"/>
<circle cx="177.6" cy="559.8"/>
<circle cx="123.3" cy="592.2"/>
<circle cx="239.5" cy="518"/>
<circle cx="186.6" cy="551.8"/>
<circle cx="169.3" cy="566.7"/>
<circle cx="208.7" cy="529.4"/>
<circle cx="160.1" cy="571.9"/>
<circle cx="189.1" cy="549.1"/>
<circle cx="130" cy="592"/>
<circle cx="130.8" cy="601.8"/>
<circle cx="141.2" cy="586.7"/>
<circle cx="194.4" cy="546.4"/>
<circle cx="125.3" cy="598.8"/>
<circle cx="175.9" cy="562.5"/>
<circle cx="138" cy="595.9"/>
<circle cx="139.6" cy="586.2"/>
<circle cx="182.4" cy="554.9"/>
<circle cx="157.8" cy="572.6"/>
<circle cx="190.5" cy="546.9"/>
<circle cx="180.4" cy="557.2"/>
<circle cx="142.9" cy="592.7"/>
<circle cx="182.2" cy="554.9"/>
<circle cx="137.3" cy="589.6"/>
<circle cx="171" cy="563.6"/>
<circle cx="166.1" cy="572.8"/>
<circle cx="217.2" cy="529.7"/>
<circle cx="112.2" cy="596.6"/>
<circle cx="209.4" cy="533.3"/>
<circle cx="186.1" cy="549.8"/>
<circle cx="153" cy="572"/>
<circle cx="175.3" cy="561.6"/>
<circle cx="191.5" cy="547.9"/>
<circle cx="180.6" cy="556.2"/>
<circle cx="160.3" cy="567"/>
<circle cx="153.7" cy="566.2"/>
<circle cx="209.1" cy="535.9"/>
<circle cx="246.8" cy="513.8"/>
<circle cx="140.4" cy="596.3"/>
<circle cx="187.6" cy="549.1"/>
<circle cx="192" cy="550.3"/>
<circle cx="136.9" cy="594.6"/>
<circle cx="170.7" cy="565.9"/>
<circle cx="153.6" cy="576.9"/>
<circle cx="243" cy="512"/>
<circle cx="186.3" cy="550.9"/>
<circle cx="180" cy="555.1"/>
<circle cx="163.3" cy="569.9"/>
<circle cx="160.3" cy="565.4"/>
<circle cx="214.1" cy="529.4"/>
<circle cx="141.9" cy="586.2"/>
<circle cx="164.6" cy="564.6"/>
<circle cx="156" cy="572.3"/>
<circle cx="177.1" cy="559"/>
<circle cx="162.7" cy="567.3"/>
<circle cx="192.3" cy="547.9"/>
<circle cx="127" cy="599.6"/>
<circle cx="123.3" cy="593.9"/>
<circle cx="235.7" cy="511.8"/>
<circle cx="182.4" cy="554.8"/>
<circle cx="229" cy="514.1"/>
<circle cx="130.6" cy="595.2"/>
<circle cx="178.4" cy="557.7"/>
<circle cx="140.7" cy="588.4"/>
<circle cx="150.4" cy="578.3"/>
<circle cx="131.3" cy="594.2"/>
<circle cx="190.9" cy="549.5"/>
<circle cx="194.1" cy="545.4"/>
<circle cx="148.2" cy="570.7"/>
<circle cx="212.9" cy="526.5"/>
<circle cx="218.1" cy="521.6"/>
<circle cx="193.9" cy="542.8"/>
<circle cx="232.2" cy="518"/>
<circle cx="183.4" cy="553"/>
<circle cx="179.1" cy="557.1"/>
<circle cx="183.6" cy="554.4"/>
<circle cx="239.6" cy="514"/>
<circle cx="142.3" cy="586.6"/>
<circle cx="172.3" cy="564.9"/>
<circle cx="203.5" cy="538.3"/>
<circle cx="174.8" cy="560.3"/>
<circle cx="194.4" cy="542.6"/>
<circle cx="189.8" cy="549"/>
<circle cx="250.9" cy="513.9"/>
<circle cx="180.9" cy="556.6"/>
<circle cx="242.1" cy="508.4"/>
<circle cx="228.6" cy="523.2"/>
<circle cx="134.2" cy="595"/>
<circle cx="140.7" cy="592.8"/>
<circle cx="180.3" cy="556.2"/>
<circle cx="166.4" cy="566.1"/>
<circle cx="193.4" cy="545.1"/>
<circle cx="233.2" cy="519.2"/>
<circle cx="189.6" cy="548.4"/>
<circle cx="142.6" cy="592.4"/>
<circle cx="216.3" cy="524.4"/>
<circle cx="193.2" cy="543.4"/>
<circle cx="138.1" cy="586.6"/>
<circle cx="234.4" cy="519.9"/>
<circle cx="156.5" cy="579.3"/>
<circle cx="231.4" cy="526.4"/>
<circle cx="164.2" cy="571.6"/>
<circle cx="177.3" cy="558.1"/>
<circle cx="166.4" cy="570.3"/>
<circle cx="202.2" cy="538.4"/>
<circle cx="142.8" cy="584.2"/>
<circle cx="158.5" cy="576.2"/>
<circle cx="143.1" cy="584.7"/>
<circle cx="222" cy="520.1"/>
<circle cx="118.9" cy="600.8"/>
<circle cx="238.6" cy="516.2"/>
<circle cx="193.9" cy="545.6"/>
<circle cx="147.7" cy="583"/>
<circle cx="167.1" cy="570.7"/>
<circle cx="113.7" cy="598.2"/>
<circle cx="173.4" cy="561.8"/>
<circle cx="177.2" cy="557.8"/>
<circle cx="201.7" cy="541.8"/>
<circle cx="152.9" cy="587.5"/>
<circle cx="193.4" cy="546.9"/>
<circle cx="211.9" cy="532.9"/>
<circle cx="168.9" cy="568.5"/>
<circle cx="183.3" cy="554"/>
<circle cx="199.6" cy="537.2"/>
<circle cx="237.5" cy="512.6"/>
<circle cx="176.2" cy="559.6"/>
<circle cx="122.2" cy="594.5"/>
<circle cx="233.9" cy="516.6"/>
<circle cx="182.9" cy="554.2"/>
<circle cx="139.1" cy="599.4"/>
<circle cx="187.1" cy="550.1"/>
<circle cx="230.8" cy="500.7"/>
<circle cx="151.3" cy="578.3"/>
<circle cx="238.5" cy="518.9"/>
<circle cx="191.9" cy="546.6"/>
<circle cx="131.8" cy="592.8"/>
<circle cx="135" cy="577.2"/>
<circle cx="171.1" cy="567.8"/>
<circle cx="163.7" cy="577.6"/>
<circle cx="231.5" cy="511.1"/>
<circle cx="238.5" cy="512.9"/>
<circle cx="236.4" cy="508.9"/>
<circle cx="179.7" cy="558.5"/>
<circle cx="240.7" cy="514.6"/>
<circle cx="215.7" cy="533.7"/>
<circle cx="185.3" cy="553.5"/>
<circle cx="238.7" cy="496.9"/>
<circle cx="233.6" cy="512.6"/>
<circle cx="205.5" cy="534"/>
<circle cx="158.2" cy="581.9"/>
<circle cx="238.7" cy="518.3"/>
<circle cx="179.9" cy="558"/>
<circle cx="221.3" cy="525.4"/>
<circle cx="126" cy="596.2"/>
<circle cx="180.3" cy="556"/>
<circle cx="238.2" cy="516.4"/>
<circle cx="193.4" cy="547.2"/>
<circle cx="187.8" cy="551.2"/>
<circle cx="180.1" cy="556.2"/>
<circle cx="159.5" cy="578.8"/>
<circle cx="213.2" cy="537.5"/>
<circle cx="230.1" cy="515.1"/>
<circle cx="232.2" cy="517.9"/>
<circle cx="237.8" cy="513.7"/>
<circle cx="173.3" cy="561.9"/>
<circle cx="172.8" cy="564.9"/>
<circle cx="132.7" cy="597.1"/>
<circle cx="127.5" cy="589.3"/>
<circle cx="166" cy="567.8"/>
<circle cx="232.5" cy="520"/>
<circle cx="169" cy="570.3"/>
<circle cx="207.2" cy="527.6"/>
<circle cx="128.4" cy="597.1"/>
<circle cx="186.8" cy="550.4"/>
<circle cx="194.1" cy="543"/>
<circle cx="148.8" cy="571.4"/>
<circle cx="215.3" cy="527.3"/>
<circle cx="125.4" cy="594.8"/>
<circle cx="135.9" cy="594.7"/>
<circle cx="128.3" cy="601.3"/>
<circle cx="127.8" cy="596.6"/>
<circle cx="195.6" cy="544.5"/>
<circle cx="162" cy="574.1"/>
<circle cx="124.6" cy="598.5"/>
<circle cx="126.8" cy="588.5"/>
<circle cx="124.8" cy="590.8"/>
<circle cx="139.5" cy="576.7"/>
<circle cx="237.4" cy="514.8"/>
<circle cx="186.2" cy="551.9"/>
<circle cx="172.1" cy="560.5"/>
<circle cx="178.8" cy="556.9"/>
<circle cx="240.1" cy="513"/>
<circle cx="187.5" cy="550.2"/>
<circle cx="182.6" cy="554.8"/>
<circle cx="191.2" cy="547.1"/>
<circle cx="221.2" cy="526.8"/>
<circle cx="114.8" cy="596.5"/>
<circle cx="234.9" cy="512.3"/>
<circle cx="261.4" cy="509.8"/>
<circle cx="175.7" cy="561.1"/>
<circle cx="185.8" cy="552.2"/>
<circle cx="155" cy="583.2"/>
<circle cx="206.1" cy="538.3"/>
<circle cx="181.7" cy="555"/>
<circle cx="133.1" cy="594.1"/>
<circle cx="173" cy="563.7"/>
<circle cx="128" cy="594"/>
<circle cx="170.7" cy="563.6"/>
<circle cx="183.9" cy="552.5"/>
<circle cx="121.2" cy="599.4"/>
<circle cx="188.2" cy="550.2"/>
<circle cx="183.6" cy="554.1"/>
<circle cx="183.6" cy="554.2"/>
<circle cx="245.5" cy="509.4"/>
<circle cx="182.9" cy="554.2"/>
<circle cx="186.2" cy="553.4"/>
<circle cx="186.3" cy="551.1"/>
<circle cx="194.1" cy="545.8"/>
<circle cx="234.2" cy="523.3"/>
<circle cx="175" cy="560.1"/>
<circle cx="186.2" cy="550.8"/>
<circle cx="139" cy="585.2"/>
<circle cx="198" cy="536.8"/>
<circle cx="146.7" cy="585.2"/>
<circle cx="122.1" cy="595.3"/>
<circle cx="230.6" cy="515.7"/>
<circle cx="158.8" cy="574.8"/>
<circle cx="181.1" cy="557.1"/>
<circle cx="193.3" cy="545.1"/>
<circle cx="220.6" cy="520"/>
<circle cx="175.5" cy="561.1"/>
<circle cx="216.9" cy="533.2"/>
<circle cx="229.6" cy="520.3"/>
<circle cx="153.2" cy="570"/>
<circle cx="185.6" cy="552.7"/>
<circle cx="188.7" cy="551.3"/>
<circle cx="194.6" cy="544.4"/>
<circle cx="193.7" cy="545.9"/>
<circle cx="192.7" cy="543.3"/>
<circle cx="133.2" cy="595.1"/>
<circle cx="226.5" cy="528.3"/>
<circle cx="206.3" cy="534.5"/>
<circle cx="180.6" cy="555.5"/>
<circle cx="183.1" cy="553.6"/>
<circle cx="214.2" cy="527.1"/>
<circle cx="133.6" cy="586.6"/>
<circle cx="251.4" cy="510.3"/>
<circle cx="176.3" cy="560.9"/>
<circle cx="137.6" cy="592.3"/>
<circle cx="147.4" cy="572.3"/>
<circle cx="181.7" cy="553.9"/>
<circle cx="130.7" cy="593.4"/>
<circle cx="193.6" cy="548.2"/>
<circle cx="234" cy="515.6"/>
<circle cx="179" cy="557.8"/>
<circle cx="195.6" cy="546.7"/>
<circle cx="130.8" cy="596.1"/>
<circle cx="185.4" cy="552.1"/>
<circle cx="200.7" cy="542"/>
<circle cx="128.7" cy="588.7"/>
<circle cx="215.7" cy="531.6"/>
<circle cx="213.5" cy="529.7"/>
<circle cx="193.3" cy="549.2"/>
<circle cx="231.8" cy="512.9"/>
<circle cx="168.1" cy="564.3"/>
<circle cx="214.1" cy="525.1"/>
<circle cx="184.3" cy="553.1"/>
<circle cx="123.9" cy="597.3"/>
<circle cx="117" cy="597.6"/>
<circle cx="192.8" cy="543.9"/>
<circle cx="139.2" cy="587"/>
<circle cx="177.6" cy="558.8"/>
<circle cx="173.5" cy="561.6"/>
<circle cx="189.3" cy="548.5"/>
<circle cx="221.6" cy="516.7"/>
<circle cx="168.5" cy="564"/>
<circle cx="157.1" cy="574.8"/>
<circle cx="176.2" cy="560.7"/>
<circle cx="241.7" cy="492.1"/>
<circle cx="113.4" cy="595.1"/>
<circle cx="229.2" cy="511.1"/>
<circle cx="188" cy="550.7"/>
<circle cx="188.7" cy="550.3"/>
<circle cx="177.9" cy="558.8"/>
<circle cx="158.3" cy="578.8"/>
<circle cx="235.1" cy="517"/>
<circle cx="122.7" cy="595.6"/>
<circle cx="186.2" cy="551.1"/>
<circle cx="210.5" cy="534.1"/>
<circle cx="240.1" cy="517.1"/>
<circle cx="205" cy="539.7"/>
<circle cx="122.8" cy="593.5"/>
</g>
<path d="M174.2 561.4L189.1 549.2" stroke="#04102a" stroke-opacity=".55" stroke-width="2.6" stroke-linecap="round"/>
<path d="M41.1 669.3L324.5 439.4" stroke="#000" stroke-opacity="0.7" stroke-width="1.6" stroke-dasharray="4.8 2.1" fill="none"/>
<path d="M104.1 669.3v-4M104.1 439.4v4M41.1 618.2h4M324.5 618.2h-4M182.8 669.3v-4M182.8 439.4v4M41.1 554.3h4M324.5 554.3h-4M261.5 669.3v-4M261.5 439.4v4M41.1 490.5h4M324.5 490.5h-4" stroke="#444" stroke-width=".6"/>
<rect x="41.1" y="439.4" width="283.4" height="229.9" fill="none" stroke="#111" stroke-width="1.3"/>
<g class="u">
<text x="103.7" y="682.4" text-anchor="middle"><tspan textLength="12.1" lengthAdjust="spacingAndGlyphs">−</tspan>5</text>
<text x="38.9" y="624.5" text-anchor="end"><tspan textLength="12.1" lengthAdjust="spacingAndGlyphs">−</tspan>5</text>
<text x="182.8" y="682.4" text-anchor="middle">0</text>
<text x="38.9" y="560.6" text-anchor="end">0</text>
<text x="261.5" y="682.4" text-anchor="middle">5</text>
<text x="38.9" y="496.8" text-anchor="end">5</text>
</g>
<g class="v">
<text x="118.6" y="698.9" textLength="127.8">Ground truth (<tspan class="i">k</tspan><tspan dy="3" font-size="11.4" class="i">B</tspan><tspan dy="-3" class="i">T</tspan>)</text>
<text transform="translate(14.8 556) rotate(-90)" x="-52" textLength="103.4">Prediction (<tspan class="i">k</tspan><tspan dy="3" font-size="11.4" class="i">B</tspan><tspan dy="-3" class="i">T</tspan>)</text>
<text y="649.3"><tspan x="164.4" textLength="45.6">RMSE</tspan><tspan x="216.7" textLength="10.6" lengthAdjust="spacingAndGlyphs">=</tspan><tspan x="233.2" textLength="42.9">0.0547</tspan><tspan x="277.3" class="i">k</tspan><tspan x="286" dy="3" font-size="11.6" class="i">B</tspan><tspan x="296" dy="-3" class="i" font-size="17">T</tspan></text>
</g>
<g class="p">
<circle cx="549.4" cy="548.8"/>
<circle cx="587.5" cy="507.9"/>
<circle cx="545.1" cy="552.1"/>
<circle cx="593.3" cy="512.7"/>
<circle cx="539.7" cy="557.2"/>
<circle cx="537" cy="557.3"/>
<circle cx="536.1" cy="559.4"/>
<circle cx="544.5" cy="553.1"/>
<circle cx="586.5" cy="508.2"/>
<circle cx="559.9" cy="538.6"/>
<circle cx="562.9" cy="536.9"/>
<circle cx="534.8" cy="559.9"/>
<circle cx="528.1" cy="567.7"/>
<circle cx="526.8" cy="570.8"/>
<circle cx="589.9" cy="510.1"/>
<circle cx="551.3" cy="546.5"/>
<circle cx="592.9" cy="517.4"/>
<circle cx="540.3" cy="556.8"/>
<circle cx="524.2" cy="567.8"/>
<circle cx="516.2" cy="574.2"/>
<circle cx="562.1" cy="537.7"/>
<circle cx="544.3" cy="552.7"/>
<circle cx="591.4" cy="514.4"/>
<circle cx="531.8" cy="562.8"/>
<circle cx="594.1" cy="509.6"/>
<circle cx="503.1" cy="586.7"/>
<circle cx="546.8" cy="549.8"/>
<circle cx="563.3" cy="536.7"/>
<circle cx="526.6" cy="568.2"/>
<circle cx="556.8" cy="542.4"/>
<circle cx="531.5" cy="562.6"/>
<circle cx="548.2" cy="548.9"/>
<circle cx="565.5" cy="533"/>
<circle cx="544.5" cy="553.1"/>
<circle cx="553.2" cy="545.3"/>
<circle cx="562.3" cy="536.6"/>
<circle cx="604.4" cy="510.9"/>
<circle cx="527" cy="566.9"/>
<circle cx="514.4" cy="579.8"/>
<circle cx="533.4" cy="559.9"/>
<circle cx="551.4" cy="546.7"/>
<circle cx="527.1" cy="570.5"/>
<circle cx="541.6" cy="554.9"/>
<circle cx="537.8" cy="558.4"/>
<circle cx="589.6" cy="520.4"/>
<circle cx="563.8" cy="533.2"/>
<circle cx="571.5" cy="523.8"/>
<circle cx="534.4" cy="559.8"/>
<circle cx="586.6" cy="510.7"/>
<circle cx="550.1" cy="547.9"/>
<circle cx="538.6" cy="558.7"/>
<circle cx="537.9" cy="560.2"/>
<circle cx="511.8" cy="576.1"/>
<circle cx="568.9" cy="524.7"/>
<circle cx="516.2" cy="573.2"/>
<circle cx="519.5" cy="573.7"/>
<circle cx="564.5" cy="537"/>
<circle cx="548.1" cy="549.8"/>
<circle cx="589.6" cy="507.7"/>
<circle cx="560.7" cy="539.1"/>
<circle cx="556" cy="542.6"/>
<circle cx="535.3" cy="560.5"/>
<circle cx="589.4" cy="507.8"/>
<circle cx="537.7" cy="557.9"/>
<circle cx="543.9" cy="553"/>
<circle cx="562.2" cy="535.8"/>
<circle cx="523.5" cy="571.1"/>
<circle cx="548.2" cy="550.1"/>
<circle cx="507.2" cy="585"/>
<circle cx="545" cy="552.6"/>
<circle cx="612.4" cy="511.4"/>
<circle cx="576.8" cy="522.1"/>
<circle cx="577.1" cy="519.9"/>
<circle cx="510.4" cy="580.8"/>
<circle cx="546.8" cy="549.9"/>
<circle cx="532.3" cy="562.9"/>
<circle cx="579" cy="515.5"/>
<circle cx="548.7" cy="547.9"/>
<circle cx="537.9" cy="559.2"/>
<circle cx="550.5" cy="547.6"/>
<circle cx="552.9" cy="546.7"/>
<circle cx="551.6" cy="546.7"/>
<circle cx="526.1" cy="570.3"/>
<circle cx="546.9" cy="550.2"/>
<circle cx="507.9" cy="582.8"/>
<circle cx="505.1" cy="582.9"/>
<circle cx="501.4" cy="585.3"/>
<circle cx="553.5" cy="546.4"/>
<circle cx="558.4" cy="540.3"/>
<circle cx="509.9" cy="575.8"/>
<circle cx="526.6" cy="571.2"/>
<circle cx="608.6" cy="510.2"/>
<circle cx="563.3" cy="534.7"/>
<circle cx="556" cy="540.2"/>
<circle cx="541.1" cy="556.2"/>
<circle cx="537.4" cy="557.8"/>
<circle cx="542.7" cy="554.4"/>
<circle cx="555.9" cy="542.2"/>
<circle cx="526" cy="568.9"/>
<circle cx="539.3" cy="557.5"/>
<circle cx="561.1" cy="539.2"/>
<circle cx="602.9" cy="511.4"/>
<circle cx="522.5" cy="570.5"/>
<circle cx="542.5" cy="554.9"/>
<circle cx="536.4" cy="561.2"/>
<circle cx="585.7" cy="512"/>
<circle cx="508.8" cy="579.5"/>
<circle cx="549.3" cy="549"/>
<circle cx="505" cy="588.1"/>
<circle cx="540" cy="556.4"/>
<circle cx="526" cy="571.3"/>
<circle cx="545.4" cy="551.5"/>
<circle cx="522.7" cy="565.1"/>
<circle cx="540.5" cy="556.5"/>
<circle cx="571.9" cy="522.3"/>
<circle cx="551.8" cy="545.6"/>
<circle cx="502.5" cy="587.1"/>
<circle cx="599.1" cy="512.1"/>
<circle cx="602.7" cy="510.4"/>
<circle cx="607.3" cy="513"/>
<circle cx="545.7" cy="551.6"/>
<circle cx="533.3" cy="561.4"/>
<circle cx="550.5" cy="547.6"/>
<circle cx="546.6" cy="551.4"/>
<circle cx="544.7" cy="553.4"/>
<circle cx="537.8" cy="558.1"/>
<circle cx="561.4" cy="537"/>
<circle cx="580.3" cy="514.5"/>
<circle cx="541.7" cy="554.8"/>
<circle cx="504.8" cy="583.4"/>
<circle cx="506.8" cy="583.5"/>
<circle cx="523" cy="573"/>
<circle cx="591.2" cy="514.8"/>
<circle cx="587.7" cy="515.9"/>
<circle cx="581.2" cy="511"/>
<circle cx="541.4" cy="555.8"/>
<circle cx="598.2" cy="515.2"/>
<circle cx="535.6" cy="561.5"/>
<circle cx="545.4" cy="552"/>
<circle cx="544.7" cy="553.3"/>
<circle cx="506.8" cy="583.6"/>
<circle cx="553.9" cy="544.5"/>
<circle cx="519.8" cy="572.9"/>
<circle cx="529.4" cy="563.4"/>
<circle cx="532.9" cy="559.9"/>
<circle cx="595.1" cy="514.6"/>
<circle cx="555.2" cy="541.7"/>
<circle cx="528.1" cy="567.2"/>
<circle cx="538.6" cy="556.9"/>
<circle cx="575.4" cy="512.4"/>
<circle cx="557.6" cy="542.2"/>
<circle cx="548" cy="550.1"/>
<circle cx="536.9" cy="560.7"/>
<circle cx="525.7" cy="565"/>
<circle cx="507" cy="580.8"/>
<circle cx="562.5" cy="537.1"/>
<circle cx="598.8" cy="511.7"/>
<circle cx="534.8" cy="560.1"/>
<circle cx="562.3" cy="534.8"/>
<circle cx="500.1" cy="589.6"/>
<circle cx="611.6" cy="512.9"/>
<circle cx="565.2" cy="533.1"/>
<circle cx="585.3" cy="520.3"/>
<circle cx="511.5" cy="582.9"/>
<circle cx="624.5" cy="504.3"/>
<circle cx="537.7" cy="556.4"/>
<circle cx="504.7" cy="585.2"/>
<circle cx="523.8" cy="569.7"/>
<circle cx="533.1" cy="561.9"/>
<circle cx="593" cy="509"/>
<circle cx="542.3" cy="554.1"/>
<circle cx="612" cy="511.6"/>
<circle cx="542.8" cy="554.4"/>
<circle cx="510.5" cy="580.3"/>
<circle cx="504.4" cy="585.7"/>
<circle cx="553.2" cy="544"/>
<circle cx="513.4" cy="578.8"/>
<circle cx="594.2" cy="514.7"/>
<circle cx="529.7" cy="565.3"/>
<circle cx="543.8" cy="553.2"/>
<circle cx="583.4" cy="511.1"/>
<circle cx="603.7" cy="511.5"/>
<circle cx="605.4" cy="513.1"/>
<circle cx="533.6" cy="562.7"/>
<circle cx="529.5" cy="561.7"/>
<circle cx="609.4" cy="511.5"/>
<circle cx="538.3" cy="558.3"/>
<circle cx="526.4" cy="570.6"/>
<circle cx="510.9" cy="576.5"/>
<circle cx="546.1" cy="551.6"/>
<circle cx="525.9" cy="567.2"/>
<circle cx="541.6" cy="555.2"/>
<circle cx="546" cy="551.6"/>
<circle cx="599.3" cy="514.4"/>
<circle cx="602.4" cy="514.5"/>
<circle cx="555.6" cy="543.4"/>
<circle cx="527.9" cy="568"/>
<circle cx="548.9" cy="549.6"/>
<circle cx="544" cy="553.4"/>
<circle cx="632.1" cy="495.6"/>
<circle cx="554.6" cy="541.4"/>
<circle cx="534.5" cy="559.1"/>
<circle cx="539.3" cy="556.6"/>
<circle cx="544.9" cy="552"/>
<circle cx="555.3" cy="544.6"/>
<circle cx="536.2" cy="559.5"/>
<circle cx="553.3" cy="545.2"/>
<circle cx="612.3" cy="512.2"/>
<circle cx="539.6" cy="557.4"/>
<circle cx="533.7" cy="560.1"/>
<circle cx="530.3" cy="562.5"/>
<circle cx="542.9" cy="554.2"/>
<circle cx="545.3" cy="552.2"/>
<circle cx="527.1" cy="566"/>
<circle cx="541.3" cy="555.1"/>
<circle cx="545.9" cy="551.4"/>
<circle cx="564.3" cy="534.9"/>
<circle cx="541.8" cy="554.4"/>
<circle cx="547.9" cy="549.9"/>
<circle cx="509.7" cy="577.9"/>
<circle cx="597" cy="514.6"/>
<circle cx="533.2" cy="561.3"/>
<circle cx="580.6" cy="512.8"/>
<circle cx="532.5" cy="563.9"/>
<circle cx="596.8" cy="514.2"/>
<circle cx="545.8" cy="551.9"/>
<circle cx="550.5" cy="546.2"/>
<circle cx="541.6" cy="554.8"/>
<circle cx="504.1" cy="588.5"/>
<circle cx="524.6" cy="574.9"/>
<circle cx="536.8" cy="557.7"/>
<circle cx="566.8" cy="532.5"/>
<circle cx="540" cy="557.4"/>
<circle cx="554.9" cy="542.8"/>
<circle cx="559" cy="539.3"/>
<circle cx="570" cy="522"/>
<circle cx="515.9" cy="576.1"/>
<circle cx="534.6" cy="561.4"/>
<circle cx="541.7" cy="555.5"/>
<circle cx="540.7" cy="557.1"/>
<circle cx="534.7" cy="559.4"/>
<circle cx="525.1" cy="568.7"/>
<circle cx="507.7" cy="581.2"/>
<circle cx="567" cy="526"/>
<circle cx="585.9" cy="513.5"/>
<circle cx="545" cy="552.3"/>
<circle cx="594.3" cy="518.1"/>
<circle cx="573.8" cy="520.2"/>
<circle cx="542.7" cy="554.8"/>
<circle cx="540.8" cy="557.4"/>
<circle cx="595.8" cy="514"/>
<circle cx="533.6" cy="561.8"/>
<circle cx="528.3" cy="565.8"/>
<circle cx="532.7" cy="563.4"/>
<circle cx="570" cy="528.2"/>
<circle cx="513.2" cy="573.2"/>
<circle cx="575" cy="522.3"/>
<circle cx="576" cy="516.1"/>
<circle cx="541.5" cy="555.1"/>
<circle cx="607.3" cy="509.7"/>
<circle cx="511.7" cy="580.7"/>
<circle cx="561.4" cy="535"/>
<circle cx="522.9" cy="571.6"/>
<circle cx="535.9" cy="559.7"/>
<circle cx="534.9" cy="560.3"/>
<circle cx="524.4" cy="563.7"/>
<circle cx="539.2" cy="558.7"/>
<circle cx="522.9" cy="573.8"/>
<circle cx="528.1" cy="564.4"/>
<circle cx="600.8" cy="525.4"/>
<circle cx="509.2" cy="581.4"/>
<circle cx="526.4" cy="569.8"/>
<circle cx="581.7" cy="512.1"/>
<circle cx="572.5" cy="518"/>
<circle cx="585.4" cy="515.4"/>
<circle cx="536" cy="561"/>
<circle cx="604.3" cy="511.7"/>
<circle cx="542.7" cy="554.6"/>
<circle cx="599.1" cy="513.5"/>
<circle cx="541.9" cy="555.1"/>
<circle cx="526.4" cy="566.7"/>
<circle cx="603.4" cy="511.6"/>
<circle cx="528.3" cy="563.4"/>
<circle cx="576.5" cy="519.6"/>
<circle cx="548.6" cy="548.5"/>
<circle cx="542.2" cy="553.9"/>
<circle cx="509.3" cy="581.3"/>
<circle cx="607.2" cy="516"/>
<circle cx="544.2" cy="553"/>
<circle cx="587.9" cy="508.2"/>
<circle cx="503.3" cy="587.4"/>
<circle cx="510.9" cy="573.1"/>
<circle cx="520.5" cy="574.4"/>
<circle cx="517.4" cy="578.3"/>
<circle cx="550.4" cy="548.6"/>
<circle cx="523.5" cy="568.1"/>
<circle cx="512.1" cy="577.5"/>
<circle cx="599.5" cy="510.9"/>
<circle cx="584" cy="513.7"/>
<circle cx="505.6" cy="582.5"/>
<circle cx="554.2" cy="543.3"/>
<circle cx="539.5" cy="556.5"/>
<circle cx="522.6" cy="570.8"/>
<circle cx="543.5" cy="553.2"/>
<circle cx="594.5" cy="509.9"/>
<circle cx="552" cy="547.2"/>
<circle cx="505.1" cy="583.7"/>
<circle cx="546.8" cy="550.5"/>
<circle cx="500.6" cy="590.2"/>
<circle cx="546.5" cy="551.5"/>
<circle cx="588.2" cy="512.2"/>
<circle cx="535.9" cy="560.9"/>
<circle cx="549.3" cy="548.6"/>
<circle cx="539.3" cy="556.6"/>
<circle cx="576.1" cy="520.2"/>
<circle cx="545.7" cy="551.6"/>
<circle cx="561.5" cy="535.4"/>
<circle cx="516.7" cy="579.9"/>
<circle cx="532.4" cy="560.7"/>
<circle cx="571" cy="528.1"/>
<circle cx="550.2" cy="546.2"/>
<circle cx="543.2" cy="553.9"/>
<circle cx="543.4" cy="553.7"/>
<circle cx="610" cy="512.6"/>
<circle cx="530.5" cy="560.4"/>
<circle cx="512.1" cy="587.1"/>
<circle cx="578.4" cy="520.9"/>
<circle cx="563.2" cy="535.5"/>
<circle cx="598.3" cy="511.1"/>
<circle cx="526.8" cy="572.3"/>
<circle cx="535.5" cy="561.2"/>
<circle cx="536.9" cy="560.5"/>
<circle cx="539.2" cy="557.4"/>
<circle cx="586.4" cy="517"/>
<circle cx="536.2" cy="560.7"/>
<circle cx="508.4" cy="582.4"/>
<circle cx="582.1" cy="521.7"/>
<circle cx="591.3" cy="516"/>
<circle cx="511" cy="580.4"/>
<circle cx="574.5" cy="524.6"/>
<circle cx="533.2" cy="561"/>
<circle cx="552.4" cy="545.7"/>
<circle cx="546.4" cy="551.1"/>
<circle cx="596" cy="511.9"/>
<circle cx="540.6" cy="556.6"/>
<circle cx="528.8" cy="570.1"/>
<circle cx="536.3" cy="558.2"/>
<circle cx="542.2" cy="555"/>
<circle cx="528.6" cy="569.2"/>
<circle cx="611.1" cy="513"/>
<circle cx="604.5" cy="515.5"/>
<circle cx="568.7" cy="528.2"/>
<circle cx="577.9" cy="509.2"/>
<circle cx="538" cy="558.3"/>
<circle cx="570.9" cy="517.5"/>
<circle cx="582.3" cy="515.8"/>
<circle cx="548.7" cy="550.1"/>
<circle cx="556.6" cy="543.1"/>
<circle cx="543.7" cy="553.9"/>
<circle cx="535.1" cy="561.4"/>
<circle cx="519.5" cy="575.3"/>
<circle cx="545" cy="552.5"/>
<circle cx="502.7" cy="589.8"/>
<circle cx="604.7" cy="512.3"/>
<circle cx="529.7" cy="567.1"/>
<circle cx="533.9" cy="562.4"/>
<circle cx="556.5" cy="541.5"/>
<circle cx="511.8" cy="575.8"/>
<circle cx="555.7" cy="543.9"/>
<circle cx="533.5" cy="563.8"/>
<circle cx="603.7" cy="515.1"/>
<circle cx="542.5" cy="554.2"/>
<circle cx="537" cy="557.5"/>
<circle cx="578" cy="517.4"/>
<circle cx="538.2" cy="559.9"/>
<circle cx="549.5" cy="548.1"/>
<circle cx="519.3" cy="572.3"/>
<circle cx="587.9" cy="517.3"/>
<circle cx="512.8" cy="583.3"/>
<circle cx="610.2" cy="512.7"/>
<circle cx="553.3" cy="544"/>
<circle cx="582.3" cy="516.2"/>
<circle cx="617.6" cy="510.9"/>
<circle cx="610.4" cy="510.3"/>
<circle cx="578.7" cy="512.4"/>
<circle cx="583.7" cy="521.3"/>
<circle cx="543.6" cy="553.7"/>
<circle cx="537.1" cy="558.9"/>
<circle cx="574" cy="521.7"/>
<circle cx="522.9" cy="571.6"/>
<circle cx="540.4" cy="555.2"/>
<circle cx="545.8" cy="551.6"/>
<circle cx="586.3" cy="521.3"/>
<circle cx="557.8" cy="541.2"/>
<circle cx="527.3" cy="567.7"/>
<circle cx="532.1" cy="562.6"/>
<circle cx="526.9" cy="564.7"/>
<circle cx="550.4" cy="547.4"/>
<circle cx="595.3" cy="511.2"/>
<circle cx="518.2" cy="570.4"/>
<circle cx="540.2" cy="556.4"/>
<circle cx="549.5" cy="548.1"/>
<circle cx="550.8" cy="547.6"/>
<circle cx="563.4" cy="535.2"/>
<circle cx="544.2" cy="553.3"/>
<circle cx="610" cy="514.6"/>
<circle cx="538.2" cy="557.8"/>
<circle cx="503.2" cy="584.3"/>
<circle cx="566.9" cy="527.7"/>
<circle cx="536.8" cy="559.8"/>
<circle cx="505.9" cy="582"/>
<circle cx="571.2" cy="522.2"/>
<circle cx="520.3" cy="572.8"/>
<circle cx="566.5" cy="530.2"/>
<circle cx="564.7" cy="533.1"/>
<circle cx="519" cy="568.1"/>
<circle cx="506.1" cy="587.7"/>
<circle cx="538.8" cy="557.9"/>
<circle cx="500.7" cy="589.6"/>
<circle cx="513.4" cy="575.3"/>
<circle cx="592" cy="519.1"/>
<circle cx="535.1" cy="560"/>
<circle cx="602.5" cy="514.2"/>
<circle cx="578" cy="515.9"/>
<circle cx="541.9" cy="555.6"/>
<circle cx="535.6" cy="562.1"/>
<circle cx="517.9" cy="570.8"/>
<circle cx="560.8" cy="538.1"/>
<circle cx="502.7" cy="585.9"/>
<circle cx="536.8" cy="559"/>
<circle cx="545.9" cy="552.6"/>
<circle cx="565" cy="533.4"/>
<circle cx="538.4" cy="559.9"/>
<circle cx="547.9" cy="549.2"/>
<circle cx="578.8" cy="518.3"/>
<circle cx="541" cy="556.1"/>
<circle cx="549.1" cy="548.8"/>
<circle cx="522.9" cy="566.4"/>
<circle cx="502.6" cy="587.3"/>
<circle cx="563.5" cy="535.7"/>
<circle cx="537.5" cy="558.9"/>
<circle cx="583.7" cy="518.7"/>
<circle cx="547.4" cy="550.2"/>
<circle cx="572" cy="525"/>
<circle cx="548.1" cy="549"/>
<circle cx="570.8" cy="524.7"/>
<circle cx="573.8" cy="517.4"/>
<circle cx="557.4" cy="542.6"/>
<circle cx="538.2" cy="557.4"/>
<circle cx="522" cy="572.5"/>
<circle cx="546.2" cy="550.9"/>
<circle cx="548.6" cy="548.5"/>
<circle cx="581.3" cy="514.4"/>
<circle cx="566.8" cy="529.5"/>
<circle cx="533.3" cy="564.1"/>
<circle cx="510.6" cy="574.3"/>
<circle cx="539.8" cy="555.6"/>
<circle cx="575.9" cy="510.5"/>
<circle cx="574.3" cy="522.8"/>
<circle cx="540.2" cy="556"/>
<circle cx="502" cy="585.7"/>
<circle cx="612.6" cy="511.4"/>
<circle cx="548.7" cy="549.9"/>
<circle cx="550.1" cy="546.2"/>
<circle cx="518.9" cy="573.2"/>
<circle cx="541.6" cy="555.6"/>
<circle cx="580" cy="509.8"/>
<circle cx="523.6" cy="571.1"/>
<circle cx="513.4" cy="582.9"/>
<circle cx="521" cy="573.7"/>
<circle cx="576.8" cy="512.4"/>
<circle cx="533.5" cy="562.7"/>
<circle cx="544.3" cy="553.6"/>
<circle cx="514.5" cy="579.6"/>
<circle cx="547.3" cy="550.7"/>
<circle cx="529.8" cy="562.9"/>
<circle cx="581.3" cy="510.9"/>
<circle cx="556.3" cy="542.3"/>
<circle cx="586.6" cy="514.9"/>
<circle cx="527" cy="564.1"/>
<circle cx="541.6" cy="554.6"/>
<circle cx="562.1" cy="536.6"/>
<circle cx="538.5" cy="558.4"/>
<circle cx="517.1" cy="576.6"/>
<circle cx="603.5" cy="509.7"/>
<circle cx="541.7" cy="554.4"/>
<circle cx="501.6" cy="587.6"/>
<circle cx="573.6" cy="521.1"/>
<circle cx="502.3" cy="585.7"/>
<circle cx="535.6" cy="560"/>
<circle cx="559.2" cy="539"/>
<circle cx="583.3" cy="509.1"/>
<circle cx="548.7" cy="549.5"/>
<circle cx="557.8" cy="541.9"/>
<circle cx="531.4" cy="566"/>
<circle cx="607.7" cy="513"/>
<circle cx="590.4" cy="511.4"/>
<circle cx="577.4" cy="519.3"/>
<circle cx="531.2" cy="564.4"/>
<circle cx="537.8" cy="558.9"/>
<circle cx="556.4" cy="540.4"/>
<circle cx="539.4" cy="557.6"/>
<circle cx="512.2" cy="582.7"/>
<circle cx="513.1" cy="579.6"/>
<circle cx="552.1" cy="544.4"/>
<circle cx="527.2" cy="566.6"/>
<circle cx="534.6" cy="561.9"/>
<circle cx="538.2" cy="557.7"/>
<circle cx="559.1" cy="539.2"/>
<circle cx="563" cy="535.7"/>
<circle cx="509.8" cy="582"/>
<circle cx="585.9" cy="510.2"/>
<circle cx="534.1" cy="563.2"/>
<circle cx="540.4" cy="556.6"/>
<circle cx="548" cy="549.7"/>
<circle cx="532.9" cy="562.1"/>
<circle cx="571.7" cy="516.6"/>
<circle cx="531.9" cy="561.1"/>
<circle cx="552" cy="544.2"/>
<circle cx="528.4" cy="564.5"/>
<circle cx="517.9" cy="572.2"/>
<circle cx="545.2" cy="552.6"/>
<circle cx="536.2" cy="558.5"/>
<circle cx="530" cy="564.2"/>
<circle cx="540.5" cy="556.5"/>
<circle cx="558.1" cy="541.4"/>
<circle cx="526" cy="564.2"/>
<circle cx="595.3" cy="510.4"/>
<circle cx="555.1" cy="542.2"/>
<circle cx="534.6" cy="560.5"/>
<circle cx="521.8" cy="567.5"/>
<circle cx="603.5" cy="512.9"/>
<circle cx="503.5" cy="587.7"/>
<circle cx="540.2" cy="556.6"/>
<circle cx="528.7" cy="564.5"/>
<circle cx="513.2" cy="578.1"/>
<circle cx="545.3" cy="551.4"/>
<circle cx="556.6" cy="540.8"/>
<circle cx="525.7" cy="566.9"/>
<circle cx="523.5" cy="570.8"/>
<circle cx="509.5" cy="582.2"/>
<circle cx="550.1" cy="547.7"/>
<circle cx="592.5" cy="519.6"/>
<circle cx="567.8" cy="525.3"/>
<circle cx="563.9" cy="537.5"/>
<circle cx="504.3" cy="582.2"/>
<circle cx="526.8" cy="569"/>
<circle cx="578.1" cy="522.2"/>
<circle cx="561.8" cy="537.8"/>
<circle cx="541.5" cy="555.7"/>
<circle cx="600.6" cy="510"/>
<circle cx="591.2" cy="517.4"/>
<circle cx="577.9" cy="509.3"/>
<circle cx="513.2" cy="571.8"/>
<circle cx="605.9" cy="513.5"/>
<circle cx="510.1" cy="578"/>
<circle cx="528.1" cy="563.7"/>
<circle cx="517.4" cy="579.6"/>
<circle cx="551.7" cy="546.5"/>
<circle cx="550.4" cy="547.2"/>
<circle cx="529.9" cy="565"/>
<circle cx="542.9" cy="554.2"/>
<circle cx="550.9" cy="547.3"/>
<circle cx="604.1" cy="512.5"/>
<circle cx="544.9" cy="552.3"/>
<circle cx="548.9" cy="550.2"/>
<circle cx="539.4" cy="556.6"/>
<circle cx="540.9" cy="555.7"/>
<circle cx="537.2" cy="559.4"/>
<circle cx="577.7" cy="517.3"/>
<circle cx="543.1" cy="554"/>
<circle cx="556" cy="542.8"/>
<circle cx="546.1" cy="551.3"/>
<circle cx="527.9" cy="563.7"/>
<circle cx="544.2" cy="553.4"/>
<circle cx="529" cy="565.5"/>
<circle cx="526.1" cy="567.3"/>
<circle cx="506" cy="578.9"/>
<circle cx="523.3" cy="566.8"/>
<circle cx="570.7" cy="520.7"/>
<circle cx="523.7" cy="570.8"/>
<circle cx="541.2" cy="554.9"/>
<circle cx="608.4" cy="510"/>
<circle cx="513" cy="576.7"/>
<circle cx="554.9" cy="543.3"/>
<circle cx="521.2" cy="566.9"/>
<circle cx="588.7" cy="511.4"/>
<circle cx="538.3" cy="556.4"/>
<circle cx="545.3" cy="552.2"/>
<circle cx="576.1" cy="520.7"/>
<circle cx="545.2" cy="551.4"/>
<circle cx="513" cy="575.6"/>
<circle cx="559.5" cy="538.6"/>
<circle cx="543.9" cy="552.9"/>
<circle cx="610.2" cy="512.5"/>
<circle cx="538.3" cy="558.2"/>
<circle cx="526.3" cy="565.5"/>
<circle cx="553.5" cy="544"/>
<circle cx="551.1" cy="547.6"/>
<circle cx="517.8" cy="570.9"/>
<circle cx="608.7" cy="512"/>
<circle cx="533.9" cy="562.3"/>
<circle cx="580.6" cy="509.8"/>
<circle cx="545.1" cy="552.3"/>
<circle cx="543.8" cy="553.4"/>
<circle cx="508.6" cy="582.3"/>
<circle cx="570.7" cy="528.5"/>
<circle cx="538.4" cy="556.6"/>
<circle cx="596.2" cy="510.3"/>
<circle cx="539.6" cy="556.8"/>
<circle cx="593.7" cy="516"/>
<circle cx="561.8" cy="536.4"/>
<circle cx="534.4" cy="561.5"/>
<circle cx="588.1" cy="509.9"/>
<circle cx="545.5" cy="552.5"/>
<circle cx="612.7" cy="512.3"/>
<circle cx="510.9" cy="582.2"/>
<circle cx="518.1" cy="571.9"/>
<circle cx="512.5" cy="572.7"/>
<circle cx="571.8" cy="521"/>
<circle cx="500.3" cy="588.9"/>
<circle cx="577" cy="516.3"/>
<circle cx="544.9" cy="551.9"/>
<circle cx="537.6" cy="556.3"/>
<circle cx="546.4" cy="550.8"/>
<circle cx="558.8" cy="540.7"/>
<circle cx="515.3" cy="577.1"/>
<circle cx="525.6" cy="573.7"/>
<circle cx="507.1" cy="584.1"/>
<circle cx="550.3" cy="547.6"/>
<circle cx="510.5" cy="586.1"/>
<circle cx="537.2" cy="559"/>
<circle cx="584.7" cy="518.1"/>
<circle cx="546.2" cy="550.8"/>
<circle cx="540.5" cy="556.6"/>
<circle cx="537.2" cy="559.4"/>
<circle cx="608.3" cy="515.6"/>
<circle cx="587.6" cy="518.2"/>
<circle cx="591.3" cy="518.2"/>
<circle cx="572.2" cy="527.8"/>
<circle cx="536.4" cy="559"/>
<circle cx="608.5" cy="509.9"/>
<circle cx="572.1" cy="523.5"/>
<circle cx="541.4" cy="554.8"/>
<circle cx="547.2" cy="550.1"/>
<circle cx="588.9" cy="508.8"/>
<circle cx="530" cy="563.6"/>
<circle cx="525.7" cy="567.4"/>
<circle cx="519.3" cy="577.3"/>
<circle cx="605" cy="513.2"/>
<circle cx="548.3" cy="550"/>
<circle cx="555.2" cy="542.7"/>
<circle cx="537.8" cy="559.8"/>
<circle cx="537.6" cy="557.3"/>
<circle cx="561.5" cy="538.9"/>
<circle cx="573" cy="520.8"/>
<circle cx="530.4" cy="562.6"/>
<circle cx="586.7" cy="514.3"/>
<circle cx="553.4" cy="545.7"/>
<circle cx="557.5" cy="539.3"/>
<circle cx="521.8" cy="572.3"/>
<circle cx="533.3" cy="559.7"/>
<circle cx="501.2" cy="587.8"/>
<circle cx="606.9" cy="511.2"/>
<circle cx="536.8" cy="559.4"/>
<circle cx="566.8" cy="533.1"/>
<circle cx="547" cy="549.9"/>
<circle cx="500.3" cy="590.4"/>
<circle cx="556.3" cy="540.9"/>
<circle cx="541.3" cy="555.3"/>
<circle cx="538.6" cy="557.8"/>
<circle cx="541.8" cy="554.4"/>
<circle cx="541.5" cy="554.5"/>
<circle cx="564.3" cy="533.4"/>
<circle cx="541.6" cy="555.2"/>
<circle cx="539.2" cy="557.6"/>
<circle cx="520.9" cy="570.6"/>
<circle cx="581" cy="517.6"/>
<circle cx="637.3" cy="477.8"/>
<circle cx="544.8" cy="551.7"/>
<circle cx="601.5" cy="511.9"/>
<circle cx="554.5" cy="542.6"/>
<circle cx="597.6" cy="514.2"/>
<circle cx="547.2" cy="550.3"/>
<circle cx="547.9" cy="550.7"/>
<circle cx="512.7" cy="577.3"/>
<circle cx="590.7" cy="510.5"/>
<circle cx="514.5" cy="577.8"/>
<circle cx="502.8" cy="584.9"/>
<circle cx="609.9" cy="514.3"/>
<circle cx="559.6" cy="540.5"/>
<circle cx="564.3" cy="534.1"/>
<circle cx="549.5" cy="549.2"/>
<circle cx="507.1" cy="584.2"/>
<circle cx="540.6" cy="556.9"/>
<circle cx="544.9" cy="551.7"/>
<circle cx="553.9" cy="544.2"/>
<circle cx="541.1" cy="555.6"/>
<circle cx="574.8" cy="525.2"/>
<circle cx="598.9" cy="510.5"/>
<circle cx="535.1" cy="560.2"/>
<circle cx="586.9" cy="519.2"/>
<circle cx="611.1" cy="514.4"/>
<circle cx="524.2" cy="570.5"/>
<circle cx="534.1" cy="559.7"/>
<circle cx="576.3" cy="514"/>
<circle cx="522.1" cy="571.6"/>
<circle cx="558.9" cy="540.5"/>
<circle cx="573.3" cy="521.8"/>
<circle cx="534.6" cy="559.2"/>
<circle cx="541.2" cy="555.7"/>
<circle cx="594.6" cy="510.8"/>
<circle cx="574.1" cy="517.4"/>
<circle cx="538.4" cy="558.8"/>
<circle cx="535.6" cy="558.4"/>
<circle cx="506.8" cy="584.9"/>
<circle cx="591.8" cy="511.8"/>
<circle cx="547.3" cy="550"/>
<circle cx="585.2" cy="514.3"/>
<circle cx="588.1" cy="513.3"/>
<circle cx="571.6" cy="514.1"/>
<circle cx="516.3" cy="575.8"/>
<circle cx="599.1" cy="515.5"/>
<circle cx="539.8" cy="556.8"/>
<circle cx="576.2" cy="515.3"/>
<circle cx="577.8" cy="521.1"/>
<circle cx="540.8" cy="556.6"/>
<circle cx="560.2" cy="537.6"/>
<circle cx="506" cy="586.7"/>
<circle cx="561" cy="538"/>
<circle cx="557.6" cy="541"/>
<circle cx="540.1" cy="557.2"/>
<circle cx="575.8" cy="514.5"/>
<circle cx="587" cy="511.8"/>
<circle cx="509.4" cy="578.7"/>
<circle cx="513.1" cy="585.7"/>
<circle cx="515.2" cy="570.4"/>
<circle cx="504.5" cy="582.5"/>
<circle cx="530.9" cy="567"/>
<circle cx="596" cy="514.7"/>
<circle cx="535" cy="563.7"/>
<circle cx="574.6" cy="520.1"/>
<circle cx="538.4" cy="556.3"/>
<circle cx="596.2" cy="517.3"/>
<circle cx="598.8" cy="515.7"/>
<circle cx="612.2" cy="512.6"/>
<circle cx="569.2" cy="526.2"/>
<circle cx="515.4" cy="584.6"/>
<circle cx="531.9" cy="566.8"/>
<circle cx="539.7" cy="558.2"/>
<circle cx="570.4" cy="522"/>
<circle cx="525.8" cy="568.7"/>
<circle cx="606.9" cy="510.3"/>
<circle cx="585.1" cy="507.7"/>
<circle cx="552.4" cy="545.6"/>
<circle cx="555.1" cy="545.1"/>
<circle cx="558.2" cy="540.8"/>
<circle cx="554.7" cy="542.3"/>
<circle cx="513.7" cy="576.8"/>
<circle cx="542.2" cy="555.2"/>
<circle cx="547.2" cy="549.1"/>
<circle cx="542.2" cy="554.6"/>
<circle cx="567.5" cy="523.6"/>
<circle cx="550.8" cy="548.3"/>
<circle cx="522.9" cy="568.4"/>
<circle cx="558" cy="541.2"/>
<circle cx="607.8" cy="515.9"/>
<circle cx="509.5" cy="582.3"/>
<circle cx="534.2" cy="562.2"/>
<circle cx="526" cy="571.2"/>
<circle cx="504.5" cy="583.1"/>
<circle cx="530.2" cy="563.8"/>
<circle cx="523.4" cy="569.8"/>
<circle cx="554.5" cy="542.9"/>
<circle cx="557.4" cy="540.5"/>
<circle cx="569.8" cy="527.5"/>
<circle cx="570.8" cy="528"/>
<circle cx="575.1" cy="519.4"/>
<circle cx="524.8" cy="570.4"/>
<circle cx="593.2" cy="514.9"/>
<circle cx="544.3" cy="552.7"/>
<circle cx="534" cy="563.2"/>
<circle cx="501.9" cy="586.2"/>
<circle cx="540.6" cy="556.9"/>
<circle cx="568.9" cy="528.5"/>
<circle cx="576.1" cy="514.4"/>
<circle cx="553.1" cy="545.3"/>
<circle cx="579.5" cy="509.7"/>
<circle cx="547.4" cy="549.7"/>
<circle cx="511.3" cy="578.2"/>
<circle cx="521.5" cy="571.8"/>
<circle cx="507.3" cy="582.5"/>
<circle cx="504.3" cy="590.8"/>
<circle cx="603" cy="513.5"/>
<circle cx="542.5" cy="554.7"/>
<circle cx="556" cy="542.1"/>
<circle cx="516.3" cy="574.3"/>
<circle cx="567.6" cy="523.7"/>
<circle cx="579.9" cy="514.7"/>
<circle cx="580.8" cy="518.1"/>
<circle cx="549.4" cy="548.4"/>
<circle cx="544.3" cy="553"/>
<circle cx="551.2" cy="546.8"/>
<circle cx="541.8" cy="555.4"/>
<circle cx="598.7" cy="509.2"/>
<circle cx="598.5" cy="510.6"/>
<circle cx="570.9" cy="527.9"/>
<circle cx="543.1" cy="554.3"/>
<circle cx="514.7" cy="579.1"/>
<circle cx="543.4" cy="554"/>
<circle cx="543" cy="553.3"/>
<circle cx="539.6" cy="558.1"/>
<circle cx="548.2" cy="549.2"/>
<circle cx="547.2" cy="551.2"/>
<circle cx="526.2" cy="571"/>
<circle cx="532" cy="563.3"/>
<circle cx="573.9" cy="526.2"/>
<circle cx="545.3" cy="551.9"/>
<circle cx="514.8" cy="578.4"/>
<circle cx="539.9" cy="556.3"/>
<circle cx="553" cy="543.7"/>
<circle cx="507.8" cy="583.2"/>
<circle cx="542" cy="555.1"/>
<circle cx="561.5" cy="536.6"/>
<circle cx="506.9" cy="587.1"/>
<circle cx="567.7" cy="528.3"/>
<circle cx="536.9" cy="558.7"/>
<circle cx="543.1" cy="554.4"/>
<circle cx="602.5" cy="515.4"/>
<circle cx="539.3" cy="557.2"/>
<circle cx="556.2" cy="541.5"/>
<circle cx="577" cy="516.8"/>
<circle cx="522.8" cy="566.1"/>
<circle cx="536.4" cy="557.7"/>
<circle cx="548.1" cy="550"/>
<circle cx="585.9" cy="508.7"/>
<circle cx="532.2" cy="565.4"/>
<circle cx="590.4" cy="512.6"/>
<circle cx="530.5" cy="564.7"/>
<circle cx="553.5" cy="545.2"/>
<circle cx="502" cy="586.1"/>
<circle cx="546.5" cy="551.9"/>
<circle cx="524.3" cy="570.3"/>
<circle cx="553.4" cy="546.1"/>
<circle cx="529.4" cy="561.8"/>
<circle cx="539.3" cy="558.4"/>
<circle cx="502.9" cy="585.8"/>
<circle cx="508.9" cy="575"/>
<circle cx="625" cy="481.8"/>
<circle cx="528.6" cy="565.3"/>
<circle cx="536.9" cy="559.4"/>
<circle cx="549.5" cy="547.7"/>
<circle cx="506.4" cy="585.3"/>
<circle cx="562.7" cy="537.3"/>
<circle cx="576.3" cy="520.6"/>
<circle cx="543.6" cy="553.6"/>
<circle cx="535.3" cy="562.5"/>
<circle cx="512.2" cy="577"/>
<circle cx="592.8" cy="513.1"/>
<circle cx="545.8" cy="551.5"/>
<circle cx="546.7" cy="551.6"/>
<circle cx="522.9" cy="566.5"/>
<circle cx="531.9" cy="563.2"/>
<circle cx="581.8" cy="519.9"/>
<circle cx="513.8" cy="582.2"/>
<circle cx="522.6" cy="570.3"/>
<circle cx="615.7" cy="508.4"/>
<circle cx="526.7" cy="566.5"/>
<circle cx="558.5" cy="539.7"/>
<circle cx="593.6" cy="515.9"/>
<circle cx="546.5" cy="551.1"/>
<circle cx="500.5" cy="588.7"/>
<circle cx="564" cy="534.3"/>
<circle cx="532.7" cy="559.4"/>
<circle cx="548.6" cy="548.9"/>
<circle cx="527.3" cy="565.3"/>
<circle cx="580.4" cy="512"/>
<circle cx="554" cy="542.9"/>
<circle cx="547.4" cy="550.5"/>
<circle cx="542.1" cy="554.6"/>
<circle cx="598.1" cy="511.3"/>
<circle cx="542.4" cy="554.9"/>
<circle cx="537.6" cy="557"/>
<circle cx="534.1" cy="561.5"/>
<circle cx="574.2" cy="526.2"/>
<circle cx="562.3" cy="537.6"/>
<circle cx="533.2" cy="560.9"/>
<circle cx="602.2" cy="515.3"/>
<circle cx="505.6" cy="580.8"/>
<circle cx="520.5" cy="572.3"/>
<circle cx="602" cy="511.4"/>
<circle cx="550" cy="548.1"/>
<circle cx="555.4" cy="544.4"/>
<circle cx="550.2" cy="547"/>
<circle cx="510" cy="577.5"/>
<circle cx="551" cy="545.3"/>
<circle cx="600.3" cy="508.3"/>
<circle cx="536.5" cy="559.4"/>
<circle cx="581.3" cy="511.2"/>
<circle cx="576" cy="516.5"/>
<circle cx="576" cy="514.9"/>
<circle cx="585.9" cy="511.7"/>
<circle cx="577.1" cy="523.7"/>
<circle cx="568.5" cy="525"/>
<circle cx="552.1" cy="547"/>
<circle cx="543.3" cy="553.7"/>
<circle cx="576.6" cy="522.5"/>
<circle cx="550.8" cy="548.1"/>
<circle cx="576" cy="523.1"/>
<circle cx="551.9" cy="545.9"/>
<circle cx="537.5" cy="558.8"/>
<circle cx="523.8" cy="569.9"/>
<circle cx="534.3" cy="561.2"/>
<circle cx="595.1" cy="514.3"/>
<circle cx="508.7" cy="577.5"/>
<circle cx="503" cy="584.7"/>
<circle cx="506.5" cy="585.2"/>
<circle cx="561.1" cy="538.9"/>
<circle cx="535" cy="559.8"/>
<circle cx="584.2" cy="511.3"/>
<circle cx="535.2" cy="561.6"/>
<circle cx="536.3" cy="558"/>
<circle cx="553.2" cy="544.7"/>
<circle cx="558.6" cy="538.1"/>
<circle cx="508" cy="579.6"/>
<circle cx="583.1" cy="508.1"/>
<circle cx="519.5" cy="570.6"/>
<circle cx="553.6" cy="545"/>
<circle cx="597" cy="510.5"/>
<circle cx="593.7" cy="510.4"/>
<circle cx="577.1" cy="516.3"/>
<circle cx="555.4" cy="543"/>
<circle cx="557.8" cy="540.5"/>
<circle cx="598.4" cy="514.4"/>
<circle cx="578.8" cy="519.5"/>
<circle cx="529.1" cy="566.4"/>
<circle cx="543.4" cy="553.8"/>
<circle cx="543.6" cy="553.7"/>
<circle cx="520.6" cy="571"/>
<circle cx="545.6" cy="551.8"/>
<circle cx="545.2" cy="552.2"/>
<circle cx="564.1" cy="534.5"/>
<circle cx="565.6" cy="529.5"/>
<circle cx="546.2" cy="552"/>
<circle cx="530.4" cy="565"/>
<circle cx="598.3" cy="509.5"/>
<circle cx="530.4" cy="563.9"/>
<circle cx="588.6" cy="516.4"/>
<circle cx="561.8" cy="535.3"/>
<circle cx="537.5" cy="557.2"/>
<circle cx="604.2" cy="514.3"/>
<circle cx="553.6" cy="544.3"/>
<circle cx="524.4" cy="572"/>
<circle cx="502.2" cy="591.6"/>
<circle cx="518.4" cy="569.2"/>
<circle cx="581.1" cy="517.2"/>
<circle cx="501.4" cy="587.1"/>
<circle cx="519" cy="575.9"/>
<circle cx="537" cy="559.2"/>
<circle cx="576.7" cy="516.3"/>
<circle cx="599" cy="511.7"/>
<circle cx="553.8" cy="543.9"/>
<circle cx="582.4" cy="514.2"/>
<circle cx="517.2" cy="581.4"/>
<circle cx="544.7" cy="553.7"/>
<circle cx="595.6" cy="511.8"/>
<circle cx="564.9" cy="534.5"/>
<circle cx="554.7" cy="542.3"/>
<circle cx="512.4" cy="580.9"/>
<circle cx="535" cy="559.3"/>
<circle cx="547.8" cy="549.6"/>
<circle cx="540.4" cy="556.8"/>
<circle cx="577.5" cy="513"/>
<circle cx="521.3" cy="572"/>
<circle cx="600.4" cy="513"/>
<circle cx="531.1" cy="566.4"/>
<circle cx="579" cy="518.7"/>
<circle cx="548.9" cy="550.3"/>
<circle cx="548.6" cy="549.5"/>
<circle cx="535.6" cy="559.3"/>
<circle cx="591.8" cy="519.1"/>
<circle cx="563.6" cy="536"/>
<circle cx="530.7" cy="565.7"/>
<circle cx="575.4" cy="517.2"/>
<circle cx="523.9" cy="570.4"/>
<circle cx="551.6" cy="546.5"/>
<circle cx="525.6" cy="567.5"/>
<circle cx="506.1" cy="585.5"/>
<circle cx="523.1" cy="568.4"/>
<circle cx="515.9" cy="571.2"/>
<circle cx="507.7" cy="580.4"/>
<circle cx="573.7" cy="515"/>
<circle cx="584.4" cy="515.1"/>
<circle cx="506.4" cy="579.3"/>
<circle cx="547.6" cy="549.9"/>
<circle cx="540.2" cy="556"/>
<circle cx="544.1" cy="553.2"/>
<circle cx="582.7" cy="510.1"/>
<circle cx="551.3" cy="547.8"/>
<circle cx="521.9" cy="569.6"/>
<circle cx="596.8" cy="513.7"/>
<circle cx="542.8" cy="553.8"/>
<circle cx="517.3" cy="570.8"/>
<circle cx="594.2" cy="513.6"/>
<circle cx="602.6" cy="513.2"/>
<circle cx="547.9" cy="549.7"/>
<circle cx="523.5" cy="574.5"/>
<circle cx="608.1" cy="512.6"/>
<circle cx="514.2" cy="576.3"/>
<circle cx="577.4" cy="516.3"/>
<circle cx="560.5" cy="538.1"/>
<circle cx="547.1" cy="550.6"/>
<circle cx="544.8" cy="552"/>
<circle cx="537.7" cy="559.3"/>
<circle cx="556.8" cy="542.3"/>
<circle cx="515.6" cy="576.6"/>
<circle cx="515.8" cy="572.2"/>
<circle cx="501.7" cy="585.7"/>
<circle cx="548.1" cy="550.3"/>
<circle cx="603.6" cy="516.1"/>
<circle cx="584.1" cy="514.3"/>
<circle cx="521.1" cy="576.2"/>
<circle cx="522" cy="575.7"/>
<circle cx="548.6" cy="548.9"/>
<circle cx="534.3" cy="561.3"/>
<circle cx="532.9" cy="563.2"/>
<circle cx="577.1" cy="521.7"/>
<circle cx="600" cy="510.7"/>
<circle cx="539.1" cy="556.3"/>
<circle cx="539.6" cy="556.4"/>
<circle cx="503.3" cy="587.7"/>
<circle cx="604.4" cy="510.6"/>
<circle cx="557.9" cy="540.3"/>
<circle cx="535.5" cy="558.7"/>
<circle cx="530.1" cy="564.6"/>
<circle cx="560.3" cy="539.1"/>
<circle cx="591.5" cy="519.1"/>
<circle cx="534.4" cy="559.7"/>
<circle cx="570.6" cy="522.4"/>
<circle cx="541.5" cy="555.7"/>
<circle cx="533.6" cy="561.8"/>
<circle cx="586.1" cy="513"/>
<circle cx="532.6" cy="561.1"/>
<circle cx="531.5" cy="562.9"/>
<circle cx="530.9" cy="566.8"/>
<circle cx="538.2" cy="557"/>
<circle cx="525.3" cy="567.1"/>
<circle cx="516.8" cy="571.9"/>
<circle cx="581.6" cy="520.4"/>
<circle cx="504.2" cy="580.7"/>
<circle cx="544.3" cy="552.4"/>
<circle cx="529.9" cy="564"/>
<circle cx="501.3" cy="587.9"/>
<circle cx="598.8" cy="510.4"/>
<circle cx="501.3" cy="589.1"/>
<circle cx="591.1" cy="516.6"/>
<circle cx="548" cy="550.2"/>
<circle cx="546.9" cy="550.6"/>
<circle cx="592.4" cy="516.8"/>
<circle cx="604.2" cy="516.6"/>
<circle cx="558" cy="540.2"/>
<circle cx="586.3" cy="517.8"/>
<circle cx="536.8" cy="560.2"/>
<circle cx="533.3" cy="562.8"/>
<circle cx="579" cy="516.8"/>
<circle cx="512.9" cy="582.1"/>
<circle cx="539.1" cy="555.7"/>
<circle cx="515.7" cy="579.4"/>
<circle cx="574.7" cy="516.7"/>
<circle cx="535.3" cy="561.7"/>
<circle cx="584.1" cy="515.5"/>
<circle cx="538.8" cy="557"/>
<circle cx="567.6" cy="526.3"/>
<circle cx="578" cy="520.7"/>
<circle cx="572.1" cy="523.8"/>
<circle cx="521.7" cy="575.9"/>
<circle cx="580.1" cy="514.3"/>
<circle cx="558.8" cy="540.2"/>
<circle cx="501.2" cy="588.1"/>
<circle cx="534.6" cy="559.2"/>
<circle cx="536.2" cy="559.6"/>
<circle cx="530.4" cy="564.6"/>
<circle cx="592.9" cy="515.8"/>
<circle cx="513.9" cy="582.4"/>
<circle cx="538.1" cy="557.6"/>
<circle cx="584.2" cy="511.4"/>
<circle cx="539.8" cy="556.4"/>
<circle cx="549.1" cy="548.6"/>
<circle cx="595.4" cy="516.4"/>
<circle cx="525.1" cy="571.2"/>
<circle cx="500.3" cy="589.5"/>
<circle cx="582.5" cy="516.5"/>
<circle cx="615.2" cy="514.1"/>
<circle cx="552.9" cy="544.2"/>
<circle cx="586.1" cy="514.3"/>
<circle cx="549.9" cy="548.4"/>
<circle cx="532.3" cy="562.7"/>
<circle cx="542" cy="555.2"/>
<circle cx="524.1" cy="573.1"/>
<circle cx="513.2" cy="576.5"/>
<circle cx="541.6" cy="555.2"/>
<circle cx="531.7" cy="564.9"/>
<circle cx="512.1" cy="586.6"/>
<circle cx="538" cy="557.3"/>
<circle cx="588.4" cy="521.4"/>
<circle cx="502.7" cy="592.7"/>
<circle cx="581.6" cy="515.4"/>
<circle cx="547" cy="549.8"/>
<circle cx="595.8" cy="514.7"/>
<circle cx="597.1" cy="512.3"/>
<circle cx="532" cy="564.5"/>
<circle cx="526" cy="572"/>
<circle cx="551.8" cy="545.9"/>
<circle cx="560.8" cy="540.6"/>
<circle cx="550" cy="548.8"/>
<circle cx="586.5" cy="512.1"/>
<circle cx="510.4" cy="581.7"/>
<circle cx="509.2" cy="576.7"/>
<circle cx="553.3" cy="543"/>
<circle cx="576.8" cy="515.2"/>
<circle cx="502.8" cy="585.7"/>
<circle cx="524.7" cy="568.9"/>
<circle cx="559" cy="539.2"/>
<circle cx="570.1" cy="518"/>
<circle cx="542.7" cy="554.5"/>
<circle cx="540.8" cy="554.7"/>
<circle cx="571.1" cy="515.4"/>
<circle cx="546.1" cy="552"/>
<circle cx="566.9" cy="529.3"/>
<circle cx="549.7" cy="547.5"/>
<circle cx="549.7" cy="549"/>
<circle cx="547.8" cy="550.2"/>
<circle cx="591.5" cy="509.9"/>
<circle cx="544.5" cy="552.5"/>
<circle cx="561.9" cy="535.3"/>
<circle cx="537.5" cy="558.5"/>
<circle cx="524.4" cy="569.4"/>
<circle cx="521.9" cy="568.9"/>
<circle cx="549" cy="547.9"/>
<circle cx="513.6" cy="576.7"/>
<circle cx="561" cy="538.5"/>
<circle cx="559.1" cy="539.1"/>
<circle cx="554.3" cy="543"/>
<circle cx="587.6" cy="511.4"/>
<circle cx="500.5" cy="586.3"/>
<circle cx="536.8" cy="559"/>
<circle cx="515.4" cy="579.9"/>
<circle cx="548.7" cy="548.2"/>
<circle cx="551.8" cy="545.8"/>
<circle cx="559.7" cy="539.9"/>
<circle cx="540.2" cy="557"/>
<circle cx="542.6" cy="554.8"/>
<circle cx="540.4" cy="556.9"/>
<circle cx="524.9" cy="570.2"/>
<circle cx="590.3" cy="512.5"/>
<circle cx="504" cy="587.9"/>
<circle cx="540.9" cy="556.7"/>
<circle cx="540.7" cy="557"/>
<circle cx="592.8" cy="507.7"/>
<circle cx="605.2" cy="513.3"/>
<circle cx="544" cy="553.6"/>
</g>
<path d="M528.7 565.8L549.9 548.6" stroke="#04102a" stroke-opacity=".55" stroke-width="2.6" stroke-linecap="round"/>
<path d="M401.1 669.3L684.5 439.4" stroke="#000" stroke-opacity="0.48" stroke-width="1.6" stroke-dasharray="4.8 2.1" fill="none"/>
<path d="M464.1 669.3v-4M464.1 439.4v4M401.1 618.2h4M684.5 618.2h-4M542.8 669.3v-4M542.8 439.4v4M401.1 554.3h4M684.5 554.3h-4M621.5 669.3v-4M621.5 439.4v4M401.1 490.5h4M684.5 490.5h-4" stroke="#444" stroke-width=".6"/>
<rect x="401.1" y="439.4" width="283.4" height="229.9" fill="none" stroke="#111" stroke-width="1.3"/>
<g class="u">
<text x="463.7" y="682.4" text-anchor="middle"><tspan textLength="12.1" lengthAdjust="spacingAndGlyphs">−</tspan>5</text>
<text x="398.9" y="624.5" text-anchor="end"><tspan textLength="12.1" lengthAdjust="spacingAndGlyphs">−</tspan>5</text>
<text x="542.8" y="682.4" text-anchor="middle">0</text>
<text x="398.9" y="560.6" text-anchor="end">0</text>
<text x="621.5" y="682.4" text-anchor="middle">5</text>
<text x="398.9" y="496.8" text-anchor="end">5</text>
</g>
<g class="v">
<text x="478.6" y="698.9" textLength="127.8">Ground truth (<tspan class="i">k</tspan><tspan dy="3" font-size="11.4" class="i">B</tspan><tspan dy="-3" class="i">T</tspan>)</text>
<text transform="translate(374.8 556) rotate(-90)" x="-52" textLength="103.4">Prediction (<tspan class="i">k</tspan><tspan dy="3" font-size="11.4" class="i">B</tspan><tspan dy="-3" class="i">T</tspan>)</text>
<text y="649.3"><tspan x="529.4" textLength="45.6">RMSE</tspan><tspan x="581.7" textLength="10.6" lengthAdjust="spacingAndGlyphs">=</tspan><tspan x="598.2" textLength="42.9">0.0417</tspan><tspan x="642.3" class="i">k</tspan><tspan x="651" dy="3" font-size="11.6" class="i">B</tspan><tspan x="661" dy="-3" class="i" font-size="17">T</tspan></text>
</g>
<g class="s">
<text x="16.2" y="9.6">(a)</text>
<text x="349.5" y="9.6">(b)</text>
<text x="27.9" y="384.5">(c)</text>
<text x="354.5" y="384.5">(d)</text>
</g>
</svg>
</body></html>
